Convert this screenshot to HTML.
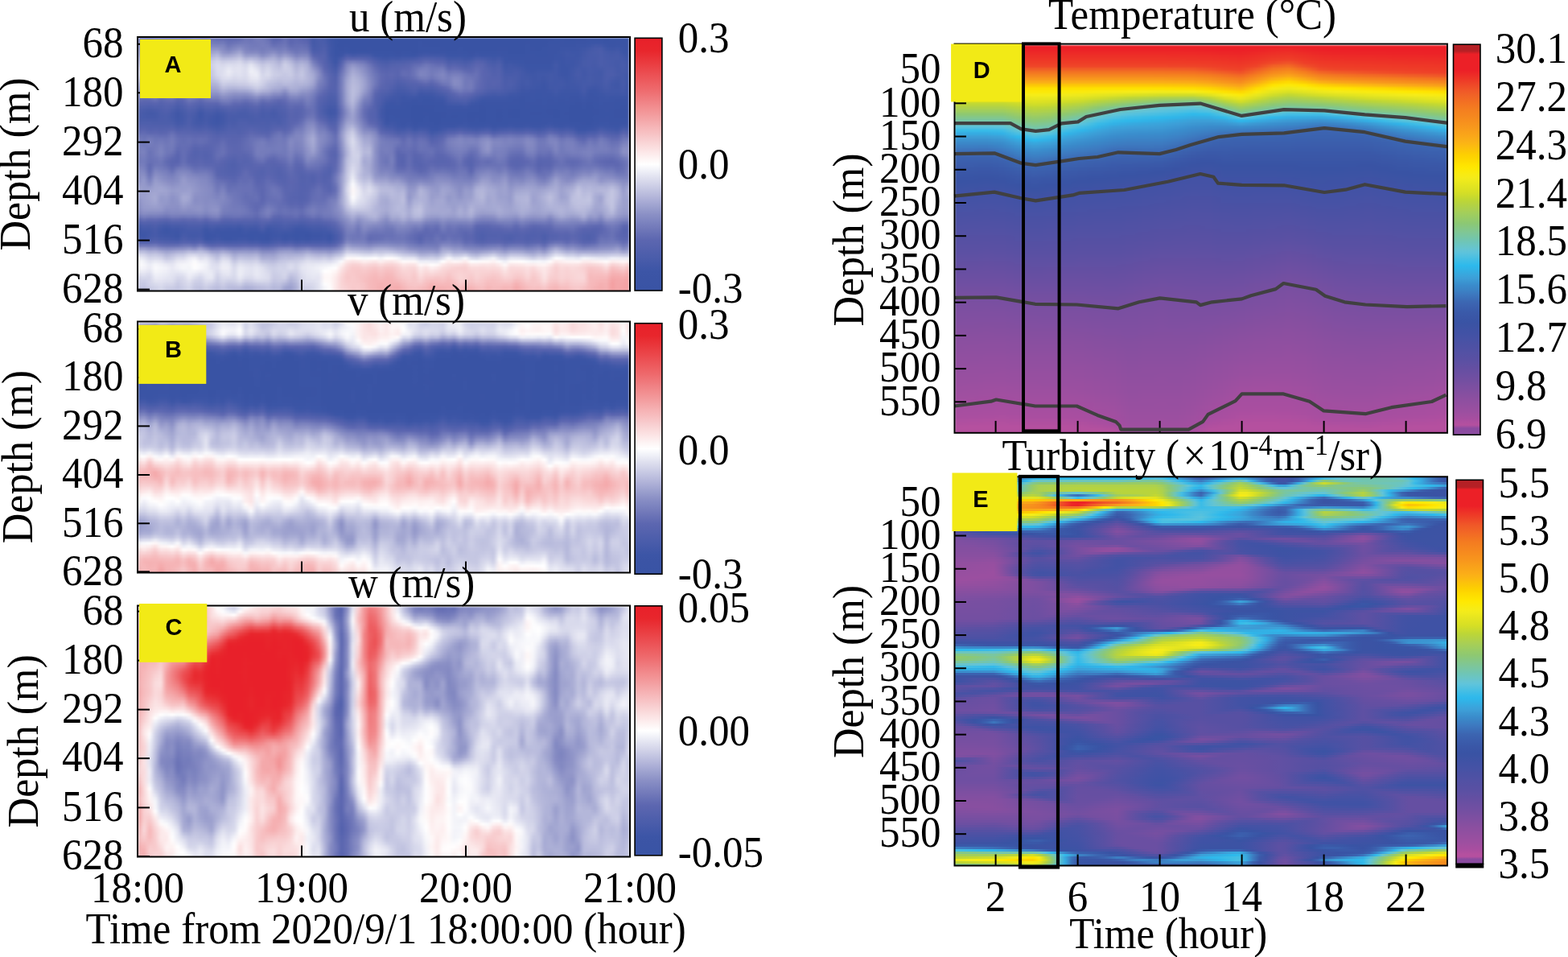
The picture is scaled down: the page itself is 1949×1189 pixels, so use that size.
<!DOCTYPE html>
<html><head><meta charset="utf-8"><title>Figure</title>
<style>
html,body{margin:0;padding:0;background:#fff}
body{width:1949px;height:1189px;position:relative;overflow:hidden}
.hm{position:absolute;overflow:hidden}
.hm i{display:block;width:100%}
</style></head><body>
<div class="hm" style="left:172px;top:47px;width:610px;height:313.5px"><div style="filter:blur(0.8px);"><i style="height:4px;background:linear-gradient(90deg,#6c75b7,#666fb4,#5f69b2,#656eb4,#666fb4,#636cb3,#626bb3,#636cb3,#5f68b1,#606ab2,#6b74b7,#646db4,#626bb3,#6c74b7,#676fb5,#666eb4,#616bb2,#626bb3,#656eb4,#6f77b8,#6c74b7,#757cbb,#737bbb,#6a72b6,#5a65af,#5c66b0,#6871b6,#5b65b0,#5e68b1,#5b65b0,#5663ae,#4459a8,#4b5dab,#485caa,#3e56a7,#3a54a5,#3953a4,#3953a4,#3953a4,#3953a4,#3953a4,#3953a4,#3953a4,#3953a4,#3953a4,#3953a4,#3953a4,#3953a4,#3953a4,#3953a4,#3953a4,#3953a4,#3953a4,#3953a4,#3953a4,#3953a4,#3953a4,#3953a4,#3953a4,#3953a4,#3953a4,#3953a4,#3953a4,#3953a4,#3953a4,#3953a4,#3953a4,#3953a4,#3953a4,#3953a4,#3953a4,#3953a4,#3953a4,#3a53a4,#3a54a5,#3a54a5,#3a53a4,#3953a4,#3a53a4,#3a53a4,#3b54a5,#3a54a5,#3a54a5,#3953a4,#3a54a5,#3a54a5,#3a54a5,#3953a4)"></i><i style="height:4px;background:linear-gradient(90deg,#7279ba,#6b74b7,#626cb3,#6a73b6,#676fb5,#626bb3,#6871b6,#656eb4,#616ab2,#646db3,#6b73b7,#6a73b6,#6770b5,#747cbb,#7078b9,#727aba,#666fb5,#6b73b7,#6f77b9,#737aba,#6f77b9,#737aba,#757cbb,#6f77b9,#5f69b1,#646db4,#6b73b7,#5c66b0,#616bb2,#5f69b2,#5b65b0,#4459a8,#4a5daa,#4a5dab,#3f57a7,#3a54a5,#3953a4,#3953a4,#3953a4,#3953a4,#3953a4,#3953a4,#3953a4,#3953a4,#3953a4,#3953a4,#3953a4,#3953a4,#3953a4,#3953a4,#3a54a5,#3953a4,#3953a4,#3953a4,#3953a4,#3953a4,#3953a4,#3953a4,#3953a4,#3953a4,#3953a4,#3953a4,#3953a4,#3953a4,#3953a4,#3953a4,#3953a4,#3953a4,#3953a4,#3a53a4,#3953a4,#3953a4,#3953a4,#3a54a5,#3a54a5,#3b54a5,#3a54a5,#3a54a5,#3b54a5,#3b54a5,#3b55a6,#3b55a6,#3b55a6,#3a54a5,#3a54a5,#3b54a5,#3a54a5,#3a54a5)"></i><i style="height:4px;background:linear-gradient(90deg,#777ebc,#7179ba,#6871b5,#7078b9,#6972b6,#646db4,#7078b9,#6a72b6,#656eb4,#6972b6,#6f77b9,#747bbb,#7279ba,#8086c1,#7e85c0,#7e85c0,#6e76b8,#777ebc,#7d84bf,#787fbd,#737bbb,#737aba,#767dbc,#747bbb,#6871b6,#6c74b7,#7078b9,#616bb2,#656eb4,#666fb5,#616bb2,#455aa9,#4a5daa,#4d5eab,#4157a7,#3a54a5,#3953a4,#3a53a4,#3953a4,#3953a4,#3953a4,#3953a4,#3953a4,#3953a4,#3953a4,#3953a4,#3953a4,#3953a4,#3953a4,#3953a4,#3a54a5,#3a53a4,#3953a4,#3953a4,#3953a4,#3953a4,#3953a4,#3953a4,#3953a4,#3953a4,#3953a4,#3953a4,#3953a4,#3953a4,#3953a4,#3953a4,#3953a4,#3953a4,#3953a4,#3a54a5,#3953a4,#3953a4,#3953a4,#3b54a5,#3b54a5,#3b54a5,#3b54a5,#3b54a5,#3c55a6,#3c55a6,#3e56a7,#4359a8,#4358a8,#3b55a6,#3b54a5,#3b55a6,#3b54a5,#3a54a5)"></i><i style="height:4px;background:linear-gradient(90deg,#7c82be,#767ebc,#7078b9,#747bbb,#6c74b7,#6972b6,#767dbc,#6f77b9,#6a72b6,#7077b9,#7a81be,#8187c1,#8389c2,#8f94c8,#9195c8,#858bc3,#7980bd,#8389c2,#8d92c7,#7d83bf,#777ebc,#787fbd,#757cbb,#7980bd,#777ebc,#727aba,#787fbd,#6b73b7,#6871b6,#6c74b7,#6770b5,#485baa,#4b5dab,#5060ac,#4158a8,#3a54a5,#3a53a4,#3a54a5,#3953a4,#3a53a4,#3953a4,#3a53a4,#3953a4,#3953a4,#3953a4,#3953a4,#3953a4,#3953a4,#3953a4,#3953a4,#3a54a5,#3a54a5,#3a54a5,#3a54a5,#3a53a4,#3953a4,#3953a4,#3a54a5,#3953a4,#3953a4,#3953a4,#3953a4,#3953a4,#3953a4,#3a53a4,#3a53a4,#3953a4,#3953a4,#3953a4,#3a54a5,#3a53a4,#3953a4,#3a54a5,#3b54a5,#3b54a5,#3c55a6,#3d55a6,#3c55a6,#3d55a6,#3f57a7,#4459a8,#485baa,#4a5caa,#4057a7,#3d56a6,#4057a7,#3b55a6,#3b54a5)"></i><i style="height:4px;background:linear-gradient(90deg,#8187c1,#7d84bf,#7b82be,#7b82be,#737aba,#737aba,#7e84c0,#777ebc,#7279ba,#787fbd,#888dc4,#9398ca,#989ccc,#9ea2cf,#a5a9d3,#9094c8,#888dc4,#9499ca,#a1a5d0,#868bc3,#8388c2,#848ac2,#7a80bd,#8288c1,#888dc4,#7c83bf,#858ac3,#7a80bd,#6f77b9,#757cbb,#7279ba,#4f5fac,#4f5fac,#5361ad,#4158a8,#3a54a5,#3b54a5,#3c55a6,#3a54a5,#3b54a5,#3b54a5,#3b54a5,#3a54a5,#3a54a5,#3a54a5,#3a54a5,#3a53a4,#3a54a5,#3a54a5,#3953a4,#3b54a5,#3b55a6,#3b54a5,#3b54a5,#3b54a5,#3a54a5,#3a54a5,#3b54a5,#3a54a5,#3a53a4,#3b54a5,#3a54a5,#3a54a5,#3a54a5,#3b54a5,#3a54a5,#3953a4,#3953a4,#3953a4,#3a54a5,#3a54a5,#3a54a5,#3a54a5,#3b54a5,#3b54a5,#3d56a6,#4057a7,#3e56a7,#3e56a7,#4258a8,#475ba9,#495caa,#4c5dab,#455aa9,#4359a8,#455aa9,#3c55a6,#3b55a6)"></i><i style="height:4px;background:linear-gradient(90deg,#8a8fc5,#878cc4,#898ec5,#888ec4,#7d83bf,#7e85c0,#878cc4,#8288c2,#7c82be,#8489c2,#9a9ecd,#a8abd4,#adb0d6,#adb0d7,#b8bbdc,#a0a4d0,#a0a4d0,#a9acd4,#b4b7da,#979bcb,#989dcc,#989dcc,#868cc3,#9196c9,#9da1cf,#8a8fc5,#999dcc,#8c91c6,#7c82bf,#8288c1,#7f86c0,#5964af,#5462ae,#5663ae,#4258a8,#3b54a5,#3d55a6,#4b5dab,#4459a9,#475baa,#475ba9,#455aa9,#3c55a6,#3b55a6,#3b54a5,#3b55a6,#3b54a5,#3c55a6,#3b55a6,#3b55a6,#4157a7,#4459a9,#4258a8,#4158a8,#4157a7,#3c55a6,#3b55a6,#3c55a6,#3b55a6,#3b54a5,#3e56a7,#3c55a6,#3c55a6,#3b55a6,#3c55a6,#3b54a5,#3a54a5,#3a54a5,#3a54a5,#3b54a5,#3b54a5,#3a54a5,#3a54a5,#3b54a5,#3b55a6,#3d55a6,#4057a7,#3f57a7,#3e56a7,#4459a8,#485baa,#485caa,#4b5dab,#475baa,#465aa9,#485baa,#4057a7,#3c55a6)"></i><i style="height:4px;background:linear-gradient(90deg,#979ccc,#9498ca,#9ba0ce,#a2a6d1,#898ec4,#8a8fc5,#9296c9,#8f94c8,#868bc3,#9296c9,#a9acd4,#b9bbdc,#bcbede,#bdc0df,#c8cae4,#b7badc,#b9bcdd,#bec0df,#c7c9e3,#b0b3d8,#b6b9db,#afb2d8,#9ea2cf,#a9acd4,#adb1d7,#9da1ce,#b0b3d8,#a3a7d1,#8e92c7,#969acb,#9094c8,#6770b5,#5a65af,#5663ae,#455aa9,#3b55a6,#485baa,#5b65b0,#5a65af,#5a65af,#5763af,#5261ad,#485baa,#4258a8,#4057a7,#4359a8,#4258a8,#455aa9,#465aa9,#485baa,#4e5eac,#5261ad,#5060ac,#4e5eac,#4d5eab,#4359a8,#4359a8,#4459a8,#4057a7,#4158a8,#4a5daa,#485baa,#4459a8,#4057a7,#4459a8,#3b55a6,#3b54a5,#3b54a5,#3b54a5,#3b54a5,#3b54a5,#3b54a5,#3b54a5,#3b54a5,#3c55a6,#3c55a6,#3f56a7,#3f56a7,#3f57a7,#455aa9,#485baa,#485baa,#4c5dab,#485baa,#475ba9,#475ba9,#4459a9,#3e56a7)"></i><i style="height:4px;background:linear-gradient(90deg,#a4a7d2,#a1a4d0,#adb0d6,#bcbfde,#979bcb,#989ccc,#9ca0ce,#9da1cf,#9195c8,#a0a4d0,#b6b8db,#c7c9e4,#c8cae4,#cacce5,#d5d6ea,#cbcde5,#cfd1e7,#d0d2e8,#d7d8eb,#c6c8e3,#d2d3e9,#c4c6e2,#b5b8db,#bec0df,#bbbddd,#adb0d6,#c4c6e2,#b6b9db,#a0a4d0,#a9acd5,#a0a4d0,#777ebc,#626bb3,#5763ae,#495caa,#3c55a6,#5261ad,#7279ba,#7980bd,#747bbb,#6d75b8,#5f69b1,#5361ad,#4b5dab,#485caa,#4d5eab,#4e5fac,#4f5fac,#5261ad,#5663ae,#5964af,#616bb2,#5c66b0,#5964af,#5864af,#4c5dab,#4e5fac,#4c5eab,#485baa,#4c5eab,#5562ae,#5361ad,#4b5dab,#465ba9,#4b5dab,#3d55a6,#3d56a6,#3c55a6,#3b55a6,#3b54a5,#3b54a5,#3b54a5,#3b54a5,#3b54a5,#4057a7,#3c55a6,#3e56a7,#3e56a7,#4157a7,#475ba9,#485baa,#475ba9,#4c5dab,#495caa,#475baa,#465aa9,#475baa,#4157a7)"></i><i style="height:4px;background:linear-gradient(90deg,#aeb2d7,#abafd6,#babddd,#cfd1e8,#a4a7d2,#a2a6d1,#a4a7d2,#a8abd4,#9a9fcd,#acafd6,#c0c3e0,#d2d3e9,#cecfe7,#ced0e7,#dadbed,#d7d8eb,#dddfef,#dbdced,#dfe0ef,#d4d6ea,#e5e6f2,#d4d5ea,#c4c6e2,#cdcfe6,#c3c5e2,#b8badc,#ced0e7,#c2c4e1,#acb0d6,#b6b9db,#abaed6,#848ac2,#6c74b7,#5964af,#4d5eab,#4157a7,#5a65b0,#8187c1,#9195c8,#878cc4,#7e84bf,#6d75b8,#5b66b0,#5261ad,#4f5fac,#5462ad,#5563ae,#5763ae,#5a65af,#626cb3,#666fb5,#7078b9,#6972b6,#646db4,#656eb4,#5462ae,#5864af,#5462ae,#4f5fac,#5462ae,#5c66b0,#5a65af,#505fac,#4b5dab,#5060ac,#3f57a7,#4258a8,#3f57a7,#3d56a6,#3b55a6,#3b55a6,#3b55a6,#3b55a6,#3b55a6,#4359a8,#3c55a6,#3d56a6,#3e56a7,#4258a8,#475ba9,#485baa,#465aa9,#4b5dab,#495caa,#485baa,#455aa9,#495caa,#4258a8)"></i><i style="height:4px;background:linear-gradient(90deg,#b9bbdc,#b4b7da,#c1c4e1,#d8d9ec,#b0b3d8,#a8abd4,#a9acd4,#afb2d8,#a3a7d2,#b5b7da,#cbcde5,#d9daec,#cdcfe7,#cbcde5,#dbdced,#dbddee,#e6e7f3,#dfe0ef,#e2e3f1,#d9dbed,#ecedf6,#e0e1f0,#cbcde5,#d4d6ea,#c8cae4,#c0c2e0,#cecfe7,#c8cae4,#b3b5d9,#bec0df,#b0b3d8,#9296c9,#797fbd,#5c66b0,#5060ac,#455aa9,#626bb3,#898ec4,#9ea2cf,#9398ca,#878cc4,#757cbb,#636cb3,#5764af,#5462ae,#5864af,#5864af,#5c66b0,#5e67b1,#6972b6,#737bbb,#787fbd,#6f77b9,#6f77b8,#727aba,#5d67b0,#626bb3,#5e68b1,#5763ae,#5965af,#616bb3,#5b66b0,#5462ad,#4f5fac,#5261ad,#4258a8,#4459a8,#4459a8,#4157a7,#3c55a6,#3c55a6,#3c55a6,#3c55a6,#3c55a6,#4258a8,#3c55a6,#3c55a6,#4057a7,#455aa9,#4459a9,#475baa,#455aa9,#475ba9,#4a5caa,#4a5caa,#455aa9,#485baa,#4258a8)"></i><i style="height:4px;background:linear-gradient(90deg,#c1c3e0,#bbbede,#c6c8e3,#dddeee,#babddd,#acb0d6,#adb0d6,#b4b7da,#aaadd5,#bcbede,#d3d5ea,#dddeee,#cbcde5,#c6c8e3,#d9daec,#dddeee,#ebecf5,#e0e1f0,#e2e3f1,#dbdced,#eff0f7,#e9eaf4,#d0d1e8,#d9dbed,#cbcde5,#c6c8e3,#cacce5,#cacce5,#b7badb,#c3c5e1,#b2b5d9,#9ea2cf,#8489c2,#626bb3,#5462ad,#4a5caa,#6972b6,#8e93c7,#a7aad3,#9ca0ce,#8d92c6,#7a81be,#6972b6,#5c66b0,#5964af,#5b66b0,#5964af,#636cb3,#616ab2,#6d75b8,#7d83bf,#7c82bf,#727aba,#767dbc,#7c83bf,#6a72b6,#6e76b8,#6c74b7,#616bb2,#5f68b1,#666fb4,#5b65b0,#5663ae,#5160ad,#5462ad,#455aa9,#455aa9,#485baa,#4359a8,#3e56a7,#3d55a6,#3f57a7,#3f57a7,#4057a7,#4258a8,#3c55a6,#3c55a6,#4158a8,#475ba9,#4258a8,#475ba9,#4459a9,#4359a8,#4b5dab,#4b5dab,#465aa9,#475ba9,#4258a8)"></i><i style="height:4px;background:linear-gradient(90deg,#c3c5e1,#bbbddd,#c5c7e2,#dbdced,#bcbfde,#aeb1d7,#afb2d8,#b4b7da,#adb0d7,#bec1df,#d5d6ea,#d9dbed,#c9cae4,#c5c7e2,#d6d8eb,#dedfef,#e8e8f3,#dcdeee,#e0e1f0,#dadbed,#ebebf5,#ecedf6,#d4d6ea,#dbdced,#cccee6,#c9cbe4,#c5c7e3,#cacce5,#bbbddd,#c5c7e3,#b3b6da,#a6a9d3,#898ec5,#6971b6,#5864af,#4e5fac,#7078b9,#9499ca,#aeb1d7,#a4a7d2,#9398ca,#7f85c0,#6d76b8,#606ab2,#5b66b0,#5e68b1,#5864af,#646db4,#626bb3,#6d75b8,#7e85c0,#7c83bf,#737aba,#7b81be,#8187c1,#737bbb,#7a80bd,#787fbd,#6d75b8,#6770b5,#6971b6,#5b65b0,#5864af,#5361ad,#5462ae,#485baa,#485baa,#4a5caa,#4459a9,#4158a7,#3f57a7,#4158a8,#4158a8,#4359a8,#4258a8,#3d55a6,#3c55a6,#4258a8,#485baa,#4258a8,#465aa9,#4459a8,#4359a8,#4c5dab,#4c5dab,#475ba9,#455aa9,#4057a7)"></i><i style="height:4px;background:linear-gradient(90deg,#bbbddd,#aeb1d7,#bec0df,#d2d4e9,#b2b5d9,#a8acd4,#adb0d6,#acafd6,#a9add5,#b7badb,#cbcde6,#d1d3e8,#c3c5e1,#c0c2e0,#cdcfe6,#dbdced,#dee0ef,#d7d8eb,#dbdced,#d7d9eb,#e6e6f2,#e8e9f4,#d6d7eb,#d3d5e9,#c8cae4,#c3c5e1,#c3c5e2,#c5c7e2,#babcdd,#c1c3e1,#b5b7da,#a7abd4,#868cc3,#6d75b8,#5965af,#5260ad,#747bbb,#9ca0ce,#b3b6d9,#aaaed5,#9a9ecd,#8389c2,#7078b9,#616ab2,#5b65b0,#5c66b0,#5663ae,#5c66b0,#5f69b1,#6770b5,#747cbb,#777ebc,#6d75b8,#777ebc,#7f85c0,#777ebc,#8389c2,#8086c0,#7178b9,#6e76b8,#6870b5,#5b66b0,#5763ae,#5562ae,#5562ae,#4a5caa,#4b5dab,#4a5daa,#4459a9,#4359a8,#4057a7,#4158a8,#4057a7,#4459a8,#4258a8,#4057a7,#3d56a6,#4158a8,#465aa9,#4359a8,#475ba9,#4459a8,#4459a8,#4c5dab,#485caa,#4459a8,#465aa9,#3f57a7)"></i><i style="height:4px;background:linear-gradient(90deg,#adb0d6,#9a9ecd,#b0b3d8,#c3c5e2,#a2a6d1,#9ca0ce,#a4a8d2,#9da1ce,#9fa3d0,#a9add5,#bcbede,#c4c6e2,#b8bbdc,#b7badb,#bfc2e0,#d4d5ea,#d2d4e9,#cfd1e8,#d3d4e9,#d2d3e9,#dddeee,#e0e1f0,#d3d4e9,#c7c9e4,#c0c3e0,#babddd,#bfc1df,#bdc0df,#b5b8db,#babcdd,#b2b5d9,#a5a8d2,#8086c0,#6e76b8,#5965af,#5361ad,#757dbc,#a1a5d1,#b6b9db,#afb2d7,#9ea2cf,#868cc3,#7179ba,#5f69b2,#5964af,#5864af,#5160ad,#5562ae,#5964af,#5c66b0,#646db4,#6b73b7,#606ab2,#6c74b7,#777ebc,#767dbc,#878cc4,#8389c2,#7179ba,#737aba,#666fb4,#5c66b0,#5663ae,#5763ae,#5663ae,#4b5dab,#4e5eab,#4a5caa,#4359a8,#455aa9,#4057a7,#4157a7,#3e56a6,#4359a8,#4158a8,#4258a8,#3e56a7,#4158a7,#4459a8,#445aa9,#465ba9,#4459a8,#4459a9,#4b5dab,#4459a9,#4158a7,#475ba9,#3d56a6)"></i><i style="height:4px;background:linear-gradient(90deg,#9da1cf,#888dc4,#a1a5d1,#b3b6da,#9296c9,#9094c8,#9a9ecd,#8d92c6,#9397c9,#9ca0ce,#acafd6,#b3b6d9,#abaed5,#adb0d6,#b2b5d9,#cacce5,#c5c7e3,#c5c7e2,#c8cae4,#c9cae4,#d2d3e9,#d7d9eb,#cdcfe7,#bdc0df,#b8bbdc,#b1b4d9,#b6b9db,#b6b8db,#b0b3d8,#b1b4d8,#abafd6,#9ea2cf,#7980bd,#6c74b7,#5964af,#5462ad,#767dbc,#a4a8d2,#b9bbdc,#b2b5d9,#a0a4d0,#888dc4,#7078b9,#5d67b0,#5763ae,#5562ae,#4d5eab,#4f5fac,#5462ad,#5562ae,#5763ae,#5c66b0,#5663ae,#5f68b1,#6c74b7,#7078b9,#858bc3,#8389c2,#7179ba,#757cbb,#646db4,#5c66b0,#5562ae,#5763ae,#5562ae,#4c5dab,#4e5fac,#495caa,#4258a8,#455aa9,#4057a7,#3f57a7,#3c55a6,#4258a8,#4158a8,#4359a8,#3f57a7,#4057a7,#4258a8,#455aa9,#455aa9,#4258a8,#4459a8,#495caa,#4158a8,#3f57a7,#475baa,#3c55a6)"></i><i style="height:4px;background:linear-gradient(90deg,#8f94c8,#8086c0,#9398ca,#a6a9d3,#868bc3,#888dc4,#9296c9,#8288c1,#878cc4,#9398ca,#9ea2cf,#9ea2cf,#9a9fcd,#a3a6d1,#a7aad3,#bdbfde,#b6b9db,#b5b8da,#b9bbdc,#b9bcdd,#c2c4e1,#cdcfe6,#c2c4e1,#b7badc,#aeb1d7,#a9add5,#a4a7d2,#afb2d7,#abafd6,#a5a9d3,#a0a4d0,#9297c9,#747bbb,#666fb5,#5763ae,#5562ae,#777ebc,#a5a8d2,#bbbddd,#b3b6d9,#9ea2cf,#868bc3,#6a72b6,#5a65af,#5663ae,#5160ad,#495caa,#4a5daa,#4f5fac,#5261ad,#4e5eab,#5160ad,#4e5fac,#5562ae,#5c66b0,#656eb4,#7a81be,#7e85c0,#7179ba,#747bbb,#626cb3,#5b65b0,#5462ad,#5462ad,#5361ad,#4c5dab,#4b5dab,#475ba9,#4157a7,#4258a8,#3f57a7,#3e56a7,#3c55a6,#4158a7,#4258a8,#4158a8,#3f56a7,#3f57a7,#4057a7,#465aa9,#4057a7,#3f56a7,#4258a8,#475ba9,#4258a8,#4057a7,#465aa9,#3c55a6)"></i><i style="height:4px;background:linear-gradient(90deg,#8389c2,#787fbd,#868bc3,#989ccc,#7b82be,#8187c1,#8a8fc5,#787fbd,#7d84bf,#8b90c5,#9095c8,#898ec4,#8a8fc5,#999dcc,#9a9ecd,#adb0d6,#a4a8d2,#a0a4d0,#a3a7d2,#a3a7d2,#abafd6,#bbbede,#b0b3d8,#abaed5,#9ea2cf,#9ca0ce,#8c91c6,#a3a7d1,#a2a6d1,#969bcb,#9397c9,#858ac3,#6c75b7,#5f69b1,#5462ae,#5462ae,#767dbc,#a4a8d2,#bcbfde,#b2b5d9,#999ecd,#8187c1,#616ab2,#5562ae,#5361ad,#4c5dab,#455aa9,#465aa9,#4a5caa,#4e5fac,#455aa9,#485baa,#475ba9,#4d5eab,#5361ad,#5964af,#6a72b6,#737bbb,#6b73b7,#6c74b7,#5b66b0,#5663ae,#4f5fac,#4d5eab,#4e5eac,#4a5caa,#475ba9,#4459a8,#3e56a6,#3e56a7,#3d55a6,#3c55a6,#3c55a6,#3e56a7,#4258a8,#3e56a7,#3d56a6,#3e56a6,#3e56a7,#455aa9,#3c55a6,#3c55a6,#4057a7,#4459a8,#4158a8,#4158a8,#4459a9,#3c55a6)"></i><i style="height:4px;background:linear-gradient(90deg,#7980bd,#7078b9,#7a81be,#888dc4,#7179ba,#7980bd,#8086c0,#6d75b8,#737bbb,#8288c1,#8389c2,#7980bd,#7e84bf,#8b90c6,#8a8fc5,#9a9fcd,#9397c9,#8c91c6,#8d92c7,#8b90c6,#9398ca,#a3a7d2,#969acb,#959acb,#888dc4,#878cc4,#7980bd,#9196c9,#9297c9,#868cc3,#878cc3,#7a81be,#646db4,#5964af,#5060ac,#5261ad,#747cbb,#a3a7d1,#bcbfde,#aeb1d7,#9095c8,#7b81be,#5a65af,#5060ac,#4d5eab,#475ba9,#4258a8,#4158a8,#4459a9,#485caa,#3e56a7,#4057a7,#4057a7,#465aa9,#4a5caa,#5261ad,#5a65af,#646db4,#6069b2,#5c66b0,#5361ad,#4e5eab,#485baa,#465aa9,#475ba9,#455aa9,#4057a7,#3f57a7,#3c55a6,#3c55a6,#3c55a6,#3b55a6,#3c55a6,#3c55a6,#3f57a7,#3c55a6,#3c55a6,#3c55a6,#3c55a6,#4258a8,#3b54a5,#3b55a6,#3d56a6,#4057a7,#4057a7,#3f57a7,#4158a8,#3c55a6)"></i><i style="height:4px;background:linear-gradient(90deg,#6d75b8,#676fb5,#6c74b7,#777ebc,#656eb4,#6d75b8,#7279ba,#5f69b2,#6770b5,#777ebd,#757cbb,#6c74b7,#737bbb,#7c83bf,#7b82be,#898ec4,#848ac2,#7c83bf,#7d84bf,#787fbd,#7f85c0,#898ec4,#7b82be,#7e84c0,#747bbb,#7178b9,#6c74b7,#7f85c0,#8086c0,#787fbd,#7f85c0,#737bbb,#5c66b0,#5462ae,#4d5eab,#4f5fac,#737bbb,#a2a6d1,#bbbede,#a6aad3,#848ac2,#757cbb,#5763ae,#4e5eac,#475baa,#4258a8,#4057a7,#3d55a6,#3f57a7,#3f57a7,#3c55a6,#3b55a6,#3c55a6,#4057a7,#4158a8,#4d5eab,#5361ad,#5764af,#5663ae,#5160ad,#495caa,#4258a8,#4057a7,#3f57a7,#4057a7,#3f57a7,#3c55a6,#3c55a6,#3b54a5,#3b55a6,#3c55a6,#3b55a6,#3c55a6,#3b55a6,#3c55a6,#3b55a6,#3c55a6,#3b54a5,#3b54a5,#3e56a7,#3b54a5,#3b54a5,#3c55a6,#3d56a6,#3c55a6,#3c55a6,#3c55a6,#3b54a5)"></i><i style="height:4px;background:linear-gradient(90deg,#626bb3,#5d67b0,#5d67b1,#666fb5,#5a65af,#616bb2,#636cb3,#5663ae,#5b65b0,#6c75b7,#666fb5,#5d67b0,#6871b5,#6c74b7,#6b74b7,#7980bd,#777ebd,#6d75b8,#6e76b8,#666fb5,#6e76b8,#757dbc,#656eb4,#6b74b7,#636cb3,#5d67b0,#626bb3,#7178b9,#7179ba,#6c74b7,#7980bd,#6e76b8,#5864af,#5160ac,#4a5daa,#4d5eab,#727aba,#a1a5d0,#b9bcdd,#9da1ce,#7980bd,#6f77b9,#5462ae,#4c5dab,#4258a8,#3f56a7,#3f57a7,#3c55a6,#3c55a6,#3b54a5,#3b55a6,#3a54a5,#3b54a5,#3c55a6,#3c55a6,#485baa,#4c5dab,#4e5fac,#4f5fac,#475ba9,#4158a8,#3b55a6,#3c55a6,#3c55a6,#3c55a6,#3c55a6,#3b55a6,#3b54a5,#3a54a5,#3b55a6,#3b55a6,#3b54a5,#3b55a6,#3b54a5,#3b55a6,#3b54a5,#3b55a6,#3b54a5,#3a54a5,#3c55a6,#3a54a5,#3b54a5,#3c55a6,#3c55a6,#3b55a6,#3b54a5,#3b54a5,#3b54a5)"></i><i style="height:4px;background:linear-gradient(90deg,#5964af,#5763ae,#5562ae,#5964af,#5462ae,#5964af,#5864af,#4f5fac,#5462ae,#616ab2,#5a65af,#5462ae,#5b66b0,#5c66b0,#5b65b0,#6871b5,#6972b6,#5f68b1,#5f69b1,#5964af,#5f69b1,#666fb4,#5864af,#5d66b0,#5864af,#5562ae,#5b65b0,#666fb5,#656eb4,#636cb3,#737bbb,#6a73b7,#5663ae,#4e5eac,#485baa,#4a5daa,#7078b9,#9ca0ce,#b4b7da,#9398ca,#7078b9,#6871b6,#5361ad,#4a5caa,#3d56a6,#3c55a6,#3e56a6,#3b54a5,#3b54a5,#3a54a5,#3b54a5,#3a54a5,#3a54a5,#3b54a5,#3b54a5,#4258a8,#4459a8,#455aa9,#485baa,#3e56a6,#3c55a6,#3a54a5,#3b54a5,#3b54a5,#3b54a5,#3b54a5,#3b54a5,#3b54a5,#3a54a5,#3b54a5,#3b54a5,#3b54a5,#3b55a6,#3b54a5,#3b54a5,#3a54a5,#3b54a5,#3a54a5,#3a53a4,#3b54a5,#3a53a4,#3a54a5,#3b55a6,#3b54a5,#3b54a5,#3a54a5,#3a54a5,#3a54a5)"></i><i style="height:4px;background:linear-gradient(90deg,#5361ad,#5060ac,#4e5eac,#5160ad,#5160ac,#5562ae,#5261ad,#495caa,#4f5fac,#5864af,#5462ad,#4c5dab,#5462ad,#5462ae,#5160ad,#5764af,#5a65af,#5763ae,#5562ae,#5261ad,#5763ae,#5a65af,#5160ad,#5562ae,#5060ac,#5160ad,#5663ae,#606ab2,#5c66b0,#5d67b1,#6c74b7,#6871b6,#5462ae,#4b5dab,#4459a8,#475ba9,#6b73b7,#9499ca,#adb0d7,#8c91c6,#6b73b7,#5f69b2,#5361ad,#465ba9,#3b55a6,#3b55a6,#3b55a6,#3b54a5,#3a54a5,#3953a4,#3953a4,#3a53a4,#3a53a4,#3a54a5,#3a54a5,#3c55a6,#3c55a6,#3c55a6,#3e56a7,#3b54a5,#3b54a5,#3a53a4,#3a54a5,#3a54a5,#3a54a5,#3b54a5,#3a54a5,#3a54a5,#3a54a5,#3b54a5,#3a54a5,#3a54a5,#3b54a5,#3a54a5,#3a54a5,#3a54a5,#3a54a5,#3953a4,#3953a4,#3a54a5,#3953a4,#3a54a5,#3b54a5,#3b54a5,#3b54a5,#3a54a5,#3a53a4,#3a54a5)"></i><i style="height:4px;background:linear-gradient(90deg,#4e5fac,#4a5caa,#475ba9,#4a5caa,#4e5eac,#5260ad,#4c5eab,#4459a9,#4a5daa,#5261ad,#4e5fac,#4459a8,#4c5eab,#4d5eab,#485baa,#4d5eab,#5261ad,#5160ac,#4e5fac,#4c5eab,#5160ad,#5462ad,#4c5dab,#4f5fac,#4a5caa,#4f5fac,#5261ad,#5c66b0,#5864af,#5a65af,#666fb4,#6870b5,#5462ad,#495caa,#4157a7,#4459a9,#666fb5,#8c91c6,#a6aad3,#868bc3,#676fb5,#5965af,#5462ad,#4459a8,#3b54a5,#3b54a5,#3b54a5,#3a54a5,#3a54a5,#3953a4,#3953a4,#3953a4,#3953a4,#3a54a5,#3a54a5,#3b54a5,#3b54a5,#3b54a5,#3b54a5,#3a54a5,#3a54a5,#3953a4,#3a54a5,#3a54a5,#3a53a4,#3a54a5,#3a53a4,#3953a4,#3a54a5,#3a54a5,#3a54a5,#3a54a5,#3a54a5,#3a53a4,#3953a4,#3a54a5,#3a54a5,#3953a4,#3953a4,#3953a4,#3953a4,#3a53a4,#3a54a5,#3b54a5,#3a54a5,#3a53a4,#3953a4,#3a53a4)"></i><i style="height:4px;background:linear-gradient(90deg,#4c5dab,#475ba9,#4459a8,#455aa9,#4c5eab,#4f5fac,#485baa,#4057a7,#475ba9,#4e5fac,#4a5caa,#3e56a7,#475baa,#475ba9,#4158a8,#455aa9,#4c5dab,#4c5eab,#495caa,#495caa,#4d5eab,#505fac,#495caa,#4b5dab,#465aa9,#4d5eab,#505fac,#5a65af,#5663ae,#5a65af,#656eb4,#6a72b6,#5562ae,#4a5daa,#4057a7,#4459a8,#656eb4,#898ec5,#a1a5d1,#8389c2,#656eb4,#5663ae,#5462ae,#4359a8,#3a54a5,#3b54a5,#3b54a5,#3a54a5,#3a54a5,#3953a4,#3953a4,#3a53a4,#3953a4,#3953a4,#3a53a4,#3b54a5,#3a54a5,#3a54a5,#3a54a5,#3953a4,#3953a4,#3953a4,#3a54a5,#3a54a5,#3953a4,#3a54a5,#3953a4,#3953a4,#3a54a5,#3a54a5,#3a53a4,#3a53a4,#3a54a5,#3a53a4,#3953a4,#3a54a5,#3a53a4,#3953a4,#3953a4,#3953a4,#3953a4,#3a53a4,#3a54a5,#3a54a5,#3a54a5,#3a53a4,#3953a4,#3a53a4)"></i><i style="height:4px;background:linear-gradient(90deg,#4b5dab,#475baa,#465aa9,#465aa9,#4b5dab,#4c5eab,#475baa,#4057a7,#455aa9,#4d5eab,#475ba9,#3e56a7,#465aa9,#4358a8,#3e56a7,#4258a8,#4a5caa,#495caa,#495caa,#495caa,#4a5daa,#4d5eab,#495caa,#4a5daa,#485baa,#4b5dab,#505fac,#5964af,#5763ae,#5b66b0,#6b73b7,#6e76b8,#5864af,#5060ac,#455aa9,#485caa,#6971b6,#8d92c7,#9ea2cf,#8489c2,#6770b5,#5763ae,#5462ae,#4459a9,#3b54a5,#3b55a6,#3b54a5,#3a54a5,#3a54a5,#3953a4,#3953a4,#3a54a5,#3953a4,#3953a4,#3a53a4,#3a54a5,#3a53a4,#3a54a5,#3a54a5,#3953a4,#3a53a4,#3953a4,#3a54a5,#3a54a5,#3953a4,#3a54a5,#3a53a4,#3953a4,#3a54a5,#3a54a5,#3a54a5,#3a54a5,#3a54a5,#3a54a5,#3953a4,#3a54a5,#3a54a5,#3953a4,#3953a4,#3953a4,#3953a4,#3a54a5,#3a54a5,#3b54a5,#3a54a5,#3a53a4,#3953a4,#3a54a5)"></i><i style="height:4px;background:linear-gradient(90deg,#4c5eab,#4a5daa,#4a5caa,#495caa,#4c5dab,#4c5eab,#495caa,#4158a8,#455aa9,#4e5fac,#455aa9,#4057a7,#465aa9,#4158a8,#3e56a7,#4258a8,#4a5caa,#485caa,#4c5eab,#4c5dab,#4a5daa,#4c5dab,#4b5dab,#4b5dab,#4b5dab,#4b5dab,#5160ad,#5965af,#5964af,#616bb2,#757cbb,#777ebc,#6069b2,#5763ae,#4b5dab,#4e5eac,#6f77b9,#9599ca,#9fa3cf,#878cc4,#6d75b8,#5964af,#5663ae,#475ba9,#3b54a5,#3c55a6,#3b55a6,#3b54a5,#3b54a5,#3953a4,#3953a4,#3a54a5,#3953a4,#3953a4,#3a54a5,#3a54a5,#3a54a5,#3a54a5,#3b54a5,#3a53a4,#3a54a5,#3953a4,#3a54a5,#3a54a5,#3a53a4,#3a54a5,#3a54a5,#3a54a5,#3a54a5,#3a54a5,#3a54a5,#3a54a5,#3b54a5,#3b54a5,#3a54a5,#3a54a5,#3a54a5,#3953a4,#3953a4,#3953a4,#3953a4,#3a54a5,#3b54a5,#3b54a5,#3a54a5,#3a54a5,#3a54a5,#3b54a5)"></i><i style="height:4px;background:linear-gradient(90deg,#4f5fac,#4e5fac,#4e5fac,#4d5eab,#4d5eab,#4d5eab,#4c5eab,#4459a9,#475baa,#4f5fac,#455aa9,#4359a8,#485baa,#4158a8,#3f57a7,#4359a8,#4b5dab,#4a5caa,#4f5fac,#4f5fac,#4c5eab,#4d5eab,#4e5eab,#4c5eab,#4f5fac,#4c5eab,#5261ad,#5a65af,#5d67b1,#6871b6,#7e85c0,#8187c1,#6a72b6,#6069b2,#5160ad,#5361ad,#777ebc,#9ea2cf,#a4a8d2,#8d92c6,#747bbb,#5f68b1,#5964af,#4b5dab,#3c55a6,#4057a7,#3c55a6,#3b54a5,#3c55a6,#3a53a4,#3a54a5,#3b54a5,#3a54a5,#3953a4,#3b54a5,#3b54a5,#3b54a5,#3b54a5,#3c55a6,#3a54a5,#3a54a5,#3a54a5,#3b54a5,#3a54a5,#3a54a5,#3a54a5,#3b54a5,#3b54a5,#3b54a5,#3b54a5,#3b54a5,#3b54a5,#3b54a5,#3c55a6,#3b54a5,#3b54a5,#3b54a5,#3a54a5,#3a54a5,#3a53a4,#3953a4,#3b54a5,#3b55a6,#3c55a6,#3b54a5,#3b54a5,#3b54a5,#3c55a6)"></i><i style="height:4px;background:linear-gradient(90deg,#5361ad,#5361ad,#5160ad,#5160ad,#5160ac,#5160ad,#5261ad,#4a5caa,#4d5eab,#5160ac,#4a5caa,#485baa,#4c5dab,#465aa9,#4359a8,#475ba9,#4e5fac,#4d5eab,#5060ac,#5160ad,#5160ad,#5060ac,#4f5fac,#4e5fac,#5361ad,#5361ad,#5462ae,#5c66b0,#6770b5,#7077b9,#858bc3,#8a8fc5,#7279ba,#6b73b7,#5864af,#5663ae,#7f85c0,#a7abd4,#b2b5d9,#959acb,#7b81be,#6c74b7,#626bb3,#4f5fac,#4359a8,#4459a9,#3e56a7,#3c55a6,#3f57a7,#3b54a5,#3c55a6,#3c55a6,#3b54a5,#3a54a5,#3c55a6,#3c55a6,#3c55a6,#4057a7,#3f57a7,#3c55a6,#3c55a6,#3c55a6,#3e56a7,#3b54a5,#3c55a6,#3c55a6,#3e56a7,#3c55a6,#3c55a6,#3e56a7,#3c55a6,#3c55a6,#3e56a6,#4258a8,#3d56a6,#3c55a6,#3e56a7,#3c55a6,#3b54a5,#3a54a5,#3a54a5,#3c55a6,#3f57a7,#3d56a6,#3c55a6,#3b55a6,#4057a7,#3f57a7)"></i><i style="height:4px;background:linear-gradient(90deg,#5864af,#5a65af,#5562ae,#5763ae,#5562ae,#5663ae,#5a65af,#5160ad,#5462ad,#5562ae,#5060ac,#4f5fac,#5261ad,#4d5eab,#485caa,#4c5dab,#5160ad,#5160ac,#5160ad,#5462ad,#5763af,#5462ae,#5261ad,#5160ad,#5864af,#5c66b0,#5864af,#616ab2,#727aba,#777ebc,#8b90c5,#9397c9,#787fbd,#747cbb,#616ab2,#5964af,#878dc4,#b0b3d8,#c1c3e0,#9fa3d0,#8389c2,#7c83bf,#7179ba,#5663ae,#4d5eab,#4c5dab,#4459a8,#4459a9,#495caa,#3f57a7,#455aa9,#4459a8,#3c55a6,#3c55a6,#4258a8,#485baa,#485baa,#4d5eab,#495caa,#465ba9,#4459a8,#475baa,#4b5dab,#4158a8,#465aa9,#485baa,#4a5daa,#475ba9,#475baa,#4b5dab,#475baa,#4459a8,#485baa,#4f5fac,#4a5caa,#455aa9,#495caa,#455aa9,#3c55a6,#3c55a6,#3e56a7,#4157a7,#495caa,#445aa9,#4258a8,#3f57a7,#4c5eab,#485baa)"></i><i style="height:4px;background:linear-gradient(90deg,#5f69b2,#626bb3,#5b66b0,#5e67b1,#5a65af,#5c66b0,#666fb5,#5a65af,#5b65b0,#5a65af,#5864af,#5763ae,#5964af,#5462ad,#4f5fac,#5261ad,#5462ae,#5462ae,#5361ad,#5763ae,#5d67b0,#5965af,#5763ae,#5663ae,#616bb2,#6a73b6,#5f69b1,#6a72b6,#7c82bf,#7d84bf,#9095c8,#9b9fce,#7f85c0,#7d84bf,#6c75b8,#5e68b1,#9095c8,#babcdd,#cdcfe6,#a9acd4,#8e93c7,#8d92c6,#8086c0,#5f69b2,#5864af,#5562ae,#4d5eab,#4e5fac,#5462ad,#4c5eab,#5261ad,#4e5eac,#4158a8,#465ba9,#4c5eab,#5562ae,#5663ae,#5e67b1,#5763af,#5663ae,#5261ad,#5864af,#5a65b0,#4f5fac,#5562ae,#5764af,#5965af,#5663ae,#5663ae,#5a65af,#5663ae,#5060ac,#5462ae,#5f69b1,#5864af,#5160ad,#5663ae,#5261ad,#455aa9,#455aa9,#4b5dab,#4b5dab,#5562ae,#4f5fac,#4c5dab,#495caa,#5964af,#5261ad)"></i><i style="height:4px;background:linear-gradient(90deg,#6b74b7,#6871b5,#6972b6,#666fb5,#646db4,#646db4,#6f77b9,#626bb3,#606ab2,#616bb2,#5e67b1,#5f68b1,#5f69b1,#5964af,#5562ae,#5864af,#5763af,#5763ae,#5763ae,#5b66b0,#646db3,#626bb3,#616bb2,#5c66b0,#6a73b6,#7179ba,#6871b6,#767ebc,#8086c0,#8288c1,#979bcb,#a3a7d2,#868bc3,#8187c1,#727aba,#646db4,#9397c9,#bfc1e0,#d4d6ea,#b3b6da,#9b9fcd,#9a9ecd,#898ec4,#6d75b8,#656eb4,#616ab2,#5a65af,#5764af,#5f69b1,#5663ae,#5c66b0,#5864af,#4b5dab,#5060ac,#5763ae,#656eb4,#6971b6,#747bbb,#6c74b7,#6b73b7,#646eb4,#7078b9,#757cbb,#626bb3,#6a73b6,#6b73b7,#6e76b8,#6972b6,#6a72b6,#7179ba,#6b73b7,#5d67b1,#616bb3,#737bbb,#6c74b7,#5d67b0,#656eb4,#606ab2,#5361ad,#5160ac,#5864af,#5763ae,#646db4,#5b65b0,#5663ae,#5562ae,#666fb4,#6069b2)"></i><i style="height:4px;background:linear-gradient(90deg,#747cbb,#6b74b7,#757cbb,#6c75b7,#6e76b8,#6b73b7,#747bbb,#666fb5,#636cb3,#666fb5,#626bb3,#656eb4,#636cb3,#5b66b0,#5964af,#5e68b1,#5a65af,#5964af,#5a65af,#606ab2,#6871b6,#6c74b7,#6f77b9,#666fb5,#6f77b9,#747bbb,#6f77b9,#8187c1,#8086c0,#8489c2,#9a9ecd,#a8abd4,#898ec5,#8187c1,#737bbb,#666fb5,#9095c8,#c1c3e0,#dadbed,#bdbfdf,#a4a8d2,#a2a5d1,#8e93c7,#767dbc,#6f77b9,#6d75b8,#6971b6,#5f68b1,#6a73b6,#5e68b1,#676fb5,#616bb2,#5361ad,#5864af,#5f69b1,#747bbb,#7980bd,#8187c1,#7a81be,#7c82be,#777ebc,#8389c2,#888ec4,#7980bd,#7c83bf,#7980bd,#7c82bf,#777ebc,#787fbd,#8187c1,#7c83bf,#6d75b8,#6e76b8,#7d84bf,#7b81be,#6c74b7,#737bbb,#7078b9,#6069b2,#5a65b0,#6971b6,#636cb3,#727aba,#6972b6,#5f69b1,#5f69b2,#7078b9,#7179ba)"></i><i style="height:4px;background:linear-gradient(90deg,#7980bd,#6d76b8,#7980bd,#6f77b9,#747bbb,#6e76b8,#757cbb,#6770b5,#636db3,#6770b5,#616ab2,#656eb4,#616bb2,#5c66b0,#5c66b0,#646db4,#5b65b0,#5a65af,#5c66b0,#636cb3,#6972b6,#727aba,#767ebc,#6d75b8,#7178b9,#747cbb,#7279ba,#858bc3,#7d83bf,#8288c1,#999dcc,#a7abd4,#898ec5,#7e84bf,#7178b9,#656eb4,#8c91c6,#bfc1df,#dbdded,#c3c5e1,#aaadd5,#a7aad3,#8f93c7,#7980bd,#747cbb,#737aba,#6f77b9,#636cb3,#6d75b8,#626cb3,#6b73b7,#6870b5,#5964af,#5c66b0,#646db4,#787fbd,#7e84bf,#8389c2,#7d84bf,#7e85c0,#7c82bf,#898ec5,#9196c9,#8288c1,#8288c1,#7d83bf,#7d84bf,#7980bd,#7a80be,#868bc3,#8288c1,#7179ba,#727aba,#7e84c0,#8187c1,#727aba,#7980bd,#787fbd,#6b74b7,#646db4,#737bbb,#6c74b7,#787fbd,#7179ba,#6770b5,#6a72b6,#787fbd,#7d84bf)"></i><i style="height:4px;background:linear-gradient(90deg,#7a81be,#737bbb,#747bbb,#7279ba,#7980bd,#7078b9,#747cbb,#646db4,#656eb4,#646db4,#5b66b0,#5f69b2,#5c66b0,#5b66b0,#5f69b1,#6770b5,#5d67b0,#5b66b0,#5d67b0,#636cb3,#6971b6,#757cbb,#777ebc,#7179ba,#727aba,#767dbc,#737aba,#8489c2,#7b81be,#8086c0,#959acb,#a4a8d2,#888dc4,#787fbd,#6a72b6,#606ab2,#898ec4,#babddd,#d8daec,#c6c8e3,#afb2d8,#aeb1d7,#8e93c7,#787fbd,#767dbc,#747cbb,#6972b6,#646db4,#6b73b7,#636cb3,#6b74b7,#6972b6,#6069b2,#5f69b1,#666fb4,#767dbc,#7c82be,#8086c1,#7b82be,#777ebc,#787fbd,#898ec5,#9398ca,#8086c0,#8086c1,#7c83bf,#7980bd,#757cbb,#757cbb,#8489c2,#8288c1,#7179ba,#7279ba,#787fbd,#8187c1,#737bbb,#7980bd,#7a80be,#7179ba,#6e76b8,#787fbd,#727aba,#7980bd,#757cbb,#6d75b8,#7078b9,#8288c1,#848ac2)"></i><i style="height:4px;background:linear-gradient(90deg,#7a81be,#787fbd,#6e76b8,#737aba,#7c83bf,#7078b9,#727aba,#606ab2,#656eb4,#616ab2,#5763ae,#5a65af,#5964af,#5a65b0,#626bb3,#6971b6,#5f68b1,#5c66b0,#5d67b0,#626cb3,#676fb5,#767dbc,#767dbc,#747cbb,#737bbb,#767dbc,#727aba,#8187c1,#787fbd,#7d83bf,#9195c8,#a0a4d0,#858bc3,#7179ba,#626cb3,#5c66b0,#858bc3,#b5b8da,#d5d6ea,#c9cbe5,#b4b6da,#b4b7da,#8d92c6,#777ebc,#777ebc,#757cbb,#626bb3,#646db4,#6770b5,#616ab2,#6a73b6,#6971b6,#6770b5,#606ab2,#656eb4,#727aba,#787fbd,#7c83bf,#787fbd,#6e76b8,#7279ba,#878cc4,#9397c9,#7c83bf,#7c83bf,#7980bd,#727aba,#6f77b9,#6f77b9,#8086c0,#7f86c0,#6f77b9,#7077b9,#7179ba,#8086c0,#727aba,#787fbd,#7a80be,#757cbb,#767dbc,#7b81be,#767dbc,#787fbd,#777ebc,#7178b9,#757cbb,#8a8fc5,#898ec4)"></i><i style="height:4px;background:linear-gradient(90deg,#7980bd,#7b82be,#6972b6,#737aba,#7d84bf,#7078b9,#6e76b8,#5c66b0,#666fb5,#5d67b1,#5462ae,#5764af,#5663ae,#5965af,#646db4,#6972b6,#5f68b1,#5c66b0,#5c66b0,#5f69b1,#646db3,#767dbc,#757cbb,#747bbb,#7078b9,#737bbb,#7179ba,#7e84bf,#737aba,#797fbd,#8d92c7,#9a9ecd,#8288c1,#6d75b8,#5d67b0,#5964af,#8187c1,#b1b4d9,#d2d3e9,#cdcfe6,#b5b8db,#b7badb,#8c91c6,#757cbb,#767dbc,#757cbb,#5c66b0,#616ab2,#646db4,#5d67b0,#656eb4,#666fb5,#6972b6,#5e68b1,#626bb3,#6c74b7,#737bbb,#787fbd,#7279ba,#656eb4,#6c74b7,#8288c2,#8c91c6,#787fbd,#7a80be,#777ebc,#6b74b7,#6871b6,#6871b6,#7a81be,#7b82be,#6b73b7,#6c74b7,#6971b6,#7b82be,#7179ba,#747cbb,#787fbd,#767dbc,#7a81be,#7c83bf,#767dbc,#747cbb,#747bbb,#7078b9,#757cbb,#8b90c6,#8a8fc5)"></i><i style="height:4px;background:linear-gradient(90deg,#767dbc,#797fbd,#6a72b6,#7179ba,#7a81be,#6d75b8,#666fb4,#5964af,#666fb5,#5b65b0,#5462ad,#5864af,#5462ae,#5864af,#666fb4,#666fb5,#5c66b0,#5965af,#5b66b0,#5a65af,#606ab2,#737bbb,#757cbb,#6d75b8,#6770b5,#6e76b8,#7077b9,#7c82bf,#6b74b7,#727aba,#8b90c6,#8f94c8,#7d84bf,#6d76b8,#5c66b0,#5764af,#7d84bf,#b2b5d9,#d1d2e8,#d0d2e8,#b1b4d9,#b2b5d9,#8d92c7,#747bbb,#7279ba,#777ebc,#5a65af,#5a65af,#646db4,#5a65af,#5d67b0,#646db4,#656eb4,#5b66b0,#5c66b0,#646db4,#6e76b8,#757cbb,#6871b6,#5e68b1,#6871b6,#7980bd,#7d84bf,#747bbb,#7980bd,#747bbb,#656eb4,#616bb2,#626bb3,#7179ba,#747bbb,#636db3,#666fb5,#626bb3,#737aba,#7178b9,#6e76b8,#7279ba,#7279ba,#777ebc,#7b82be,#6f77b9,#6b74b7,#6a73b7,#6972b6,#6f77b9,#8187c1,#868bc3)"></i><i style="height:4px;background:linear-gradient(90deg,#747bbb,#757dbc,#6871b6,#6d75b8,#747bbb,#666fb5,#5e68b1,#5864af,#666fb5,#5a65af,#5663ae,#5965af,#5563ae,#5864af,#636cb3,#5e68b1,#5864af,#5562ae,#5a65af,#5764af,#5c66b0,#6b73b7,#6f77b9,#636cb3,#5e68b1,#676fb5,#6a72b6,#777ebc,#656eb4,#6b73b7,#858bc3,#8288c1,#777ebc,#6d75b8,#5d67b1,#5a65af,#8086c1,#b8bbdc,#cfd1e8,#ced0e7,#aaadd5,#adb0d7,#8c91c6,#747bbb,#6e76b8,#7980bd,#5a65b0,#5864af,#656eb4,#5864af,#5a65af,#616bb2,#6069b2,#5a65af,#5a65af,#5d67b1,#666fb5,#7078b9,#6069b2,#5965af,#646db4,#6f77b9,#6d75b8,#6d75b8,#757cbb,#6f77b9,#5f69b1,#5c66b0,#5d67b1,#666fb5,#6b74b7,#5c66b0,#5d67b1,#5d67b0,#6972b6,#6e76b8,#666fb5,#6770b5,#6971b6,#7077b9,#747cbb,#6871b6,#646db4,#626bb3,#616ab2,#6770b5,#737bbb,#7b82be)"></i><i style="height:4px;background:linear-gradient(90deg,#737bbb,#747bbb,#666fb4,#6b73b7,#6f77b9,#616bb2,#5a65af,#5964af,#6770b5,#5b65b0,#5964af,#5c66b0,#5864af,#5864af,#5e68b1,#5964af,#5462ae,#5261ad,#5864af,#5663ae,#5965af,#636cb3,#6770b5,#5b65b0,#5964af,#5f68b1,#646db4,#7179ba,#5f69b2,#646db4,#7d84bf,#777ebc,#7078b9,#6a72b6,#5c66b0,#5c66b0,#8389c2,#bcbfde,#d0d2e8,#cccee6,#a5a9d3,#a9add5,#8b90c6,#747bbb,#6c75b7,#7980bd,#5b65b0,#5763ae,#656eb4,#5763ae,#5864af,#5e68b1,#5c66b0,#5965af,#5965af,#5b65b0,#606ab2,#6c74b7,#5b66b0,#5763ae,#616ab2,#6870b5,#636cb3,#6972b6,#7078b9,#6b74b7,#5b66b0,#5965af,#5b65b0,#5f68b1,#656eb4,#5864af,#5965af,#5a65af,#636cb3,#6b73b7,#616bb2,#5f69b2,#626bb3,#6a72b6,#6f77b8,#656eb4,#6069b2,#5d67b0,#5c66b0,#6069b2,#6971b6,#737bbb)"></i><i style="height:4px;background:linear-gradient(90deg,#787fbd,#767dbc,#616ab2,#6e76b8,#6e76b8,#646db4,#5b65b0,#6069b2,#6c74b7,#626cb3,#5b66b0,#5f69b1,#5b66b0,#5b66b0,#5a65af,#5763ae,#5261ad,#5060ac,#5663ae,#5864af,#5864af,#5c66b0,#5c66b0,#5965af,#5763ae,#5964af,#5e68b1,#6a73b6,#5b66b0,#5d67b0,#737aba,#6f77b9,#6a73b7,#626cb3,#5864af,#5e68b1,#858bc3,#bec0df,#d5d6ea,#cbcce5,#a8acd4,#a7aad3,#8b90c6,#767dbc,#7178b9,#777ebc,#5c66b0,#5964af,#656eb4,#5864af,#5763ae,#5c66b0,#5f69b1,#5b66b0,#5c66b0,#5c66b0,#5f69b1,#6972b6,#5d67b1,#5663ae,#636cb3,#6971b6,#6871b5,#6a72b6,#6b74b7,#6c74b7,#5c66b0,#5965af,#5b66b0,#616bb2,#626cb3,#5763ae,#5a65af,#5a65af,#666fb4,#6972b6,#656eb4,#606ab2,#646db4,#6a73b7,#6d75b8,#6a72b6,#646db4,#6069b2,#6069b2,#5e68b1,#666fb4,#737aba)"></i><i style="height:4px;background:linear-gradient(90deg,#7f85c0,#7a81be,#606ab2,#767ebc,#737bbb,#6c74b7,#5f69b1,#6f77b8,#757cbb,#6e76b8,#636cb3,#666fb5,#646eb4,#616bb2,#5864af,#5663ae,#5261ad,#5160ad,#5663ae,#5b66b0,#5964af,#5964af,#5763ae,#5964af,#5663ae,#5562ae,#5b66b0,#656eb4,#5a65af,#5964af,#6871b6,#6770b5,#646eb4,#5b66b0,#5462ae,#606ab2,#888dc4,#c0c2e0,#dadbed,#cacce5,#adb0d6,#a6aad3,#8d91c6,#7980bd,#777ebc,#777ebc,#606ab2,#5f68b1,#6870b5,#5c66b0,#5964af,#5d67b0,#666fb4,#626bb3,#636db3,#616bb2,#626bb3,#6b73b7,#656eb4,#5864af,#6b73b7,#7078b9,#737aba,#7078b9,#6d75b8,#737aba,#636cb3,#5d67b1,#616bb2,#6a73b7,#666fb5,#5a65af,#5f69b1,#5e68b1,#6e76b8,#6d76b8,#6e76b8,#676fb5,#6b74b7,#7179ba,#7179ba,#757cbb,#6e76b8,#6871b6,#6972b6,#626bb3,#6870b5,#767dbc)"></i><i style="height:4px;background:linear-gradient(90deg,#858bc3,#8187c1,#636cb3,#8187c1,#7b82be,#767dbc,#6971b6,#7c83bf,#8086c0,#7b82be,#6e76b8,#6f77b9,#6f77b9,#6971b6,#5864af,#5663ae,#5361ad,#5361ad,#5764af,#616ab2,#5a65af,#5763ae,#5462ae,#5965af,#5663ae,#5361ad,#5965af,#616bb2,#5964af,#5663ae,#5e68b1,#5e68b1,#5f68b1,#5764af,#5261ad,#646db4,#8b90c6,#c2c4e1,#dfe0ef,#c8cae4,#b0b3d8,#a8acd4,#8f94c7,#7e84c0,#7f85c0,#7a81be,#6972b6,#6971b6,#6c74b7,#646db4,#5d67b0,#616bb2,#6d75b8,#6c74b7,#6d76b8,#6a73b6,#6770b5,#6f77b8,#6d75b8,#5c66b0,#747bbb,#7a81be,#7f85c0,#7980bd,#737aba,#7c83bf,#6c75b8,#6770b5,#6a73b6,#757cbb,#6e76b8,#6069b2,#666fb5,#6770b5,#7a81be,#767dbc,#787fbd,#6f77b9,#767dbc,#7c82be,#7a81be,#8288c1,#7a81be,#747bbb,#747cbb,#6971b6,#6c74b7,#7a81be)"></i><i style="height:4px;background:linear-gradient(90deg,#878cc3,#898ec4,#6a72b6,#898ec5,#848ac2,#7c82bf,#747cbb,#8389c2,#8a8fc5,#8489c2,#7b82be,#7980bd,#7980bd,#7077b9,#5a65af,#5764af,#5562ae,#5462ae,#5b65b0,#636cb3,#5c66b0,#5663ae,#5562ae,#5a65b0,#5763ae,#5361ad,#5763ae,#5f69b1,#5965af,#5462ad,#5864af,#5663ae,#5b65b0,#5462ae,#5462ad,#6d75b8,#9498ca,#c5c7e3,#e5e6f2,#c5c7e3,#b0b3d8,#afb2d8,#9196c9,#868cc3,#888dc4,#7f86c0,#777fbd,#747bbb,#7178b9,#6c74b7,#6770b5,#6871b6,#737bbb,#7980bd,#797fbd,#757cbb,#6e76b8,#747bbb,#7178b9,#666fb4,#7b82be,#858bc3,#888dc4,#8187c1,#7d84bf,#868cc3,#747bbb,#7078b9,#7279ba,#7c82bf,#7980bd,#6972b6,#6971b6,#7179ba,#868bc3,#8086c0,#7d83bf,#767dbc,#8086c0,#888dc4,#868bc3,#8f94c8,#848ac2,#7f85c0,#7e84c0,#737bbb,#727aba,#7b81be)"></i><i style="height:4px;background:linear-gradient(90deg,#878cc4,#9095c8,#7179ba,#9297c9,#8a8fc5,#8288c1,#7d83bf,#868cc3,#9398ca,#8a8fc5,#868bc3,#8187c1,#7f85c0,#747cbb,#606ab2,#5c66b0,#5965af,#5764af,#5f69b2,#636cb3,#616ab2,#5763ae,#5763af,#5e67b1,#5964af,#5462ae,#5663ae,#5d67b1,#5a65af,#5361ad,#5663ae,#5361ad,#5a65af,#5462ad,#5763ae,#7179ba,#989ccc,#c7c8e3,#ebecf5,#c8c9e4,#b5b8da,#b8bbdc,#999dcc,#9297c9,#9398ca,#888dc4,#878cc3,#7f85c0,#757cbb,#747bbb,#737aba,#7279ba,#7980bd,#8389c2,#8288c1,#7f85c0,#767ebc,#7980bd,#757dbc,#7179b9,#8187c1,#9095c8,#9095c8,#868bc3,#868cc3,#9095c8,#7b82be,#7b82be,#7980bd,#8389c2,#8489c2,#747bbb,#7077b9,#7d84bf,#9398ca,#888dc4,#8187c1,#8086c1,#8d92c7,#969bcb,#9499ca,#999ecd,#898ec5,#8a8fc5,#898ec5,#8086c1,#7b82be,#7f85c0)"></i><i style="height:4px;background:linear-gradient(90deg,#898ec5,#959acb,#7b81be,#989dcc,#9095c8,#888dc4,#8489c2,#888ec4,#989ccc,#8f94c7,#8c91c6,#858bc3,#8389c2,#787fbd,#6871b6,#656eb4,#6069b2,#5b66b0,#646db4,#636cb3,#666fb4,#5964af,#5a65b0,#626cb3,#5d67b0,#5864af,#5763ae,#5d66b0,#5a65af,#5462ad,#5663ae,#5361ad,#5b65b0,#5562ae,#5964af,#7179ba,#989dcc,#c9cbe4,#f3f4f9,#d0d2e8,#bdc0df,#c4c6e2,#a6a9d3,#a0a3d0,#a0a4d0,#9599ca,#979bcb,#8b90c6,#7c82be,#7d83bf,#8187c1,#7e84bf,#8086c0,#8a8fc5,#8a8fc5,#888dc4,#8086c1,#7f85c0,#7c83bf,#7c82bf,#8a8fc5,#9b9fcd,#989ccc,#8b90c6,#8d92c7,#979bcc,#8287c1,#858bc3,#8288c1,#8c91c6,#8d92c6,#7f85c0,#7a81be,#898fc5,#9fa3cf,#9094c8,#878cc3,#8d91c6,#9ea2cf,#a3a7d1,#a2a6d1,#a1a4d0,#9094c8,#969bcb,#999dcc,#8f94c8,#858bc3,#888dc4)"></i><i style="height:4px;background:linear-gradient(90deg,#9397c9,#969acb,#868cc3,#9ca0ce,#989dcc,#9195c8,#8a8fc5,#8f94c8,#989ccc,#9498ca,#8f94c8,#888dc4,#858bc3,#7d83bf,#6c74b7,#6f77b9,#636db3,#616bb2,#6770b5,#666fb5,#6871b6,#5c66b0,#5c66b0,#656eb4,#646db4,#5c66b0,#5864af,#5c66b0,#5964af,#5462ae,#5663ae,#5763ae,#5f68b1,#5864af,#5864af,#6c74b7,#999dcc,#cfd1e7,#fcfcfe,#dcddee,#c7c9e4,#d0d2e8,#b7b9db,#acafd6,#acafd6,#a5a8d2,#a2a6d1,#9b9fce,#858bc3,#868cc3,#9498ca,#8c91c6,#898ec5,#8f94c8,#9599ca,#9296c9,#888dc4,#8389c2,#868cc3,#858bc3,#999dcc,#a5a8d2,#9fa3cf,#969acb,#9498ca,#9ca0ce,#888ec4,#8f94c8,#8e93c7,#969bcb,#959acb,#8a8fc5,#888dc4,#969bcb,#a4a8d2,#969acb,#9498ca,#9b9fcd,#adb1d7,#abaed6,#acafd6,#a9acd4,#a0a4d0,#a4a8d2,#aaadd5,#9fa3cf,#8d92c6,#979bcb)"></i><i style="height:4px;background:linear-gradient(90deg,#9ca1ce,#969bcb,#9398ca,#9ea2cf,#9fa3d0,#999ecd,#9296c9,#959acb,#979ccc,#989dcc,#9296c9,#8b90c5,#878cc4,#8187c1,#6f77b9,#787fbd,#666fb5,#6770b5,#6972b6,#6971b6,#6972b6,#5f69b1,#5d67b0,#666fb5,#6b73b7,#646db3,#5a65af,#5c66b0,#5964af,#5562ae,#5663ae,#5b66b0,#646db4,#5b65b0,#5764af,#6770b5,#999dcd,#d4d6ea,#fefafb,#e7e7f3,#d0d1e8,#dadbed,#c6c8e3,#b6b9db,#b5b8db,#b2b5d9,#aaaed5,#a9acd4,#8e93c7,#9094c8,#a7aad3,#9ca0ce,#9397c9,#9297c9,#9da1cf,#999ecd,#8f94c8,#868cc3,#9195c8,#8e93c7,#a7abd4,#aeb1d7,#a5a9d2,#9fa3d0,#989dcc,#9fa3cf,#8f94c8,#999dcc,#9b9fcd,#9fa3d0,#9da1ce,#969bcb,#989ccc,#a2a6d1,#a9acd4,#9b9fcd,#a0a4d0,#a7aad3,#bbbede,#b1b4d9,#b3b6da,#afb2d8,#afb2d7,#afb2d8,#b9bcdd,#acafd6,#9398ca,#a4a8d2)"></i><i style="height:4px;background:linear-gradient(90deg,#a2a5d1,#979ccc,#9da1cf,#a0a4d0,#a1a5d1,#9ea2cf,#959acb,#999dcc,#999dcd,#9ca0ce,#9297c9,#8c91c6,#888dc4,#8389c2,#737aba,#7e84c0,#6a72b6,#6b74b7,#6a72b6,#6971b6,#6972b6,#626bb3,#5c66b0,#666fb5,#6e76b8,#6971b6,#5b66b0,#5b66b0,#5864af,#5562ae,#5763ae,#606ab2,#6770b5,#5e68b1,#5964af,#666fb5,#9a9ecd,#d6d8eb,#fef8f8,#ededf6,#d5d6ea,#dedfef,#cdcee6,#b9bbdc,#b8badc,#b9bbdc,#afb2d8,#b2b5d9,#9398ca,#979bcc,#b2b5d9,#a6aad3,#989ccc,#9499ca,#a1a5d1,#9ca0ce,#9499ca,#888dc4,#979ccc,#959acb,#b0b3d8,#b3b6da,#a8abd4,#a5a9d2,#9b9fcd,#9fa3d0,#9498ca,#a1a5d0,#a4a8d2,#a7aad3,#a0a4d0,#9fa3cf,#a4a8d2,#acafd6,#acafd6,#9da1ce,#a7aad3,#b0b3d8,#c3c5e2,#b5b8db,#b8bbdc,#b1b4d8,#b4b6da,#b7b9db,#c3c5e1,#b4b7da,#979bcc,#abaed5)"></i><i style="height:4px;background:linear-gradient(90deg,#9da1cf,#9a9ecd,#a0a4d0,#a4a7d2,#9ca0ce,#9ca0ce,#9296c9,#969bcb,#a0a4d0,#9fa3d0,#8f93c7,#8b90c6,#878dc4,#8489c2,#7980bd,#8288c1,#7179ba,#6e76b8,#6b73b7,#666fb5,#6871b5,#656eb4,#5c66b0,#666fb4,#6c75b8,#6b73b7,#5d67b0,#5965af,#5764af,#5562ae,#5864af,#626cb3,#6770b5,#616ab2,#616ab2,#6c74b7,#9ca0ce,#d2d4e9,#fefafa,#ecedf6,#d9daec,#d9daec,#cacce5,#b4b7da,#b3b6d9,#b9bcdd,#b3b6da,#b8badc,#9397c9,#9ea2cf,#b3b6d9,#aaadd5,#999dcc,#999dcc,#a2a6d1,#999dcc,#979bcb,#8b90c6,#999dcc,#989dcc,#b0b3d8,#b5b8da,#a6aad3,#a6aad3,#9b9fce,#9ea2cf,#969acb,#a8acd4,#abafd6,#adb1d7,#9fa3d0,#a3a6d1,#abafd6,#b6b9db,#aeb1d7,#9da1cf,#a5a9d3,#b7badc,#c5c6e2,#b9bcdd,#bec0df,#adb0d7,#aaadd5,#b9bcdd,#c5c7e2,#b5b8db,#9b9fcd,#a7abd4)"></i><i style="height:4px;background:linear-gradient(90deg,#979ccc,#9b9fce,#a0a4d0,#a6aad3,#959acb,#989dcc,#8d92c7,#9398ca,#a6a9d3,#a1a5d1,#8b90c5,#8a8fc5,#878cc3,#848ac2,#7e84c0,#848ac2,#777ebc,#6f77b9,#6b74b7,#646db4,#666fb4,#6770b5,#5c66b0,#656eb4,#6a72b6,#6b73b7,#5e68b1,#5864af,#5763ae,#5462ae,#5964af,#646db4,#676fb5,#636cb3,#6b73b7,#727aba,#9ea2cf,#ced0e7,#fffefe,#e9eaf4,#dadbed,#d2d3e9,#c5c7e2,#aeb1d7,#abafd6,#b7b9db,#b4b7da,#bbbddd,#9196c9,#a3a7d2,#b1b4d8,#abafd6,#999dcc,#9da1ce,#a2a5d1,#9499ca,#989dcc,#8e93c7,#999ecd,#9b9fcd,#afb2d8,#b5b8da,#a3a7d2,#a7aad3,#9ba0ce,#9ca0ce,#969bcb,#adb1d7,#b0b3d8,#b3b5d9,#9da1cf,#a5a8d2,#b0b3d8,#bdbfde,#afb2d7,#9da1cf,#a3a7d2,#bcbede,#c3c5e1,#bcbfde,#c1c3e1,#a8acd4,#9fa3d0,#bbbddd,#c5c7e2,#b4b6da,#9ca0ce,#a2a6d1)"></i><i style="height:4px;background:linear-gradient(90deg,#9094c8,#9a9ecd,#9ea2cf,#a6a9d3,#9398ca,#959acb,#8b90c6,#9095c8,#a5a9d3,#9ea2cf,#888dc4,#8a8fc5,#868cc3,#878dc4,#8389c2,#8288c1,#7a81be,#7178b9,#6d75b8,#666fb4,#646db4,#666fb5,#5d66b0,#666fb5,#666fb5,#6870b5,#5e67b1,#5864af,#5864af,#5562ae,#5a65af,#666fb4,#666fb5,#666fb5,#747bbb,#7b81be,#a1a5d0,#cbcde5,#f7f8fb,#e2e3f1,#d9dbec,#cccee6,#c0c2e0,#abaed5,#a6aad3,#b3b6d9,#b4b7da,#bdbfde,#969acb,#abafd6,#b1b4d9,#abaed6,#9ca0ce,#a3a6d1,#a4a8d2,#959acb,#9b9fce,#969bcb,#9ca0ce,#a1a4d0,#acafd6,#b1b4d8,#a1a5d0,#a7aad3,#9fa3cf,#9ea2cf,#979bcc,#adb0d6,#b1b4d9,#b4b7da,#9ca0ce,#a3a7d2,#aeb1d7,#bbbddd,#aeb1d7,#a3a7d1,#a6aad3,#bdc0df,#c0c2e0,#c0c3e0,#c2c5e1,#a8acd4,#9fa2cf,#bcbede,#c4c6e2,#b0b3d8,#9b9fce,#9da1cf)"></i><i style="height:4px;background:linear-gradient(90deg,#8c91c6,#989ccc,#9ca0ce,#a1a5d1,#969acb,#9297c9,#8c91c6,#8e93c7,#9ea2cf,#979ccc,#8a8fc5,#8c91c6,#878cc4,#8a8fc5,#878dc4,#7f85c0,#7980bd,#7279ba,#6f77b9,#6971b6,#636cb3,#616ab2,#5f69b2,#6b74b7,#6871b6,#656eb4,#606ab2,#5a65af,#5b65b0,#5864af,#606ab2,#6b74b7,#6972b6,#6b73b7,#767dbc,#8086c0,#9fa3cf,#c8c9e4,#eaebf5,#dbddee,#d4d5ea,#c9cae4,#bbbddd,#aaadd5,#a6a9d3,#b0b3d8,#b5b8da,#babcdd,#9ca0ce,#b1b4d9,#b7badb,#abaed5,#9fa3d0,#a4a7d2,#a4a7d2,#9a9fcd,#9a9fcd,#9da1cf,#9da1cf,#a7abd4,#aaadd5,#acafd6,#a2a6d1,#a6aad3,#a3a6d1,#9fa3d0,#9a9ecd,#aaadd5,#b0b3d8,#b1b4d8,#9fa2cf,#a2a6d1,#abafd6,#b6b9db,#afb2d8,#a9acd5,#a9acd4,#babddd,#c0c2e0,#bfc1df,#bdc0df,#a7aad3,#a2a6d1,#b9bbdc,#c4c6e2,#acafd6,#9b9fcd,#9da1ce)"></i><i style="height:4px;background:linear-gradient(90deg,#898fc5,#969acb,#989ccc,#9b9fcd,#969acb,#8d92c7,#8c90c6,#8b90c6,#979bcb,#9195c8,#8d92c6,#8f94c7,#878dc4,#8c91c6,#8c91c6,#7c82bf,#777ebc,#737aba,#727aba,#6d75b8,#646db4,#5f68b1,#666fb4,#737bbb,#6d75b8,#656eb4,#656eb4,#5f69b1,#606ab2,#5c66b0,#6972b6,#727aba,#6d75b8,#6f77b9,#777ebc,#8288c2,#999dcd,#c0c2e0,#d8daec,#d1d3e9,#cdcee6,#c4c6e2,#b6b8db,#abaed6,#a7abd4,#b0b3d8,#b7badc,#b7badc,#a3a6d1,#b7badb,#bdbfde,#aaaed5,#a3a6d1,#a4a8d2,#a3a7d2,#9fa3d0,#9a9ecd,#a4a8d2,#9ea2cf,#aeb1d7,#a7aad3,#a7aad3,#a3a7d2,#a6aad3,#a7aad3,#a0a4d0,#9da1ce,#a7abd4,#aeb2d7,#aeb1d7,#a1a5d0,#a1a5d1,#a9add5,#b1b4d9,#b0b3d8,#afb2d7,#abaed5,#b6b9db,#bdbfde,#bbbddd,#b6b9db,#a3a7d1,#a3a7d2,#b3b6da,#c3c5e1,#a7abd4,#9a9ecd,#9ca0ce)"></i><i style="height:4px;background:linear-gradient(90deg,#868bc3,#9296c9,#9297c9,#9397c9,#9196c9,#878cc4,#898ec5,#888dc4,#8f93c7,#8a8fc5,#8c91c6,#8f94c7,#868cc3,#8d92c7,#8f94c7,#7980bd,#767dbc,#747bbb,#747bbb,#7078b9,#6770b5,#6069b2,#6d75b8,#7a81be,#7078b9,#666fb5,#6972b6,#656eb4,#6770b5,#626cb3,#7078b9,#777ebc,#6f77b9,#737aba,#777ebc,#8389c2,#9398ca,#b6b9db,#c7c9e4,#c4c6e2,#c3c5e1,#bfc1df,#b3b6da,#acafd6,#a7aad3,#b0b3d8,#b7badc,#b6b9db,#a8abd4,#bbbede,#c0c2e0,#aaadd5,#a5a8d2,#a5a8d2,#a4a7d2,#a3a7d2,#9b9fcd,#aaadd5,#a0a4d0,#b3b6d9,#a4a7d2,#a1a5d0,#a2a6d1,#a4a8d2,#a9add5,#a2a5d1,#9fa3cf,#a4a8d2,#adb0d6,#aaadd5,#a1a5d1,#a0a4d0,#a7abd4,#aaaed5,#afb2d8,#b2b5d9,#abaed6,#b0b3d8,#b8badc,#b7badb,#adb1d7,#a0a3d0,#a1a5d0,#aeb1d7,#bec1df,#a3a6d1,#999dcc,#9a9ecd)"></i><i style="height:4px;background:linear-gradient(90deg,#7e84bf,#898ec5,#868cc3,#878cc3,#858ac3,#7e84bf,#8389c2,#8288c1,#8489c2,#8389c2,#8389c2,#878dc4,#7f86c0,#888dc4,#8a8fc5,#757cbb,#727aba,#727aba,#737aba,#6f77b9,#6a72b6,#636cb3,#7078b9,#7b81be,#6c74b7,#646eb4,#6972b6,#6770b5,#6a72b6,#636cb3,#6f77b9,#767dbc,#6e76b8,#747bbb,#767dbc,#8086c0,#8e92c7,#a9acd4,#babcdd,#b1b4d8,#b5b8db,#b9bbdc,#b5b7da,#a9acd4,#a0a4d0,#afb2d7,#b2b5d9,#b7badc,#a8acd4,#bbbede,#bec0df,#a7abd4,#a2a6d1,#a2a6d1,#a4a8d2,#a2a5d1,#9da1ce,#a9add5,#a3a6d1,#b1b4d8,#9ea2cf,#999dcc,#9a9ecd,#9ca0ce,#a7aad3,#a0a4d0,#9da1ce,#9da1cf,#a9add5,#a3a7d2,#9ca0ce,#9da1ce,#a2a6d1,#9da1cf,#a9add5,#b0b3d8,#a8acd4,#a7abd4,#aeb1d7,#b4b7da,#a3a7d2,#9ea2cf,#979bcc,#abaed5,#b5b8db,#9fa3cf,#969acb,#969acb)"></i><i style="height:4px;background:linear-gradient(90deg,#6d76b8,#7a81be,#757cbb,#767dbc,#747bbb,#6e76b8,#767dbc,#757cbb,#727aba,#747cbb,#737bbb,#7980bd,#7078b9,#7b81be,#7f85c0,#6972b6,#6871b6,#6b73b7,#6b73b7,#666fb5,#656eb4,#5f69b1,#6b73b7,#737aba,#5f69b1,#5b66b0,#616ab2,#616ab2,#656eb4,#5c66b0,#656eb4,#6d75b8,#656eb4,#6f77b9,#7078b9,#7980bd,#868cc3,#9b9fcd,#acafd6,#9da1ce,#a6a9d3,#b0b3d8,#b2b5d9,#a2a5d1,#9499ca,#a8acd4,#a8acd4,#b4b6da,#a4a7d2,#b5b8db,#b5b8db,#9ea2cf,#989ccc,#979ccc,#9da1cf,#999dcc,#979ccc,#a1a5d1,#9da1cf,#a7abd4,#9196c9,#898ec5,#8a8fc5,#8d91c6,#9ca0ce,#979bcc,#9398ca,#8f94c7,#9fa2cf,#959acb,#9094c8,#9297c9,#969acb,#898ec4,#9ca0ce,#a7abd4,#9fa3cf,#999dcc,#9fa3cf,#acafd6,#9499ca,#989ccc,#898ec4,#a3a6d1,#a6a9d3,#9599ca,#8c91c6,#8b90c5)"></i><i style="height:4px;background:linear-gradient(90deg,#5a65af,#666fb4,#5f69b2,#626bb3,#5d67b1,#5a65af,#616bb2,#616ab2,#5d67b0,#616ab2,#5f68b1,#656eb4,#5c66b0,#666fb5,#6a72b6,#5a65af,#5965af,#5c66b0,#5b66b0,#5a65af,#5a65af,#5763ae,#5e68b1,#616ab2,#5562ae,#5462ae,#5864af,#5864af,#5964af,#5462ae,#5864af,#5e67b1,#5965af,#626cb3,#646db4,#6d75b8,#7d84bf,#8e93c7,#9fa3d0,#8b90c5,#989ccc,#a1a5d1,#a6a9d3,#9599ca,#878cc4,#9ca0ce,#9b9fcd,#a8abd4,#989ccc,#a4a7d2,#a2a6d1,#8d92c6,#878dc4,#858bc3,#8f94c8,#888ec4,#8a8fc5,#8e93c7,#8d92c7,#9398ca,#7f85c0,#7a80be,#7a81be,#7c83bf,#898ec4,#868cc3,#858ac3,#7e84c0,#8b90c6,#8389c2,#7f85c0,#8187c1,#8489c2,#777ebd,#8a8fc5,#9499ca,#8d92c7,#888dc4,#8b90c5,#979ccc,#8288c1,#888dc4,#7980bd,#9296c9,#9196c9,#868bc3,#7e84c0,#7c82bf)"></i><i style="height:4px;background:linear-gradient(90deg,#4e5eac,#5562ae,#5261ad,#5562ae,#5060ac,#4d5eab,#5261ad,#5261ad,#5160ad,#5462ae,#5462ad,#5663ae,#4f5fac,#5562ae,#5562ae,#505fac,#4e5fac,#5060ac,#4f5fac,#5160ad,#5060ac,#4e5fac,#5663ae,#5261ad,#4d5eab,#4e5eac,#5261ad,#5060ac,#4f5fac,#4b5dab,#505fac,#5361ad,#5160ad,#5562ae,#5964af,#606ab2,#737aba,#868bc3,#9196c9,#7f86c0,#8f94c8,#9196c9,#9195c8,#888dc4,#7d84bf,#888dc4,#8e93c7,#969acb,#898ec5,#8b90c6,#8b90c6,#7a80bd,#787fbd,#747cbb,#8288c1,#7980bd,#7c83bf,#7b82be,#7c82be,#8086c0,#6d75b8,#6972b6,#6a72b6,#6d75b8,#757cbb,#777ebc,#767ebc,#6d75b8,#7a81be,#737aba,#6c75b7,#6f77b9,#7179ba,#6b73b7,#7b82be,#8086c1,#7d84bf,#7b82be,#7980bd,#7d83bf,#7078b9,#7279ba,#6a73b7,#7d83bf,#8086c1,#787fbd,#6b74b7,#6a73b6)"></i><i style="height:4px;background:linear-gradient(90deg,#4359a8,#4b5dab,#495caa,#4e5eab,#465ba9,#4258a8,#485baa,#475ba9,#495caa,#4c5dab,#4c5dab,#4c5eab,#455aa9,#4b5dab,#475ba9,#465ba9,#455aa9,#465aa9,#4359a8,#495caa,#475ba9,#465aa9,#505fac,#465aa9,#465ba9,#485baa,#4c5eab,#495caa,#455aa9,#4359a8,#485baa,#4a5daa,#495caa,#4c5dab,#5160ad,#5864af,#6972b6,#7f85c0,#868bc3,#757cbc,#898ec4,#848ac2,#8086c0,#7e84c0,#747cbb,#7980bd,#8389c2,#868cc3,#7f85c0,#7980bd,#7b82be,#6972b6,#6c74b7,#666fb5,#7980bd,#6d75b8,#7279ba,#6b74b7,#6d75b8,#7178b9,#5c66b0,#5b66b0,#5c66b0,#606ab2,#636cb3,#6971b6,#6a72b6,#5e68b1,#6b73b7,#646db4,#5c66b0,#5e68b1,#616bb2,#616ab2,#6e76b8,#7178b9,#7078b9,#7078b9,#6a72b6,#676fb5,#616bb2,#5e68b1,#5e68b1,#6d75b8,#747bbb,#6d75b8,#5c66b0,#5c66b0)"></i><i style="height:4px;background:linear-gradient(90deg,#3e56a7,#4459a9,#4459a8,#4a5caa,#4158a8,#3c55a6,#4158a8,#4157a7,#4459a9,#475ba9,#475ba9,#475ba9,#3d56a6,#4359a8,#3f56a7,#4057a7,#3e56a7,#3f57a7,#3c55a6,#4359a8,#4057a7,#4057a7,#495caa,#3d56a6,#4258a8,#4459a9,#475ba9,#4459a8,#3e56a7,#3e56a7,#4158a8,#4459a8,#4459a8,#455aa9,#4a5daa,#5261ad,#616ab2,#7a80bd,#7d84bf,#6e76b8,#8389c2,#7a80bd,#737bbb,#757cbc,#6e76b8,#6e76b8,#7b82be,#7c82be,#767dbc,#6c74b7,#6e76b8,#5f69b2,#656eb4,#6069b2,#727aba,#676fb5,#6b73b7,#626cb3,#636db3,#666fb5,#5663ae,#5562ae,#5663ae,#5964af,#5964af,#5d67b0,#5f68b1,#5864af,#5f68b1,#5a65af,#5562ae,#5763ae,#5864af,#5a65af,#646db4,#656eb4,#656eb4,#6871b6,#5f68b1,#5964af,#5964af,#5663ae,#5b65b0,#646db4,#6d75b8,#666fb5,#5763ae,#5864af)"></i><i style="height:4px;background:linear-gradient(90deg,#3d56a6,#4057a7,#4258a8,#485baa,#4057a7,#3d56a6,#3f57a7,#3e56a7,#455aa9,#4459a9,#4459a9,#455aa9,#3c55a6,#3e56a7,#3d56a6,#3c55a6,#3c55a6,#3c55a6,#3c55a6,#3f57a7,#3c55a6,#3c55a6,#4057a7,#3b55a6,#3f56a7,#4158a7,#3f57a7,#3f57a7,#3c55a6,#3c55a6,#3c55a6,#3f57a7,#3f57a7,#4158a8,#4258a8,#4c5eab,#5a65af,#757dbc,#767dbc,#6d75b8,#7a81be,#6e76b8,#6b73b7,#6d75b8,#6a73b6,#6a73b6,#747bbb,#747cbb,#6e76b8,#656eb4,#616ab2,#5e68b1,#616ab2,#626bb3,#6871b6,#656eb4,#666fb4,#606ab2,#5c66b0,#606ab2,#5361ad,#5160ad,#5462ad,#5562ae,#5562ae,#5663ae,#5663ae,#5462ae,#5864af,#5562ae,#5261ad,#5462ad,#5261ad,#5763ae,#5b65b0,#5d67b1,#5c66b0,#616bb2,#5a65af,#5562ae,#5462ad,#5562ae,#5d67b0,#636cb3,#6a73b6,#616ab2,#5763ae,#5864af)"></i><i style="height:4px;background:linear-gradient(90deg,#3f57a7,#3e56a7,#4359a8,#485baa,#4258a8,#4057a7,#4057a7,#3d56a6,#485baa,#4459a8,#4359a8,#465aa9,#3b55a6,#3c55a6,#3e56a7,#3c55a6,#3c55a6,#3c55a6,#3c55a6,#3d55a6,#3b55a6,#3c55a6,#3b55a6,#3b54a5,#3e56a7,#3f57a7,#3c55a6,#3d56a6,#3b55a6,#3c55a6,#3b54a5,#3d55a6,#3d55a6,#4057a7,#3c55a6,#485baa,#5663ae,#737bbb,#7078b9,#6d75b8,#747bbb,#646db4,#656eb4,#666fb5,#6971b6,#6871b6,#6e76b8,#6f77b9,#6770b5,#6069b2,#5964af,#5f69b2,#5f69b2,#6770b5,#616bb2,#676fb5,#636cb3,#616bb2,#5965af,#5d67b0,#5261ad,#4e5fac,#5361ad,#5361ad,#5462ad,#5160ad,#5060ac,#5361ad,#5562ae,#5160ad,#5160ad,#5361ad,#4d5eab,#5562ae,#5663ae,#5a65af,#5764af,#5d67b0,#5864af,#5261ad,#5060ac,#5562ae,#636cb3,#646db4,#6a73b6,#5f68b1,#5864af,#5a65af)"></i><i style="height:4px;background:linear-gradient(90deg,#465aa9,#4359a8,#485baa,#4d5eab,#475ba9,#465aa9,#4459a9,#4158a8,#4d5eab,#485baa,#475ba9,#4b5dab,#3c55a6,#3e56a6,#4258a8,#3d56a6,#3c55a6,#3d56a6,#3f57a7,#4057a7,#3c55a6,#3d56a6,#3b55a6,#3b54a5,#4157a7,#4258a8,#3c55a6,#4057a7,#3c55a6,#3e56a6,#3c55a6,#3f56a7,#3f56a7,#4258a8,#3c55a6,#485baa,#5763ae,#767ebc,#7078b9,#7078b9,#737aba,#626bb3,#656eb4,#6770b5,#6c75b7,#6b73b7,#6d75b8,#6e76b8,#666fb5,#5f69b1,#5763ae,#636cb3,#616bb2,#6c74b7,#636cb3,#6b74b7,#656eb4,#666fb4,#5a65af,#5d67b1,#5361ad,#4f5fac,#5562ae,#5562ae,#5562ae,#5160ac,#4f5fac,#5462ae,#5562ae,#5160ad,#5361ad,#5562ae,#4d5eab,#5763ae,#5864af,#5b66b0,#5763af,#5f68b1,#5965af,#5261ad,#5060ac,#5763ae,#6a73b6,#6871b6,#6d75b8,#626cb3,#5b66b0,#5f68b1)"></i><i style="height:4px;background:linear-gradient(90deg,#5462ad,#5261ad,#5462ad,#5864af,#5261ad,#5060ac,#4f5fac,#4e5fac,#5663ae,#5462ae,#5160ad,#5864af,#4a5daa,#475baa,#4c5dab,#495caa,#475ba9,#485baa,#495caa,#4a5caa,#465aa9,#485baa,#4258a8,#4258a8,#495caa,#4d5eab,#485baa,#4c5eab,#465aa9,#485caa,#475ba9,#495caa,#495caa,#4b5dab,#465aa9,#5060ac,#6069b2,#8288c2,#7b82be,#7b81be,#7a81be,#6e76b8,#737aba,#757dbc,#787fbd,#757dbc,#757cbb,#767dbc,#6d75b8,#666fb5,#5d67b1,#6971b6,#6770b5,#6d75b8,#7279ba,#767dbc,#6f77b9,#7077b9,#616ab2,#646db4,#5a65af,#5663ae,#5b65b0,#5b66b0,#5d67b0,#5763ae,#5764af,#5b65b0,#5b65b0,#5663ae,#5965af,#5c66b0,#5462ad,#626cb3,#6972b6,#6971b6,#5f69b2,#6971b6,#616ab2,#5864af,#5964af,#5e68b1,#7078b9,#7078b9,#747bbb,#7078b9,#636cb3,#6b73b7)"></i><i style="height:4px;background:linear-gradient(90deg,#6f77b9,#7078b9,#6d75b8,#7179ba,#676fb5,#636db3,#636db3,#646eb4,#6c74b7,#6e76b8,#656eb4,#767dbc,#626bb3,#5864af,#5c66b0,#5c66b0,#5864af,#5864af,#5964af,#5b65b0,#5864af,#5964af,#5361ad,#5361ad,#5864af,#5e68b1,#5c66b0,#6069b2,#5763ae,#5a65af,#5b66b0,#5964af,#5864af,#5965af,#5763ae,#5f68b1,#757cbb,#999dcc,#8e93c7,#8c91c6,#898ec5,#8287c1,#898ec4,#8c91c6,#8c91c6,#878dc4,#848ac2,#858ac3,#7a81be,#747cbb,#6e76b8,#747bbb,#727aba,#737aba,#868bc3,#858ac3,#7e84bf,#7f85c0,#7078b9,#7179ba,#6b74b7,#6770b5,#6d75b8,#6f77b9,#7279ba,#656eb4,#6b74b7,#6e76b8,#6d75b8,#646eb4,#6b73b7,#7179ba,#626bb3,#7a80be,#868bc3,#7f85c0,#747bbb,#7b81be,#727aba,#6971b6,#6c74b7,#7078b9,#7c82bf,#7d83bf,#7f86c0,#8389c2,#7078b9,#7c83bf)"></i><i style="height:4px;background:linear-gradient(90deg,#969bcb,#999dcc,#8e93c7,#9296c9,#868cc3,#8187c1,#8389c2,#878dc4,#8a8fc5,#9297c9,#888dc4,#9ca0ce,#898ec5,#787fbd,#7c82bf,#8086c1,#787fbd,#757dbc,#767dbc,#7980bd,#767dbc,#787fbd,#6d75b8,#6c75b7,#7179ba,#7d83bf,#7f85c0,#8086c0,#747cbb,#7980bd,#8086c0,#777ebc,#757cbb,#757dbc,#737bbb,#7b82be,#8d92c7,#b3b6d9,#a9acd4,#a6a9d3,#a0a4d0,#9ca0ce,#a6aad3,#a9add5,#a8abd4,#a2a6d1,#9a9ecd,#999dcc,#8c90c6,#868bc3,#8187c1,#8288c1,#8187c1,#7e84bf,#9da1ce,#9b9fcd,#9095c8,#9196c9,#858ac3,#8288c1,#8086c0,#7f85c0,#8389c2,#888dc4,#898ec4,#7c82bf,#858bc3,#858bc3,#848ac2,#7b82be,#8086c1,#888dc4,#7a80be,#9499ca,#a9acd4,#9b9fcd,#8b90c6,#9296c9,#878cc4,#8087c1,#848ac2,#858ac3,#8b90c6,#8d92c7,#9095c8,#9a9ecd,#8288c1,#9195c8)"></i><i style="height:4px;background:linear-gradient(90deg,#bec0df,#bbbede,#aeb1d7,#b3b5d9,#a9acd4,#9ea2cf,#a4a8d2,#acafd6,#aeb1d7,#babcdd,#b5b8db,#bbbede,#b2b5d9,#9fa2cf,#9b9fce,#a7aad3,#9da1ce,#9095c8,#969acb,#969bcb,#9398ca,#979bcb,#868cc3,#878cc4,#898ec5,#979bcb,#9a9fcd,#9a9fcd,#9398ca,#989ccc,#a2a6d1,#989ccc,#9498ca,#969acb,#8f94c8,#9b9fce,#aaaed5,#cdcee6,#c6c8e3,#c3c5e1,#bdbfde,#babddd,#c3c5e1,#c1c3e0,#c4c6e2,#c0c3e0,#b7b9db,#afb2d8,#a6a9d3,#a1a5d0,#9499ca,#969acb,#999dcc,#9397c9,#afb2d7,#b7badb,#a7abd4,#a9acd5,#a6aad3,#9b9fcd,#969acb,#9da1ce,#a3a7d1,#abaed6,#a3a6d1,#979bcb,#a4a8d2,#a4a7d2,#a2a6d1,#979ccc,#969bcb,#a2a6d1,#9599ca,#aeb2d7,#c4c6e2,#b9bcdd,#aaaed5,#afb2d7,#a4a7d2,#a2a6d1,#a3a7d1,#a2a5d1,#a6a9d3,#a7abd4,#abaed6,#b0b3d8,#9fa3cf,#a9add5)"></i><i style="height:4px;background:linear-gradient(90deg,#dbdced,#d4d5ea,#c4c6e2,#c9cbe4,#c2c4e1,#b3b6d9,#bcbede,#c7c9e4,#c8cae4,#d7d8eb,#d8d9ec,#cfd0e7,#d0d1e8,#bdbfde,#b1b4d9,#c4c6e2,#bbbddd,#a5a9d3,#b0b3d8,#adb1d7,#acafd6,#b0b3d8,#9b9fcd,#9da1cf,#9ca0ce,#aaadd5,#aeb1d7,#adb0d6,#adb1d7,#b0b3d8,#bcbfde,#b5b7da,#afb2d8,#b4b7da,#acafd6,#babddd,#c5c7e3,#e7e8f3,#e7e7f3,#e2e3f1,#dbdced,#dadbed,#e1e2f0,#d9daec,#e2e3f1,#e1e2f0,#d6d8eb,#cacce5,#c5c7e3,#c1c4e1,#aeb1d7,#afb2d8,#b5b8db,#aeb2d7,#c4c6e2,#d8d9ec,#c3c5e2,#c6c8e3,#ced0e7,#b9bcdd,#b2b5d9,#c0c2e0,#c6c8e3,#d0d2e8,#bec0df,#b5b8db,#c4c6e2,#c4c6e2,#c1c3e1,#b8bbdc,#afb2d7,#bdbfde,#b4b7da,#c9cbe4,#e0e1f0,#d9daec,#cacce5,#cdcfe7,#c3c5e2,#cacce5,#c7c9e3,#c4c6e2,#c5c7e2,#c6c8e3,#cbcde6,#cdcee6,#c4c6e2,#c7c9e3)"></i><i style="height:4px;background:linear-gradient(90deg,#f0f0f7,#e4e5f2,#d4d5ea,#d9daec,#d4d5ea,#c3c5e1,#cbcde6,#dbdced,#dbdced,#eaeaf5,#f0f0f8,#dddeee,#e2e3f1,#d0d2e8,#bfc1e0,#d8d9ec,#d1d2e8,#b4b7da,#c3c5e2,#bec1df,#bdbfde,#c2c4e1,#aaaed5,#acafd6,#a9acd4,#b5b8db,#bbbede,#bbbddd,#bfc1df,#c3c5e1,#cfd1e8,#cacce5,#c6c7e3,#cccee6,#c4c6e2,#d5d6ea,#e0e1f0,#fffcfc,#fef8f8,#fffcfc,#f8f9fc,#fbfbfd,#fffefe,#f4f4f9,#fffefe,#fffcfc,#f7f7fb,#e6e7f3,#e7e8f3,#e6e6f3,#cccee6,#cccee6,#d1d3e8,#cbcde6,#dfe0ef,#f9f9fc,#e4e5f2,#e8e9f4,#f7f7fb,#dadced,#d3d5e9,#e3e4f1,#e9eaf4,#f4f4f9,#dbdced,#d2d4e9,#e5e6f2,#e4e5f2,#e1e2f0,#d9daec,#cccee6,#d9daec,#d5d6ea,#e5e6f2,#fdfdfe,#f8f8fc,#ecedf6,#edeef6,#e6e7f3,#f3f4f9,#efeff7,#eaebf5,#e7e8f3,#e6e7f3,#f0f0f8,#eeeef6,#eaeaf4,#ecedf6)"></i><i style="height:4px;background:linear-gradient(90deg,#fafbfd,#f0f1f8,#e1e2f0,#e9eaf4,#e5e5f2,#d8d9ec,#dadbed,#eaeaf4,#ebebf5,#f3f3f9,#fcfcfd,#eeeef7,#edeef6,#dbdced,#ced0e7,#e5e6f2,#e0e1f0,#c4c6e2,#d5d7ea,#cfd1e8,#cdcfe6,#d2d3e9,#bfc1df,#bbbede,#b8badc,#c3c5e2,#c7c9e4,#cdcfe6,#cccde6,#d4d6ea,#dfe0ef,#dbdced,#dbdced,#dfe0ef,#dcddee,#e8e8f4,#fafafd,#fce8e9,#fbe0e2,#fbe4e5,#fdeeee,#fce9ea,#fbe4e5,#fdeff0,#fbe6e7,#fbe4e5,#fceded,#fefbfb,#fef7f8,#fef8f8,#ecedf6,#eeeff7,#ebebf5,#eaebf5,#fff,#fdeeef,#fef7f8,#fdf3f4,#fceaeb,#fefefe,#fbfbfd,#fefafa,#fef9f9,#fdf2f3,#fbfbfd,#eeeef6,#fefbfb,#fffcfc,#fffefe,#f9f9fc,#f3f4f9,#f7f7fb,#f3f3f9,#fffcfc,#fce9ea,#fdeff0,#fdf4f5,#fef5f6,#fef7f8,#fceced,#fceced,#fdf1f1,#fef5f6,#fffcfc,#fceced,#fdf0f1,#fef5f6,#fceced)"></i><i style="height:4px;background:linear-gradient(90deg,#fdfdfe,#f6f6fa,#eaebf5,#f6f6fa,#f1f1f8,#e9eaf4,#e5e5f2,#f2f2f8,#f6f6fa,#f5f6fa,#fffdfd,#f8f9fc,#f1f2f8,#e0e1f0,#dbdced,#ededf6,#e9eaf4,#d1d3e8,#e3e4f1,#dddeee,#dadbed,#dfe0ef,#d2d4e9,#c9cbe4,#c5c7e3,#ced0e7,#cfd1e7,#dadbed,#d3d5e9,#e0e1f0,#e8e8f3,#e7e8f3,#eaebf5,#edeef6,#f0f0f7,#f6f7fb,#fdf1f2,#fadadb,#f8d0d2,#f9d2d4,#fadadc,#f9d5d7,#f9d1d3,#fadbdc,#f9d3d4,#f9d2d4,#fad9db,#fce7e8,#fbe2e3,#fbe2e3,#fef9fa,#fdf3f4,#fffdfd,#fef8f9,#fce8e9,#fadfe0,#fadedf,#fadbdd,#f9d7d8,#fce7e8,#fce7e8,#fbe4e5,#fbe5e6,#fbe2e3,#fcebec,#fefafa,#fbe5e6,#fce7e8,#fce9e9,#fdeeef,#fcebec,#fdf2f2,#fef5f5,#fce9ea,#f9d7d9,#fbe0e1,#fbe0e1,#fbe3e4,#fbe1e2,#fad9db,#f9d4d6,#f9d8d9,#fadcde,#fce8e9,#f9d1d3,#f9d8d9,#fbdfe0,#f8cfd1)"></i><i style="height:4px;background:linear-gradient(90deg,#f8f8fc,#f3f3f9,#eaeaf4,#f9f9fc,#f4f5fa,#f1f1f8,#e8e8f4,#f1f1f8,#f6f7fb,#f3f4f9,#fefefe,#f8f8fc,#f0f0f7,#e2e3f1,#dedfef,#eeeef6,#ececf5,#d8d9ec,#ebecf5,#e4e5f2,#e0e1f0,#e6e7f3,#dedfef,#d1d3e9,#cccee6,#d2d4e9,#d1d3e9,#dcddee,#d3d5e9,#e3e4f1,#e9eaf4,#ebecf5,#f1f1f8,#f7f7fb,#fcfcfe,#fffdfe,#fbe6e7,#f9d2d4,#f8c9cb,#f8c9cb,#f8cfd1,#f8cacc,#f7c5c7,#f8ced0,#f7c6c8,#f7c7c9,#f8cfd1,#fadcdd,#f9d7d9,#f9d6d7,#fceced,#fbe2e4,#fdeff0,#fce8e9,#fadbdc,#f9d6d8,#f9d1d3,#f8d0d2,#f8ced0,#fadadb,#fad9db,#fad8da,#fadbdc,#fad9da,#faddde,#fceded,#fad8da,#fadadc,#fadbdc,#fbe1e2,#fad8da,#fbe5e6,#fce9ea,#fadddf,#f8ced0,#fad9da,#f9d5d7,#fadadc,#f9d7d8,#f9d1d3,#f7c6c8,#f8c9cb,#f8cdcf,#fadadb,#f7bfc1,#f7c7c9,#f8cfd1,#f6bcbe)"></i><i style="height:4px;background:linear-gradient(90deg,#edeef6,#ebebf5,#e3e4f1,#f6f6fa,#f2f2f8,#eeeef7,#e6e7f3,#e8e9f4,#edeef6,#f2f3f9,#f4f4fa,#ededf6,#edeef6,#e7e8f3,#dadbed,#e9eaf4,#e9e9f4,#d9dbec,#edeef6,#e4e5f2,#e1e2f0,#e8e9f4,#e1e2f0,#d7d8eb,#cccee6,#d1d3e9,#d4d5ea,#d0d2e8,#cfd0e7,#e0e1f0,#e8e8f4,#eaebf5,#edeef6,#fff,#fffcfc,#fef5f5,#fadee0,#f8cdcf,#f8c8ca,#f7c6c8,#f8c8ca,#f7c3c5,#f7bfc1,#f7c6c8,#f7bfc1,#f7c0c2,#f8cacc,#f9d5d6,#f9d3d5,#f8cfd1,#fbe5e6,#fadadb,#fbe2e3,#fadbdd,#f9d4d6,#f8cdcf,#f8ced0,#f9d1d3,#f8ced0,#f9d2d4,#f9d6d7,#f9d3d5,#f9d3d5,#f9d1d3,#f9d5d7,#fbe3e4,#f9d5d6,#f9d3d5,#f9d4d6,#fadcde,#f9d1d3,#fadcde,#fce7e8,#fad8da,#f8cdcf,#f9d6d8,#f9d2d4,#f9d7d8,#f9d6d8,#f9d2d4,#f7c0c2,#f7c3c5,#f7c5c7,#f8cdcf,#f6b6b8,#f6bbbd,#f7c1c3,#f5b2b4)"></i><i style="height:4px;background:linear-gradient(90deg,#e0e1f0,#e1e2f0,#dadbed,#f0f1f8,#edeef6,#e9eaf4,#e3e4f1,#dedfef,#e2e3f1,#f0f0f8,#e8e9f4,#dfe0ef,#e9eaf4,#eaebf5,#d3d5e9,#e3e4f1,#e4e5f2,#d8daec,#edeef6,#e2e3f1,#dfe0ef,#e8e9f4,#e2e3f1,#dbdced,#cacce5,#ced0e7,#d5d6ea,#c3c5e2,#c9cae4,#dcddee,#e5e6f2,#e8e9f4,#e8e9f4,#fef9fa,#fef9f9,#fdeeee,#fad9da,#f8c9cb,#f8c9cb,#f7c5c7,#f7c4c6,#f7bfc1,#f6babc,#f7c1c3,#f6babc,#f6bbbd,#f7c7c9,#f8cfd1,#f9d1d3,#f8cacc,#fbdfe0,#f9d3d4,#f9d6d8,#f8d1d2,#f8d0d1,#f7c7c9,#f8ced0,#f9d4d5,#f8d0d2,#f8cdcf,#f9d5d6,#f8d0d1,#f8ced0,#f8cacc,#f8cfd1,#fadbdc,#f9d3d5,#f8cdcf,#f8cfd0,#fad9db,#f8ccce,#f9d5d7,#fbe5e6,#f9d4d6,#f8cdcf,#f9d5d7,#f9d1d3,#f9d5d6,#f9d7d9,#f9d5d7,#f6bcbe,#f7bfc1,#f7bec0,#f7c2c4,#f5afb1,#f5b1b3,#f6b5b7,#f5abad)"></i><i style="height:4px;background:linear-gradient(90deg,#d5d6ea,#d6d8eb,#d4d5ea,#eaebf5,#e9e9f4,#e4e5f2,#e0e1f0,#d5d6ea,#d9daec,#ebebf5,#dcdeee,#d3d5ea,#e4e5f2,#e8e9f4,#cdcfe6,#dcddee,#dbdced,#d5d7ea,#e8e9f4,#dadced,#d9daec,#e4e4f2,#e0e1f0,#dbdced,#c8c9e4,#cbcde5,#d1d2e8,#b7badb,#c2c4e1,#d9daec,#e2e3f1,#e5e6f2,#e5e5f2,#fef7f7,#fef7f7,#fce9ea,#f9d5d7,#f7c7c9,#f8cacc,#f7c5c7,#f7c1c3,#f6bcbe,#f6b7b9,#f6bcbe,#f6b6b8,#f6b7b9,#f7c2c4,#f8cacc,#f8ced0,#f7c7c9,#fad8da,#f8cbcd,#f8cacc,#f7c6c8,#f8c9cb,#f7c0c2,#f8cbcd,#f9d5d6,#f8d0d2,#f8c8ca,#f9d2d4,#f8ccce,#f7c7c9,#f7c4c6,#f8c9cb,#f9d2d4,#f8cfd1,#f7c6c8,#f8c8ca,#f9d5d6,#f7c7c9,#f8d0d2,#fbe3e4,#f8cfd1,#f8cbcd,#f9d3d5,#f8cfd1,#f9d3d5,#f9d7d9,#f9d6d8,#f6babc,#f6bbbd,#f6b9bb,#f6b9bb,#f4a9ab,#f5aaac,#f5acae,#f4a5a7)"></i><i style="height:4px;background:linear-gradient(90deg,#ced0e7,#cccee6,#d3d4e9,#e3e4f1,#e3e3f1,#dedfef,#dddeee,#cdcfe6,#d5d6ea,#e1e2f0,#d1d2e8,#cccee6,#dddeee,#dcddee,#c8cae4,#d4d6ea,#ced0e7,#cfd1e7,#dddeee,#cdcee6,#cecfe7,#d7d9ec,#d7d9eb,#d5d6ea,#c3c5e2,#c7c9e3,#c3c5e2,#adb0d6,#babddd,#d8d9ec,#dedfef,#dfe0ef,#e4e5f2,#fefafa,#fef8f8,#fce8e9,#f9d4d6,#f8c9cb,#f8cacc,#f7c7c9,#f7c0c2,#f6babc,#f6b6b8,#f6b7b9,#f6b4b6,#f6b4b6,#f6bbbd,#f7c3c5,#f8cacc,#f7c7c9,#f8d0d2,#f7c4c6,#f7bec0,#f7bec0,#f7c1c3,#f6bbbd,#f7c3c5,#f9d2d4,#f8ccce,#f7c4c6,#f8cdcf,#f8c8ca,#f7c1c3,#f7c0c2,#f7c4c6,#f8c8ca,#f7c7c9,#f6babc,#f7c1c3,#f8ccce,#f7c5c7,#f8ccce,#faddde,#f8c9cb,#f7c5c7,#f8d0d1,#f8cacc,#f9d1d3,#f9d4d5,#f9d3d5,#f6bbbd,#f6b8ba,#f6b5b7,#f6b5b7,#f4a2a4,#f4a8aa,#f4a8aa,#f4a1a3)"></i><i style="height:4px;background:linear-gradient(90deg,#cbcde5,#c6c8e3,#d1d3e9,#d9dbec,#dcddee,#d5d6ea,#d5d6ea,#c7c9e3,#d1d2e8,#dbdced,#c9cbe4,#c7c9e4,#d5d6ea,#ced0e7,#c2c4e1,#cdcee6,#c2c4e1,#c4c6e2,#cdcfe6,#bcbfde,#bfc1df,#c6c8e3,#c8cae4,#c9cbe5,#bbbede,#c0c2e0,#b2b5d9,#a3a7d2,#b2b5d9,#d6d7eb,#d7d8eb,#d9daec,#e3e4f1,#fdfdfe,#fefafa,#fce7e8,#f9d5d6,#f8ccce,#f8cacc,#f8c9cb,#f7c3c5,#f6babc,#f6b6b8,#f5b2b4,#f6b4b6,#f5b2b4,#f5b2b4,#f6bdbf,#f7c5c7,#f7c6c8,#f7c7c9,#f7bec0,#f6b4b6,#f6b8ba,#f6b9bb,#f6b7b9,#f6bcbe,#f8ccce,#f7c1c3,#f6bec0,#f7c6c8,#f7c4c6,#f6bcbe,#f7bec0,#f7c0c2,#f7bfc1,#f7bfc1,#f5b0b2,#f6babc,#f7c4c6,#f7c5c7,#f7c7c9,#f9d3d5,#f7c2c4,#f6bdbf,#f7c8ca,#f7c4c6,#f8cdcf,#f8ced0,#f8ccce,#f6babc,#f6b6b8,#f5b0b2,#f5b3b5,#f49fa1,#f4a8aa,#f4a5a7,#f4a0a2)"></i><i style="height:4px;background:linear-gradient(90deg,#c7c9e4,#c1c3e1,#cccee6,#d1d3e9,#d7d9ec,#cdcfe6,#cccee6,#c4c6e2,#cdcfe7,#d5d7eb,#c4c6e2,#c2c4e1,#cdcfe6,#c3c5e2,#bcbede,#c5c7e3,#babddd,#babcdd,#bdbfde,#afb2d8,#b1b4d9,#b9bbdc,#bcbede,#c0c2e0,#b6b9db,#b9bcdd,#a2a6d1,#9ca0ce,#aeb1d7,#d2d4e9,#d0d1e8,#d5d7ea,#e2e3f1,#f7f7fb,#fffcfd,#fce7e8,#f9d6d8,#f8cfd1,#f8cacc,#f8cbcd,#f7c4c6,#f6bbbd,#f6b6b8,#f5b0b2,#f6b4b6,#f5b0b2,#f5acae,#f6b8ba,#f7c0c2,#f7c3c5,#f7bfc1,#f6b9bb,#f5adaf,#f5b1b3,#f5b2b4,#f6b4b6,#f6b6b8,#f7c4c6,#f6b6b8,#f6b6b8,#f7bec0,#f7c1c3,#f6b7b9,#f6bcbe,#f6bcbe,#f6b7b9,#f6b9bb,#f5aaac,#f6b5b7,#f7bec0,#f7c3c5,#f7c1c3,#f8c9cb,#f6bcbe,#f6b7b9,#f7c0c2,#f7bfc1,#f8c8ca,#f8cacc,#f7c4c6,#f6b9bb,#f5b3b5,#f5aeb0,#f5b2b4,#f4a0a2,#f4a8aa,#f4a4a6,#f4a0a2)"></i><i style="height:4px;background:linear-gradient(90deg,#c4c6e2,#c0c2e0,#c4c6e2,#ced0e7,#d7d9eb,#c9cbe5,#c6c8e3,#c5c7e3,#cccee6,#d5d6ea,#c6c8e3,#bdc0df,#c9cae4,#c1c3e0,#b7badc,#c0c3e0,#bbbede,#b5b7da,#b3b6d9,#abaed6,#abaed5,#b6b9db,#b8badc,#bdbfdf,#b6b9db,#b5b8da,#9a9ecd,#9b9fcd,#b1b4d8,#cdcfe6,#cacce5,#d5d7ea,#e1e2f0,#f5f6fa,#fff,#fbe6e7,#fad9db,#f9d2d4,#f8cacc,#f8cbcd,#f7c3c5,#f6bcbe,#f6b7b9,#f5b2b4,#f6b4b6,#f5b0b2,#f5adaf,#f6b6b8,#f7bec0,#f7c0c2,#f6bcbe,#f6b6b8,#f5acae,#f5acae,#f5afb1,#f6b4b6,#f6b4b6,#f7c0c2,#f5afb1,#f5afb1,#f6babc,#f7bfc1,#f6b5b7,#f6bcbe,#f6b9bb,#f6b4b6,#f6b9bb,#f5aaac,#f5b3b5,#f6bdbf,#f6bdbf,#f6bcbe,#f7c3c5,#f6b9bb,#f6b4b6,#f6bcbe,#f6bbbd,#f7c3c5,#f8c9cb,#f7bfc1,#f6b9bb,#f5b2b4,#f5b0b2,#f5b2b4,#f4a3a5,#f4a7a9,#f4a5a7,#f4a4a6)"></i></div></div>
<div class="hm" style="left:172px;top:400.5px;width:610px;height:310px"><div style="filter:blur(0.8px);"><i style="height:4px;background:linear-gradient(90deg,#acafd6,#a7aad3,#a3a6d1,#999dcc,#b0b3d8,#aaaed5,#9ea2cf,#a7abd4,#a4a7d2,#a4a8d2,#aeb1d7,#babcdd,#c2c4e1,#cacbe5,#dedfef,#ebecf5,#e5e6f2,#e5e5f2,#f1f1f8,#d1d3e9,#e1e2f0,#ced0e7,#c1c3e0,#c1c3e0,#cacce5,#d4d5ea,#d3d4e9,#cccee6,#cecfe7,#d9daec,#dedfef,#dfe0ef,#e5e6f2,#dcddee,#dfe1ef,#cfd1e7,#e0e1f0,#f7f7fb,#fbfbfd,#fdf1f2,#fbe4e5,#fadcde,#fce9ea,#fdf1f2,#fce8e9,#fef6f6,#fef9f9,#fbfbfd,#e1e2f0,#e2e3f1,#d1d3e8,#cbcde6,#d5d7ea,#d4d6ea,#d0d1e8,#e6e7f3,#ebebf5,#edeef6,#d4d5ea,#cfd1e8,#d1d3e8,#d2d4e9,#d3d4e9,#d2d3e9,#e1e2f0,#dcddee,#dedfef,#eff0f7,#fef7f7,#fefeff,#fdf4f5,#fdf4f4,#fef6f6,#fef5f6,#fbe3e4,#fdedee,#fce8e9,#fadadb,#fbe2e3,#fbe2e3,#fceaeb,#fdefef,#fbe1e2,#fdf0f1,#fbe2e3,#fce8e9,#fef6f6,#fbe1e3)"></i><i style="height:4px;background:linear-gradient(90deg,#b0b3d8,#a8abd4,#a1a5d1,#999dcd,#a7aad3,#abaed5,#a0a4d0,#a9acd4,#a3a7d1,#a3a6d1,#a8abd4,#c2c4e1,#c5c7e3,#cdcee6,#e1e2f0,#f2f2f8,#efeff7,#ededf6,#fafafc,#d1d3e8,#e3e4f1,#d4d6ea,#c1c3e1,#c6c8e3,#d2d4e9,#d4d5ea,#d4d6ea,#d7d9eb,#d3d4e9,#dbdded,#dedfef,#e0e1f0,#e5e6f2,#e0e1f0,#e3e4f1,#d8d9ec,#e9eaf4,#f3f3f9,#f8f8fb,#fdf1f2,#fbe3e5,#faddde,#fbe6e7,#fdf2f3,#fce9ea,#fef8f8,#fdf2f3,#fefeff,#e7e8f3,#e1e2f0,#d4d5ea,#d6d8eb,#d7d9ec,#d6d7eb,#d1d3e9,#e6e7f3,#e7e8f3,#eff0f7,#d9daec,#d0d2e8,#d3d4e9,#dadced,#d4d5ea,#d3d5ea,#e8e9f4,#e3e4f1,#e8e9f4,#f9f9fc,#fdf3f4,#fefbfb,#fdf2f3,#fdf0f0,#fef8f8,#fef5f5,#fbdfe0,#fcebec,#fce6e7,#fad9db,#fbe1e2,#fbe4e5,#fce8e9,#fdeeef,#fbe4e5,#fdf0f1,#fadedf,#fbe4e5,#fefafa,#fbdfe0)"></i><i style="height:4px;background:linear-gradient(90deg,#b1b4d8,#a7aad3,#a3a6d1,#999dcc,#a2a6d1,#a6aad3,#9ba0ce,#a4a8d2,#9fa3cf,#9ea2cf,#a3a7d2,#c4c6e2,#cacce5,#d4d6ea,#e7e8f3,#fafafd,#f3f3f9,#f1f1f8,#fff,#d6d8eb,#e7e8f3,#d7d8eb,#c9cbe4,#c8cae4,#dadbed,#d4d6ea,#d7d8eb,#e3e4f1,#dbdced,#dddeee,#dbdced,#dfe0ef,#e6e7f3,#e8e9f4,#eff0f7,#e2e3f1,#f1f2f8,#f7f8fb,#f7f7fb,#fdf0f1,#fbe4e5,#fadfe0,#fbe2e3,#fdf0f1,#fce9ea,#fef5f5,#fcecec,#fefefe,#f0f0f7,#e1e2f0,#d7d8eb,#dedfef,#d9daec,#d8daec,#cfd0e7,#e2e3f1,#dfe0ef,#eeeff7,#dbdced,#d5d7ea,#d2d4e9,#dedfef,#d6d7eb,#d6d8eb,#ebecf5,#ebebf5,#f4f5fa,#fffefe,#fdeff0,#fef6f7,#fdf2f3,#fdf1f1,#fef6f6,#fef8f8,#fadee0,#fcebec,#fce8e9,#fadddf,#fbe3e4,#fbe5e6,#fceaea,#fcebec,#fce7e8,#fdf0f1,#fadbdd,#fbe2e3,#fffefe,#fbe2e3)"></i><i style="height:4px;background:linear-gradient(90deg,#a9add5,#9fa3d0,#9fa3cf,#9297c9,#9a9ecd,#9b9fcd,#8f94c8,#999dcc,#9498ca,#9296c9,#9a9ecd,#bcbfde,#c8cae4,#d4d6ea,#e5e6f2,#fafafc,#eaebf5,#e9eaf4,#fafafd,#d4d6ea,#e2e3f1,#cfd0e7,#cbcde5,#c1c3e0,#d8daec,#cdcfe6,#d2d4e9,#e5e6f2,#dbdced,#d7d8eb,#cfd0e7,#d8d9ec,#e1e2f0,#e9eaf4,#f7f7fb,#e3e4f1,#f2f2f9,#fbfbfd,#f3f4f9,#fdf1f1,#fbe5e6,#fbe2e3,#fbe0e1,#fdedee,#fceaea,#fdf3f3,#fcebec,#f5f5fa,#f1f1f8,#d8d9ec,#d2d3e9,#dcddee,#d1d2e8,#d3d5e9,#c2c4e1,#d4d6ea,#cdcee6,#e4e5f2,#d4d5ea,#d3d4e9,#c8cae4,#d7d8eb,#d0d1e8,#d1d2e8,#e2e3f1,#e8e9f4,#f6f6fb,#fdfdfe,#fef4f5,#fefbfb,#fefafa,#fefbfb,#fefafa,#fcfcfd,#fbe5e6,#fdf2f3,#fdf0f1,#fce8e9,#fceaeb,#fceced,#fdeff0,#fcebec,#fcedee,#fdf2f3,#fadcdd,#fbe2e3,#fbfbfd,#fce8e9)"></i><i style="height:4px;background:linear-gradient(90deg,#9397c9,#8a8fc5,#8c91c6,#8187c1,#898ec5,#878cc4,#7d83bf,#858bc3,#8187c1,#7c83bf,#898ec5,#a6aad3,#b2b5d9,#bec0df,#cfd1e8,#e2e3f1,#ced0e7,#cccde6,#dedfef,#bec0df,#cacce5,#b7badc,#bdc0df,#adb1d7,#c5c7e2,#b9bcdc,#bfc1e0,#cecfe7,#c7c9e3,#c2c4e1,#b7badc,#c1c3e1,#cdcfe7,#d8daec,#ecedf6,#d7d8eb,#e6e7f3,#f9f9fc,#edeef6,#fdf4f4,#fbe5e6,#fce7e8,#fbe5e6,#fdeff0,#fdefef,#fef6f6,#fefafa,#dcddee,#dee0ef,#c0c3e0,#bcbfde,#c8cae4,#b9bcdd,#bdbfde,#a6a9d3,#b5b8da,#aaaed5,#c3c5e1,#b8bbdc,#b9bcdd,#afb2d7,#bec0df,#babcdd,#babddd,#c7c9e4,#cecfe7,#dcdeee,#dedfef,#f1f1f8,#edeef6,#eeeff7,#e8e9f4,#eeeff7,#e4e5f2,#fffcfc,#f5f5fa,#fbfbfd,#fffefe,#fff,#fffdfd,#fffdfd,#fef5f5,#fef7f7,#fefafa,#fbe5e6,#fce7e8,#f5f6fa,#fdf1f2)"></i><i style="height:4px;background:linear-gradient(90deg,#787fbd,#6e76b8,#7078b9,#6a72b6,#727aba,#7279ba,#656eb4,#6a72b6,#6b73b7,#6069b2,#727aba,#858bc3,#8d92c7,#999dcc,#a7abd4,#b7badc,#a5a8d2,#a1a5d0,#b0b3d8,#9297c9,#a1a5d1,#9398ca,#9ca0ce,#8c91c6,#a4a8d2,#9b9fcd,#9b9fcd,#a7abd4,#a2a6d1,#9fa3cf,#959acb,#9b9fcd,#aaadd5,#b8bbdc,#cacce5,#bec0df,#d0d2e8,#ebecf5,#e8e9f4,#fffcfc,#fceaeb,#fcebec,#fceded,#fef7f8,#fef7f7,#f8f8fc,#e7e8f3,#bcbfde,#babddd,#9a9ecd,#9499ca,#a5a8d2,#9297c9,#9196c9,#8187c1,#8b90c5,#7e84bf,#969bcb,#8b90c5,#9095c8,#868cc3,#999dcc,#9398ca,#969acb,#9ea2cf,#a0a4d0,#aeb1d7,#aeb1d7,#c2c5e1,#c2c5e1,#c3c5e1,#bec0df,#c6c8e3,#bec0df,#d6d8eb,#cfd0e7,#dddeee,#dcddee,#dbddee,#e1e2f0,#e7e7f3,#f3f3f9,#f9f9fc,#f9f9fc,#fdf1f1,#fdf2f3,#f0f0f8,#fefbfb)"></i><i style="height:4px;background:linear-gradient(90deg,#5c66b0,#5562ae,#5562ae,#5663ae,#5a65af,#5b66b0,#5361ad,#5261ad,#5763ae,#4c5eab,#5a65af,#676fb5,#6b73b7,#747cbb,#7c83bf,#888dc4,#7b81be,#777ebc,#8086c0,#6871b6,#787fbd,#7279ba,#7980bd,#6d75b8,#8187c1,#7c83bf,#757dbc,#7f85c0,#7c83bf,#7b82be,#757dbc,#747cbb,#8389c2,#9397c9,#a0a4d0,#9fa3d0,#b6b9db,#d7d8eb,#e1e2f0,#f3f4f9,#fdf3f3,#fdf0f0,#fef6f7,#fafafc,#fcfcfe,#e0e1f0,#c4c6e2,#9b9fcd,#9095c8,#747bbb,#6d75b8,#7f85c0,#6e76b8,#6871b6,#5e68b1,#6770b5,#5864af,#6e76b8,#626cb3,#6a73b7,#616ab2,#757cbb,#6e76b8,#727aba,#757cbb,#737aba,#7c82bf,#7d83bf,#8e93c7,#9196c9,#9094c8,#9095c8,#989ccc,#9397c9,#a5a9d3,#a5a8d2,#bbbede,#b4b7da,#b4b7da,#bcbede,#c6c8e3,#d4d5ea,#e7e8f3,#e9eaf4,#fefeff,#fdfefe,#e9e9f4,#f6f6fb)"></i><i style="height:4px;background:linear-gradient(90deg,#4f5fac,#4459a9,#455aa9,#495caa,#4c5eab,#5060ac,#465aa9,#4359a8,#4a5dab,#3c55a6,#4d5eab,#5261ad,#5361ad,#5864af,#5b65b0,#646eb4,#5b65b0,#5864af,#5c66b0,#4e5fac,#5964af,#5864af,#5c66b0,#5663ae,#656eb4,#626bb3,#5764af,#5e67b1,#5c66b0,#5e67b1,#5b65b0,#5763af,#646db4,#747bbb,#7a80be,#8187c1,#999dcc,#bec1df,#d4d5ea,#dedfef,#fcfcfe,#fefbfb,#f6f7fb,#e4e5f2,#e9eaf4,#c3c6e2,#a0a4d0,#7c83bf,#6f77b9,#5763ae,#5361ad,#636cb3,#5562ae,#4f5fac,#4d5eab,#5160ad,#4459a8,#5462ad,#4b5dab,#5160ad,#4b5dab,#5964af,#5462ad,#5864af,#5763ae,#5462ad,#5864af,#5964af,#666fb5,#6b73b7,#6871b6,#6c75b8,#7179ba,#7077b9,#7980bd,#7e84bf,#999dcc,#8b90c5,#8c90c6,#9498ca,#a2a6d1,#b1b4d8,#cfd1e7,#d3d4e9,#e6e7f3,#e6e7f3,#dadbed,#e1e2f0)"></i><i style="height:4px;background:linear-gradient(90deg,#4359a8,#3b55a6,#3c55a6,#3f57a7,#4158a8,#465aa9,#3e56a7,#3c55a6,#4057a7,#3a54a5,#4358a8,#475ba9,#455aa9,#4a5caa,#4d5eab,#5261ad,#4c5dab,#475ba9,#4d5eab,#4057a7,#4a5dab,#4a5caa,#4e5eac,#495caa,#5462ad,#5160ad,#475baa,#4a5dab,#4e5eac,#5060ac,#4c5eab,#495caa,#5160ac,#5a65af,#5c66b0,#646db4,#787fbd,#a1a5d0,#b8badc,#c3c5e1,#e2e3f1,#e4e5f2,#d5d6ea,#c5c7e2,#cbcde5,#a3a7d2,#7e84c0,#5e68b1,#5763ae,#495caa,#4459a9,#5462ad,#4b5dab,#4158a8,#4057a7,#4359a8,#3b54a5,#4459a8,#3d56a6,#4258a8,#3d56a6,#4b5dab,#485baa,#4a5caa,#4a5caa,#4459a9,#475ba9,#485baa,#5160ad,#5562ae,#5361ad,#5763ae,#5562ae,#5663ae,#5965af,#5d67b0,#777ebc,#6c74b7,#6971b6,#7179ba,#8086c0,#898ec5,#afb2d8,#b1b4d8,#c4c6e2,#c4c6e2,#bec1df,#c0c3e0)"></i><i style="height:4px;background:linear-gradient(90deg,#3c55a6,#3a54a5,#3a54a5,#3b55a6,#3c55a6,#3f57a7,#3b55a6,#3b54a5,#3c55a6,#3953a4,#3c55a6,#3f57a7,#3c55a6,#3d56a6,#4359a8,#475ba9,#4057a7,#3b55a6,#4258a8,#3b54a5,#4057a7,#3e56a7,#4358a8,#3e56a7,#485baa,#455aa9,#3b55a6,#3c55a6,#4258a8,#475ba9,#3f57a7,#3e56a7,#4258a8,#4b5dab,#4c5dab,#505fac,#5864af,#8187c1,#9297c9,#a1a4d0,#c0c2e0,#b8badc,#a8abd4,#9da1cf,#a5a8d2,#8187c1,#606ab2,#4c5dab,#4a5caa,#3e56a7,#3c55a6,#4b5dab,#455aa9,#3b55a6,#3b54a5,#3c55a6,#3a53a4,#3b54a5,#3b54a5,#3b54a5,#3b54a5,#3f56a7,#4057a7,#4057a7,#4158a8,#3b55a6,#3c55a6,#3c55a6,#445aa9,#495caa,#475ba9,#4c5dab,#4359a8,#485baa,#485baa,#4a5daa,#5964af,#5462ad,#4f5fac,#5562ae,#6069b2,#666fb4,#888ec4,#868cc3,#999dcd,#9a9ecd,#999dcc,#969acb)"></i><i style="height:4px;background:linear-gradient(90deg,#3b54a5,#3953a4,#3953a4,#3a54a5,#3a54a5,#3b55a6,#3b54a5,#3a54a5,#3b54a5,#3953a4,#3b54a5,#3b55a6,#3a54a5,#3b54a5,#3c55a6,#3d56a6,#3b54a5,#3953a4,#3b55a6,#3a54a5,#3b55a6,#3b54a5,#3b55a6,#3b54a5,#3d56a6,#3c55a6,#3a53a4,#3953a4,#3b54a5,#3e56a7,#3b54a5,#3b54a5,#3b54a5,#3e56a7,#3e56a7,#4057a7,#465aa9,#636cb3,#6e76b8,#8086c0,#979bcc,#898ec5,#7e84c0,#7980bd,#7e84bf,#616bb2,#4f5fac,#3c55a6,#3d56a6,#3b54a5,#3a54a5,#4258a8,#3f57a7,#3a54a5,#3a54a5,#3a54a5,#3953a4,#3a53a4,#3a54a5,#3953a4,#3953a4,#3b54a5,#3c55a6,#3b54a5,#3c55a6,#3a54a5,#3a54a5,#3a54a5,#3c55a6,#3e56a7,#3c55a6,#4158a8,#3a54a5,#3c55a6,#3c55a6,#3c55a6,#475baa,#4459a8,#3e56a7,#4359a8,#4c5eab,#4f5fac,#6971b6,#636db3,#757cbb,#767dbc,#767dbc,#7179ba)"></i><i style="height:4px;background:linear-gradient(90deg,#3a53a4,#3953a4,#3953a4,#3a54a5,#3a54a5,#3a54a5,#3a53a4,#3a53a4,#3a54a5,#3953a4,#3a53a4,#3b54a5,#3953a4,#3953a4,#3a54a5,#3b54a5,#3a53a4,#3953a4,#3a54a5,#3953a4,#3a54a5,#3a54a5,#3a54a5,#3a54a5,#3b54a5,#3a54a5,#3953a4,#3953a4,#3a54a5,#3b54a5,#3a54a5,#3a53a4,#3a54a5,#3a54a5,#3b54a5,#3b54a5,#3b55a6,#4f5fac,#5663ae,#626cb3,#737bbb,#6a72b6,#5e68b1,#5d67b0,#5d67b1,#4f5fac,#4158a8,#3a54a5,#3b54a5,#3a54a5,#3953a4,#3c55a6,#3b55a6,#3953a4,#3953a4,#3953a4,#3953a4,#3953a4,#3953a4,#3953a4,#3953a4,#3953a4,#3a54a5,#3a54a5,#3a54a5,#3953a4,#3953a4,#3953a4,#3a54a5,#3b54a5,#3b54a5,#3b54a5,#3953a4,#3a53a4,#3a54a5,#3a54a5,#3c55a6,#3b54a5,#3b54a5,#3b54a5,#3d56a6,#4158a8,#5361ad,#5060ac,#5965af,#5a65b0,#5b65b0,#5764af)"></i><i style="height:4px;background:linear-gradient(90deg,#3953a4,#3953a4,#3953a4,#3a54a5,#3953a4,#3a54a5,#3953a4,#3953a4,#3a53a4,#3953a4,#3953a4,#3a54a5,#3953a4,#3953a4,#3a54a5,#3953a4,#3953a4,#3953a4,#3a53a4,#3953a4,#3a54a5,#3a54a5,#3a54a5,#3953a4,#3a54a5,#3953a4,#3953a4,#3953a4,#3953a4,#3b54a5,#3a54a5,#3953a4,#3a53a4,#3953a4,#3a54a5,#3a54a5,#3a54a5,#4258a8,#4a5dab,#5060ac,#5964af,#5562ae,#4d5eab,#4e5fac,#4d5eab,#4359a8,#3b54a5,#3953a4,#3a54a5,#3a53a4,#3953a4,#3b54a5,#3a54a5,#3953a4,#3953a4,#3953a4,#3953a4,#3953a4,#3953a4,#3953a4,#3953a4,#3953a4,#3953a4,#3953a4,#3a53a4,#3953a4,#3953a4,#3953a4,#3a53a4,#3a54a5,#3a54a5,#3953a4,#3953a4,#3953a4,#3a53a4,#3953a4,#3b54a5,#3a54a5,#3a54a5,#3a54a5,#3b54a5,#3b55a6,#465aa9,#4359a8,#4b5dab,#4d5eab,#4e5eab,#495caa)"></i><i style="height:4px;background:linear-gradient(90deg,#3953a4,#3953a4,#3953a4,#3a54a5,#3953a4,#3a53a4,#3953a4,#3953a4,#3a53a4,#3953a4,#3953a4,#3a54a5,#3953a4,#3953a4,#3953a4,#3953a4,#3953a4,#3953a4,#3a53a4,#3953a4,#3a54a5,#3a54a5,#3a53a4,#3953a4,#3a54a5,#3953a4,#3953a4,#3953a4,#3953a4,#3b54a5,#3a54a5,#3953a4,#3a53a4,#3953a4,#3a54a5,#3a53a4,#3953a4,#3b55a6,#4158a8,#4359a8,#4b5dab,#495caa,#3f57a7,#4258a8,#4057a7,#3b55a6,#3a54a5,#3953a4,#3a53a4,#3a54a5,#3953a4,#3b54a5,#3a54a5,#3953a4,#3953a4,#3953a4,#3953a4,#3953a4,#3953a4,#3953a4,#3953a4,#3953a4,#3953a4,#3953a4,#3953a4,#3953a4,#3953a4,#3953a4,#3953a4,#3a54a5,#3a54a5,#3953a4,#3953a4,#3953a4,#3a54a5,#3953a4,#3a54a5,#3a54a5,#3a54a5,#3a53a4,#3a53a4,#3b54a5,#3c55a6,#3c55a6,#4057a7,#4258a8,#4258a8,#3d56a6)"></i><i style="height:4px;background:linear-gradient(90deg,#3953a4,#3953a4,#3953a4,#3a54a5,#3a53a4,#3953a4,#3953a4,#3953a4,#3a54a5,#3953a4,#3953a4,#3a54a5,#3953a4,#3953a4,#3953a4,#3953a4,#3953a4,#3953a4,#3953a4,#3953a4,#3a54a5,#3b54a5,#3a53a4,#3953a4,#3953a4,#3953a4,#3953a4,#3953a4,#3953a4,#3a54a5,#3a54a5,#3953a4,#3a54a5,#3953a4,#3a54a5,#3a53a4,#3953a4,#3a54a5,#3b54a5,#3b55a6,#3d55a6,#3c55a6,#3b54a5,#3b54a5,#3b54a5,#3a54a5,#3953a4,#3953a4,#3953a4,#3a54a5,#3953a4,#3a54a5,#3a53a4,#3953a4,#3953a4,#3953a4,#3953a4,#3953a4,#3953a4,#3953a4,#3953a4,#3953a4,#3953a4,#3953a4,#3953a4,#3953a4,#3953a4,#3953a4,#3953a4,#3a54a5,#3a54a5,#3953a4,#3953a4,#3953a4,#3a54a5,#3953a4,#3a54a5,#3a54a5,#3b54a5,#3a53a4,#3953a4,#3a54a5,#3b54a5,#3a54a5,#3b55a6,#3b55a6,#3b55a6,#3b54a5)"></i><i style="height:4px;background:linear-gradient(90deg,#3953a4,#3953a4,#3953a4,#3a54a5,#3a53a4,#3953a4,#3953a4,#3953a4,#3a54a5,#3953a4,#3953a4,#3a54a5,#3953a4,#3953a4,#3953a4,#3953a4,#3953a4,#3953a4,#3953a4,#3953a4,#3a53a4,#3b55a6,#3953a4,#3a53a4,#3953a4,#3953a4,#3953a4,#3953a4,#3953a4,#3a54a5,#3a54a5,#3a53a4,#3a53a4,#3953a4,#3a54a5,#3a53a4,#3953a4,#3953a4,#3953a4,#3a54a5,#3a54a5,#3a54a5,#3a54a5,#3a53a4,#3953a4,#3953a4,#3953a4,#3953a4,#3953a4,#3a54a5,#3953a4,#3a54a5,#3953a4,#3953a4,#3953a4,#3953a4,#3953a4,#3953a4,#3953a4,#3953a4,#3953a4,#3953a4,#3953a4,#3a53a4,#3953a4,#3953a4,#3953a4,#3953a4,#3a53a4,#3a54a5,#3a54a5,#3953a4,#3953a4,#3953a4,#3a53a4,#3953a4,#3a54a5,#3a54a5,#3b54a5,#3a54a5,#3953a4,#3a54a5,#3a54a5,#3953a4,#3b54a5,#3a54a5,#3a54a5,#3953a4)"></i><i style="height:4px;background:linear-gradient(90deg,#3953a4,#3953a4,#3953a4,#3a54a5,#3a54a5,#3953a4,#3953a4,#3953a4,#3a54a5,#3953a4,#3953a4,#3a53a4,#3a53a4,#3953a4,#3953a4,#3953a4,#3953a4,#3953a4,#3953a4,#3953a4,#3a53a4,#3c55a6,#3953a4,#3a54a5,#3953a4,#3953a4,#3953a4,#3953a4,#3953a4,#3a54a5,#3a54a5,#3a53a4,#3a53a4,#3953a4,#3a53a4,#3a53a4,#3953a4,#3953a4,#3953a4,#3a54a5,#3953a4,#3953a4,#3a54a5,#3953a4,#3953a4,#3953a4,#3953a4,#3953a4,#3953a4,#3a54a5,#3953a4,#3a53a4,#3953a4,#3953a4,#3953a4,#3953a4,#3a54a5,#3953a4,#3953a4,#3953a4,#3953a4,#3953a4,#3953a4,#3a54a5,#3953a4,#3953a4,#3953a4,#3953a4,#3a53a4,#3a54a5,#3a54a5,#3953a4,#3953a4,#3953a4,#3953a4,#3953a4,#3a54a5,#3a54a5,#3b54a5,#3a54a5,#3953a4,#3a54a5,#3a53a4,#3953a4,#3b54a5,#3a54a5,#3a53a4,#3953a4)"></i><i style="height:4px;background:linear-gradient(90deg,#3953a4,#3953a4,#3953a4,#3a54a5,#3a53a4,#3953a4,#3a53a4,#3953a4,#3a54a5,#3953a4,#3953a4,#3a53a4,#3953a4,#3953a4,#3953a4,#3953a4,#3953a4,#3953a4,#3953a4,#3953a4,#3953a4,#3b54a5,#3953a4,#3a53a4,#3953a4,#3953a4,#3953a4,#3953a4,#3953a4,#3a54a5,#3a54a5,#3a54a5,#3a54a5,#3953a4,#3a53a4,#3a53a4,#3953a4,#3953a4,#3953a4,#3a53a4,#3953a4,#3953a4,#3a54a5,#3953a4,#3953a4,#3953a4,#3953a4,#3953a4,#3953a4,#3a54a5,#3953a4,#3a53a4,#3953a4,#3953a4,#3953a4,#3953a4,#3a53a4,#3953a4,#3a53a4,#3953a4,#3953a4,#3953a4,#3953a4,#3a54a5,#3953a4,#3953a4,#3953a4,#3953a4,#3a53a4,#3b54a5,#3a54a5,#3953a4,#3953a4,#3953a4,#3a53a4,#3953a4,#3a54a5,#3a54a5,#3b54a5,#3a54a5,#3953a4,#3a54a5,#3953a4,#3953a4,#3a54a5,#3a53a4,#3953a4,#3953a4)"></i><i style="height:4px;background:linear-gradient(90deg,#3953a4,#3953a4,#3a53a4,#3a53a4,#3a53a4,#3a53a4,#3a53a4,#3953a4,#3953a4,#3953a4,#3953a4,#3953a4,#3953a4,#3953a4,#3953a4,#3953a4,#3953a4,#3953a4,#3953a4,#3953a4,#3953a4,#3a54a5,#3953a4,#3953a4,#3953a4,#3953a4,#3953a4,#3953a4,#3953a4,#3a54a5,#3a54a5,#3a54a5,#3a54a5,#3953a4,#3a53a4,#3953a4,#3953a4,#3953a4,#3953a4,#3953a4,#3953a4,#3953a4,#3a54a5,#3953a4,#3953a4,#3953a4,#3953a4,#3953a4,#3953a4,#3a54a5,#3953a4,#3a53a4,#3a53a4,#3953a4,#3953a4,#3953a4,#3953a4,#3953a4,#3a54a5,#3953a4,#3953a4,#3953a4,#3953a4,#3a53a4,#3953a4,#3953a4,#3953a4,#3953a4,#3953a4,#3b54a5,#3a53a4,#3953a4,#3953a4,#3953a4,#3a53a4,#3953a4,#3a54a5,#3a54a5,#3a54a5,#3a53a4,#3953a4,#3a54a5,#3953a4,#3953a4,#3953a4,#3953a4,#3953a4,#3953a4)"></i><i style="height:4px;background:linear-gradient(90deg,#3953a4,#3953a4,#3a54a5,#3a53a4,#3a53a4,#3a54a5,#3a53a4,#3953a4,#3953a4,#3953a4,#3953a4,#3a53a4,#3953a4,#3953a4,#3953a4,#3953a4,#3953a4,#3953a4,#3953a4,#3953a4,#3953a4,#3a54a5,#3953a4,#3953a4,#3953a4,#3a53a4,#3953a4,#3953a4,#3953a4,#3a54a5,#3a54a5,#3a54a5,#3a54a5,#3953a4,#3a53a4,#3953a4,#3953a4,#3953a4,#3953a4,#3953a4,#3953a4,#3a54a5,#3a53a4,#3953a4,#3953a4,#3953a4,#3953a4,#3953a4,#3953a4,#3a53a4,#3953a4,#3a54a5,#3a53a4,#3953a4,#3953a4,#3953a4,#3953a4,#3953a4,#3a54a5,#3953a4,#3953a4,#3953a4,#3953a4,#3953a4,#3953a4,#3953a4,#3953a4,#3953a4,#3953a4,#3b54a5,#3953a4,#3953a4,#3953a4,#3953a4,#3a54a5,#3953a4,#3a54a5,#3a53a4,#3953a4,#3a53a4,#3953a4,#3a54a5,#3953a4,#3953a4,#3953a4,#3953a4,#3953a4,#3953a4)"></i><i style="height:4px;background:linear-gradient(90deg,#3a53a4,#3953a4,#3a54a5,#3a54a5,#3a54a5,#3b54a5,#3a53a4,#3a54a5,#3953a4,#3953a4,#3953a4,#3a54a5,#3953a4,#3953a4,#3953a4,#3a53a4,#3953a4,#3953a4,#3a54a5,#3953a4,#3953a4,#3953a4,#3953a4,#3953a4,#3953a4,#3a54a5,#3953a4,#3953a4,#3953a4,#3a53a4,#3a53a4,#3a53a4,#3a54a5,#3953a4,#3953a4,#3953a4,#3953a4,#3953a4,#3a53a4,#3953a4,#3953a4,#3a54a5,#3953a4,#3953a4,#3953a4,#3953a4,#3953a4,#3953a4,#3953a4,#3953a4,#3953a4,#3a54a5,#3953a4,#3953a4,#3953a4,#3953a4,#3953a4,#3953a4,#3a54a5,#3953a4,#3953a4,#3953a4,#3953a4,#3953a4,#3953a4,#3953a4,#3953a4,#3a53a4,#3953a4,#3b54a5,#3953a4,#3953a4,#3953a4,#3953a4,#3a54a5,#3953a4,#3a54a5,#3a53a4,#3953a4,#3a53a4,#3953a4,#3a54a5,#3953a4,#3953a4,#3953a4,#3953a4,#3953a4,#3953a4)"></i><i style="height:4px;background:linear-gradient(90deg,#3a54a5,#3a54a5,#3a54a5,#3a54a5,#3b54a5,#3b54a5,#3a54a5,#3a54a5,#3953a4,#3953a4,#3953a4,#3a54a5,#3a54a5,#3953a4,#3a54a5,#3a54a5,#3a54a5,#3a53a4,#3b54a5,#3953a4,#3953a4,#3953a4,#3953a4,#3953a4,#3953a4,#3a54a5,#3953a4,#3953a4,#3953a4,#3953a4,#3953a4,#3a53a4,#3a54a5,#3953a4,#3953a4,#3953a4,#3953a4,#3953a4,#3a54a5,#3953a4,#3953a4,#3a54a5,#3953a4,#3953a4,#3953a4,#3953a4,#3953a4,#3953a4,#3953a4,#3953a4,#3953a4,#3a53a4,#3953a4,#3953a4,#3953a4,#3953a4,#3953a4,#3953a4,#3953a4,#3953a4,#3953a4,#3953a4,#3953a4,#3953a4,#3953a4,#3953a4,#3953a4,#3a54a5,#3953a4,#3b54a5,#3953a4,#3953a4,#3953a4,#3953a4,#3a54a5,#3953a4,#3a54a5,#3953a4,#3953a4,#3a53a4,#3953a4,#3b54a5,#3953a4,#3953a4,#3953a4,#3953a4,#3953a4,#3953a4)"></i><i style="height:4px;background:linear-gradient(90deg,#3b54a5,#3b54a5,#3a54a5,#3b54a5,#3b55a6,#3b55a6,#3a54a5,#3b54a5,#3953a4,#3a54a5,#3a54a5,#3b54a5,#3b54a5,#3953a4,#3b54a5,#3a54a5,#3b54a5,#3a54a5,#3c55a6,#3953a4,#3a54a5,#3953a4,#3a54a5,#3953a4,#3953a4,#3b54a5,#3953a4,#3a53a4,#3953a4,#3953a4,#3953a4,#3a53a4,#3a54a5,#3953a4,#3953a4,#3953a4,#3953a4,#3953a4,#3b54a5,#3953a4,#3953a4,#3a54a5,#3953a4,#3953a4,#3953a4,#3953a4,#3953a4,#3953a4,#3953a4,#3953a4,#3953a4,#3a53a4,#3953a4,#3953a4,#3953a4,#3953a4,#3953a4,#3953a4,#3953a4,#3953a4,#3953a4,#3a53a4,#3953a4,#3953a4,#3953a4,#3953a4,#3953a4,#3a54a5,#3953a4,#3b54a5,#3953a4,#3953a4,#3953a4,#3953a4,#3a54a5,#3953a4,#3a54a5,#3953a4,#3953a4,#3a54a5,#3953a4,#3b54a5,#3953a4,#3953a4,#3953a4,#3953a4,#3953a4,#3953a4)"></i><i style="height:4px;background:linear-gradient(90deg,#3c55a6,#3c55a6,#3b54a5,#3b55a6,#3e56a6,#3e56a6,#3b54a5,#3c55a6,#3a54a5,#3b54a5,#3c55a6,#3c55a6,#3c55a6,#3a54a5,#3c55a6,#3b54a5,#3e56a6,#3b55a6,#3c55a6,#3a53a4,#3a54a5,#3a53a4,#3b54a5,#3953a4,#3953a4,#3b54a5,#3a54a5,#3a54a5,#3a53a4,#3953a4,#3a54a5,#3a54a5,#3a54a5,#3953a4,#3953a4,#3953a4,#3953a4,#3953a4,#3b54a5,#3953a4,#3953a4,#3a54a5,#3953a4,#3953a4,#3953a4,#3953a4,#3953a4,#3953a4,#3953a4,#3953a4,#3953a4,#3953a4,#3953a4,#3953a4,#3953a4,#3953a4,#3953a4,#3953a4,#3953a4,#3953a4,#3953a4,#3a53a4,#3953a4,#3953a4,#3953a4,#3953a4,#3953a4,#3a54a5,#3953a4,#3b54a5,#3953a4,#3953a4,#3953a4,#3953a4,#3a54a5,#3953a4,#3a54a5,#3953a4,#3953a4,#3a54a5,#3953a4,#3b54a5,#3953a4,#3953a4,#3953a4,#3953a4,#3953a4,#3953a4)"></i><i style="height:4px;background:linear-gradient(90deg,#4258a8,#455aa9,#3e56a7,#4057a7,#455aa9,#4459a9,#3c55a6,#4258a8,#3c55a6,#3e56a6,#4258a8,#4158a8,#3f57a7,#3b55a6,#3f57a7,#3c55a6,#4459a9,#3f57a7,#3e56a7,#3b54a5,#3b55a6,#3b54a5,#3c55a6,#3a53a4,#3a54a5,#3b55a6,#3b54a5,#3b54a5,#3a54a5,#3a54a5,#3b54a5,#3a54a5,#3b54a5,#3953a4,#3953a4,#3953a4,#3953a4,#3953a4,#3a54a5,#3953a4,#3953a4,#3a54a5,#3953a4,#3953a4,#3953a4,#3953a4,#3953a4,#3953a4,#3953a4,#3953a4,#3953a4,#3953a4,#3953a4,#3953a4,#3953a4,#3953a4,#3953a4,#3953a4,#3953a4,#3953a4,#3953a4,#3953a4,#3953a4,#3953a4,#3953a4,#3953a4,#3953a4,#3a54a5,#3953a4,#3a54a5,#3953a4,#3953a4,#3953a4,#3953a4,#3a53a4,#3953a4,#3a54a5,#3953a4,#3953a4,#3a54a5,#3a54a5,#3b54a5,#3953a4,#3a54a5,#3953a4,#3a54a5,#3a54a5,#3953a4)"></i><i style="height:4px;background:linear-gradient(90deg,#4c5dab,#4e5fac,#475ba9,#485baa,#4d5eab,#4c5dab,#4459a8,#4c5dab,#4a5caa,#485caa,#4c5dab,#495caa,#455aa9,#4158a8,#465aa9,#4258a8,#4c5dab,#475ba9,#4158a8,#3c55a6,#3e56a7,#3c55a6,#4359a8,#3b54a5,#3b55a6,#3c55a6,#3c55a6,#3c55a6,#3b54a5,#3b54a5,#3b55a6,#3b54a5,#3b54a5,#3a53a4,#3953a4,#3953a4,#3953a4,#3953a4,#3953a4,#3a53a4,#3953a4,#3a53a4,#3953a4,#3953a4,#3953a4,#3953a4,#3953a4,#3953a4,#3953a4,#3953a4,#3953a4,#3953a4,#3953a4,#3953a4,#3953a4,#3953a4,#3953a4,#3a53a4,#3a53a4,#3953a4,#3953a4,#3953a4,#3953a4,#3953a4,#3953a4,#3953a4,#3953a4,#3a53a4,#3953a4,#3a54a5,#3953a4,#3953a4,#3953a4,#3953a4,#3953a4,#3a53a4,#3a54a5,#3a53a4,#3953a4,#3b54a5,#3b54a5,#3b55a6,#3b54a5,#3b55a6,#3a54a5,#3c55a6,#3c55a6,#3a54a5)"></i><i style="height:4px;background:linear-gradient(90deg,#5663ae,#5964af,#5160ac,#5361ad,#5663ae,#5361ad,#4e5eac,#5562ae,#5562ae,#5361ad,#5562ae,#5261ad,#4d5eab,#4a5daa,#4d5eab,#495caa,#5261ad,#4e5fac,#475ba9,#4157a7,#485baa,#4359a8,#4b5dab,#3e56a7,#4057a7,#4258a8,#4359a8,#4258a8,#3c55a6,#3b55a6,#3d55a6,#3b55a6,#3b55a6,#3a54a5,#3953a4,#3953a4,#3953a4,#3953a4,#3953a4,#3a53a4,#3953a4,#3953a4,#3953a4,#3953a4,#3953a4,#3953a4,#3953a4,#3953a4,#3953a4,#3953a4,#3953a4,#3953a4,#3953a4,#3953a4,#3a54a5,#3953a4,#3953a4,#3a54a5,#3953a4,#3953a4,#3953a4,#3953a4,#3953a4,#3953a4,#3953a4,#3953a4,#3953a4,#3a54a5,#3a53a4,#3a54a5,#3953a4,#3953a4,#3953a4,#3953a4,#3953a4,#3a54a5,#3b54a5,#3a54a5,#3a54a5,#3c55a6,#3c55a6,#3c55a6,#3c55a6,#4359a8,#3c55a6,#4258a8,#4359a8,#3c55a6)"></i><i style="height:4px;background:linear-gradient(90deg,#646db3,#6972b6,#5b65b0,#616bb2,#5f69b2,#5b66b0,#5864af,#606ab2,#626bb3,#5e68b1,#5f69b1,#5e68b1,#5864af,#5562ae,#5663ae,#5160ad,#5a65af,#5864af,#5060ac,#495caa,#5361ad,#4f5fac,#5663ae,#465ba9,#4a5daa,#4b5dab,#4b5dab,#4a5caa,#4158a8,#4057a7,#4358a8,#3f56a7,#3e56a7,#3c55a6,#3b54a5,#3a54a5,#3a54a5,#3953a4,#3953a4,#3a54a5,#3a54a5,#3953a4,#3953a4,#3953a4,#3953a4,#3953a4,#3953a4,#3953a4,#3953a4,#3953a4,#3953a4,#3953a4,#3953a4,#3953a4,#3b54a5,#3a54a5,#3a54a5,#3a54a5,#3953a4,#3a53a4,#3953a4,#3953a4,#3953a4,#3a54a5,#3953a4,#3953a4,#3953a4,#3b54a5,#3a54a5,#3a54a5,#3953a4,#3953a4,#3a54a5,#3a54a5,#3a53a4,#3b54a5,#3c55a6,#3b54a5,#3b55a6,#4057a7,#4459a9,#4459a9,#4258a8,#4f5fac,#495caa,#4d5eab,#4e5fac,#475ba9)"></i><i style="height:4px;background:linear-gradient(90deg,#767dbc,#7c83bf,#6b74b7,#767ebc,#6f76b8,#6871b6,#6770b5,#7179ba,#747cbb,#7179b9,#7078b9,#747bbb,#6c74b7,#6870b5,#656eb4,#5c66b0,#6b73b7,#6972b6,#5b65b0,#5462ae,#656eb4,#5d67b1,#666fb5,#5160ad,#5763ae,#5763ae,#5663ae,#5462ad,#4b5dab,#4b5dab,#4c5dab,#495caa,#475ba9,#455aa9,#4157a7,#3c55a6,#3b55a6,#3a54a5,#3a54a5,#3b55a6,#3b54a5,#3a54a5,#3a54a5,#3a54a5,#3a54a5,#3a54a5,#3b54a5,#3a54a5,#3953a4,#3953a4,#3a54a5,#3a54a5,#3a54a5,#3a54a5,#3c55a6,#3b54a5,#3b54a5,#3b54a5,#3a54a5,#3b54a5,#3a53a4,#3a54a5,#3953a4,#3b54a5,#3a54a5,#3a54a5,#3a54a5,#3c55a6,#3c55a6,#3b54a5,#3a54a5,#3a54a5,#3c55a6,#3b55a6,#3b54a5,#4258a8,#4459a9,#4158a8,#4359a8,#4a5caa,#5160ad,#4e5fac,#4c5eab,#5f69b1,#5964af,#5a65af,#5d67b0,#5562ae)"></i><i style="height:4px;background:linear-gradient(90deg,#888dc4,#9296c9,#7c82bf,#8a8fc5,#7b82be,#777ebc,#767dbc,#8288c2,#8b90c6,#848ac2,#848ac2,#898ec5,#8086c0,#7f85c0,#7a81be,#737bbb,#8086c0,#8187c1,#7179ba,#656eb4,#7d84bf,#737bbb,#7e84bf,#5f69b2,#6d75b8,#666fb5,#6770b5,#646db4,#5663ae,#5763ae,#5763ae,#5562ae,#5361ad,#5361ad,#4f5fac,#485baa,#4459a8,#3d55a6,#3c55a6,#4158a8,#4158a8,#3b54a5,#3b54a5,#3c55a6,#3b54a5,#3b54a5,#3c55a6,#3b55a6,#3a53a4,#3b54a5,#3b54a5,#3b54a5,#3b55a6,#3c55a6,#4258a8,#3c55a6,#3e56a7,#3c55a6,#3b54a5,#3c55a6,#3b54a5,#3a54a5,#3a54a5,#3e56a7,#3b54a5,#3b54a5,#3b55a6,#4359a8,#4258a8,#3c55a6,#3c55a6,#3c55a6,#465aa9,#455aa9,#3f57a7,#4f5fac,#5060ac,#4c5eab,#5060ac,#5562ae,#5d67b0,#5965af,#5964af,#777ebc,#7078b9,#737bbb,#747cbb,#6770b5)"></i><i style="height:4px;background:linear-gradient(90deg,#9ca0ce,#a5a9d3,#8e93c7,#a1a5d0,#878cc4,#888dc4,#8187c1,#979bcc,#a2a5d1,#979bcc,#9b9fce,#a0a4d0,#9599ca,#9499ca,#8d92c7,#8c91c6,#9498ca,#9a9ecd,#888dc4,#7b81be,#8f94c8,#8288c1,#8c91c6,#737bbb,#858bc3,#7980bd,#7c82be,#7980bd,#676fb5,#6a73b7,#6a72b6,#656eb4,#616bb2,#636db3,#5c66b0,#5562ae,#505fac,#485caa,#465aa9,#4b5dab,#4c5dab,#4057a7,#3e56a7,#4158a8,#3c55a6,#3d55a6,#4057a7,#3e56a7,#3b54a5,#3c55a6,#3c55a6,#3f57a7,#3d56a6,#4158a8,#495caa,#4158a8,#4359a8,#4158a8,#3f57a7,#4157a7,#3d56a6,#3b55a6,#3b55a6,#455aa9,#4057a7,#3c55a6,#3e56a7,#4a5caa,#495caa,#455aa9,#495caa,#475ba9,#5160ad,#5060ac,#4c5eab,#5b66b0,#5c66b0,#5864af,#5d67b1,#666fb5,#6d75b8,#6b74b7,#7078b9,#888dc4,#858bc3,#8d92c7,#858ac3,#7980bd)"></i><i style="height:4px;background:linear-gradient(90deg,#acafd6,#b3b6da,#a0a4d0,#b3b6d9,#9296c9,#999dcc,#898ec5,#a9acd4,#b2b5d9,#a6a9d3,#aeb1d7,#b0b3d8,#a6aad3,#a5a9d3,#9ca0ce,#a3a7d2,#a4a7d2,#aeb1d7,#9da1ce,#8b8fc5,#9da1cf,#8b90c5,#9599ca,#8187c1,#9a9ecd,#888dc4,#8b90c5,#888ec4,#777ebc,#7d83bf,#7d83bf,#777ebc,#747bbb,#797fbd,#7179ba,#656eb4,#5b65b0,#5361ad,#5160ac,#5663ae,#5663ae,#4b5dab,#495caa,#4a5dab,#455aa9,#475ba9,#475baa,#465aa9,#4057a7,#465aa9,#4359a8,#495caa,#4459a8,#4a5caa,#5160ac,#4a5caa,#495caa,#485baa,#4b5dab,#475ba9,#485baa,#4057a7,#4158a8,#4d5eab,#4b5dab,#4158a7,#465aa9,#5160ad,#5060ac,#4e5fac,#5663ae,#5462ad,#5b66b0,#5b66b0,#5964af,#6e76b8,#6d75b8,#6770b5,#7179ba,#787fbd,#7980bd,#7b82be,#858bc3,#9498ca,#979ccc,#a5a9d2,#9095c8,#858bc3)"></i><i style="height:4px;background:linear-gradient(90deg,#b8badc,#bbbddd,#aaadd5,#bbbddd,#9fa2cf,#a2a6d1,#9297c9,#b1b4d8,#b8badc,#adb0d6,#b5b7da,#bcbede,#b7badb,#b2b5d9,#a6aad3,#b1b4d8,#b0b3d8,#babddd,#a8abd4,#979ccc,#a5a9d3,#9397c9,#9a9ecd,#8e92c7,#a5a8d2,#9599ca,#969acb,#9297c9,#878cc3,#8b90c5,#8d92c6,#858bc3,#848ac2,#8d92c7,#858ac3,#787fbd,#6c75b7,#606ab2,#5c66b0,#606ab2,#616ab2,#5763af,#5563ae,#5763af,#5261ad,#5261ad,#5060ac,#505fac,#4c5eab,#5160ac,#4c5eab,#5160ad,#4c5dab,#5160ad,#5864af,#5462ad,#5160ad,#5260ad,#5562ae,#4f5fac,#5160ad,#4b5dab,#4c5dab,#5663ae,#5764af,#4a5caa,#5060ac,#5964af,#5964af,#5864af,#666fb4,#616ab2,#6972b6,#7077b9,#6d76b8,#7e84c0,#7c83bf,#7980bd,#8288c1,#878dc4,#868cc3,#858ac3,#9499ca,#9fa3d0,#a5a9d3,#b4b7da,#9a9fcd,#8e93c7)"></i><i style="height:4px;background:linear-gradient(90deg,#c1c3e0,#bfc1e0,#b0b3d8,#bdc0df,#abafd6,#a8abd4,#9a9ecd,#b4b7da,#b9bbdc,#b1b4d8,#b5b8db,#c5c7e3,#c7c9e4,#bdc0df,#aeb1d7,#babcdd,#bbbddd,#c3c5e2,#afb2d7,#a1a5d0,#abaed5,#9a9ecd,#9da1cf,#9a9fcd,#abafd6,#a0a4d0,#9da1ce,#999dcd,#989ccc,#999dcd,#9ea2cf,#9397c9,#969acb,#a6a9d3,#9b9fce,#8a8fc5,#7d84bf,#727aba,#6f77b9,#6e76b8,#6f77b9,#6b73b7,#6870b5,#6c75b7,#666fb5,#5f68b1,#5965af,#5b65b0,#5a65af,#5a65b0,#5763ae,#5a65af,#5361ad,#5763af,#636cb3,#606ab2,#5a65af,#5e68b1,#626bb3,#5763ae,#5a65af,#5663ae,#5663ae,#636cb3,#6a73b6,#5462ae,#5c66b0,#666fb5,#6770b5,#6871b5,#7980bd,#737aba,#757cbc,#848ac2,#848ac2,#8d92c7,#8a8fc5,#8b90c5,#9398ca,#989ccc,#969acb,#8c91c6,#a0a4d0,#aaadd5,#b1b4d9,#bfc1e0,#a3a7d1,#969acb)"></i><i style="height:4px;background:linear-gradient(90deg,#c9cae4,#c2c4e1,#b5b7da,#bfc1df,#b6b9db,#acafd6,#a1a5d0,#b5b8db,#b8bbdc,#b3b6d9,#b5b8da,#cdcee6,#d5d7eb,#c6c8e3,#b4b6da,#c1c3e0,#c3c5e2,#cacce5,#b4b7da,#a9acd5,#afb2d7,#a0a3d0,#a0a4d0,#a6aad3,#b1b4d9,#abaed5,#a4a7d2,#9fa3cf,#a9acd4,#a6aad3,#aeb1d7,#a0a4d0,#a7aad3,#bbbede,#b0b3d8,#9ea2cf,#8d92c7,#8389c2,#8187c1,#7a81be,#7c82be,#8086c0,#7d83bf,#8388c2,#7f85c0,#7279ba,#666fb5,#6c74b7,#7078b9,#6b73b7,#656eb4,#666fb5,#5b65b0,#5e68b1,#7078b9,#737bbb,#6972b6,#737aba,#757cbb,#606ab2,#6871b6,#6770b5,#666fb4,#757dbc,#8187c1,#616ab2,#7179ba,#757cbb,#777ebc,#7a81be,#8c91c6,#8489c2,#8086c0,#999ecd,#9da1cf,#9da1cf,#989ccc,#9fa3cf,#a5a8d2,#a8abd4,#a5a8d2,#9499ca,#abaed5,#b3b6d9,#bcbede,#cacbe5,#abaed5,#9da1ce)"></i><i style="height:4px;background:linear-gradient(90deg,#ced0e7,#c2c4e1,#b8bbdc,#c2c4e1,#bbbddd,#b3b6d9,#a5a9d3,#babddd,#b8badc,#b6b8db,#babcdd,#cfd1e8,#dedfef,#c5c7e3,#b5b8db,#c4c6e2,#c4c6e2,#cdcee6,#b7b9db,#b1b4d9,#b0b3d8,#a5a9d3,#9fa3cf,#acafd6,#b4b7da,#b8bbdc,#abaed5,#a5a9d3,#b3b6da,#b1b4d8,#bec1df,#afb3d8,#b1b4d8,#c7c9e3,#bfc1df,#a8acd4,#9da1ce,#8e93c7,#8e93c7,#858bc3,#858bc3,#8e92c7,#898ec5,#9195c8,#9297c9,#8187c1,#757cbc,#7a81be,#878cc3,#7e84c0,#757cbb,#757dbc,#676fb5,#6b74b7,#7c83bf,#868cc3,#767ebc,#8288c1,#888dc4,#6b73b7,#7c82be,#7c83bf,#797fbd,#868cc3,#999dcd,#757cbb,#8288c1,#8389c2,#8489c2,#888ec4,#a3a7d2,#959acb,#888dc4,#a6aad3,#b1b4d8,#aaadd5,#9fa3d0,#adb0d6,#b3b6d9,#b3b6d9,#aeb1d7,#9da1cf,#b9bbdc,#b6b9db,#c7c9e4,#d1d3e9,#afb2d8,#a4a7d2)"></i><i style="height:4px;background:linear-gradient(90deg,#d0d1e8,#c0c2e0,#bcbede,#c4c6e2,#babddd,#b9bcdd,#a8acd4,#bfc1e0,#b8badc,#b8badc,#bfc1e0,#ced0e7,#e2e3f1,#c1c3e0,#b6b9db,#c3c5e1,#c3c5e1,#cccee6,#b9bbdc,#babddd,#b2b5d9,#aeb1d7,#a3a7d1,#afb2d7,#b6b9db,#c4c6e2,#b2b5d9,#adb0d6,#babcdd,#b8badc,#cacce5,#bec0df,#b9bbdc,#cbcde6,#c5c7e2,#adb0d6,#abaed5,#999dcc,#9a9ecd,#9095c8,#8c91c6,#979bcc,#9095c8,#969bcb,#9ea2cf,#8f94c7,#848ac2,#868cc3,#9b9fce,#9297c9,#8389c2,#8288c1,#747bbb,#7a81be,#8a8fc5,#9b9fce,#858ac3,#9498ca,#9da1ce,#777ebd,#9195c8,#9297c9,#8b90c5,#9a9ecd,#afb2d7,#898ec4,#9498ca,#959acb,#9196c8,#999dcd,#b5b8db,#a7aad3,#9498ca,#acafd6,#bdbfde,#b3b6da,#a2a5d1,#b6b9db,#bcbede,#babcdd,#b3b6da,#a9add5,#c4c6e2,#b7badc,#d0d1e8,#d4d6ea,#b5b7da,#acafd6)"></i><i style="height:4px;background:linear-gradient(90deg,#d0d1e8,#c0c2e0,#c0c2e0,#c6c8e3,#b9bcdd,#bfc2e0,#adb0d7,#c4c6e2,#babddd,#b9bcdd,#c5c7e2,#cccee6,#e3e4f1,#bec0df,#b9bcdc,#c1c3e0,#c3c5e1,#cccee6,#bcbede,#c3c6e2,#b7b9db,#babddd,#aeb1d7,#b3b5d9,#b8badc,#ced0e7,#bbbddd,#b5b8db,#bec1df,#bdbfde,#d2d3e9,#cacce5,#c1c3e1,#cdcfe6,#c7c9e3,#b1b4d8,#b9bbdc,#a6a9d3,#a4a8d2,#9da1ce,#9296c9,#9fa3d0,#969acb,#999dcc,#a6aad3,#9da1cf,#979ccc,#9599ca,#abafd6,#a6aad3,#9296c9,#8e92c7,#8389c2,#8b90c6,#9da1ce,#aeb1d7,#989dcc,#abaed5,#b0b3d8,#878cc4,#a8acd4,#aaadd5,#a1a5d1,#aeb1d7,#bfc1df,#a1a5d1,#a7aad3,#abaed5,#a2a5d1,#abaed5,#c2c4e1,#b7badc,#a3a7d2,#afb2d8,#c5c7e3,#bbbede,#a4a8d2,#bec1df,#c3c5e1,#bec1df,#b9bbdc,#b8bbdc,#cccee6,#babddd,#d5d6ea,#d4d6ea,#bcbfde,#b6b9db)"></i><i style="height:4px;background:linear-gradient(90deg,#d4d6ea,#c6c8e3,#c9cbe4,#c9cbe4,#bdbfde,#c7c9e4,#b2b5d9,#cccee6,#c1c3e1,#c0c2e0,#cdcfe6,#cfd0e7,#e4e5f2,#c6c8e3,#c0c2e0,#c5c7e2,#cacbe5,#d0d2e8,#c2c4e1,#c9cae4,#bfc1df,#c3c5e2,#bbbddd,#bbbddd,#bfc1e0,#d5d7ea,#c4c6e2,#c0c3e0,#c7c9e4,#c7c9e3,#d9daec,#d2d4e9,#cccee6,#d3d5ea,#cbcde6,#bcbfde,#c6c8e3,#b4b7da,#b1b4d9,#adb0d6,#9da1ce,#a9acd4,#a3a7d1,#a0a4d0,#b0b3d8,#afb2d8,#aaadd5,#a4a8d2,#b9bcdd,#b7badc,#a0a4d0,#9da1ce,#999dcc,#9fa3cf,#b2b5d9,#bdc0df,#afb2d7,#c3c5e1,#bfc2e0,#a2a6d1,#c0c2e0,#bfc1df,#b9bcdc,#c3c5e2,#cdcee6,#b4b7da,#b7badc,#bcbede,#b4b7da,#babddd,#d0d2e8,#c8cae4,#b3b6da,#b9bcdd,#cccde6,#c3c5e1,#adb0d6,#c7c9e4,#c9cbe4,#c3c5e2,#c1c3e0,#c5c7e3,#d4d5ea,#c5c7e3,#dbdced,#d8d9ec,#c5c7e2,#bdc0df)"></i><i style="height:4px;background:linear-gradient(90deg,#e1e2f0,#d4d5ea,#dadced,#d3d5ea,#c9cbe4,#d7d8eb,#bdbfde,#dcddee,#d1d2e8,#cfd1e7,#dddeee,#dadbed,#ebecf5,#d9daec,#cfd1e7,#d0d1e8,#d8d9ec,#dadbed,#cecfe7,#cfd1e8,#cccde6,#cdcfe7,#cacce5,#c7c9e3,#cbcde5,#dddeee,#d0d1e8,#ced0e7,#d4d5ea,#d5d7eb,#e2e3f1,#dbdced,#dadbed,#dedfef,#d3d4e9,#cdcfe6,#d5d7eb,#c5c7e2,#c3c5e1,#c1c3e1,#aeb1d7,#b6b9db,#b7badb,#adb1d7,#bec1df,#c6c8e3,#bfc1df,#b7badb,#c8cae4,#cacce5,#afb2d8,#afb2d8,#b4b7da,#b4b7da,#c9cbe4,#cbcde5,#c5c7e2,#dadbed,#cccee6,#c0c2e0,#d6d8eb,#d0d1e8,#cfd1e8,#d7d8eb,#d8d9ec,#c3c5e2,#c5c7e3,#cacce5,#c7c9e3,#c8cae4,#dfe0ef,#d9daec,#c6c7e3,#c7c9e3,#d3d4e9,#cccde6,#babddd,#d3d4e9,#d1d3e8,#cacce5,#cccee6,#d3d5ea,#dedfef,#d7d8eb,#e3e4f1,#e0e1f0,#d0d1e8,#c6c8e3)"></i><i style="height:4px;background:linear-gradient(90deg,#f3f4f9,#e8e9f4,#f3f3f9,#e4e5f2,#dcddee,#ecedf6,#cfd0e7,#f3f3f9,#e7e8f3,#e4e5f2,#f3f3f9,#ececf5,#f9fafc,#f2f2f9,#e4e4f2,#e0e1f0,#ebebf5,#e8e9f4,#dddeee,#dadbed,#dcddee,#dadbed,#dcddee,#d6d7eb,#d9daec,#e6e7f3,#dddfef,#dfe0ef,#e3e4f1,#e6e7f3,#edeef6,#e6e7f3,#eaeaf4,#eaebf5,#dddeee,#e0e1f0,#e8e9f4,#dadbed,#d8daec,#dbdced,#c3c5e2,#c8cae4,#cfd1e8,#bfc1df,#d1d3e8,#e1e2f0,#d7d9ec,#cccee6,#dadbed,#dee0ef,#c1c3e1,#c3c5e2,#d2d3e9,#cacce5,#e0e1f0,#d9daec,#d9daec,#eeeff7,#d7d8eb,#dcddee,#eaebf5,#dfe0ef,#e4e5f2,#e8e9f4,#e0e1f0,#d1d2e8,#d2d4e9,#d7d8eb,#d9daec,#d6d8eb,#eeeff7,#eaebf5,#d9daec,#d6d8eb,#dcddee,#d7d8eb,#c9cbe5,#e1e2f0,#dbdded,#d3d5ea,#dadbed,#e4e5f2,#eaebf5,#eaeaf4,#eeeef7,#eaeaf5,#dddeee,#d1d3e8)"></i><i style="height:4px;background:linear-gradient(90deg,#fef8f9,#fdfdfe,#fdf0f0,#f9f9fc,#f1f1f8,#fff,#eaeaf5,#fef5f6,#fcfcfd,#f7f8fb,#fef5f6,#fffefe,#fdf3f3,#fef4f5,#f8f8fb,#f4f4f9,#fefeff,#fbfbfd,#eeeef6,#eaebf5,#edeef6,#ecedf6,#efeff7,#e7e8f3,#e9eaf4,#f2f2f8,#edeef6,#eeeff7,#f3f3f9,#f3f3f9,#f2f3f9,#eff0f7,#fefeff,#f8f8fc,#e6e7f3,#eeeff7,#fdfdfe,#f3f3f9,#ebecf5,#f2f3f9,#d7d8eb,#e0e1f0,#e9eaf4,#d2d4e9,#e3e4f1,#f9f9fc,#f4f4f9,#e2e3f1,#efeff7,#f4f5fa,#d7d9eb,#d7d9eb,#e9e9f4,#e1e2f0,#f5f5fa,#eaeaf4,#ededf6,#fffcfc,#e4e5f2,#f1f2f8,#f9f9fc,#eff0f7,#f5f5fa,#f7f7fb,#eaebf5,#e1e2f0,#e1e2f0,#e6e6f2,#ededf6,#e8e9f4,#fafafc,#fcfcfd,#ededf6,#dfe0ef,#e8e8f4,#e3e4f1,#d8d9ec,#f1f1f8,#eaebf5,#e3e4f1,#eaebf5,#f5f5fa,#fbfbfd,#f7f7fb,#fbfbfd,#f1f2f8,#ebecf5,#e0e1f0)"></i><i style="height:4px;background:linear-gradient(90deg,#fce9ea,#fdf0f1,#f9d6d8,#fdf3f3,#fef9fa,#fdf1f2,#fef9f9,#fbe3e4,#fdf2f3,#fef7f8,#fbe2e3,#fcedee,#fbe1e2,#fbe1e2,#fef6f6,#fef8f8,#fdeff0,#fdf1f1,#fff,#fefeff,#fffefe,#fffefe,#fffcfc,#fbfbfd,#fcfcfd,#fff,#fff,#fff,#fefbfb,#fefeff,#f6f6fb,#f9f9fc,#fdeeee,#fef9f9,#eff0f7,#fafafc,#fdf0f0,#fef5f5,#fbfcfd,#fef8f8,#e9eaf4,#f9f9fc,#fffdfd,#e6e7f3,#f2f2f9,#fdf2f3,#fdf1f2,#f6f6fa,#fefbfb,#fef7f7,#eeeff7,#eaebf5,#fafbfd,#f6f6fb,#fef8f8,#fcfcfd,#fff,#fcebec,#f4f4f9,#fefbfb,#fef9f9,#fffefe,#fefafa,#fefafa,#f4f5fa,#f3f4f9,#f2f2f8,#f5f5fa,#fffefe,#fbfbfd,#fefafa,#fdf4f4,#fff,#e4e5f2,#f4f4fa,#eff0f7,#e6e7f3,#fffdfd,#fafafd,#f6f6fb,#fafafd,#fefafa,#fdf4f4,#fffdfd,#fef6f7,#f8f8fc,#f9f9fc,#f1f1f8)"></i><i style="height:4px;background:linear-gradient(90deg,#fad9da,#fbe0e1,#f7c3c5,#fbe0e1,#fbe5e6,#fce8e9,#fbe3e5,#f9d4d6,#fbe5e6,#fcecec,#f9d2d4,#faddde,#f9d3d5,#f9d2d4,#fce9ea,#fce9ea,#fadedf,#fbe0e1,#fdf0f1,#fdeeee,#fdeeef,#fdefef,#fcebec,#fdf0f1,#fdefef,#fdefef,#fceaeb,#fdefef,#fceced,#fef4f5,#fff,#fef9f9,#fadddf,#fceced,#fefefe,#fef8f8,#fbe5e6,#fce7e8,#fef7f8,#fcebec,#fdfdfe,#fdf1f1,#fceaeb,#fcfcfe,#fdfdfe,#fce7e8,#fbe0e1,#fef8f8,#fce8e9,#fceaeb,#fefbfb,#fffefe,#fef6f7,#fef8f9,#fceded,#fdf4f4,#fdf1f2,#fbdfe0,#fefbfb,#fceded,#fdeeef,#fdeff0,#fceced,#fdeeef,#fffefe,#fef9fa,#fffdfd,#fef9fa,#fdeff0,#fef5f5,#fdefef,#fce8e9,#fef5f6,#eeeff7,#fffdfd,#fdfdfe,#f9f9fc,#fdf1f1,#fef6f6,#fef6f6,#fef6f6,#fdf1f2,#fbe5e6,#fdf2f2,#fce9ea,#fefbfc,#fef9f9,#fffcfc)"></i><i style="height:4px;background:linear-gradient(90deg,#f8cdcf,#f8cfd1,#f6b9bb,#f8ccce,#f9d4d5,#fadcdd,#f9d5d6,#f8c9cb,#fad9da,#faddde,#f8c8ca,#f8d0d2,#f7c7c9,#f7c8ca,#fadcdd,#faddde,#f8ced0,#f8d0d2,#fbe0e1,#fadbdc,#fadedf,#fbe0e1,#f9d7d9,#fbe0e1,#fadcdd,#fadddf,#f9d6d7,#fadbdd,#fadbdd,#fce9ea,#fdeff0,#fce8e9,#f9d1d3,#fbdfe0,#fdf3f4,#fce8e9,#fadbdd,#fadee0,#fceaea,#fbdfe0,#fdf1f1,#fbe3e4,#fadedf,#fdf0f1,#fef5f6,#fbe0e1,#f9d6d8,#fce7e8,#fad8da,#fadedf,#fcebec,#fdeeef,#fce6e7,#fceced,#fadee0,#fceaeb,#fbe3e5,#f9d3d4,#fdeeef,#fbe0e1,#fbe2e4,#fbe1e3,#fadedf,#fbe4e5,#fdf4f4,#fcedee,#fdeeef,#fcebec,#fbe5e6,#fceaeb,#fbe3e5,#faddde,#fceced,#fff,#fceded,#fef8f8,#fef5f5,#fbe5e6,#fceced,#fceaea,#fce9ea,#fbe5e6,#fadadb,#fbe2e4,#fadfe0,#fdeff0,#fce9ea,#fdf0f0)"></i><i style="height:4px;background:linear-gradient(90deg,#f7c3c5,#f7c0c2,#f6b4b6,#f6b8ba,#f7c4c6,#f8d0d1,#f8cacc,#f7c0c2,#f8cdcf,#f8ced0,#f7c1c3,#f7c5c7,#f6bdbf,#f7bfc1,#f8cfd1,#f9d3d5,#f7bfc1,#f7c2c4,#f9d1d3,#f8c9cb,#f8ced0,#f9d3d4,#f7c3c5,#f9d1d3,#f8cbcd,#f8cdcf,#f7c4c6,#f7c8ca,#f8cbcd,#fadee0,#faddde,#f9d5d7,#f7c6c8,#f9d3d5,#fce6e7,#f9d6d8,#f9d2d4,#f9d7d9,#fadadc,#f9d4d6,#fbe1e2,#f9d8d9,#f9d5d6,#fbe1e2,#fceaeb,#fad9db,#f8cfd1,#f9d7d8,#f8c9cb,#f9d2d4,#fadddf,#fbdfe1,#f9d5d7,#fbe1e2,#f8d0d1,#fbe2e3,#f9d6d8,#f7c6c8,#fbe1e3,#f9d3d5,#f9d7d9,#f9d5d6,#f8cfd1,#fadbdc,#fce9ea,#fbe2e4,#fbe0e1,#fadedf,#fadedf,#fbe0e1,#fad9da,#f9d1d3,#fbe2e3,#fdeff0,#fadcdd,#fdeff0,#fce6e7,#fadbdc,#fbe4e5,#fbdfe0,#fadddf,#f9d7d9,#f8d0d2,#f9d2d4,#f9d6d8,#fbe2e4,#fad8d9,#fbe5e6)"></i><i style="height:4px;background:linear-gradient(90deg,#f7bec0,#f6b6b8,#f6b4b6,#f5a9ab,#f6b9bb,#f8c8ca,#f7c3c5,#f6bcbe,#f7c6c8,#f7c4c6,#f7bfc1,#f7c0c2,#f6b8ba,#f6bbbd,#f7c7c9,#f8cfd1,#f6b6b8,#f6babc,#f7c8ca,#f6bdbf,#f7c5c7,#f8ccce,#f6b4b6,#f8c8ca,#f7c0c2,#f7c3c5,#f6b7b9,#f6babc,#f7bfc1,#f9d7d8,#f8ccce,#f7c4c6,#f6bdbf,#f7c8ca,#fadbdd,#f7c6c8,#f8cacc,#f9d1d3,#f8cdcf,#f8cacc,#f9d3d5,#f8ced0,#f8cdcf,#f9d3d5,#fbe0e1,#f9d5d6,#f8cacc,#f7c8ca,#f6bcbe,#f8c9cb,#f9d1d3,#f9d2d4,#f7c5c7,#fad8d9,#f7c2c4,#fadbdd,#f8cbcd,#f6bcbe,#f9d7d8,#f7c8ca,#f8cdcf,#f8c9cb,#f7c3c5,#f9d3d4,#fbe0e1,#fadadb,#f9d3d5,#f9d2d4,#f9d7d9,#fad8d9,#f8d0d2,#f7c7c9,#fadadc,#fbe1e2,#f8cdcf,#fce9e9,#fad9db,#f9d1d3,#fadedf,#f9d6d8,#f9d3d5,#f8cbcd,#f7c8ca,#f7c3c5,#f8d0d1,#f9d7d9,#f8c8ca,#fadbdc)"></i><i style="height:4px;background:linear-gradient(90deg,#f6bdbf,#f6b6b8,#f6b7b9,#f5aaac,#f6b4b6,#f8cbcd,#f7bec0,#f7bfc1,#f7c4c6,#f7c6c8,#f7bec0,#f7c0c2,#f6bcbe,#f6bbbd,#f7c7c9,#f8cfd1,#f5b2b4,#f6babc,#f8c8ca,#f6bcbe,#f7c6c8,#f8cfd1,#f6b4b6,#f8cbcd,#f7bec0,#f7bfc1,#f5b2b4,#f6b6b8,#f6bbbd,#f9d1d3,#f7c3c5,#f6b8ba,#f6b4b6,#f7c0c2,#f8d0d2,#f6bdbf,#f7c6c8,#f8cacc,#f7c4c6,#f7c4c6,#f7c6c8,#f7c2c4,#f7c2c4,#f8c8ca,#fadbdd,#f9d2d4,#f7c3c5,#f7bfc1,#f5b2b4,#f7c2c4,#f8cacc,#f7c5c7,#f6bcbe,#f8cdcf,#f7bec0,#f9d5d6,#f7c5c7,#f5b3b5,#f8cfd1,#f7c0c2,#f7c4c6,#f7c0c2,#f6b8ba,#f8c8ca,#fadbdc,#f9d3d5,#f8cbcd,#f7c5c7,#f8d0d2,#f9d2d4,#f8cacc,#f6bdbf,#f9d6d8,#f9d6d8,#f7c3c5,#fbe1e2,#f8cbcd,#f8ccce,#fad9da,#f8cdcf,#f8cbcd,#f7c2c4,#f7c0c2,#f6b7b9,#f7c7c9,#f8ced0,#f7c3c5,#f8cfd1)"></i><i style="height:4px;background:linear-gradient(90deg,#f7bec0,#f6bcbe,#f6bdbf,#f5b3b5,#f5b3b5,#f9d3d5,#f6bbbd,#f7c6c8,#f7c7c9,#f8ced0,#f7bec0,#f7c5c7,#f7c4c6,#f7c0c2,#f8ccce,#f9d2d4,#f5b3b5,#f7bfc1,#f8cfd1,#f7c1c3,#f8ccce,#fad9da,#f6bbbd,#f9d5d6,#f7c3c5,#f7c0c2,#f5b3b5,#f6b9bb,#f6bdbf,#f8ced0,#f7c0c2,#f5b0b2,#f5aeb0,#f6b9bb,#f7c7c9,#f6b8ba,#f7c4c6,#f7c4c6,#f7bec0,#f7c0c2,#f6babc,#f6b7b9,#f6b6b8,#f7bfc1,#fad9db,#f8d0d2,#f6bec0,#f6babc,#f5aaac,#f6bdbf,#f7c6c8,#f6b8ba,#f6b5b7,#f7c4c6,#f7bec0,#f8ced0,#f7c3c5,#f5adaf,#f8cacc,#f6bbbd,#f6bbbd,#f6b9bb,#f5b0b2,#f6bdbf,#fad8d9,#f8ced0,#f7c4c6,#f6b9bb,#f8cacc,#f8cdcf,#f7c5c7,#f6b5b7,#f9d4d6,#f8ced0,#f6bcbe,#fad9db,#f6bdbf,#f7c8ca,#f9d4d6,#f7c5c7,#f7c3c5,#f6bcbe,#f6b9bb,#f5afb1,#f6bec0,#f7c6c8,#f7c2c4,#f7c4c6)"></i><i style="height:4px;background:linear-gradient(90deg,#f7c3c5,#f7c6c8,#f7c4c6,#f7c1c3,#f6b8ba,#fadadc,#f6bbbd,#f8cdcf,#f8ccce,#f9d7d9,#f7c0c2,#f8cbcd,#f8cdcf,#f7c5c7,#f9d3d5,#f9d5d7,#f6b9bb,#f7c5c7,#f9d6d8,#f7c7c9,#f9d1d3,#fbe2e3,#f7c4c6,#fadee0,#f8ccce,#f7c5c7,#f6b8ba,#f7bec0,#f7c1c3,#f8ced0,#f7bfc1,#f5adaf,#f5aaac,#f6b5b7,#f7bfc1,#f6b5b7,#f7c2c4,#f6bdbf,#f6bbbd,#f7bfc1,#f5b2b4,#f5afb1,#f5aeb0,#f6bbbd,#f9d6d8,#f8cdcf,#f6b9bb,#f6b8ba,#f4a7a9,#f6babc,#f7c6c8,#f5b0b2,#f5b2b4,#f6bbbd,#f7bfc1,#f8c8ca,#f7c3c5,#f4a8aa,#f7c5c7,#f6b9bb,#f6b6b8,#f6b4b6,#f5aaac,#f6b4b6,#f9d4d6,#f8cacc,#f7bec0,#f5aeb0,#f7c4c6,#f7c7c9,#f7c1c3,#f5afb1,#f8d0d2,#f7c6c8,#f6b7b9,#f9d2d4,#f5b2b4,#f7c5c7,#f9d1d3,#f7bec0,#f6bdbf,#f6b5b7,#f5b3b5,#f5aaac,#f6b6b8,#f7c0c2,#f7c3c5,#f6babc)"></i><i style="height:4px;background:linear-gradient(90deg,#f8cbcd,#f8d0d2,#f8cfd1,#f8cacc,#f7c3c5,#fbe0e1,#f7c6c8,#f9d4d6,#f9d5d7,#fadfe0,#f8c9cb,#f9d3d5,#f9d4d5,#f8ced0,#faddde,#faddde,#f7c7c9,#f8cfd1,#fadcdd,#f8ced0,#f9d3d5,#fce8e9,#f8ccce,#fbe4e5,#f9d4d6,#f8ced0,#f7c0c2,#f7c4c6,#f7c7c9,#f9d5d7,#f7c2c4,#f5b2b4,#f5aaac,#f6b4b6,#f7bec0,#f6b6b8,#f7c1c3,#f7bfc1,#f6bdbf,#f7c1c3,#f5b3b5,#f5afb1,#f5b2b4,#f7bfc1,#f9d4d6,#f7c7c9,#f6b8ba,#f6b8ba,#f5aeb0,#f6bcbe,#f7c3c5,#f5b1b3,#f6b6b8,#f6bbbd,#f6bdbf,#f7c5c7,#f7c6c8,#f5abad,#f7c2c4,#f6b9bb,#f6b8ba,#f6b4b6,#f5acae,#f5b2b4,#f9d2d4,#f7c6c8,#f6bbbd,#f4a8aa,#f7c2c4,#f6bcbe,#f6bbbd,#f5adaf,#f7c8ca,#f7c3c5,#f6b4b6,#f8cdcf,#f5b3b5,#f7c3c5,#f8cdcf,#f6bcbe,#f6bdbf,#f5b3b5,#f5afb1,#f5aaac,#f6b4b6,#f7bec0,#f7c4c6,#f6b6b8)"></i><i style="height:4px;background:linear-gradient(90deg,#f9d5d6,#fadbdd,#fadddf,#f9d1d3,#f8d0d1,#fce8e9,#f9d5d7,#faddde,#fbe2e3,#fce7e8,#f9d6d7,#faddde,#faddde,#fadbdd,#fce9ea,#fce8e9,#fad9da,#fadddf,#fbe2e3,#f9d7d9,#f9d8d9,#fdeff0,#f9d6d7,#fcebec,#fadedf,#fad8da,#f8cbcd,#f8cdcf,#f9d2d4,#fbe5e6,#f8cbcd,#f7c0c2,#f5b1b3,#f6babc,#f7c5c7,#f6bcbe,#f7c7c9,#f8c8ca,#f7c7c9,#f8c8ca,#f6bbbd,#f6b6b8,#f7bec0,#f8cacc,#fad8da,#f7c8ca,#f6bec0,#f7bfc1,#f6bdbf,#f7c5c7,#f7c5c7,#f6b8ba,#f7bfc1,#f7c3c5,#f7c0c2,#f8cacc,#f8ced0,#f6b6b8,#f7c6c8,#f6bdbf,#f7bfc1,#f6babc,#f6b4b6,#f6b7b9,#f9d4d6,#f7c6c8,#f6bec0,#f4a8aa,#f7c6c8,#f6b5b7,#f6b8ba,#f5b1b3,#f7c3c5,#f7c4c6,#f6b6b8,#f8ccce,#f6babc,#f7c5c7,#f8cbcd,#f7c0c2,#f7c2c4,#f6b7b9,#f5b1b3,#f5b0b2,#f6b8ba,#f7c1c3,#f8c8ca,#f6b6b8)"></i><i style="height:4px;background:linear-gradient(90deg,#fbe0e1,#fce8e9,#fceded,#fadadc,#fadddf,#fdf1f1,#fce6e7,#fce7e8,#fdf0f1,#fdf1f2,#fbe3e5,#fce9e9,#fce7e8,#fceaeb,#fef7f7,#fdf4f5,#fcebec,#fceced,#fceaeb,#fbe1e3,#fadddf,#fef8f8,#fbe1e2,#fdf3f3,#fce9ea,#fbe4e5,#f9d7d9,#f9d7d9,#fbe0e2,#fef9f9,#fadadb,#f9d3d5,#f7bec0,#f7c5c7,#f8d0d2,#f7c7c9,#f9d1d3,#f9d6d8,#f9d5d7,#f9d4d6,#f7c8ca,#f7c2c4,#f8ced0,#fad9db,#fbe0e1,#f8ccce,#f7c7c9,#f8c9cb,#f8cfd1,#f9d3d5,#f8cacc,#f7c4c6,#f8cdcf,#f8cfd1,#f7c7c9,#f9d3d4,#fadadb,#f7c5c7,#f8cdcf,#f7c5c7,#f8cacc,#f7c3c5,#f7bec0,#f7bec0,#fadadb,#f8c8ca,#f7c3c5,#f5abad,#f8ccce,#f5b0b2,#f6b8ba,#f6b8ba,#f7c2c4,#f7c8ca,#f6babc,#f8ced0,#f7c4c6,#f8c9cb,#f8cdcf,#f7c7c9,#f8cbcd,#f6bdbf,#f6b5b7,#f6b8ba,#f7bec0,#f7c7c9,#f8cfd1,#f6b9bb)"></i><i style="height:4px;background:linear-gradient(90deg,#fceced,#fef6f6,#fef7f7,#fce7e8,#fce9ea,#fef9f9,#fdf4f4,#fdf1f1,#fffcfc,#fefbfb,#fdf0f1,#fdf2f2,#fdf4f4,#fef7f8,#fbfbfd,#fefefe,#fefbfc,#fef8f8,#fef6f6,#fce8e9,#fbe1e3,#fefeff,#fceaea,#fefafa,#fef6f6,#fdf3f3,#fbe5e6,#fbe4e5,#fdeff0,#f4f4f9,#fdeeee,#fce6e7,#f9d1d2,#f9d5d7,#fadcdd,#f9d1d3,#fadee0,#fbe4e5,#fbe3e5,#fbe5e6,#f9d6d8,#f9d1d3,#fadadb,#fbe6e7,#fceaeb,#f9d6d8,#f9d2d4,#f9d6d8,#fadddf,#fbe0e1,#f9d6d8,#f9d3d5,#fadbdd,#fad9da,#f8d0d2,#fadedf,#fce8e9,#f8cfd1,#f9d1d3,#f9d3d4,#f9d3d5,#f8ccce,#f7c6c8,#f7c7c9,#fbdfe0,#f8cacc,#f8c9cb,#f5b3b5,#f9d2d3,#f5b1b3,#f6bcbe,#f7c1c3,#f7c2c4,#f8ccce,#f7c0c2,#f9d2d4,#f8cbcd,#f8d0d2,#f9d2d4,#f8ced0,#f8d0d1,#f7c5c7,#f6babc,#f7c2c4,#f7c4c6,#f8cdcf,#f9d7d8,#f7c1c3)"></i><i style="height:4px;background:linear-gradient(90deg,#fef7f7,#fafafd,#fffefe,#fdf4f4,#fdf2f3,#fffefe,#fff,#fef9f9,#f7f8fb,#fbfbfd,#fefbfb,#fef8f9,#fefefe,#fbfbfd,#f0f0f8,#f2f3f9,#f3f3f9,#fdfdfe,#fcfcfe,#fceced,#fbe3e5,#f8f8fc,#fdf0f1,#fefeff,#fcfcfd,#fcfcfe,#fdf2f2,#fdeff0,#fefbfb,#e6e7f3,#fdfdfe,#fef6f7,#fbe3e4,#fbe5e6,#fce6e7,#fadadb,#fcedee,#fdf2f3,#fdf1f2,#fef7f7,#fbe5e6,#fbe0e1,#fbe3e4,#fdf0f1,#fdf2f3,#fbe1e2,#fadbdc,#fbe2e3,#fce8e8,#fceaeb,#fbe3e4,#fbe3e4,#fce8e9,#fbe0e1,#fad9db,#fce9ea,#fef5f5,#f9d6d7,#f9d4d5,#fbe2e3,#fadcde,#f9d6d8,#f8ced0,#f8d0d2,#fbe4e5,#f8cbcd,#f8d0d2,#f6bdbf,#f9d7d9,#f6b4b6,#f7c3c5,#f8cbcd,#f7c4c6,#f8cfd1,#f7c5c7,#f9d7d8,#f8cfd1,#f9d8d9,#fadadb,#f9d5d6,#f9d4d5,#f8ced0,#f7c2c4,#f8ced0,#f8ccce,#f9d4d6,#fbe0e1,#f8ccce)"></i><i style="height:4px;background:linear-gradient(90deg,#fdfefe,#eeeef7,#fbfbfd,#fffefe,#fef9f9,#fbfcfd,#f6f6fb,#fff,#eff0f7,#f5f5fa,#fafbfd,#fffdfd,#f2f3f9,#f1f1f8,#e8e8f4,#e9eaf4,#e6e7f3,#f5f5fa,#f1f1f8,#fdefef,#fbe4e5,#f4f4f9,#fef5f5,#fafafc,#f0f1f8,#eeeff7,#fffcfc,#fef9f9,#f9f9fc,#dddfee,#ebecf5,#fbfbfd,#fdf3f4,#fdf3f4,#fdf0f1,#fbe3e4,#fffcfc,#fefeff,#fff,#f4f5fa,#fdf3f4,#fdeeef,#fceaeb,#fef8f8,#fef9f9,#fce9ea,#fbe1e3,#fceced,#fdeff0,#fdf2f2,#fdeeee,#fdeff0,#fdf3f3,#fbe6e7,#fbe0e1,#fdf1f2,#fff,#fadadc,#f9d5d7,#fdeff0,#fbe4e5,#fbdfe0,#f9d5d7,#fad8da,#fce9ea,#f8cdcf,#f9d8d9,#f8c8ca,#fadedf,#f6bbbd,#f8cdcf,#f9d7d9,#f7c7c9,#f9d4d6,#f8cbcd,#fadbdc,#f9d4d6,#fadfe0,#fbe1e2,#fadcdd,#fad9da,#fad8da,#f8ccce,#fadbdd,#f9d6d8,#fadedf,#fcebeb,#fad9db)"></i><i style="height:4px;background:linear-gradient(90deg,#f1f2f8,#e5e6f2,#f3f4f9,#f6f6fb,#fff,#f7f7fb,#f0f1f8,#f4f5fa,#ececf6,#ebecf5,#f3f4f9,#fafafd,#edeef6,#ececf5,#dedfef,#e6e7f3,#dfe0ef,#ecedf6,#e8e9f4,#fefafa,#fceced,#ecedf6,#fff,#f1f1f8,#e8e9f4,#e5e6f2,#f9f9fc,#fbfbfd,#eeeff7,#d9daec,#dedfef,#ecedf6,#fefefe,#fff,#fef9f9,#fdf1f2,#f0f1f8,#f1f2f8,#f3f3f9,#e8e9f4,#fffefe,#fefbfb,#fef7f7,#fffdfd,#fffefe,#fdf1f2,#fce8e9,#fef5f5,#fef5f5,#fefafa,#fdf3f4,#fef6f6,#fef5f6,#fdf1f1,#fcecec,#fef7f7,#f8f8fc,#fbe3e4,#fadee0,#fef5f5,#fce7e8,#fbe4e5,#fadedf,#fbe1e2,#fceaeb,#f9d7d8,#fadddf,#f9d6d7,#fceaeb,#f8cbcd,#fadbdc,#fbe2e3,#f9d1d3,#fadddf,#f9d3d5,#fadedf,#fad9db,#fbe4e5,#fce7e8,#fbe3e4,#fbe1e2,#fbe1e3,#fadcdd,#fcecec,#fbe6e7,#fcebec,#fef5f5,#fbe5e6)"></i><i style="height:4px;background:linear-gradient(90deg,#e5e5f2,#dcddee,#e9eaf4,#ececf5,#f6f6fb,#f2f2f9,#eaebf5,#e7e7f3,#e9eaf4,#dfe0ef,#ecedf6,#f1f2f8,#e9e9f4,#e8e8f4,#d2d3e9,#e5e6f2,#d9daec,#e3e4f1,#dfe0ef,#f3f4f9,#fef6f7,#e2e3f1,#f0f1f8,#e5e6f2,#e0e1f0,#dddeee,#f0f0f8,#eeeef7,#e3e4f1,#d4d5ea,#d0d1e8,#dcdeee,#f0f1f8,#f3f3f9,#fcfdfe,#fcfcfd,#dedfef,#e6e7f3,#e8e9f4,#dddeee,#f3f4f9,#f5f6fa,#f6f7fb,#f9f9fc,#f8f9fc,#fef9fa,#fdf0f0,#fffefe,#fffdfd,#fafafc,#fef9f9,#fffcfd,#fef8f8,#fff,#fef9f9,#fffcfc,#f1f2f8,#fdeeef,#fcebec,#fef9fa,#fce9ea,#fce9e9,#fce8e9,#fcebec,#fcedee,#fbe4e5,#fbe4e5,#fbe4e5,#fef8f8,#fadedf,#fcebeb,#fcedee,#fadddf,#fce9ea,#fadddf,#fbe3e4,#fbe1e2,#fcebec,#fdeff0,#fceced,#fceced,#fceaeb,#fdeeee,#fffdfd,#fef7f8,#fefbfb,#fff,#fdeff0)"></i><i style="height:4px;background:linear-gradient(90deg,#d5d7ea,#d1d3e8,#dddfee,#dfe0ef,#ebecf5,#eaebf5,#e2e3f1,#d7d8eb,#e3e4f1,#d1d3e9,#e3e4f1,#e6e7f3,#e2e3f1,#e1e2f0,#c4c6e2,#e1e2f0,#d0d2e8,#d7d9ec,#d4d6ea,#e0e1f0,#fbfbfd,#d6d7eb,#dfe0ef,#d7d9eb,#d6d8eb,#d2d4e9,#e4e5f2,#dfe0ef,#d6d7eb,#cdcfe6,#c0c2e0,#cbcde5,#e1e2f0,#e5e6f2,#f2f2f9,#e8e9f4,#cccee6,#dbdced,#dddeee,#d2d4e9,#e6e6f3,#e5e6f2,#e1e2f0,#ecedf6,#ecedf6,#f7f8fb,#fffcfc,#f1f1f8,#f4f4fa,#eaebf5,#fafbfd,#f6f6fa,#fffefe,#eaeaf5,#f2f3f9,#f9f9fc,#e8e9f4,#fffcfc,#fefafa,#fdfdfe,#fdeff0,#fdf1f2,#fef6f6,#fef9f9,#fdf4f4,#fef5f5,#fcedee,#fef5f5,#f5f6fa,#fdf0f1,#fefbfb,#fef9f9,#fcebec,#fef8f9,#fcebec,#fcebec,#fceced,#fef6f6,#fefbfb,#fef8f8,#fefafa,#fef5f5,#fefefe,#ededf6,#f3f3f9,#f2f3f9,#f3f3f9,#fefafa)"></i><i style="height:4px;background:linear-gradient(90deg,#c4c6e2,#c3c5e1,#cfd1e7,#d1d3e8,#dddeee,#dddeee,#d7d8eb,#c8cae4,#d8d9ec,#c4c6e2,#d4d5ea,#dadbed,#dcddee,#d2d4e9,#b7badc,#d6d7eb,#c2c4e1,#cccde6,#c7c9e3,#cbcde5,#e8e9f4,#cbcde6,#cfd0e7,#c8c9e4,#cbcde5,#c9cbe5,#d3d4e9,#cbcde5,#c7c9e4,#c3c5e2,#b6b9db,#bdc0df,#d0d1e8,#d6d7eb,#e6e7f3,#d4d5ea,#b9bbdc,#cdcee6,#cfd0e7,#c9cbe5,#d7d8eb,#d5d6ea,#c9cbe5,#dbdced,#dcddee,#e4e5f2,#eff0f7,#d9daec,#e1e2f0,#d4d6ea,#e6e7f3,#e6e6f3,#f3f3f9,#d5d6ea,#dddeee,#e8e9f4,#dedfef,#f6f7fb,#eeeef6,#ebecf5,#fefbfb,#fefefe,#fbfbfd,#f2f3f9,#fdfdfe,#f7f7fb,#fffcfc,#f3f4f9,#e2e3f1,#fafafc,#f2f2f9,#f9f9fc,#fffdfd,#f7f7fb,#fffcfc,#fdf4f5,#fff,#fbfbfd,#f4f4f9,#f7f8fb,#f3f4f9,#f9f9fc,#eaebf5,#dcddee,#e2e3f1,#e1e2f0,#e9e9f4,#f5f5fa)"></i><i style="height:4px;background:linear-gradient(90deg,#b2b5d9,#b3b6d9,#c0c2e0,#c3c5e1,#ced0e7,#cecfe7,#cacce5,#bbbddd,#c9cbe5,#b8bbdc,#c3c5e2,#cdcfe6,#d7d8eb,#c0c2e0,#abaed6,#c9cbe4,#b1b4d8,#c0c2e0,#b9bcdc,#b6b9db,#d4d5ea,#c1c3e1,#bfc1df,#b8badc,#bfc2e0,#c1c3e1,#bfc1e0,#b6b8db,#b9bcdd,#b9bcdd,#afb2d8,#b2b5d9,#bfc1df,#c6c7e3,#dbdced,#c0c2e0,#a5a8d2,#bec1df,#bfc1df,#c2c4e1,#c8cae4,#c5c7e3,#b0b3d8,#c7c9e4,#c9cbe5,#d0d1e8,#d9daec,#bec1df,#cccee6,#bdbfde,#ced0e7,#d4d6ea,#e3e4f1,#c0c2e0,#c8cae4,#d4d5ea,#d5d6ea,#ebecf5,#d5d6ea,#d7d8eb,#f4f4f9,#eaeaf4,#edeef6,#dddeee,#ebecf5,#e2e3f1,#eff0f7,#dbdced,#cfd1e7,#e3e4f1,#e0e1f0,#ecedf6,#ebecf5,#e9e9f4,#eff0f7,#fffdfd,#e5e6f2,#ecedf6,#e3e4f1,#e7e7f3,#e1e2f0,#e5e6f2,#d7d9eb,#cdcfe6,#d2d4e9,#d0d2e8,#dfe0ef,#e3e4f1)"></i><i style="height:4px;background:linear-gradient(90deg,#a2a5d1,#a5a9d3,#b3b6da,#b7b9db,#c2c4e1,#c1c3e0,#c0c2e0,#afb2d7,#bec0df,#aeb1d7,#b5b7da,#c2c4e1,#d2d4e9,#b0b3d8,#a1a5d1,#bec0df,#a2a6d1,#b6b9db,#adb0d7,#a3a7d1,#c2c4e1,#b9bcdd,#b1b4d8,#aaaed5,#b6b9db,#bbbede,#aeb1d7,#a3a6d1,#adb0d7,#b1b4d8,#aaaed5,#a8abd4,#b0b3d8,#b8badc,#d1d3e8,#aeb1d7,#9397c9,#b2b5d9,#b2b5d9,#bcbede,#bcbfde,#b8bbdc,#9a9ecd,#b7b9db,#babcdd,#bec0df,#c5c7e3,#a7abd4,#babddd,#a8abd4,#babcdd,#c5c7e3,#d6d8eb,#aeb1d7,#b5b8db,#c2c5e1,#cdcfe6,#e2e3f1,#bec1df,#c5c7e3,#e6e7f3,#d8d9ec,#e2e3f1,#cbcde6,#dcddee,#d1d2e8,#dedfef,#c5c7e2,#bec1df,#cfd0e7,#d1d2e8,#e2e3f1,#d8d9ec,#dddeee,#dee0ef,#f9f9fc,#ced0e7,#e0e1f0,#d4d6ea,#d8daec,#d1d3e8,#d4d6ea,#c7c9e3,#c0c2e0,#c5c7e3,#c2c4e1,#d8daec,#d4d6ea)"></i><i style="height:4px;background:linear-gradient(90deg,#999dcc,#9ea2cf,#aaadd5,#b0b3d8,#bcbede,#b9bbdc,#b9bcdc,#adb1d7,#b6b9db,#a8acd4,#abafd6,#b7badc,#cacbe5,#a5a9d3,#9da1cf,#b6b8db,#9fa3d0,#b2b5d9,#a9add5,#9a9ecd,#b9bcdd,#b2b5d9,#a9acd4,#a6aad3,#adb0d6,#b2b5d9,#a3a7d2,#9a9ecd,#a4a8d2,#a9acd4,#a6a9d3,#a0a4d0,#aaadd5,#b1b4d9,#c9cae4,#a6aad3,#8a8fc5,#a9add5,#a9acd4,#b6b9db,#b7badc,#b1b4d8,#9095c8,#aeb1d7,#b1b4d8,#b5b8db,#b8bbdc,#9ea1cf,#afb2d8,#9a9fcd,#acafd6,#b9bcdd,#c9cbe4,#a4a8d2,#adb0d7,#bcbfde,#c6c8e3,#d6d8eb,#b6b9db,#c0c3e0,#dbdced,#ced0e7,#d4d5ea,#c2c4e1,#d5d6ea,#c5c7e2,#d5d7ea,#b5b8db,#b6b8db,#c2c4e1,#c6c8e3,#dadbed,#ced0e7,#cfd1e7,#d4d6ea,#edeef6,#c2c4e1,#d8d9ec,#c9cae4,#cecfe7,#c8cae4,#cacce5,#bdbfde,#b7badc,#bcbfde,#bcbede,#d2d3e9,#cdcfe6)"></i><i style="height:4px;background:linear-gradient(90deg,#989ccc,#9fa3cf,#a5a8d2,#b0b3d8,#b9bcdd,#b3b6da,#b4b7da,#b3b6d9,#b1b4d8,#a8abd4,#a6a9d3,#adb0d6,#bec1df,#a1a5d1,#9fa3cf,#b0b3d8,#a4a8d2,#b3b6d9,#adb0d7,#999dcd,#b7badc,#aeb2d7,#a8abd4,#aaadd5,#a7aad3,#a9add5,#9ea2cf,#9a9ecd,#9fa3d0,#a3a7d1,#a4a7d2,#9da1ce,#abafd6,#afb3d8,#c1c3e1,#a5a9d3,#8b90c6,#a4a8d2,#a3a7d2,#b2b5d9,#b7badc,#afb2d8,#9296c9,#adb0d7,#afb2d7,#b4b6da,#b0b3d8,#9ea2cf,#abaed5,#9599cb,#a6aad3,#b1b4d9,#bec0df,#a3a7d2,#afb2d8,#bec0df,#c1c3e1,#cccee6,#b8bbdc,#c5c7e3,#d3d5e9,#cbcde6,#c9cbe5,#c1c3e0,#d4d5ea,#bfc2e0,#d3d4e9,#afb2d7,#b4b7da,#bcbfde,#c1c3e0,#d5d7ea,#cccee6,#c3c5e2,#d0d1e8,#e1e2f0,#bec0df,#d5d6ea,#c2c4e1,#c8cae4,#c6c8e3,#c6c8e3,#bcbede,#b4b6da,#b9bcdd,#bec0df,#cdcee6,#cccde6)"></i><i style="height:4px;background:linear-gradient(90deg,#9a9ecd,#a2a6d1,#a3a7d2,#b2b5d9,#babcdd,#b1b4d8,#b2b5d9,#bbbede,#afb2d7,#aaadd5,#a3a7d2,#a5a9d3,#b6b9db,#a0a4d0,#a3a7d2,#acb0d6,#acafd6,#b6b9db,#b4b7da,#9b9fce,#b8badc,#adb1d7,#aaadd5,#b0b3d8,#a3a7d2,#a4a7d2,#9da1ce,#9ca0ce,#9da1cf,#a0a3d0,#a4a8d2,#9ca0ce,#afb2d7,#b0b3d8,#bcbede,#a7abd4,#8e93c7,#a1a5d1,#a0a4d0,#b1b4d8,#b9bcdd,#b0b3d8,#969bcb,#b0b3d8,#b1b4d8,#b5b8db,#acafd6,#a2a6d1,#aaadd5,#9398ca,#a4a7d2,#aeb1d7,#b7b9db,#a6a9d3,#b4b7da,#c2c4e1,#bfc2e0,#c4c6e2,#bdbfde,#cccee6,#ced0e7,#cccde6,#c2c4e1,#c3c5e1,#d6d8eb,#bec0df,#d4d5ea,#abafd6,#b5b8da,#b9bcdd,#bec0df,#d3d4e9,#cccee6,#bbbddd,#ced0e7,#d8d9ec,#bdbfde,#d4d6ea,#bec0df,#c5c7e3,#c6c8e3,#c5c7e2,#bec0df,#b2b5d9,#b8bbdc,#c2c4e1,#cacbe5,#cccee6)"></i><i style="height:4px;background:linear-gradient(90deg,#a3a6d1,#acafd6,#abafd6,#bbbede,#bcbfde,#b4b7da,#b4b7da,#c1c3e1,#afb2d8,#b0b3d8,#a5a9d3,#a2a5d1,#b5b8db,#a6aad3,#a8abd4,#adb0d7,#b1b4d9,#b7badc,#babddd,#a0a4d0,#b6b9db,#b2b5d9,#b0b3d8,#b4b7da,#a6aad3,#a6aad3,#9da1cf,#a0a4d0,#a1a4d0,#9da1cf,#a7abd4,#a1a5d1,#b2b5d9,#acb0d6,#b8bbdc,#aeb1d7,#9398ca,#9ca0ce,#9b9fcd,#b2b5d9,#b9bbdc,#b3b6d9,#989dcc,#b3b6d9,#b3b6da,#b6b9db,#a8abd4,#a2a6d1,#abaed6,#969acb,#a8abd4,#adb1d7,#b4b7da,#adb0d7,#b6b9db,#c5c7e3,#bfc1df,#c4c6e2,#bec1df,#ced0e7,#cacce5,#c9cae4,#c0c3e0,#c6c8e3,#d8d9ec,#c2c4e1,#cfd1e8,#acafd6,#b3b6d9,#b8bbdc,#c1c3e0,#cfd0e7,#c8cae4,#b8bbdc,#cacce5,#d0d2e8,#bbbede,#d0d2e8,#bec0df,#c6c8e3,#cacce5,#c6c8e3,#c3c5e2,#b2b5d9,#bdc0df,#c5c7e3,#c8cae4,#cccee6)"></i><i style="height:4px;background:linear-gradient(90deg,#b6b9db,#bfc1df,#c0c2e0,#ced0e7,#c8cae4,#c1c3e1,#bfc1df,#cdcfe7,#b7badc,#bec0df,#aeb1d7,#a5a8d2,#bbbede,#b4b7da,#b0b3d8,#b4b7da,#b9bcdd,#bbbede,#c5c7e2,#a9add5,#b7badc,#bcbede,#bcbfde,#bbbede,#b0b3d8,#b0b3d8,#a3a6d1,#a8acd4,#a9add5,#9ea2cf,#adb0d7,#aaaed5,#b6b9db,#a9add5,#b7badb,#b7badc,#9b9fcd,#969bcb,#969acb,#b5b8db,#b9bcdd,#b7badc,#9b9fce,#b8bbdc,#b8bbdc,#b9bbdc,#a5a8d2,#a2a6d1,#afb2d8,#9b9fce,#b1b4d8,#b1b4d8,#b5b8db,#b8bbdc,#b8bbdc,#c8cae4,#bfc1e0,#c6c8e3,#bfc1df,#cdcee6,#c6c8e3,#c4c6e2,#c1c3e0,#c9cbe4,#dadbed,#c9cbe4,#c9cbe5,#afb2d7,#b0b3d8,#b8bbdc,#c5c7e3,#cacce5,#c2c4e1,#b8bbdc,#c5c7e3,#c9cbe4,#b9bcdd,#cacce5,#bec1df,#c7c9e4,#cfd1e8,#c9cbe5,#cbcde5,#b3b6d9,#c4c6e2,#c9cbe5,#c6c8e3,#cbcce5)"></i><i style="height:4px;background:linear-gradient(90deg,#d3d4e9,#dcddee,#dddeee,#ebecf5,#dddeee,#d7d9ec,#d1d3e9,#e1e2f0,#c7c8e3,#d2d4e9,#bec0df,#adb1d7,#c7c9e3,#c7c9e3,#bdc0df,#bfc1df,#c6c8e3,#c4c6e2,#d4d6ea,#b7badc,#bdbfdf,#cacce5,#cdcfe6,#c7c9e4,#bec0df,#bec0df,#adb0d6,#b4b7da,#b6b8db,#a2a6d1,#b6b9db,#b6b9db,#bdbfde,#a9acd4,#b8bbdc,#c3c5e1,#a5a9d3,#9499ca,#9499ca,#bbbede,#bcbede,#bec0df,#a1a5d0,#c0c3e0,#bfc2e0,#bdbfdf,#a5a8d2,#a4a8d2,#b6b8db,#a3a7d2,#bbbede,#b6b9db,#b9bcdd,#c5c7e2,#bbbede,#cccee6,#c0c2e0,#c8c9e4,#bfc1e0,#cccde6,#c3c5e1,#bfc2e0,#c1c3e0,#cccde6,#dbdded,#d0d1e8,#c3c5e2,#b1b4d9,#acb0d6,#b8bbdc,#c9cbe5,#c6c8e3,#bcbfde,#b8bbdc,#c0c2e0,#c1c3e1,#b7badc,#c4c6e2,#bfc1e0,#c9cbe4,#d4d6ea,#cccde6,#d2d4e9,#b4b6da,#cbcde6,#cdcfe7,#c5c7e2,#c9cbe5)"></i><i style="height:4px;background:linear-gradient(90deg,#f3f3f9,#f8f8fc,#fbfbfd,#fef5f5,#f3f4f9,#eff0f7,#e7e8f3,#f9f9fc,#d7d8eb,#e5e6f2,#d0d2e8,#babcdd,#d4d6ea,#dbdced,#cfd0e7,#cccee6,#d7d8eb,#d5d6ea,#e5e6f2,#c3c5e2,#c8cae4,#d6d7eb,#d9daec,#d5d7eb,#cbcde6,#cacbe5,#b8bbdc,#c2c4e1,#bec0df,#adb0d7,#c1c3e0,#c2c4e1,#c6c8e3,#b0b3d8,#bec0df,#cccee6,#b4b7da,#9a9ecd,#9ca0ce,#c3c5e2,#c4c6e2,#c4c6e2,#abaed5,#cacce5,#c7c9e3,#bfc2e0,#abafd6,#a8acd4,#bcbfde,#adb0d6,#c4c6e2,#bfc1df,#c0c2e0,#d1d2e8,#bec0df,#ced0e7,#c5c7e3,#c3c5e2,#c0c2e0,#cdcfe6,#c3c5e1,#bfc1df,#c1c3e0,#cccee6,#dedfef,#ced0e7,#c2c4e1,#b4b7da,#b0b3d8,#b5b8db,#c8cae4,#c2c4e1,#babcdd,#b7badc,#bcbede,#bcbfde,#b5b8db,#c3c5e2,#c2c4e1,#c8cae4,#d6d7eb,#cacce5,#d6d7eb,#b5b8db,#cecfe7,#cfd0e7,#c4c6e2,#c6c8e3)"></i><i style="height:4px;background:linear-gradient(90deg,#fdf1f1,#fdf2f3,#fcedee,#fadfe0,#fef5f5,#fef6f6,#fffefe,#fdf1f2,#ecedf6,#f7f7fb,#e9eaf4,#cfd1e7,#e8e9f4,#f0f0f7,#e4e5f2,#e0e1f0,#e7e8f3,#e5e6f2,#f0f1f8,#cfd1e8,#dbddee,#e3e4f1,#e3e4f1,#e5e6f2,#d9daec,#d7d8eb,#c9cae4,#d2d3e9,#c9cbe4,#c1c3e1,#d2d3e9,#d0d1e8,#d1d2e8,#c2c4e1,#cbcce5,#d4d5ea,#c0c2e0,#a9add5,#aeb1d7,#cacce5,#cfd1e8,#cbcde5,#b3b6da,#d1d3e8,#cbcde6,#c1c3e0,#b5b8db,#b0b3d8,#c1c4e1,#b8bbdc,#c9cbe4,#c6c8e3,#c9cbe4,#d4d6ea,#bdbfde,#cbcde5,#cacce5,#bfc1df,#c0c2e0,#cbcde6,#c4c6e2,#c0c2e0,#c2c4e1,#c8cae4,#e1e2f0,#cccde6,#c8cae4,#bbbede,#b9bcdc,#b8bbdc,#c6c8e3,#c4c6e2,#bfc1df,#bbbede,#bcbede,#bec0df,#b4b7da,#c5c7e2,#c6c7e3,#c6c8e3,#d3d5ea,#c8c9e4,#d4d5ea,#b5b7da,#cbcde6,#cccee6,#c7c9e3,#c3c5e1)"></i><i style="height:4px;background:linear-gradient(90deg,#faddde,#fbe5e6,#fadcdd,#f8ced0,#fbe4e6,#fbe2e3,#fcecec,#fbe0e1,#fffcfc,#fef5f6,#fef9fa,#e9e9f4,#fffefe,#fef6f7,#fefefe,#fafafd,#fbfbfd,#f7f8fb,#fdfdfe,#dfe0ef,#f2f3f9,#f3f4f9,#f0f1f8,#f8f8fb,#e9eaf4,#e7e8f3,#dcdeee,#e4e5f2,#dadbed,#dcddee,#eaebf5,#e5e6f2,#e3e4f1,#dbdced,#dedfef,#e0e1f0,#cfd1e7,#bdc0df,#c4c6e2,#d3d5e9,#dddeee,#d4d5ea,#bcbede,#d7d9eb,#cfd1e8,#c2c4e1,#bec0df,#b5b8db,#c4c6e2,#c1c3e1,#cacce5,#cacce5,#cfd0e7,#d4d6ea,#babcdd,#c6c8e3,#cdcfe6,#bbbddd,#c0c2e0,#c9cae4,#c5c7e2,#c2c4e1,#c5c7e2,#c4c6e2,#e6e6f3,#cbcde6,#d3d4e9,#c6c8e3,#c5c7e2,#bfc1df,#c7c9e3,#cacbe5,#c8c9e4,#c3c5e1,#bec1df,#c2c4e1,#b4b7da,#c7c9e3,#c9cbe5,#c4c6e2,#d1d3e8,#c6c7e3,#d1d2e8,#b4b7da,#c8cae4,#c9cbe5,#cacce5,#c0c2e0)"></i><i style="height:4px;background:linear-gradient(90deg,#f9d1d3,#f9d5d7,#f8ced0,#f7c3c5,#f9d4d6,#f9d3d5,#fadadc,#f8d0d2,#fce8e9,#fbdfe1,#fbe3e5,#fffdfd,#fce7e8,#faddde,#fce9e9,#fcebeb,#fdf0f1,#fdf4f5,#fdf2f2,#f6f7fb,#fdf3f4,#fef5f6,#fef9f9,#fdf3f3,#fffdfd,#f9f9fc,#f6f7fb,#fafafd,#f3f4f9,#fbfbfd,#fef9f9,#fffdfd,#f9f9fc,#f3f3f9,#f6f6fa,#f3f3f9,#dddeee,#d2d4e9,#dadbed,#dedfef,#eaebf5,#dedfef,#c3c5e1,#dddeee,#d3d5ea,#c7c9e4,#c0c2e0,#babcdd,#c3c5e1,#c5c7e2,#cacce5,#c9cbe5,#cdcee6,#ced0e7,#bcbfde,#c2c4e1,#cccee6,#bdc0df,#c1c3e0,#c6c8e3,#c4c6e2,#c5c7e3,#c9cbe4,#c4c6e2,#edeef6,#d1d3e8,#dcddee,#d2d3e9,#cdcfe6,#c9cbe5,#cecfe7,#d1d3e8,#d4d6ea,#c7c8e3,#c4c6e2,#c7c9e3,#b5b8db,#c6c8e3,#c9cbe5,#c3c5e2,#cecfe7,#c1c3e0,#cdcfe7,#b3b6da,#c4c6e2,#c6c8e3,#cacce5,#c2c4e1)"></i><i style="height:4px;background:linear-gradient(90deg,#f8c9cb,#f7c4c6,#f7c1c3,#f6bbbd,#f7c5c7,#f7c6c8,#f8cacc,#f7c0c2,#f9d5d6,#f8c8ca,#f8cfd1,#fceaeb,#f9d1d3,#f7c2c4,#f9d2d4,#f9d2d4,#fadee0,#fbe3e4,#fbe2e3,#fdf0f1,#fadcdd,#fbe0e1,#fbe4e6,#fbe0e2,#fce7e8,#fef5f5,#fdeff0,#fdf0f1,#fdf1f2,#fce9e9,#fbe1e2,#fbe5e6,#fdf0f1,#fef6f6,#fdf2f3,#fef8f9,#e9eaf4,#e7e8f3,#efeff7,#e9eaf4,#f7f7fb,#e9eaf4,#c9cbe5,#e2e3f1,#d8d9ec,#cfd1e7,#c0c2e0,#bdc0df,#c1c3e1,#c7c9e3,#c9cbe5,#c7c9e4,#c8c9e4,#c6c8e3,#c1c3e0,#bec0df,#c9cbe5,#c3c5e1,#c3c5e2,#c5c7e2,#c4c6e2,#cacce5,#cecfe7,#c6c8e3,#f6f6fb,#dadbed,#e4e5f2,#dfe0ef,#d4d6ea,#d6d7eb,#d8d9ec,#dadbed,#e2e3f1,#c9cae4,#cbcde6,#cccee6,#b6b9db,#c3c5e2,#c8cae4,#c4c6e2,#cacce5,#bbbede,#cacce5,#b3b6da,#c1c3e0,#c3c5e2,#cacce5,#c6c8e3)"></i><i style="height:4px;background:linear-gradient(90deg,#f7c3c5,#f6b7b9,#f6b7b9,#f6b6b8,#f6b9bb,#f6bcbe,#f6bdbf,#f6b5b7,#f7c5c7,#f6b5b7,#f7c0c2,#fadcdd,#f7c0c2,#f5aeb0,#f7bfc1,#f6bdbf,#f8d0d2,#f9d4d6,#f9d5d7,#fadcde,#f7c7c9,#f8cdcf,#f9d3d4,#f9d1d3,#f9d3d5,#fce8e9,#fadadc,#fbe1e2,#fadddf,#f9d2d4,#f8cdcf,#f8d0d2,#fbe0e1,#fbe6e7,#fbe0e2,#fceaeb,#f3f3f9,#fafafd,#fffdfd,#f3f3f9,#fffcfd,#f3f4f9,#cfd1e7,#e7e8f3,#dcddee,#d7d9ec,#c1c3e1,#c3c5e1,#c1c3e0,#cacce5,#cacce5,#c7c9e3,#c4c6e2,#bfc1e0,#c7c9e4,#bbbddd,#c8cae4,#cacce5,#c7c9e3,#c5c7e2,#c5c7e2,#d0d1e8,#d4d6ea,#c9cbe4,#fffefe,#e4e5f2,#eff0f7,#edeef6,#dddfee,#e4e5f2,#e3e4f1,#e4e4f2,#f1f1f8,#cbcde6,#d3d4e9,#d2d4e9,#b8bbdc,#c2c4e1,#c8cae4,#c6c8e3,#c9cbe4,#b8bbdc,#c9cbe4,#b5b8db,#bfc1df,#c2c4e1,#cccde6,#cccee6)"></i><i style="height:4px;background:linear-gradient(90deg,#f7bec0,#f6b4b6,#f5b2b4,#f5b3b5,#f5b0b2,#f6b5b7,#f6b6b8,#f5b3b5,#f7bfc1,#f5afb1,#f5b3b5,#f9d1d3,#f6b7b9,#f4a8aa,#f5b2b4,#f5b0b2,#f7c6c8,#f8cdcf,#f8d0d2,#f9d2d4,#f6b9bb,#f7c0c2,#f7c7c9,#f7c5c7,#f8cacc,#fadcde,#f8cdcf,#fadadb,#f8d0d2,#f7c3c5,#f6bdbf,#f7c1c3,#f9d6d8,#f9d6d8,#f9d4d6,#fbe0e2,#f9fafc,#fef6f7,#fdeeef,#fcfcfe,#fef5f6,#fbfbfd,#d5d6ea,#e9eaf4,#e3e4f1,#dddeee,#c7c9e4,#cccee6,#c5c7e2,#d2d4e9,#d1d2e8,#cacce5,#cacbe5,#bec0df,#cacbe5,#babcdd,#cacce5,#d1d3e9,#cccee6,#c8cae4,#c6c8e3,#d4d6ea,#dedfef,#d0d2e8,#fef7f8,#f1f1f8,#fff,#fefeff,#ececf6,#f4f4f9,#f2f3f9,#f0f1f8,#fafafd,#d4d5ea,#dbdced,#d7d9eb,#c3c5e1,#c8cae4,#cacbe5,#cdcfe7,#cbcde5,#bec0df,#cdcfe6,#b7badc,#c0c2e0,#c2c4e1,#d0d2e8,#d3d5ea)"></i><i style="height:4px;background:linear-gradient(90deg,#f6babc,#f6b7b9,#f5b2b4,#f6b4b6,#f5aaac,#f5b3b5,#f6b4b6,#f6b6b8,#f7c1c3,#f5b1b3,#f5aeb0,#f8cbcd,#f6b6b8,#f5adaf,#f5abad,#f5acae,#f7c0c2,#f8c9cb,#f8ced0,#f8ccce,#f5b2b4,#f6b7b9,#f7bfc1,#f6bdbf,#f7c7c9,#f9d1d3,#f7c4c6,#f9d6d7,#f7c8ca,#f6bbbd,#f5b3b5,#f6b7b9,#f9d2d3,#f8cbcd,#f8ccce,#fad9db,#fffcfc,#fceded,#fbe4e5,#fef8f8,#fdeeef,#fffefe,#dedfef,#ededf6,#ebecf5,#e2e3f1,#d1d3e8,#d5d7ea,#cdcfe6,#dadced,#dcddee,#d0d1e8,#d3d4e9,#c2c4e1,#cdcfe6,#bfc1df,#ced0e7,#d9daec,#d1d2e8,#cecfe7,#cacce5,#d9daec,#eaebf5,#dcddee,#fdf3f3,#fefefe,#fef4f5,#fdf3f3,#fcfcfe,#fffcfd,#fffdfd,#fefeff,#fff,#dedfef,#e4e5f2,#dddeee,#d2d3e9,#d2d4e9,#cccee6,#d7d8eb,#d0d1e8,#c9cae4,#d5d6ea,#bdc0df,#c6c8e3,#c3c5e2,#d5d6ea,#dbdced)"></i><i style="height:4px;background:linear-gradient(90deg,#f6b7b9,#f6babc,#f6b4b6,#f6b6b8,#f4a5a7,#f5b2b4,#f6b5b7,#f6bcbe,#f7c8ca,#f6b7b9,#f5aeb0,#f7c6c8,#f6b9bb,#f6b6b8,#f4a9ab,#f5adaf,#f6bbbd,#f7c3c5,#f8cbcd,#f7c7c9,#f5b1b3,#f5b3b5,#f6b9bb,#f6b7b9,#f7c6c8,#f7c5c7,#f7bec0,#f9d1d3,#f7c1c3,#f6babc,#f5b0b2,#f5b0b2,#f8cfd1,#f7c4c6,#f7c6c8,#f9d4d5,#fdf1f1,#fbe5e6,#fadedf,#fcecec,#fce7e8,#fefafa,#ebecf5,#f2f2f9,#f3f3f9,#e8e9f4,#dbdced,#dbdced,#d5d7ea,#dfe0ef,#e7e8f3,#d5d6ea,#dcddee,#c8cae4,#d2d4e9,#c8c9e4,#d2d3e9,#dfe0ef,#d5d6ea,#d5d6ea,#d1d2e8,#dddeee,#f5f5fa,#e9eaf4,#fdf1f1,#fef8f8,#fdf1f1,#fcebec,#fef6f6,#fef4f5,#fdf2f3,#fef5f6,#fffdfd,#e5e6f2,#ecedf6,#e3e3f1,#dfe0ef,#dcddee,#cecfe7,#dfe0ef,#d5d6ea,#d3d5e9,#dbdced,#c7c9e3,#cfd0e7,#c4c6e2,#d7d8eb,#e1e2f0)"></i><i style="height:4px;background:linear-gradient(90deg,#f6b6b8,#f6bbbd,#f6b5b7,#f6b8ba,#f4a3a5,#f5b0b2,#f6b5b7,#f6bcbe,#f8c9cb,#f6babc,#f5afb1,#f7c4c6,#f6bcbe,#f6b8ba,#f5aaac,#f5adaf,#f6b8ba,#f7c1c3,#f8c9cb,#f7c4c6,#f6b4b6,#f5b2b4,#f6b6b8,#f6b6b8,#f7c5c7,#f7bfc1,#f6bcbe,#f8cbcd,#f6bcbe,#f6bcbe,#f5b0b2,#f5b0b2,#f8cfd1,#f7c1c3,#f7c3c5,#f9d2d4,#fceaeb,#fbe1e2,#fadcdd,#fce7e8,#fbe4e6,#fef8f8,#f3f3f9,#f6f6fb,#f5f5fa,#ececf6,#dedfef,#dee0ef,#d8daec,#e2e3f1,#eaeaf4,#d5d7eb,#dddeee,#cbcde6,#d6d7eb,#cfd0e7,#d3d5ea,#e4e4f1,#d6d7eb,#d7d8eb,#d5d7eb,#dedfef,#f6f6fb,#eff0f7,#fdf0f0,#fdf3f4,#fdf1f2,#fceaea,#fdf1f1,#fdeff0,#fdf2f3,#fdf1f1,#fefbfb,#e9eaf4,#f0f1f8,#e6e6f2,#e1e2f0,#dedfef,#d1d2e8,#dee0ef,#d8d9ec,#d7d8eb,#dcddee,#cccee6,#d5d7eb,#c5c7e3,#d8daec,#e4e4f1)"></i></div></div>
<div class="hm" style="left:172px;top:753.5px;width:610px;height:310px"><div style="filter:blur(0.8px);"><i style="height:4px;background:linear-gradient(90deg,#f8d0d2,#f8cdcf,#f8cbcd,#f9d2d4,#f9d6d8,#f8ced0,#f7c8ca,#f8c9cb,#f6babc,#f6bec0,#f7c6c8,#f8c9cb,#f7c7c9,#fbe0e1,#fffdfd,#f6f6fa,#dbdced,#d1d2e8,#ededf6,#fef6f6,#fce9ea,#fadedf,#f9d7d9,#f9d8d9,#f9d3d4,#f8ced0,#fad9da,#fbdfe0,#fbe4e5,#fef6f6,#f3f4f9,#f4f4f9,#d8d9ec,#c8c9e4,#9599ca,#6770b5,#5864af,#898ec5,#e2e3f1,#f8d0d2,#f3999b,#f0797c,#f18385,#f39b9d,#f7bec0,#fbe6e7,#ebebf5,#bec1df,#9a9ecd,#7a81be,#727aba,#787fbd,#737aba,#656eb4,#636cb3,#6972b6,#656eb4,#7e84bf,#8389c2,#8187c1,#868bc3,#8c91c6,#8f94c8,#9095c8,#979ccc,#a8abd4,#c2c4e1,#babddd,#c4c6e2,#e7e7f3,#dcddee,#d1d3e8,#b0b3d8,#9ca1ce,#8f94c7,#9a9ecd,#b6b8db,#cacce5,#c6c8e3,#dadbed,#bec1df,#a6a9d3,#8b90c5,#9196c9,#9da1cf,#afb2d8,#c4c6e2,#e4e5f2)"></i><i style="height:4px;background:linear-gradient(90deg,#f8cbcd,#f7c6c8,#f7c3c5,#f8ced0,#f9d5d6,#f8c9cb,#f7c0c2,#f7c2c4,#f6b6b8,#f6bdbf,#f7c2c4,#f8ccce,#f7c6c8,#fbdfe1,#fef6f7,#fdfdfe,#eeeff7,#e5e6f2,#fefbfc,#fce6e7,#fadedf,#fadadb,#f9d2d4,#f9d1d3,#f7c5c7,#f7c7c9,#f8cfd1,#f9d5d6,#fadedf,#fdf4f4,#f8f8fb,#f2f2f8,#dadbed,#cacbe5,#999dcc,#6770b5,#5a65af,#9094c8,#e9eaf4,#f8cacc,#f3989a,#ef7376,#f07c7f,#f3989a,#f7bec0,#fbe5e6,#f1f2f8,#c6c8e3,#a5a9d2,#8388c2,#8086c0,#8187c1,#7c83bf,#6c74b7,#6a72b6,#6d75b8,#6f77b9,#858ac3,#898ec4,#858ac3,#9095c8,#959acb,#9297c9,#969acb,#9fa3cf,#aeb1d7,#c3c5e1,#c1c3e0,#c7c9e4,#eeeff7,#e4e5f2,#d5d6ea,#b8bbdc,#a7aad3,#9fa3d0,#a4a8d2,#c0c2e0,#cfd0e7,#cbcde6,#dddeee,#c4c6e2,#b0b3d8,#9498ca,#9ea2cf,#a6aad3,#b2b5d9,#ced0e7,#e6e7f3)"></i><i style="height:4px;background:linear-gradient(90deg,#f7c3c5,#f7bec0,#f6babc,#f7c8ca,#f9d1d3,#f7c3c5,#f6b6b8,#f6b9bb,#f5b1b3,#f6babc,#f6bcbe,#f8ced0,#f7c5c7,#fadedf,#fceced,#fef6f7,#fef6f7,#fffdfd,#fbe1e2,#f9d1d3,#f8cdcf,#f9d1d3,#f7c7c9,#f7c5c7,#f5b1b3,#f6babc,#f7bfc1,#f7c5c7,#f9d4d5,#fdeeef,#fffefe,#f3f4f9,#dfe0ef,#ced0e7,#9ea2cf,#6871b5,#5d67b0,#969acb,#f0f1f8,#f7c4c6,#f39799,#ee6c6f,#ef7578,#f29496,#f6bdbf,#fbe2e3,#fbfbfd,#d2d4e9,#b7b9db,#9196c9,#9599ca,#8f94c8,#8a8fc5,#767dbc,#747bbb,#737bbb,#7a81be,#8f93c7,#9297c9,#8b90c6,#9fa3cf,#a1a5d0,#979ccc,#9da1cf,#a9acd4,#b6b9db,#c5c7e3,#c9cbe5,#cdcfe7,#f8f8fc,#efeff7,#dcddee,#c5c7e3,#b6b8db,#b5b8db,#b3b6d9,#cdcfe6,#d5d6ea,#d0d2e8,#e1e2f0,#cbcde6,#bcbede,#a0a4d0,#afb2d8,#b2b5d9,#b6b9db,#d9daec,#e8e8f4)"></i><i style="height:4px;background:linear-gradient(90deg,#f6bdbf,#f6b9bb,#f5b3b5,#f7c2c4,#f8ced0,#f7bec0,#f5b0b2,#f5b1b3,#f5afb1,#f6babc,#f6babc,#f8cdcf,#f7c3c5,#fad9da,#fbe0e1,#fce8e9,#fbe0e1,#fbe1e2,#f7c7c9,#f6b8ba,#f6b6b8,#f7c2c4,#f6b7b9,#f5b3b5,#f39b9d,#f4a9ab,#f4a9ab,#f5aeb0,#f7c5c7,#fbe0e1,#fdf1f1,#fefeff,#eeeff7,#dcdeee,#a7abd4,#6e76b8,#606ab2,#9b9fcd,#f6f6fa,#f7c0c2,#f39698,#ee676a,#ef6f72,#f29092,#f6b9bb,#fadedf,#fefafa,#e3e4f1,#cbcde6,#a7aad3,#acb0d6,#a8acd4,#9ea2cf,#8489c2,#7f85c0,#7d84bf,#878cc4,#999dcd,#989ccc,#989ccc,#a9acd5,#acb0d6,#9fa3d0,#a5a9d2,#b1b4d8,#bdc0df,#c8cae4,#d1d2e8,#d6d7eb,#fffdfd,#f7f7fb,#e5e6f2,#d5d7ea,#c8cae4,#cbcde5,#bfc1df,#d6d7eb,#d9daec,#d5d6ea,#e2e3f1,#d1d3e8,#c6c8e3,#aaadd5,#bec0df,#bbbddd,#bdbfde,#dee0ef,#e6e7f3)"></i><i style="height:4px;background:linear-gradient(90deg,#f6bbbd,#f6b8ba,#f5b0b2,#f7c0c2,#f8cdcf,#f7bfc1,#f5b1b3,#f5acae,#f5b0b2,#f6bcbe,#f6bbbd,#f8cacc,#f7c2c4,#f8d0d2,#f9d2d4,#f9d7d9,#f8c8ca,#f7c2c4,#f5adaf,#f39b9d,#f39698,#f4a7a9,#f39ea0,#f39799,#f07f81,#f29194,#f18a8d,#f28e90,#f5adaf,#f7c3c5,#f9d7d9,#fceaeb,#fef5f6,#f4f5fa,#b5b7da,#7a81be,#626cb3,#9da1ce,#f8f8fb,#f7c1c3,#f39799,#ee6366,#ee696c,#f28c8e,#f5b2b4,#f9d7d8,#fdeeef,#f9f9fc,#e5e6f2,#c2c4e1,#c5c7e3,#c9cbe5,#b5b8db,#9a9ecd,#9094c8,#8c91c6,#989dcc,#a3a7d2,#9ca0ce,#abaed5,#b1b4d8,#b9bbdc,#abaed5,#adb0d7,#b6b9db,#c3c5e2,#cccde6,#d7d8eb,#e0e1f0,#fef6f7,#fcfcfd,#edeef6,#e4e5f2,#dadbed,#dbdced,#c7c9e3,#d8daec,#d9daec,#d7d9ec,#dfe0ef,#d4d5ea,#cccde6,#b0b3d8,#c8cae4,#bfc2e0,#c5c7e2,#dee0ef,#e1e2f0)"></i><i style="height:4px;background:linear-gradient(90deg,#f6b8ba,#f6b9bb,#f5b3b5,#f7bfc1,#f8cacc,#f7c4c6,#f6b7b9,#f5adaf,#f5b0b2,#f7bec0,#f6bdbf,#f7c8ca,#f7c5c7,#f8c9cb,#f7c5c7,#f7c5c7,#f5afb1,#f4a0a2,#f29395,#f07e80,#ef7275,#f18184,#f07d7f,#ef7679,#ed5e61,#ef6f72,#ee6569,#ee6b6e,#f1898b,#f39a9c,#f5b3b5,#f8cbcd,#f9d7d9,#fdf3f4,#c5c7e3,#8489c2,#636cb3,#999dcc,#f3f4f9,#f7c8ca,#f3989a,#ed5f62,#ee6367,#f18789,#f5adaf,#f8cdcf,#fadddf,#fdf0f1,#fef9f9,#e6e7f3,#dfe0ef,#e8e9f4,#d0d2e8,#b7badc,#a7abd4,#a6aad3,#acafd6,#abafd6,#a0a4d0,#bcbfde,#b9bbdc,#c7c9e4,#bdbfde,#b6b9db,#b9bcdd,#cbcde5,#d5d7eb,#dedfef,#e8e9f4,#fdf2f3,#fdfdfe,#f8f8fb,#eeeff7,#e5e6f2,#e2e3f1,#d0d2e8,#d9daec,#d9daec,#d9daec,#dcddee,#d3d4e9,#cccee6,#b4b7da,#cfd1e7,#c2c4e1,#cdcfe7,#dcdeee,#dfe0ef)"></i><i style="height:4px;background:linear-gradient(90deg,#f5b3b5,#f6b9bb,#f6b7b9,#f7c3c5,#f8cbcd,#f7c8ca,#f6bbbd,#f5afb1,#f5aeb0,#f7bec0,#f6bdbf,#f7c6c8,#f7c7c9,#f7c3c5,#f6bbbd,#f5b0b2,#f39597,#f18284,#ef7477,#ed5f62,#ec5155,#ed5b5e,#ed585c,#ec5558,#ea4044,#ec4f53,#eb4649,#eb4c4f,#ee6366,#ef7376,#f28f91,#f5abad,#f6bcbe,#fbe2e3,#d6d7eb,#8b90c5,#626cb3,#9499ca,#eeeef6,#f8ced0,#f29496,#ed5d60,#ed5e61,#f08083,#f5abad,#f7c3c5,#f8ced0,#fadbdd,#faddde,#fef5f6,#fbfbfd,#fefafa,#ebebf5,#d4d6ea,#bec1df,#bcbede,#bcbede,#b6b9db,#aaadd5,#c9cbe4,#c2c4e1,#d3d5e9,#cdcfe6,#c4c6e2,#c1c3e1,#d4d6ea,#e1e2f0,#e3e4f1,#edeef6,#fdf4f4,#fdfdfe,#fefefe,#f4f4f9,#e9eaf4,#e5e6f2,#d7d8eb,#d8d9ec,#dbdced,#dcddee,#dddeee,#d2d3e9,#cbcde6,#babcdd,#d5d6ea,#c7c9e3,#d3d4e9,#dcdeee,#dedfef)"></i><i style="height:4px;background:linear-gradient(90deg,#f5adaf,#f6b8ba,#f6bbbd,#f8c9cb,#f8ccce,#f8c9cb,#f6babc,#f5b2b4,#f5a9ab,#f6bcbe,#f6b9bb,#f7c1c3,#f7c6c8,#f6bbbd,#f5b0b2,#f3989a,#f07b7e,#ee696c,#ec575a,#eb4649,#e9363a,#ea3c40,#ea393e,#ea393e,#e8282e,#e9353a,#e92d32,#e93438,#eb4448,#ec5659,#ef7173,#f29092,#f4a5a7,#f9d7d9,#e5e6f2,#9094c8,#5f69b2,#8f94c8,#e7e8f3,#f9d4d6,#f28e90,#ed5d61,#ed595d,#f0797b,#f5abad,#f6bcbe,#f7c4c6,#f8cbcd,#f7c7c9,#fadcdd,#fdeff0,#fce8e9,#fefefe,#eaeaf4,#cfd1e7,#c7c9e4,#c4c6e2,#bfc1df,#b3b6da,#cdcee6,#c9cbe5,#d9daec,#d7d9ec,#d2d4e9,#cbcde5,#dedfef,#ecedf6,#e8e9f4,#efeff7,#fef9fa,#fbfcfd,#fff,#f3f4f9,#e5e6f2,#e3e4f1,#d8daec,#d5d7ea,#dddeee,#e2e3f1,#e2e3f1,#d0d2e8,#c9cbe5,#c0c2e0,#d9daec,#cdcee6,#d5d6ea,#dedfef,#dee0ef)"></i><i style="height:4px;background:linear-gradient(90deg,#f4a7a9,#f6b6b8,#f6bdbf,#f8ccce,#f8ccce,#f8c9cb,#f6b7b9,#f6b4b6,#f4a5a7,#f6b9bb,#f5b1b3,#f6b7b9,#f6bdbf,#f5abad,#f4a0a2,#f07f82,#ee6366,#ec5659,#ea3f43,#e93237,#e8252c,#e8262c,#e8262c,#e8292e,#e8232b,#e8272d,#e8242b,#e8262c,#e92d33,#ea4145,#ed5a5d,#f0797b,#f29294,#f8cdcf,#f3f3f9,#9498ca,#5c66b0,#8a8fc5,#e1e2f0,#fadadc,#f1888a,#ed6063,#ec575a,#ef7476,#f5aeb0,#f6b8ba,#f7c0c2,#f7c3c5,#f6bbbd,#f8cdcf,#fce7e8,#fbe2e3,#fefbfb,#f2f2f9,#d4d5ea,#c7c9e4,#c1c3e0,#bdbfdf,#b3b6da,#c7c9e4,#c8c9e4,#d7d8eb,#dbdced,#dbddee,#d1d2e8,#e4e5f2,#f5f5fa,#ebebf5,#eff0f7,#fff,#f9f9fc,#fdfdfe,#edeef6,#d8daec,#d7d8eb,#d2d3e9,#cdcfe6,#dddeee,#e7e7f3,#e7e8f3,#cecfe7,#c6c8e3,#c4c6e2,#dbdced,#d0d2e8,#d6d7eb,#e0e1f0,#dfe0ef)"></i><i style="height:4px;background:linear-gradient(90deg,#f4a3a5,#f6b4b6,#f7bfc1,#f8cdcf,#f8c9cb,#f8cbcd,#f6b7b9,#f6b6b8,#f4a2a4,#f5b3b5,#f4a6a8,#f4a8aa,#f5aaac,#f39698,#f18a8c,#ee6669,#eb4a4d,#ea4145,#e92e33,#e8252c,#e8222b,#e8232b,#e8232b,#e8252c,#e8222b,#e8252c,#e8232b,#e8242b,#e8242b,#e93035,#eb494d,#ee6467,#f18284,#f7c2c4,#fdfdfe,#999ecd,#5b66b0,#878cc4,#dfe0ef,#fadee0,#f18789,#ed6064,#ec5558,#ef7174,#f5b2b4,#f6b7b9,#f7bec0,#f7bfc1,#f6b6b8,#f8c8ca,#fce8e9,#fce8e9,#fffefe,#ededf6,#ced0e7,#c0c3e0,#b6b9db,#b1b4d8,#abaed5,#bdbfde,#c0c2e0,#d5d7eb,#dbdced,#dadbed,#d3d5e9,#e3e4f1,#fafafc,#eeeef7,#f1f2f8,#fbfbfd,#f8f8fc,#f9fafc,#e3e4f1,#c8cae4,#c4c6e2,#c6c8e3,#c2c4e1,#dadbed,#e7e7f3,#e6e7f3,#cccee6,#c4c6e2,#c6c8e3,#dbdced,#d4d5ea,#d8daec,#e1e2f0,#e0e2f0)"></i><i style="height:4px;background:linear-gradient(90deg,#f4a3a5,#f5b2b4,#f7c1c3,#f8cbcd,#f7c4c6,#f8ced0,#f6b9bb,#f6b8ba,#f4a2a4,#f5adaf,#f3999b,#f3989a,#f29395,#f08083,#ef7073,#ec5256,#e92f35,#e82b31,#e8242b,#e8222b,#e8212a,#e8212a,#e8212a,#e8252c,#e8212a,#e8232b,#e8232b,#e8222b,#e8212a,#e8242b,#ea3a3e,#ec5256,#ef7477,#f6b4b6,#fefbfb,#a0a4d0,#5b66b0,#8489c2,#e0e1f0,#fbe0e1,#f18a8c,#ed5e62,#ec5255,#ef7174,#f6b7b9,#f6b8ba,#f6babc,#f6bdbf,#f5b3b5,#f7c6c8,#fceced,#fef5f5,#fafafc,#e1e2f0,#c5c7e3,#b9bbdc,#abaed6,#a0a3d0,#a0a4d0,#b2b5d9,#b8badc,#d8daec,#dadbed,#d1d3e9,#d4d6ea,#dedfef,#fcfcfd,#f2f2f8,#f4f5fa,#f9fafc,#f9f9fc,#f5f6fa,#d7d8eb,#b8bbdc,#b0b3d8,#babddd,#b7badc,#d5d6ea,#e2e3f1,#e0e1f0,#cccee6,#c5c7e2,#c8cae4,#dbdced,#d7d8eb,#dddeee,#e4e5f2,#e3e4f1)"></i><i style="height:4px;background:linear-gradient(90deg,#f4a7a9,#f5b2b4,#f7c0c2,#f8cacc,#f7c3c5,#f9d1d3,#f6b8ba,#f6b9bb,#f4a4a6,#f4a7a9,#f28c8f,#f18b8d,#f07b7e,#ee6a6c,#ed595d,#ea4044,#e8232b,#e8232b,#e8222b,#e8212a,#e8202a,#e8202a,#e8202a,#e8242b,#e8202a,#e8222b,#e8232b,#e8222b,#e8202a,#e8212a,#e92f34,#eb4549,#ee696c,#f4a7a9,#fef8f8,#a5a9d2,#5b66b0,#8389c2,#e5e6f2,#fadbdc,#f18a8c,#ed5c5f,#ec5255,#ef7477,#f6b9bb,#f6b8ba,#f6b8ba,#f6babc,#f5b3b5,#f7c8ca,#fdeff0,#fefeff,#f2f2f8,#d3d5e9,#bdbfdf,#afb2d8,#a0a4d0,#9498ca,#9da1ce,#adb0d6,#b2b5d9,#dadbed,#d7d9eb,#c9cbe5,#d9daec,#d8daec,#f5f5fa,#f2f2f8,#f7f7fb,#f9f9fc,#fafafc,#ecedf6,#ced0e7,#acafd6,#a1a4d0,#b1b4d8,#b1b4d8,#cecfe7,#dcddee,#dbdced,#cfd0e7,#cacce5,#cccee6,#dddfef,#dadbed,#dddeee,#e5e6f2,#e5e6f2)"></i><i style="height:4px;background:linear-gradient(90deg,#f4a8aa,#f5b2b4,#f6bcbe,#f7c7c9,#f7c3c5,#f8d0d2,#f6b6b8,#f6b7b9,#f4a7a9,#f4a1a3,#f18386,#f07d80,#ee686b,#ec5559,#eb474b,#e93338,#e8202a,#e8212a,#e8202a,#e8202a,#e8202a,#e8202a,#e8202a,#e8232b,#e8202a,#e8212a,#e8232b,#e8222b,#e8202a,#e8202a,#e8272d,#ea3e42,#ed6063,#f39d9f,#fef5f6,#a4a8d2,#5c66b0,#858ac3,#e8e8f3,#f9d5d7,#f1898c,#ed5b5e,#ec5559,#f07a7d,#f6b8ba,#f6bbbd,#f6b8ba,#f6bbbd,#f6b7b9,#f8ccce,#fdf0f0,#f6f6fa,#e8e9f4,#c9cbe5,#b6b8db,#a6aad3,#9a9fcd,#9195c8,#9fa3d0,#adb0d6,#b2b5d9,#d8d9ec,#d5d6ea,#c9cae4,#dadbed,#d4d6ea,#ecedf6,#f3f3f9,#f6f6fa,#fcfcfd,#f9f9fc,#e5e6f2,#cbcde6,#a5a9d3,#979ccc,#aaadd5,#aeb1d7,#c9cae4,#d6d8eb,#d7d9eb,#d1d2e8,#cdcfe6,#d0d2e8,#e2e3f1,#dedfef,#dddeee,#e5e6f2,#e6e7f3)"></i><i style="height:4px;background:linear-gradient(90deg,#f4a5a7,#f5b1b3,#f6b9bb,#f7c3c5,#f7c4c6,#f8cacc,#f6b5b7,#f6b5b7,#f4a9ab,#f39a9c,#f07c7f,#ef7073,#ed5a5e,#eb4346,#ea393d,#e8292f,#e8202a,#e8202a,#e8202a,#e8202a,#e8202a,#e8202a,#e8202a,#e8212a,#e8202a,#e8222b,#e8222b,#e8222b,#e8202a,#e8202a,#e8252c,#ea3a3e,#ec565a,#f39799,#fdf3f4,#9fa3d0,#5c66b0,#868bc3,#e6e7f3,#f9d3d4,#f1898b,#ed5a5d,#ed5a5d,#f18184,#f6b7b9,#f7c2c4,#f6bbbd,#f7c1c3,#f7c0c2,#f9d2d4,#fdf0f1,#efeff7,#dddeee,#c3c5e2,#afb2d8,#a0a4d0,#9a9ecd,#9397c9,#a3a6d1,#afb2d8,#b5b8db,#d3d5e9,#d3d5ea,#cdcfe7,#d5d7ea,#d1d2e8,#e7e8f3,#f6f6fb,#f3f3f9,#fffcfc,#f8f8fb,#e2e3f1,#cdcee6,#a3a7d1,#9297c9,#a6a9d3,#aeb1d7,#c7c9e3,#d3d5ea,#d4d5ea,#d2d3e9,#cccee6,#d4d5ea,#e7e8f3,#e3e4f1,#dcdeee,#e4e4f1,#e7e8f3)"></i><i style="height:4px;background:linear-gradient(90deg,#f4a1a3,#f5b1b3,#f6b5b7,#f7bfc1,#f7c5c7,#f7c4c6,#f5b3b5,#f5b1b3,#f4a9ab,#f29295,#ef7578,#ee6366,#ec4e52,#e93136,#e92c31,#e8252c,#e8202a,#e8202a,#e8202a,#e8212a,#e8202a,#e8202a,#e8212a,#e8202a,#e8202a,#e8232b,#e8222b,#e8232b,#e8202a,#e8202a,#e8242b,#ea383d,#ec5054,#f29496,#fdf3f4,#999dcc,#5d66b0,#878cc4,#e5e6f2,#f8d0d2,#f1888b,#ed595d,#ed5f62,#f1898b,#f6b7b9,#f8cacc,#f7bfc1,#f8c9cb,#f8cbcd,#fadbdc,#fdf2f3,#e7e8f3,#d1d2e8,#bdbfdf,#a9acd4,#9a9ecd,#9b9fcd,#969bcb,#a7abd4,#b3b5d9,#babcdd,#cfd1e7,#d2d4e9,#d3d4e9,#d1d3e8,#cdcfe7,#e1e2f0,#f9f9fc,#f0f0f7,#fef7f7,#f7f7fb,#dfe1ef,#cfd1e7,#a2a6d1,#8f94c7,#a3a7d2,#aeb1d7,#c5c7e3,#d0d2e8,#d0d2e8,#d2d4e9,#cbcde6,#d8d9ec,#ecedf6,#e7e8f3,#dddeee,#e2e3f1,#e7e8f3)"></i><i style="height:4px;background:linear-gradient(90deg,#f4a3a5,#f5b1b3,#f6b4b6,#f6bcbe,#f7c7c9,#f7bfc1,#f5adaf,#f5aaac,#f4a4a6,#f1888a,#ee6a6d,#ed5a5e,#eb4347,#e8252c,#e8252c,#e8222b,#e8202a,#e8202a,#e8202a,#e8212a,#e8202a,#e8202a,#e8202a,#e8202a,#e8202a,#e8222b,#e8212a,#e8232b,#e8212a,#e8202a,#e8242b,#ea3d41,#ec5155,#f39799,#fef7f8,#959acb,#5d67b1,#878cc3,#e6e7f3,#f8ccce,#f18a8c,#ed5c5f,#ee6568,#f29093,#f6bbbd,#f9d1d3,#f8c8ca,#f9d5d6,#fadadb,#fce9ea,#fffdfd,#dadbed,#c1c3e1,#b1b4d9,#a1a4d0,#9499ca,#9a9fcd,#969bcb,#acafd6,#b6b8db,#babcdd,#cbcce5,#d1d3e9,#d3d4e9,#d4d5ea,#cccde6,#d9daec,#f7f7fb,#efeff7,#fef6f6,#f6f6fa,#dcddee,#cecfe7,#a2a6d1,#8c91c6,#a4a8d2,#adb0d6,#c0c2e0,#cbcce5,#d0d1e8,#d0d2e8,#cbcde6,#dddeee,#f0f1f8,#ebecf5,#dcddee,#e2e3f1,#e7e7f3)"></i><i style="height:4px;background:linear-gradient(90deg,#f5abad,#f5b1b3,#f6b6b8,#f6bbbd,#f8c8ca,#f6babc,#f4a3a5,#f39ea0,#f3989a,#f0787a,#ed5b5f,#ec5356,#ea393d,#e8212a,#e8242b,#e8202a,#e8202a,#e8202a,#e8202a,#e8222b,#e8202a,#e8202a,#e8202a,#e8202a,#e8202a,#e8212a,#e8202a,#e8242b,#e8232b,#e8202a,#e8262c,#eb484c,#ed5d60,#f4a3a5,#fcfcfd,#9297c9,#5e68b1,#858bc3,#eaeaf5,#f7c6c8,#f28d8f,#ed6164,#ee6d70,#f3989a,#f7c4c6,#f9d7d9,#fad8da,#fce7e8,#fdefef,#fefeff,#e8e9f4,#c7c9e4,#aeb1d7,#a0a4d0,#969bcb,#8f94c7,#999dcc,#9398c9,#b0b3d8,#b8badc,#b6b9db,#c6c8e3,#d0d2e8,#cfd1e7,#dcddee,#cccde6,#ced0e7,#f0f1f8,#efeff7,#fef9f9,#f5f5fa,#d7d8eb,#c9cbe5,#a2a6d1,#8b90c5,#a7abd4,#a9add5,#b8bbdc,#c4c6e2,#d2d3e9,#cccde6,#cccee6,#e2e3f1,#f3f3f9,#eeeff7,#d9dbed,#e2e3f1,#e5e5f2)"></i><i style="height:4px;background:linear-gradient(90deg,#f5b2b4,#f5b1b3,#f6b8ba,#f6bbbd,#f8c9cb,#f5b3b5,#f39799,#f28e90,#f1878a,#ee6467,#eb4b4f,#eb4b4f,#e93136,#e8202a,#e8242b,#e8202a,#e8202a,#e8202a,#e8202a,#e8232b,#e8212a,#e8202a,#e8202a,#e8202a,#e8202a,#e8202a,#e8202a,#e8242b,#e8252c,#e8222b,#e92e33,#ec5659,#ef6e71,#f6b5b7,#ebecf5,#8d92c6,#5e68b1,#848ac2,#ecedf6,#f7c2c4,#f29194,#ee676a,#ef7578,#f49fa1,#f8cdcf,#fadfe0,#fcebec,#fffdfd,#f4f4fa,#dedfef,#cbcce5,#b1b4d9,#999ecd,#8e93c7,#8c91c6,#898ec5,#979bcc,#9094c8,#b2b5d9,#b9bbdc,#b3b6da,#c1c4e1,#cfd0e7,#cbcde5,#e3e4f1,#cccee6,#c7c9e3,#eaebf5,#eff0f7,#fffcfc,#f4f5fa,#d3d4e9,#c4c6e2,#a3a6d1,#898ec5,#abaed5,#a6aad3,#b2b5d9,#bfc2e0,#d4d5ea,#c7c9e4,#cbcde6,#e4e5f2,#f2f3f9,#eff0f7,#d7d8eb,#e1e2f0,#e3e3f1)"></i><i style="height:4px;background:linear-gradient(90deg,#f5b3b5,#f5b2b4,#f6bcbe,#f7c1c3,#f8cdcf,#f5acae,#f28e91,#f07f82,#ef7275,#ec5357,#ea3d41,#ea4145,#e8282e,#e8202a,#e8232b,#e8202a,#e8202a,#e8202a,#e8202a,#e8222b,#e8202a,#e8202a,#e8202a,#e8202a,#e8202a,#e8202a,#e8202a,#e8242b,#e8282e,#e8232b,#e93439,#ed6164,#f18184,#f8c8ca,#dcddee,#878cc4,#5d67b0,#878cc4,#eaebf5,#f7c6c8,#f3999b,#ee686b,#f0777a,#f4a6a8,#f9d4d6,#fce7e8,#fefafb,#e8e9f4,#d6d8eb,#c0c2e0,#b0b3d8,#9ea2cf,#8d92c7,#888dc4,#888dc4,#868cc3,#9599ca,#9196c9,#afb2d7,#b4b7da,#b4b7da,#bfc1e0,#cdcfe7,#c8cae4,#e4e5f2,#d2d4e9,#cbcde6,#e8e9f4,#f0f0f7,#fff,#f1f2f8,#cfd1e7,#c1c3e0,#a2a6d1,#888dc4,#a9add5,#a5a9d3,#aeb1d7,#bec1df,#d0d1e8,#c5c7e3,#cccee6,#e0e1f0,#f0f0f8,#edeef6,#d8daec,#e0e1f0,#e2e3f1)"></i><i style="height:4px;background:linear-gradient(90deg,#f5b0b2,#f6b5b7,#f7bfc1,#f7c7c9,#f9d2d4,#f4a5a7,#f1878a,#ef7375,#ed5f62,#eb484c,#e93236,#e9363a,#e8252c,#e8202a,#e8222b,#e8202a,#e8202a,#e8202a,#e8202a,#e8232b,#e8202a,#e8202a,#e8202a,#e8202a,#e8202a,#e8202a,#e8202a,#e8252c,#e82a30,#e8252c,#ea393e,#ee696c,#f29294,#f9d7d9,#cfd0e7,#8187c1,#5b66b0,#8d92c7,#e4e5f2,#f8ccce,#f4a0a2,#ee676a,#f0787a,#f5adaf,#f9d7d8,#fdeeef,#f9f9fc,#d5d7eb,#c0c2e0,#a9add5,#9da1ce,#9195c8,#888dc4,#898ec5,#888dc4,#8489c2,#9397c9,#969acb,#abaed6,#aeb1d7,#b7b9db,#bcbede,#cbcde5,#c6c8e3,#dedfef,#d9dbed,#d0d2e8,#e4e5f2,#edeef6,#fafafc,#eaebf5,#c6c8e3,#c0c2e0,#9fa3d0,#868cc3,#a6aad3,#a7abd4,#acafd6,#c0c2e0,#c8cae4,#c5c7e2,#cfd1e8,#d9daec,#eeeff7,#e7e8f3,#d9daec,#dddeee,#e0e1f0)"></i><i style="height:4px;background:linear-gradient(90deg,#f5adaf,#f6b8ba,#f7c1c3,#f8cdcf,#f9d7d9,#f4a0a2,#f18386,#ee6b6e,#ec5357,#eb4246,#e82b30,#e92e33,#e8232b,#e8202a,#e8222b,#e8202a,#e8202a,#e8202a,#e8212a,#e8232b,#e8202a,#e8202a,#e8202a,#e8202a,#e8202a,#e8202a,#e8202a,#e8262c,#e92d32,#e8272d,#ea3e42,#ef7073,#f39c9e,#fbe0e1,#c6c8e3,#7d83bf,#5a65af,#9498ca,#dddeee,#f9d3d5,#f4a8aa,#ee6467,#ef7679,#f5b3b5,#fad9db,#fdf3f4,#f3f4f9,#cccee6,#b6b9db,#9fa3cf,#9499ca,#8b90c6,#888dc4,#8f94c8,#8a8fc5,#8389c2,#9196c9,#9b9fce,#a7abd4,#a7abd4,#b8badc,#b6b8db,#c6c8e3,#c0c3e0,#d6d7eb,#dedfef,#d2d3e9,#dddeee,#e6e7f3,#eff0f7,#dedfef,#babddd,#bcbfde,#9ba0ce,#858ac3,#a3a7d2,#a9add5,#aaadd5,#c1c3e0,#bfc2e0,#c4c6e2,#d1d3e8,#d0d1e8,#eaeaf5,#dfe0ef,#d6d8eb,#d8d9ec,#dbdced)"></i><i style="height:4px;background:linear-gradient(90deg,#f5adaf,#f6b9bb,#f7c3c5,#f9d2d4,#fadbdc,#f39d9f,#f18285,#ee696c,#ec4e52,#ea3e42,#e8292e,#e92c31,#e8232b,#e8202a,#e8212a,#e8202a,#e8202a,#e8202a,#e8202a,#e8232b,#e8202a,#e8202a,#e8202a,#e8202a,#e8202a,#e8202a,#e8202a,#e8262c,#e93035,#e92c32,#eb4246,#ef7476,#f4a3a5,#fbe4e5,#c1c3e1,#7a81be,#5a65af,#9196c9,#d6d8eb,#faddde,#f5adaf,#ed6265,#ef7578,#f6b7b9,#fadddf,#fef7f8,#eeeff7,#cccee6,#b3b6d9,#a0a4d0,#979ccc,#898ec5,#8b90c5,#9296c9,#8f94c8,#8388c2,#8f94c8,#9ca0ce,#a2a6d1,#a3a6d1,#b7b9db,#b0b3d8,#bec1df,#babcdd,#cfd0e7,#dddeee,#d0d2e8,#d4d6ea,#dbdced,#e5e6f2,#d0d1e8,#afb2d7,#b5b7da,#979ccc,#848ac2,#a1a5d1,#a8acd4,#a9acd4,#c1c3e0,#b9bcdd,#c4c6e2,#cccee6,#c6c8e3,#dfe0ef,#d5d6ea,#d0d1e8,#cfd1e7,#d5d7eb)"></i><i style="height:4px;background:linear-gradient(90deg,#f5aeb0,#f6babc,#f7c5c7,#f9d7d8,#faddde,#f39d9f,#f18486,#ee6d6f,#ec4f53,#ea3a3e,#e82b30,#e92d32,#e8232b,#e8202a,#e8202a,#e8202a,#e8202a,#e8202a,#e8202a,#e8222b,#e8202a,#e8202a,#e8202a,#e8202a,#e8202a,#e8202a,#e8202a,#e8252c,#e93337,#e93136,#eb474b,#ef7679,#f4a7a9,#fce7e8,#bfc1df,#787fbd,#5b65b0,#898ec4,#d1d3e8,#fce7e8,#f5adaf,#ed6265,#ef7577,#f6b9bb,#fbe3e4,#fefbfb,#e9e9f4,#d2d3e9,#b1b4d8,#a7aad3,#a1a5d1,#878dc4,#8f94c7,#9094c8,#979bcb,#8288c1,#8c91c6,#999dcd,#9ca0ce,#a1a5d1,#b6b8db,#aeb1d7,#b7b9db,#b4b7da,#cbcde6,#d8daec,#cfd0e7,#ced0e7,#cfd1e8,#dfe0ef,#c3c6e2,#a7abd4,#abaed6,#9499ca,#858ac3,#a0a4d0,#a5a9d2,#a9add5,#c0c2e0,#b6b8db,#c6c8e3,#c4c6e2,#bdbfde,#d1d3e9,#cccde6,#c7c9e4,#c6c8e3,#d2d3e9)"></i><i style="height:4px;background:linear-gradient(90deg,#f5b0b2,#f6bbbd,#f7c7c9,#fadbdc,#fbe0e1,#f39ea0,#f1888b,#ef7578,#ec565a,#ea3c40,#e93136,#e93237,#e8252c,#e8202a,#e8202a,#e8212a,#e8202a,#e8202a,#e8202a,#e8222b,#e8212a,#e8202a,#e8202a,#e8202a,#e8202a,#e8202a,#e8202a,#e8242b,#e9353a,#e9353a,#eb4c50,#f0797c,#f5acae,#fceaeb,#bcbfde,#767dbc,#5c66b0,#8288c1,#cdcfe7,#fdeff0,#f5adaf,#ed6164,#ef7477,#f6babc,#fce7e8,#fffefe,#e4e5f2,#d8d9ec,#afb2d8,#aeb1d7,#abaed6,#868bc3,#9397c9,#8d92c7,#9ea2cf,#8187c1,#898ec5,#979bcb,#989ccc,#a2a6d1,#b8bbdc,#b0b3d8,#b3b6da,#b3b6da,#cccee6,#d8d9ec,#d2d4e9,#cecfe7,#cbcde5,#e0e1f0,#bfc1e0,#a6a9d3,#a5a9d3,#9398c9,#858bc3,#9fa3cf,#a2a5d1,#aaadd5,#bec1df,#b3b5d9,#c9cbe5,#bec0df,#b8bbdc,#c8cae4,#c6c8e3,#c3c5e1,#c1c4e1,#d2d4e9)"></i><i style="height:4px;background:linear-gradient(90deg,#f5afb1,#f6bcbe,#f7c7c9,#fadbdd,#fadedf,#f4a0a2,#f28f91,#f07f81,#ed6265,#eb4448,#ea3c40,#ea393d,#e8252c,#e8202a,#e8202a,#e8212a,#e8202a,#e8202a,#e8202a,#e8212a,#e8212a,#e8202a,#e8202a,#e8202a,#e8202a,#e8202a,#e8202a,#e8252c,#ea393d,#ea393e,#ec5155,#f08083,#f6b6b8,#fdf0f1,#b9bcdd,#757cbb,#5c66b0,#8086c0,#cdcee6,#fdeff0,#f5abad,#ed5f63,#ef7174,#f6b9bb,#fce8e9,#fdfdfe,#e3e4f1,#d6d7eb,#afb2d7,#afb2d7,#b0b3d8,#888dc4,#9499ca,#8f93c7,#9fa3d0,#8288c1,#878cc3,#969bcb,#999dcc,#a4a8d2,#babddd,#b6b9db,#b6b9db,#b8bbdc,#d1d2e8,#dadced,#d7d8eb,#d4d6ea,#d0d1e8,#e6e7f3,#c7c9e3,#afb3d8,#a8abd4,#9498ca,#868bc3,#9fa3d0,#a2a6d1,#aaadd5,#bec1df,#b3b6d9,#cdcee6,#bec0df,#bdbfdf,#cacce5,#cbcde5,#c4c6e2,#c6c8e3,#d7d9eb)"></i><i style="height:4px;background:linear-gradient(90deg,#f5acae,#f6bcbe,#f7c6c8,#fadadb,#fad9da,#f4a4a6,#f39799,#f1888b,#ef6f72,#ec4f52,#eb474b,#ea4044,#e8262c,#e8232b,#e8222b,#e8212a,#e8202a,#e8202a,#e8202a,#e8212a,#e8222b,#e8202a,#e8202a,#e8202a,#e8202a,#e8202a,#e8212a,#e8252c,#ea3c40,#ea3e42,#ec5659,#f18b8d,#f7c3c5,#fefafa,#b6b8db,#757cbb,#5b65b0,#8288c2,#ced0e7,#fceaea,#f4a9ab,#ed5e61,#ee6d70,#f6b6b8,#fce7e8,#f9f9fc,#e5e5f2,#ced0e7,#b0b3d8,#abafd6,#b0b3d8,#8f94c7,#9499ca,#9498ca,#9da1ce,#8389c2,#848ac2,#989ccc,#9da1cf,#a6a9d3,#bbbede,#bfc1df,#bcbede,#c1c3e1,#d8d9ec,#dee0ef,#dcddee,#dfe0ef,#dadced,#ecedf6,#d5d7eb,#c0c2e0,#b0b3d8,#959acb,#858ac3,#a1a4d0,#a6aad3,#a8acd4,#bfc1df,#b5b8db,#cfd0e7,#c1c3e0,#c8cae4,#d4d6ea,#d6d8eb,#c9cae4,#d0d1e8,#dedfef)"></i><i style="height:4px;background:linear-gradient(90deg,#f5a9ab,#f6bcbe,#f7c6c8,#fad9db,#f9d5d7,#f4a9ab,#f4a0a2,#f29395,#f07f82,#ed5a5e,#ec5457,#eb484c,#e8292f,#e8252c,#e8252c,#e8212a,#e8202a,#e8202a,#e8202a,#e8202a,#e8232b,#e8202a,#e8202a,#e8212a,#e8212a,#e8202a,#e8232b,#e8262c,#ea4145,#eb4448,#ed5b5f,#f39799,#f9d2d4,#f8f9fc,#b1b4d9,#747cbb,#5a65af,#858ac3,#d0d1e8,#fbe4e5,#f4a7a9,#ed5c60,#ee696c,#f5b3b5,#fbe6e7,#f5f5fa,#e7e7f3,#c6c8e3,#b2b5d9,#a8abd4,#b0b3d8,#979bcb,#9599ca,#999ecd,#9a9ecd,#848ac2,#8187c1,#9a9ecd,#a1a5d1,#a7abd4,#bcbfde,#c7c9e4,#c1c3e1,#cacce5,#dfe0ef,#e2e3f1,#e0e1f0,#e9eaf4,#e5e5f2,#f2f2f8,#e3e4f1,#d0d2e8,#b8badc,#979bcb,#848ac2,#a2a6d1,#aaadd5,#a7abd4,#bfc2e0,#b7badc,#d1d2e8,#c3c5e2,#d2d4e9,#dedfef,#e1e2f0,#cdcee6,#d9dbec,#e5e6f2)"></i><i style="height:4px;background:linear-gradient(90deg,#f5aaac,#f6bdbf,#f8c8ca,#fadadc,#f9d5d6,#f5b0b2,#f4a9ab,#f39ea0,#f29193,#ee696c,#ed6164,#ec5054,#e93035,#e92c31,#e8282e,#e8232b,#e8202a,#e8202a,#e8202a,#e8202a,#e8242b,#e8202a,#e8202a,#e8222b,#e8212a,#e8202a,#e8242b,#e8272d,#eb4448,#eb4a4e,#ee6366,#f4a4a6,#fbe2e3,#eaebf5,#acafd6,#7179ba,#5864af,#868bc3,#d0d2e8,#fadee0,#f4a5a7,#ed5d61,#ee686b,#f5b3b5,#fce7e8,#f5f6fa,#e8e8f3,#c0c2e0,#b1b4d9,#a7abd4,#b0b3d8,#9a9ecd,#9599ca,#989ccc,#9a9ecd,#868cc3,#8187c1,#989ccc,#a2a6d1,#aaaed5,#bcbede,#cccde6,#c9cbe5,#d1d2e8,#dedfef,#e4e5f2,#e6e7f3,#ecedf6,#ebebf5,#f4f5fa,#eeeef6,#dadbed,#bdbfde,#999dcc,#858ac3,#a5a8d2,#aaaed5,#aaadd5,#c3c5e1,#babcdd,#cdcfe6,#c8cae4,#d8d9ec,#e5e5f2,#e5e6f2,#d3d5e9,#e2e3f1,#e9eaf4)"></i><i style="height:4px;background:linear-gradient(90deg,#f5adaf,#f7bfc1,#f8cdcf,#fadddf,#f9d7d9,#f6babc,#f5b1b3,#f5aaac,#f4a4a6,#f07c7e,#ef7073,#ed585b,#ea3b3f,#e93438,#e92f35,#e8252c,#e8202a,#e8202a,#e8202a,#e8212a,#e8252c,#e8212a,#e8202a,#e8232b,#e8202a,#e8202a,#e8242b,#e8282e,#eb484b,#ec5255,#ef6d70,#f6b4b6,#fdf4f5,#d9daec,#a6a9d3,#6c74b7,#5462ae,#858ac3,#cfd1e8,#fad9db,#f4a3a5,#ed6164,#ee696c,#f6b4b6,#fcebec,#fafafd,#e8e9f4,#bcbfde,#afb2d8,#aaadd5,#b1b4d8,#989dcc,#959acb,#9094c8,#9da1ce,#898ec5,#8288c2,#9397c9,#9fa3d0,#aeb1d7,#babddd,#cccee6,#d3d4e9,#d5d6ea,#d7d9ec,#e4e5f2,#ecedf6,#e9eaf4,#ededf6,#f3f3f9,#f3f3f9,#dddeee,#bec1df,#9b9fce,#868cc3,#a8acd4,#a7abd4,#b0b3d8,#c8cae4,#bdbfdf,#c4c6e2,#cfd1e8,#d8d9ec,#e7e8f3,#e2e3f1,#dcddee,#eaebf5,#eaeaf5)"></i><i style="height:4px;background:linear-gradient(90deg,#f5b0b2,#f7c1c3,#f9d2d4,#fbe2e3,#fadbdd,#f7c4c6,#f6b9bb,#f6b7b9,#f6b8ba,#f28f91,#f08083,#ed6063,#eb474b,#ea3c40,#ea383c,#e8292f,#e8212a,#e8202a,#e8202a,#e8212a,#e8262c,#e8212a,#e8202a,#e8242b,#e8202a,#e8212a,#e8242b,#e82a30,#eb4c4f,#ed5a5e,#f0797c,#f7c6c8,#f5f5fa,#c7c9e3,#9fa2cf,#666fb5,#5160ad,#848ac2,#ced0e7,#f9d4d6,#f4a1a3,#ee6468,#ee6b6e,#f6b6b8,#fdf0f0,#fff,#e8e9f4,#b9bbdc,#aeb1d7,#adb0d6,#b2b5d9,#989ccc,#969acb,#898ec4,#a0a3d0,#8d92c7,#848ac2,#8e92c7,#9ca0ce,#b1b4d9,#b8badc,#cbcde6,#dbdced,#d7d9eb,#cfd1e7,#e3e4f1,#f1f1f8,#e4e5f2,#ececf6,#efeff7,#f6f6fa,#dee0ef,#bec1df,#9da1cf,#888dc4,#acb0d6,#a5a8d2,#b7b9db,#cecfe7,#c0c2e0,#babcdd,#d5d6ea,#d7d9eb,#e9eaf4,#dedfef,#e2e3f1,#f1f1f8,#e9eaf4)"></i><i style="height:4px;background:linear-gradient(90deg,#f5b2b4,#f7c2c4,#f9d7d8,#fbe4e5,#fbe0e1,#f9d1d3,#f7c4c6,#f7c5c7,#f8c9cb,#f4a3a5,#f29193,#ee6c6f,#ec5659,#eb484c,#ea4145,#e93035,#e8212a,#e8202a,#e8202a,#e8212a,#e8262c,#e8212a,#e8202a,#e8242b,#e8202a,#e8212a,#e8252c,#e92e33,#ec5356,#ee6467,#f18689,#f9d5d7,#e0e1f0,#b6b9db,#9599ca,#606ab2,#5160ac,#8389c2,#d0d1e8,#f9d5d7,#f4a3a5,#ee6a6d,#ef7073,#f6b7b9,#fdf1f2,#fffefe,#e8e9f4,#b9bcdd,#afb2d8,#adb1d7,#b5b7da,#9b9fce,#9a9ecd,#8a8fc5,#a1a5d0,#9297c9,#868cc3,#8c91c6,#9b9fce,#b0b3d8,#b7badc,#cbcde5,#e2e3f1,#dadbed,#cccee6,#dfe0ef,#eeeff7,#e1e2f0,#e9eaf4,#ecedf6,#f5f5fa,#dedfef,#bcbfde,#9da1ce,#8c90c6,#adb0d6,#a6aad3,#b9bbdc,#cccee6,#c1c3e0,#bbbede,#d7d8eb,#d5d7ea,#e9e9f4,#d8d9ec,#e6e7f3,#f2f2f9,#e8e9f4)"></i><i style="height:4px;background:linear-gradient(90deg,#f5b2b4,#f7c3c5,#fadadb,#fce7e8,#fce7e8,#fbe1e2,#f9d5d7,#fad8da,#fadadb,#f6bcbe,#f4a4a6,#f18184,#ee6b6e,#ec575b,#eb4c4f,#e9363a,#e8222b,#e8202a,#e8202a,#e8212a,#e8242b,#e8222b,#e8222b,#e8242b,#e8212a,#e8222b,#e92c31,#e93439,#ed5d61,#ef7275,#f29395,#fadedf,#d7d8eb,#aaaed5,#8c91c6,#5d67b0,#5361ad,#848ac2,#d3d4e9,#fadedf,#f5aaac,#ef7174,#f0787b,#f6b7b9,#fdf4f4,#fafafd,#e9e9f4,#c1c3e0,#b8bbdc,#afb3d8,#bcbede,#a4a8d2,#a6aad3,#989ccc,#a1a5d1,#979bcb,#8a8fc5,#8f94c8,#9ea2cf,#aeb1d7,#babcdd,#cccee6,#e4e5f2,#dddeee,#cfd0e7,#d9dbec,#e4e5f2,#e0e1f0,#e4e5f2,#ebebf5,#eeeef6,#d7d9eb,#b7badc,#9da1ce,#9296c9,#a7abd4,#abaed6,#b7b9db,#c2c4e1,#bec0df,#c5c7e3,#d3d5e9,#cdcfe6,#e5e6f2,#d1d3e8,#e4e5f2,#e8e9f4,#e5e6f2)"></i><i style="height:4px;background:linear-gradient(90deg,#f5b3b5,#f7c5c7,#fadee0,#fcebec,#fdf1f2,#fdf3f3,#fce9ea,#fdeeef,#fceced,#f9d7d9,#f6b9bb,#f39a9c,#f1888a,#ee6a6d,#ed595c,#ea3f42,#e8242b,#e8202a,#e8212a,#e8202a,#e8222b,#e8222b,#e8242b,#e8252c,#e8242b,#e8232b,#e93539,#ea3b40,#ee696c,#f08183,#f4a0a2,#fbe4e5,#d4d6ea,#a5a9d2,#878cc4,#5c66b0,#5663ae,#868bc3,#d6d8eb,#fce7e8,#f5b0b2,#f0777a,#f07f82,#f6b8ba,#fef7f8,#f3f3f9,#eaebf5,#cccde6,#c5c7e3,#b7b9db,#c9cae4,#b3b6da,#babcdd,#acb0d6,#a7aad3,#9ea2cf,#9095c8,#9297c9,#a1a5d1,#acafd6,#bec1df,#d0d2e8,#e8e8f4,#dfe0ef,#d0d2e8,#d2d4e9,#d7d8eb,#dbdced,#dcddee,#e5e6f2,#e2e3f1,#cdcfe6,#b0b3d8,#9ca0ce,#989ccc,#a1a5d0,#afb2d8,#b3b6da,#b6b9db,#b9bcdd,#cecfe7,#cdcee6,#c2c4e1,#e0e1f0,#c8cae4,#dfe0ef,#dbdced,#e0e1f0)"></i><i style="height:4px;background:linear-gradient(90deg,#f6b4b6,#f8c9cb,#fbe2e3,#fdf3f4,#fffefe,#f9f9fc,#fffefe,#f7f8fb,#fcfcfd,#fdf3f3,#f9d4d5,#f6b6b8,#f4a4a6,#f07f82,#ee676a,#eb4a4e,#e8262c,#e8202a,#e8232b,#e8202a,#e8212a,#e8232b,#e8252c,#e8282e,#e8252c,#e8242b,#ea3b3f,#eb4448,#ef7476,#f28e90,#f5aaac,#fce7e8,#d5d6ea,#a7abd4,#868cc3,#5c66b0,#5864af,#8a8fc5,#d7d8eb,#fcedee,#f6b5b7,#f07b7d,#f18386,#f6babc,#fffdfe,#ebecf5,#ebecf5,#d4d6ea,#d1d2e8,#c4c6e2,#d6d8eb,#c8c9e4,#cfd1e7,#c1c3e0,#b0b3d8,#a6a9d3,#959acb,#9397c9,#a6a9d3,#b0b3d8,#c1c3e1,#d3d4e9,#e7e8f3,#dfe0ef,#cfd1e7,#cecfe7,#cfd0e7,#d3d5ea,#d0d2e8,#d9dbed,#d7d8eb,#c0c2e0,#aaadd5,#9ca0ce,#9a9ecd,#9da1ce,#b1b4d8,#aeb1d7,#adb0d6,#b5b8da,#cbcde6,#c6c8e3,#b8bbdc,#d6d8eb,#c2c4e1,#d9dbec,#d1d3e9,#d9daec)"></i><i style="height:4px;background:linear-gradient(90deg,#f6b6b8,#f8ced0,#fbe5e6,#fffefe,#eff0f7,#e6e7f3,#e6e7f3,#dbdced,#e2e3f1,#f0f0f8,#fdefef,#f9d3d5,#f7bec0,#f29294,#ef7578,#ed585b,#e93035,#e8232b,#e8242b,#e8202a,#e8212a,#e8242b,#e82a2f,#e92f34,#e8262c,#e8252c,#ea3e42,#ec4d51,#f07c7f,#f3999b,#f5b3b5,#fce8e9,#d7d9ec,#aeb1d7,#888dc4,#5f69b1,#5a65af,#9297c9,#d4d6ea,#fdf0f1,#f6b7b9,#f07b7e,#f18587,#f6bcbe,#f9f9fc,#e4e5f2,#ebecf5,#d9daec,#d7d9ec,#d2d4e9,#e1e2f0,#dddeee,#e2e3f1,#d2d4e9,#babddd,#acb0d6,#989dcc,#9095c8,#aaadd5,#b7b9db,#c1c4e1,#d3d5e9,#e1e2f0,#dddeee,#cdcee6,#cdcfe6,#cccee6,#cbcde6,#c6c8e3,#cdcfe7,#cfd0e7,#b4b7da,#a6aad3,#9ea2cf,#999dcd,#9b9fcd,#b1b4d8,#aaadd5,#a6aad3,#b2b5d9,#c2c4e1,#c1c3e1,#b1b4d9,#cccee6,#c1c3e0,#d5d6ea,#cccee6,#d1d3e9)"></i><i style="height:4px;background:linear-gradient(90deg,#f6b8ba,#f9d2d4,#fce8e9,#f3f4f9,#dfe0ef,#d5d6ea,#cfd1e7,#c3c5e1,#cccee6,#d7d9ec,#f8f8fb,#fcebec,#f9d3d5,#f4a1a3,#f18284,#ee6568,#ea3a3e,#e92c32,#e8272d,#e8212a,#e8212a,#e8252c,#e93136,#ea383c,#e8292f,#e82b31,#eb4347,#ec575b,#f18487,#f4a3a5,#f6b9bb,#fce8e9,#dadced,#b5b8da,#898ec5,#626bb3,#5b65b0,#9a9ecd,#d2d3e9,#fdf3f4,#f6b9bb,#f07c7f,#f18588,#f6bcbe,#f4f4f9,#dedfef,#ebebf5,#dbdced,#d9dbed,#dbdced,#e6e7f3,#ededf6,#f0f1f8,#dfe0ef,#c2c4e1,#b1b4d8,#9b9fcd,#8d92c7,#aeb1d7,#bcbfde,#c0c2e0,#d1d3e9,#dadced,#dadbed,#cbcde6,#ced0e7,#cdcee6,#c7c9e3,#bfc1e0,#c6c8e3,#cbcde6,#abaed6,#a5a9d3,#a0a4d0,#999dcc,#9a9ecd,#b2b5d9,#a7abd4,#a2a6d1,#b2b5d9,#bcbede,#bfc1df,#adb0d7,#c4c6e2,#c2c4e1,#d2d4e9,#c9cbe4,#cccee6)"></i><i style="height:4px;background:linear-gradient(90deg,#f6babc,#fadadb,#fcebec,#e8e9f4,#d1d2e8,#c4c6e2,#bbbddd,#b1b4d9,#bdbfde,#c6c8e3,#e4e5f2,#fffdfd,#fbe5e6,#f5b0b2,#f28e90,#ef7275,#eb4649,#ea3c40,#e93136,#e8222b,#e8222b,#e82a30,#ea3e42,#ea4044,#e92d33,#e9353a,#ec4d51,#ed6165,#f28d8f,#f5acae,#f7c0c2,#fce9ea,#dedfef,#b4b7da,#898ec5,#646db4,#5b66b0,#9fa3d0,#d1d3e8,#fef6f7,#f6bbbd,#f07e81,#f18688,#f6bcbe,#f1f2f8,#d7d9ec,#eaebf5,#dddeee,#dddeee,#e1e2f0,#e9eaf4,#f4f5fa,#f9fafc,#eaebf5,#c5c7e2,#b4b7da,#a0a3d0,#8c91c6,#b1b4d8,#bfc1e0,#bfc1df,#d1d3e9,#d5d6ea,#d8d9ec,#cccee6,#cecfe7,#cccde6,#c6c8e3,#bbbddd,#c4c6e2,#c9cbe4,#a5a8d2,#a4a7d2,#a5a8d2,#9a9ecd,#969bcb,#b4b7da,#a9add5,#a0a4d0,#b2b5d9,#babcdd,#bcbfde,#a8acd4,#c0c2e0,#c6c8e3,#cfd0e7,#c5c7e3,#cacce5)"></i><i style="height:4px;background:linear-gradient(90deg,#f6bcbe,#fbe0e2,#fdf1f1,#dedfef,#c4c6e2,#b3b6d9,#acafd6,#a4a8d2,#aeb2d7,#b9bcdd,#d6d8eb,#f2f2f9,#fdf4f4,#f7c1c3,#f39c9e,#f08082,#ec5356,#eb474a,#ea3a3e,#e8282e,#e8252c,#e93439,#eb494d,#eb4649,#e93438,#eb4246,#ed5b5e,#ee6b6e,#f39698,#f5b3b5,#f8c9cb,#fdefef,#dedfef,#abafd6,#878cc4,#656eb4,#5b65b0,#9da1cf,#d0d2e8,#fef4f5,#f6b9bb,#f08083,#f18689,#f6bdbf,#f5f6fa,#d7d8eb,#ececf5,#e1e2f0,#e3e4f1,#e6e7f3,#efeff7,#f6f6fa,#fff,#f1f1f8,#c8cae4,#b8badc,#a7aad3,#8d92c6,#aeb1d7,#bfc1e0,#c2c4e1,#d7d8eb,#d5d6ea,#d4d6ea,#d1d2e8,#cacce5,#c7c9e3,#c7c9e3,#b7b9db,#c5c7e2,#c4c6e2,#a2a6d1,#a1a5d0,#a5a9d3,#9a9ecd,#9095c8,#b3b6d9,#abafd6,#9ea2cf,#aeb1d7,#babddd,#b9bbdc,#a6aad3,#bcbfde,#cbcde5,#c7c9e4,#c0c3e0,#cbcde5)"></i><i style="height:4px;background:linear-gradient(90deg,#f7bec0,#fbe5e6,#fef7f7,#d5d7ea,#babcdd,#a3a7d2,#a1a5d0,#9a9ecd,#a1a5d1,#afb2d8,#cacce5,#e2e3f1,#fcfcfe,#f9d3d5,#f5acae,#f28e90,#ed6063,#ec4f53,#eb4448,#ea3b3f,#e92f34,#ea4044,#ec5558,#eb4c50,#ea3d41,#ec5256,#ee696c,#f0777a,#f39ea0,#f6babc,#f9d3d4,#fef7f7,#dbdced,#a2a6d1,#848ac2,#666fb5,#5a65af,#989ccc,#cecfe7,#fdf1f2,#f6b7b9,#f18285,#f1888a,#f7bfc1,#fcfcfe,#dbdced,#eff0f7,#e7e7f3,#eaeaf5,#edeef6,#f6f6fb,#f5f6fa,#fffdfd,#f4f5fa,#cbcce5,#bcbfde,#aeb1d7,#8c91c6,#a9acd4,#bfc1df,#c6c8e3,#dee0ef,#d7d8eb,#d0d2e8,#d6d8eb,#c7c8e3,#c2c4e1,#c8cae4,#b2b5d9,#c5c7e3,#bfc1df,#a2a6d1,#9fa3cf,#a4a8d2,#989ccc,#8a8fc5,#afb2d7,#abaed5,#9ca0ce,#a9add5,#babddd,#b6b9db,#a7aad3,#b8bbdc,#d1d2e8,#c0c2e0,#bcbfde,#cccee6)"></i><i style="height:4px;background:linear-gradient(90deg,#f7bfc1,#fbe5e6,#fffcfd,#cfd1e8,#b2b5d9,#989ccc,#989ccc,#8f94c8,#979bcb,#a3a7d1,#bdbfdf,#d3d4e9,#eaebf5,#fbe3e4,#f6bcbe,#f39d9f,#ef7174,#ed5a5e,#ec5255,#ec4e51,#ea4044,#ec4f52,#ed6064,#ed5a5e,#ec5054,#ee6366,#f07a7c,#f18688,#f4a6a8,#f7c1c3,#fadbdc,#fffefe,#d6d7eb,#9ea2cf,#8187c1,#666fb5,#5b65b0,#959acb,#cacce5,#fdf1f2,#f6b9bb,#f18587,#f28b8e,#f7c2c4,#fffefe,#e3e4f1,#f4f4f9,#ecedf6,#eeeff7,#f3f4f9,#fdfdfe,#f7f7fb,#fffdfd,#f2f3f9,#cccee6,#bfc1df,#afb2d8,#8e92c7,#a4a8d2,#bdbfde,#cbcce5,#e2e3f1,#dadbed,#ced0e7,#d6d7eb,#c6c8e3,#c2c4e1,#c9cae4,#aeb1d7,#c5c7e3,#bdbfde,#a5a9d3,#a2a6d1,#a3a7d2,#9397c9,#898ec4,#aaaed5,#a8acd4,#999dcc,#a5a9d3,#b9bcdd,#b5b8db,#a9add5,#b9bbdc,#d0d2e8,#bcbede,#babcdd,#ced0e7)"></i><i style="height:4px;background:linear-gradient(90deg,#f7bfc1,#fbe0e2,#fbfbfd,#cccee6,#acb0d6,#8f94c8,#9196c9,#868bc3,#8d92c7,#9599ca,#b0b3d8,#c4c6e2,#d7d9ec,#fdf2f2,#f8cbcd,#f5aeb0,#f18487,#ee676a,#ee6366,#ed5f62,#ec5357,#ed5f62,#ee6d70,#ef7073,#ee6c6f,#ef7578,#f18a8c,#f39699,#f5adaf,#f7c7c9,#fbe2e4,#f9f9fc,#ced0e7,#a0a4d0,#7f85c0,#666fb4,#5d67b1,#9499ca,#c7c9e3,#fef4f5,#f6bdbf,#f1888a,#f29193,#f7c5c7,#fffcfc,#eeeff7,#f9f9fc,#f2f3f9,#f1f1f8,#f9fafc,#fefbfc,#fbfbfd,#fdfdfe,#ebecf5,#cccde6,#bfc2e0,#acafd6,#9095c8,#a0a4d0,#babcdd,#cfd0e7,#e3e4f1,#dfe0ef,#cfd1e7,#cfd1e7,#c8cae4,#c5c7e3,#c8cae4,#a9acd4,#c5c7e2,#bdbfdf,#acafd6,#aaaed5,#a3a7d2,#8c91c6,#8b90c5,#a5a9d3,#a4a7d2,#959acb,#a2a5d1,#b8bbdc,#b7badb,#acb0d6,#bcbede,#cbcde5,#bbbddd,#b8bbdc,#d0d1e8)"></i><i style="height:4px;background:linear-gradient(90deg,#f7bfc1,#fadcdd,#f4f5fa,#cacce5,#a8acd4,#898ec4,#8b90c6,#7f85c0,#878cc3,#888dc4,#a3a7d2,#b5b7da,#c4c6e2,#fdfdfe,#fadbdc,#f7c1c3,#f3999b,#ef777a,#ef7779,#ef7476,#ee686b,#ef7174,#f07b7e,#f1888a,#f18b8d,#f1878a,#f3999b,#f4a7a9,#f5b3b5,#f8ccce,#fceaeb,#f1f1f8,#c6c8e3,#a1a5d1,#7d84bf,#656eb4,#616ab2,#9498ca,#c3c5e2,#fef8f8,#f7c2c4,#f28c8e,#f39799,#f8c9cb,#fefafa,#fafafd,#fff,#f9f9fc,#f3f4f9,#fff,#fef6f6,#fefefe,#f8f8fc,#e4e5f2,#cbcce5,#c0c2e0,#a9acd4,#9397c9,#9ba0ce,#b6b9db,#d3d4e9,#e4e5f2,#e4e4f2,#d0d1e8,#c9cbe4,#cacce5,#c9cbe5,#c8cae4,#a4a7d2,#c4c6e2,#bdc0df,#b2b5d9,#b3b5d9,#a3a6d1,#868bc3,#8d92c6,#a0a4d0,#9fa3d0,#9297c9,#9ea2cf,#b7b9db,#b8bbdc,#b0b3d8,#c0c2e0,#c6c8e3,#babcdd,#b7badc,#d2d3e9)"></i><i style="height:4px;background:linear-gradient(90deg,#f7c0c2,#f9d7d9,#f0f0f7,#c8cae4,#a2a6d1,#858ac3,#898ec5,#7980bd,#8288c1,#8187c1,#999dcc,#a4a7d2,#b2b5d9,#e9eaf4,#fceced,#f9d2d4,#f5aeb0,#f28b8d,#f28c8f,#f28c8e,#f08082,#f18486,#f28b8e,#f3989a,#f4a1a3,#f3999b,#f4a3a5,#f5b2b4,#f6bbbd,#f9d3d5,#fdf3f4,#e8e9f4,#c3c5e2,#a0a4d0,#7b82be,#666fb5,#626bb3,#9196c9,#bec0df,#fefbfb,#f7c8ca,#f29496,#f39d9f,#f8cdcf,#fef9f9,#fff,#fefbfb,#fdfdfe,#f7f8fb,#fef9fa,#fdeff0,#fff,#f8f9fc,#dedfef,#cbcde6,#bfc2e0,#a8acd4,#9397c9,#969bcb,#b6b9db,#d7d8eb,#e6e7f3,#e6e7f3,#cdcfe7,#cbcde6,#cbcde6,#c8cae4,#c7c9e4,#a5a9d2,#c0c3e0,#bdbfde,#b7badb,#b5b7da,#a1a5d1,#8288c2,#8b90c5,#999ecd,#9b9fce,#9196c9,#9b9fce,#b5b8db,#bbbddd,#b6b9db,#c0c2e0,#c5c7e2,#b7badc,#b5b8db,#d5d6ea)"></i><i style="height:4px;background:linear-gradient(90deg,#f7c2c4,#f9d4d6,#eeeef6,#c5c7e2,#9a9ecd,#8489c2,#8a8fc5,#777ebc,#7e85c0,#7e85c0,#9195c8,#9398ca,#a1a5d1,#d2d4e9,#fefefe,#fbe5e6,#f7c5c7,#f4a7a9,#f4a5a7,#f4a6a8,#f3989a,#f29396,#f39a9c,#f39d9f,#f5abad,#f4a4a6,#f4a5a7,#f6b7b9,#f7c4c6,#fadadc,#fffefe,#dedfef,#c5c7e3,#9ea2cf,#7a81be,#6972b6,#616ab2,#8d92c7,#b8bbdc,#fffefe,#f8ced0,#f39fa1,#f4a2a4,#f9d2d4,#fefbfb,#fcfcfd,#fef9fa,#fdfefe,#fbfbfd,#fef6f6,#fceaeb,#fff,#fefefe,#dcddee,#cecfe7,#bec0df,#aaaed5,#9196c8,#9297c9,#b9bcdd,#dadced,#e7e8f3,#e4e5f2,#c9cbe5,#d5d6ea,#cacce5,#c3c5e2,#c5c7e3,#adb0d6,#bbbede,#bbbede,#b9bcdd,#b0b3d8,#9fa3cf,#8288c1,#868bc3,#9296c9,#989ccc,#9398ca,#9a9ecd,#b4b6da,#bcbfde,#bfc1e0,#bfc1df,#c6c8e3,#b4b7da,#b4b7da,#d9daec)"></i><i style="height:4px;background:linear-gradient(90deg,#f7c4c6,#f9d4d5,#ecedf6,#c1c3e0,#9499ca,#848ac2,#8a8fc5,#747cbb,#7b82be,#7c83bf,#898ec4,#878cc4,#9599ca,#bcbfde,#e4e5f2,#fefbfb,#fbe1e2,#f8cacc,#f7c0c2,#f6bdbf,#f5acae,#f4a1a3,#f4a5a7,#f39fa1,#f5adaf,#f4a5a7,#f4a3a5,#f6babc,#f8cfd1,#fbe2e4,#f4f5fa,#d9daec,#c9cbe5,#a1a5d0,#7d83bf,#6c74b7,#5e68b1,#8a8fc5,#b5b8db,#fbfbfd,#f9d6d8,#f5abad,#f4a4a6,#f9d6d8,#fbfbfd,#f4f4fa,#fffcfd,#f8f8fc,#fcfcfe,#fef7f8,#fceaeb,#fffdfd,#fef9fa,#dcddee,#d0d2e8,#babddd,#aaadd5,#9095c8,#9499ca,#bec0df,#dbddee,#e3e4f1,#dee0ef,#c9cbe5,#dedfef,#c7c9e4,#bfc2e0,#c2c5e1,#b7badc,#b8bbdc,#bbbddd,#b9bcdd,#aaadd5,#9da1ce,#848ac2,#8086c0,#8a8fc5,#9498ca,#979ccc,#9fa3cf,#b3b6da,#bdbfde,#c5c7e2,#c3c5e1,#c5c7e2,#b7badb,#b8badc,#dadbed)"></i><i style="height:4px;background:linear-gradient(90deg,#f7c5c7,#f9d7d8,#eaeaf4,#bec0df,#8e93c7,#848ac2,#888dc4,#7279ba,#7980bd,#7a80be,#8489c2,#8288c1,#8d92c7,#a9add5,#c9cbe5,#e5e6f2,#fefefe,#fcebec,#fadcdd,#f9d3d4,#f7bec0,#f5aeb0,#f5acae,#f4a1a3,#f5acae,#f4a0a2,#f4a2a4,#f6bbbd,#fad8da,#fceaeb,#ecedf6,#d4d5ea,#cbcde5,#a4a7d2,#8288c2,#6e76b8,#5d67b0,#878dc4,#b6b8db,#f8f8fc,#fadbdd,#f5b3b5,#f4a9ab,#fad9da,#f7f7fb,#f1f2f8,#fdfdfe,#f4f5fa,#f9f9fc,#fffcfc,#fceced,#fefbfb,#fef9f9,#dfe0ef,#d2d3e9,#babddd,#a6aad3,#9296c9,#9a9ecd,#c1c3e0,#dbdced,#e0e2f0,#dadbed,#c9cbe4,#e1e2f0,#c6c8e3,#bec0df,#c2c4e1,#bfc2e0,#babcdd,#bdbfdf,#b8badc,#a7aad3,#9b9fcd,#848ac2,#7d84bf,#888dc4,#9196c9,#9b9fce,#a5a8d2,#b6b9db,#bcbede,#c5c7e3,#c5c7e2,#c3c5e2,#b8badc,#bec0df,#d7d8eb)"></i><i style="height:4px;background:linear-gradient(90deg,#f7c6c8,#fadcde,#e7e7f3,#bcbede,#898ec5,#8288c1,#8389c2,#6f77b8,#777ebc,#777ebc,#8086c0,#8187c1,#8b90c6,#9ca0ce,#b3b5d9,#c8cae4,#dadbed,#f7f7fb,#fdf3f3,#fbe4e5,#f8cdcf,#f6babc,#f5adaf,#f4a5a7,#f4a7a9,#f3999b,#f4a3a5,#f6bcbe,#fadfe0,#fdf1f2,#e9e9f4,#d0d1e8,#cacce5,#a6aad3,#898ec5,#6f77b9,#5d67b1,#858bc3,#b8bbdc,#f8f8fb,#fadee0,#f6b7b9,#f5b0b2,#fadbdc,#f6f6fa,#f2f3f9,#f6f6fb,#f0f0f8,#eff0f7,#fbfbfd,#fdf0f0,#fef9f9,#fffcfc,#e6e7f3,#d6d7eb,#c1c3e1,#a4a7d2,#9a9ecd,#a7aad3,#c4c6e2,#dbdced,#dfe0ef,#d8d9ec,#c9cbe4,#e1e2f0,#c7c9e4,#bec1df,#c4c6e2,#c6c8e3,#bfc1df,#c2c4e1,#b6b9db,#a8acd4,#9a9fcd,#8489c2,#7e84bf,#888dc4,#9095c8,#9fa3cf,#abaed5,#bcbfde,#bbbddd,#c2c4e1,#c5c7e3,#c2c4e1,#b7badc,#c6c8e3,#d0d1e8)"></i><i style="height:4px;background:linear-gradient(90deg,#f7c6c8,#fbe2e3,#e3e4f1,#babddd,#858ac3,#8086c0,#7f85c0,#6c74b7,#757dbc,#747cbb,#7e85c0,#8389c2,#8e92c7,#9499ca,#a3a7d2,#b4b7da,#c0c2e0,#e2e3f1,#fbfbfd,#fdeff0,#f9d6d8,#f7c0c2,#f5abad,#f4a7a9,#f4a3a5,#f29496,#f4a6a8,#f7bec0,#fbe5e6,#fef6f7,#e7e8f3,#cdcfe6,#cacce5,#a9add5,#9296c9,#7078b9,#5e68b1,#8389c2,#bbbddd,#f7f7fb,#fbe1e2,#f6babc,#f6b8ba,#fadee0,#f2f3f9,#f0f0f8,#ebecf5,#e7e8f3,#e1e2f0,#eeeff7,#fef5f6,#fef8f8,#fffefe,#f1f1f8,#dfe0ef,#cfd1e8,#abaed5,#acafd6,#bbbddd,#cdcfe6,#dddeee,#dddeee,#d6d7eb,#cacce5,#e4e4f2,#cbcde6,#c2c4e1,#c8cae4,#cdcfe6,#c4c6e2,#c6c8e3,#b5b8da,#abafd6,#9ca0ce,#858ac3,#8086c0,#898ec5,#9094c8,#a2a6d1,#b1b4d9,#c2c4e1,#babcdd,#bec0df,#c6c8e3,#c1c3e1,#b7badb,#ced0e7,#c8cae4)"></i><i style="height:4px;background:linear-gradient(90deg,#f8cacc,#fbe3e4,#e4e5f2,#b7badc,#868bc3,#7f85c0,#7e85c0,#6a72b6,#747bbb,#757cbb,#7d83bf,#858ac3,#9095c8,#9196c9,#9b9fcd,#a8abd4,#b0b3d8,#d3d5ea,#efeff7,#fdf4f5,#fadadb,#f7c1c3,#f4a9ab,#f4a8aa,#f4a4a6,#f29294,#f4a9ab,#f7bfc1,#fce8e9,#fefafa,#e7e8f3,#ced0e7,#cbcde6,#abaed5,#979bcb,#7179ba,#5f69b1,#8187c1,#bbbddd,#f7f8fb,#fbe5e6,#f7bec0,#f6bdbf,#fbe4e5,#e9eaf4,#e8e9f4,#dfe0ef,#dbdced,#d0d2e8,#e0e1f0,#fefeff,#fef6f7,#fefafa,#fafafd,#ececf6,#e3e4f1,#bec0df,#c3c5e2,#d1d3e9,#dadbed,#e2e3f1,#dbdced,#d2d4e9,#d0d1e8,#e6e7f3,#d0d1e8,#c7c9e3,#cacce5,#d2d4e9,#c8cae4,#c7c8e3,#b4b7da,#afb2d7,#a0a4d0,#888dc4,#8288c1,#8b90c5,#9095c8,#a4a7d2,#b4b7da,#c4c6e2,#b9bcdd,#bdbfde,#cbcde6,#bfc2e0,#bbbddd,#d3d5ea,#c5c7e2)"></i><i style="height:4px;background:linear-gradient(90deg,#f8d0d1,#fbe0e2,#e7e8f3,#b5b7da,#8c91c6,#7f85c0,#8187c1,#6a72b6,#737aba,#777ebc,#7b81be,#858ac3,#9196c9,#8f94c8,#969acb,#a0a4d0,#a6aad3,#c8cae4,#e4e4f2,#fef7f7,#fadadc,#f7bfc1,#f4a8aa,#f4a8aa,#f4a7a9,#f29396,#f5abad,#f7c1c3,#fceaeb,#fffcfc,#e8e9f4,#d1d3e8,#cecfe7,#abaed6,#999dcc,#727aba,#616bb2,#8086c0,#b9bcdd,#f8f8fc,#fce9ea,#f7c2c4,#f7c0c2,#fceaeb,#dcddee,#dedfef,#d4d6ea,#cecfe7,#c2c4e1,#d2d4e9,#efeff7,#fef6f6,#fdf3f3,#fffefe,#f9f9fc,#f6f7fb,#d7d8eb,#dadbed,#e5e6f2,#e7e8f3,#e9e9f4,#d8daec,#cccee6,#d8d9ec,#e8e9f4,#d3d5ea,#cccee6,#cacce5,#d5d6ea,#cccee6,#c3c5e1,#b4b7da,#b2b5d9,#a4a8d2,#8d92c7,#8288c1,#8c91c6,#9196c8,#a2a6d1,#b5b7da,#c2c4e1,#b9bcdd,#bec0df,#d4d6ea,#bdbfde,#c2c4e1,#d6d7eb,#c5c7e2)"></i><i style="height:4px;background:linear-gradient(90deg,#f9d3d4,#fadddf,#ecedf6,#b4b7da,#959acb,#8187c1,#858bc3,#6b73b7,#747cbb,#7b82be,#7a81be,#858ac3,#9095c8,#9196c8,#969acb,#9b9fcd,#a1a5d1,#c0c2e0,#d9daec,#fefafa,#fadcde,#f6bdbf,#f4a9ab,#f4a7a9,#f5aaac,#f39a9c,#f5afb1,#f7c3c5,#fcebeb,#fffdfd,#ebecf5,#d4d5ea,#cfd1e8,#aaadd5,#979bcc,#737bbb,#646db4,#8086c1,#b7badc,#fbfbfd,#fce9ea,#f7c3c5,#f7c4c6,#fdf1f2,#d4d5ea,#d6d8eb,#cecfe7,#c6c8e3,#babcdd,#cccee6,#e3e4f1,#fef8f8,#fdeeee,#fef8f9,#fefafb,#fefafa,#ebecf5,#e9e9f4,#f1f2f8,#eff0f7,#edeef6,#d8d9ec,#cacbe5,#dddeee,#e7e8f3,#d9daec,#cfd1e8,#c9cbe4,#d4d5ea,#cecfe7,#c0c2e0,#b3b6da,#b3b6da,#a9add5,#9398ca,#858ac3,#8f94c7,#9498ca,#a2a6d1,#b0b3d8,#bdbfde,#bbbddd,#c0c3e0,#dadbed,#bcbfde,#c7c9e3,#d6d7eb,#c6c8e3)"></i><i style="height:4px;background:linear-gradient(90deg,#f8d0d2,#fadcde,#eeeef7,#b6b9db,#9ea2cf,#858bc3,#888dc4,#6f77b9,#767dbc,#7f86c0,#7b82be,#868bc3,#8f94c7,#9498ca,#999dcc,#979ccc,#a0a4d0,#bcbede,#d4d5ea,#fffefe,#fadedf,#f6bcbe,#f5acae,#f5aaac,#f5acae,#f4a2a4,#f6b7b9,#f7c8ca,#fceced,#fffdfd,#eeeef7,#d6d8eb,#cdcfe7,#a9add5,#969acb,#767ebc,#636cb3,#8187c1,#b9bbdc,#fcfcfe,#fceaeb,#f7c3c5,#f8cacc,#fef5f5,#cfd1e7,#d3d5ea,#c9cae4,#c3c5e2,#babddd,#cacce5,#dedfef,#fefbfb,#fceced,#fdf4f4,#fdf4f4,#fef6f6,#f2f2f9,#f1f1f8,#f7f8fb,#f4f4f9,#eff0f7,#d9daec,#cacce5,#dfe0ef,#e8e9f4,#dbdded,#d1d3e9,#cbcde6,#d1d2e8,#cfd1e7,#bfc1df,#b2b5d9,#b4b7da,#afb2d8,#999dcd,#8a8fc5,#9195c8,#9498ca,#a4a7d2,#acafd6,#b8badc,#bcbede,#c5c7e2,#d9daec,#bcbfde,#cbcde6,#d4d5ea,#c7c9e4)"></i><i style="height:4px;background:linear-gradient(90deg,#f8c9cb,#fadddf,#ededf6,#babcdd,#a4a8d2,#8a8fc5,#8a8fc5,#767dbc,#747cbb,#8288c2,#7d83bf,#878dc4,#8e93c7,#969bcb,#9ca0ce,#9599ca,#9fa3d0,#babddd,#d3d5e9,#fdfdfe,#fadfe0,#f7bec0,#f5b0b2,#f5b2b4,#f5adaf,#f4a9ab,#f7c1c3,#f8d0d2,#fdf0f0,#fffdfd,#efeff7,#d9daec,#c8cae4,#abaed5,#969acb,#7b81be,#5f68b1,#8187c1,#bdbfde,#fcfcfd,#fcebec,#f7c5c7,#f9d1d3,#fef5f6,#cccde6,#d4d5ea,#c4c6e2,#c4c6e2,#c0c2e0,#c8cae4,#dbdced,#fffcfc,#fceced,#fdeff0,#fdf0f1,#fef8f8,#f0f0f8,#f6f6fb,#fbfbfd,#f6f6fb,#eeeff7,#dadced,#cdcee6,#dfe0ef,#ededf6,#dadbed,#d3d4e9,#d1d3e8,#cfd0e7,#d1d3e9,#c0c3e0,#b3b6d9,#b3b6da,#b6b8db,#9ea2cf,#8f94c8,#9195c8,#9195c8,#a7aad3,#aaadd5,#b3b6da,#bdbfde,#cacce5,#d4d5ea,#bcbede,#d0d2e8,#d1d3e8,#c9cbe4)"></i><i style="height:4px;background:linear-gradient(90deg,#f7c2c4,#fadedf,#ececf5,#bec0df,#abafd6,#9195c8,#8c91c6,#7d83bf,#747bbb,#868bc3,#7f85c0,#898ec5,#8e92c7,#999dcc,#9fa3d0,#9398ca,#9fa3d0,#b9bcdc,#d3d4e9,#fafafd,#fbe0e1,#f7c1c3,#f6b4b6,#f6b9bb,#f5adaf,#f5afb1,#f8cacc,#f9d8d9,#fdf3f4,#fffcfd,#eff0f7,#dbdced,#c3c5e2,#acafd6,#969acb,#7f85c0,#5b65b0,#8187c1,#c0c2e0,#fbfbfd,#fdeeee,#f7c7c9,#fad8da,#fef6f6,#c9cae4,#d5d6ea,#bfc2e0,#c4c6e2,#c6c8e3,#c7c9e4,#d9daec,#fffdfd,#fcedee,#fcecec,#fdedee,#fefbfb,#ecedf6,#f9fafc,#fdfdfe,#f8f8fc,#ededf6,#dcddee,#cfd0e7,#dfe0ef,#f1f2f8,#d9daec,#d4d5ea,#d7d8eb,#cccee6,#d3d5ea,#c2c4e1,#b3b6da,#b3b6d9,#bcbede,#a3a6d1,#9499ca,#9095c8,#8d92c7,#aaadd5,#a8acd4,#afb2d8,#bec0df,#cfd1e8,#cfd0e7,#bcbede,#d5d7ea,#cfd0e7,#cacce5)"></i><i style="height:4px;background:linear-gradient(90deg,#f6bcbe,#fadddf,#eff0f7,#c3c5e1,#b1b4d8,#979bcb,#9094c8,#8187c1,#777ebc,#8a8fc5,#8288c1,#8e93c7,#9095c8,#9da1ce,#a1a4d0,#9196c9,#a1a5d0,#b7badc,#d1d3e9,#f7f7fb,#fbe4e5,#f7c5c7,#f6bcbe,#f6bcbe,#f5adaf,#f6b6b8,#f8d0d2,#fadbdd,#fef6f6,#fffdfd,#f1f2f8,#dcddee,#c2c4e1,#afb2d7,#969acb,#8187c1,#5964af,#8086c0,#bfc2e0,#f8f8fb,#fdf0f0,#f8c9cb,#faddde,#fefbfb,#c7c9e4,#d2d4e9,#bdbfde,#c3c5e2,#c7c9e4,#cacce5,#dadbed,#fffefe,#fdefef,#fce9ea,#fcebec,#fffdfd,#e9eaf4,#f9f9fc,#fdfdfe,#f9f9fc,#ecedf6,#dbdced,#cfd1e7,#e0e1f0,#f1f1f8,#d9daec,#d3d5e9,#d9daec,#cccee6,#d3d4e9,#c1c3e1,#b3b6da,#b1b4d9,#bcbede,#a6aad3,#999dcd,#9094c8,#8e93c7,#adb0d6,#a6a9d3,#abafd6,#bec0df,#ced0e7,#cacce5,#bcbfde,#d5d6ea,#cfd1e7,#cccee6)"></i><i style="height:4px;background:linear-gradient(90deg,#f6b6b8,#fadbdd,#f7f8fb,#c8cae4,#b6b8db,#9ca0ce,#9499ca,#8288c2,#7c83bf,#9195c8,#878dc4,#959acb,#959acb,#a2a6d1,#a0a4d0,#8f94c8,#a3a7d1,#b5b8db,#cfd1e8,#f2f3f9,#fcebec,#f8cdcf,#f7c7c9,#f6bbbd,#f5adaf,#f6bec0,#f9d1d3,#fadbdd,#fef6f7,#fffefe,#f4f4fa,#dbdced,#c4c6e2,#b2b5d9,#9599ca,#7f85c0,#5864af,#7d84bf,#babddd,#f3f3f9,#fdf3f3,#f8ccce,#fadfe0,#f9fafc,#c7c9e4,#cdcfe7,#bbbdde,#c0c2e0,#c4c6e2,#d1d3e8,#dedfef,#fefefe,#fdf2f2,#fce8e9,#fce9ea,#fffefe,#e7e8f3,#f6f6fb,#fcfcfd,#fafafc,#ececf6,#d9dbed,#cecfe7,#e1e2f0,#edeef6,#dbdced,#d1d3e9,#d9daec,#cfd0e7,#d0d1e8,#bec0df,#b3b6da,#afb2d8,#b7b9db,#a9acd4,#9ea2cf,#8e93c7,#9397c9,#b0b3d8,#a2a6d1,#a7abd4,#bcbfde,#c8cae4,#c6c8e3,#bdc0df,#d0d2e8,#d2d3e9,#cfd0e7)"></i><i style="height:4px;background:linear-gradient(90deg,#f5b0b2,#fad9da,#fffefe,#ced0e7,#babcdd,#a1a5d1,#999ecd,#858bc3,#8388c2,#979bcc,#8d92c7,#9ba0ce,#9a9ecd,#a7aad3,#9fa3d0,#8e93c7,#a5a9d3,#b4b6da,#cecfe7,#eeeff7,#fdf2f2,#f9d5d6,#f9d3d5,#f6babc,#f5acae,#f7c3c5,#f8d0d2,#fadadb,#fef6f6,#fff,#f6f6fb,#dadbed,#c6c8e3,#b5b8db,#9398ca,#7d84bf,#5663ae,#7a81be,#b4b7da,#ecedf6,#fef7f7,#f8cfd1,#fbe1e2,#eff0f7,#c7c9e4,#c9cbe4,#bbbddd,#bec0df,#c0c3e0,#d7d8eb,#e2e3f1,#fdfdfe,#fdf4f4,#fce8e9,#fce7e8,#fffefe,#e5e6f2,#f4f4f9,#fafafc,#fafafc,#ebecf5,#d8d9ec,#cdcfe7,#e3e4f1,#eaeaf5,#dcddee,#d0d2e8,#dadbed,#d1d3e9,#cdcee6,#bbbede,#b4b7da,#aeb1d7,#b1b4d8,#abaed5,#a2a6d1,#8d92c7,#979ccc,#b3b6da,#a0a4d0,#a5a8d2,#bbbddd,#c2c4e1,#c2c4e1,#bec0df,#cbcde5,#d3d5ea,#d1d2e8)"></i><i style="height:4px;background:linear-gradient(90deg,#f5afb1,#f9d7d9,#fef9f9,#d8daec,#bec0df,#a8abd4,#a1a5d0,#8c91c6,#878cc4,#9b9fcd,#9297c9,#9ca0ce,#9da1ce,#a5a9d3,#9ca0ce,#8f94c7,#aaaed5,#b6b9db,#cfd0e7,#ecedf6,#fdf2f2,#fadadb,#fadadc,#f7c0c2,#f5b3b5,#f7bec0,#f8ccce,#fad9db,#fef6f6,#fffefe,#f7f7fb,#d9daec,#c8cae4,#b6b8db,#9397c9,#797fbd,#5763ae,#787fbd,#acafd6,#e7e8f3,#fef9fa,#f9d4d5,#fbe3e5,#ededf6,#cbcde5,#c8cae4,#bdc0df,#c1c3e1,#bec0df,#d8daec,#e6e6f3,#fefeff,#fef4f5,#fce7e8,#fce8e9,#fff,#e7e8f3,#f5f5fa,#f9fafc,#f8f8fc,#ececf5,#dbdced,#d5d6ea,#e5e6f2,#e8e8f4,#dbdced,#d3d5e9,#dbdced,#d1d3e9,#ced0e7,#bcbede,#b6b9db,#afb2d8,#adb1d7,#abaed5,#a4a8d2,#9095c8,#9a9ecd,#b4b6da,#a2a6d1,#a4a8d2,#b8badc,#c0c2e0,#c6c8e3,#c0c2e0,#cacce5,#d1d2e8,#ced0e7)"></i><i style="height:4px;background:linear-gradient(90deg,#f5b3b5,#f9d7d9,#fef6f7,#e4e5f2,#c3c5e1,#afb2d7,#a9acd4,#969bcb,#8c90c6,#a0a4d0,#989ccc,#9da1cf,#a1a5d0,#a4a8d2,#9ca0ce,#8f94c8,#b2b5d9,#bcbede,#d0d2e8,#ebecf5,#fdeff0,#fadbdc,#fadcdd,#f7c5c7,#f6bcbe,#f6b7b9,#f8cacc,#fadadc,#fef6f6,#fffcfc,#fafafc,#d8daec,#cacce5,#b4b7da,#9398ca,#747bbb,#5964af,#767dbc,#a1a5d1,#e2e3f1,#fffbfc,#fad8da,#fce9e9,#edeef6,#d0d2e8,#cacce5,#c0c2e0,#c7c9e3,#bfc1df,#d8d9ec,#e7e8f3,#fefeff,#fef4f5,#fbe3e4,#fce8e9,#fefefe,#ebecf5,#f7f8fb,#fbfbfd,#f5f5fa,#eff0f7,#e2e3f1,#dfe0ef,#e7e8f3,#e6e6f3,#dbdced,#d7d8eb,#dadbed,#ced0e7,#d2d4e9,#bfc1df,#b7b9db,#b1b4d8,#aeb1d7,#adb0d6,#a6a9d3,#9599cb,#9a9ecd,#b3b5d9,#a5a9d3,#a2a6d1,#b6b8db,#c5c7e3,#ced0e7,#c3c5e1,#ced0e7,#cdcfe6,#cacce5)"></i><i style="height:4px;background:linear-gradient(90deg,#f6b7b9,#fad8d9,#fdf4f4,#eff0f7,#c8cae4,#b6b8db,#b1b4d9,#a1a5d0,#9196c9,#a6a9d3,#9fa3cf,#9fa3d0,#a7aad3,#a5a8d2,#9da1ce,#9095c8,#babddd,#c1c4e1,#d3d4e9,#ecedf6,#fceaeb,#fadadb,#fadcdd,#f8c9cb,#f7c4c6,#f5afb1,#f8c9cb,#fadbdc,#fef6f6,#fef9fa,#fcfcfe,#d8d9ec,#cbcde6,#b3b6da,#9498ca,#6e76b8,#5a65af,#737aba,#9599ca,#dadbed,#fff,#fadddf,#fdeeee,#eeeef6,#d6d7eb,#cdcee6,#c2c4e1,#cccee6,#bfc2e0,#d7d9ec,#e9eaf4,#fefeff,#fef5f5,#fbdfe1,#fce9e9,#fcfcfd,#eff0f7,#fafafc,#fdfdfe,#f2f3f9,#f3f3f9,#eaeaf4,#eaebf5,#e9e9f4,#e4e4f2,#dbdced,#dadbed,#d8d9ec,#cbcde6,#d7d8eb,#c1c3e0,#b7badc,#b2b5d9,#afb2d7,#afb2d8,#a7abd4,#9a9ecd,#9a9ecd,#b2b5d9,#a8acd4,#a0a4d0,#b3b6da,#cacce5,#d6d8eb,#c6c8e3,#d1d3e9,#c9cbe4,#c5c7e3)"></i><i style="height:4px;background:linear-gradient(90deg,#f6b5b7,#f9d7d8,#fdeff0,#f5f6fa,#cccee6,#bdc0df,#b8badc,#aaadd5,#979ccc,#acafd6,#a6aad3,#a1a5d1,#a9acd4,#a7abd4,#a1a4d0,#969bcb,#c0c2e0,#c4c6e2,#d4d6ea,#ecedf6,#fce8e9,#fad8d9,#fadddf,#f8cdcf,#f8c8ca,#f5abad,#f7c4c6,#fadadb,#fdf4f5,#fef8f9,#f9f9fc,#dadbed,#cacce5,#b3b6da,#9297c9,#6b73b7,#5b65b0,#727aba,#898ec5,#d0d1e8,#f6f7fb,#fbe6e7,#fdf3f3,#ededf6,#d6d7eb,#ced0e7,#c4c6e2,#cecfe7,#c1c3e1,#d5d6ea,#ebebf5,#fffefe,#fdf3f3,#fbe0e1,#fceaea,#fcfdfe,#f1f2f8,#fff,#fefefe,#f0f0f7,#f1f1f8,#ededf6,#f0f1f8,#eaebf5,#e3e4f1,#dbdced,#e0e2f0,#dbdced,#c9cbe4,#d8d9ec,#c4c6e2,#b9bbdc,#b3b6da,#afb2d7,#acafd6,#a8acd4,#9da1ce,#9b9fce,#b2b5d9,#abafd6,#a3a6d1,#b0b3d8,#cacce5,#dadbed,#c9cae4,#d2d3e9,#c5c7e3,#c4c6e2)"></i><i style="height:4px;background:linear-gradient(90deg,#f5aeb0,#f9d4d6,#fce8e9,#f7f7fb,#cfd0e7,#c5c7e3,#bcbfde,#b0b3d8,#9da1cf,#b1b4d8,#aeb1d7,#a2a5d1,#a5a9d3,#aaaed5,#a6a9d3,#a1a4d0,#c3c5e1,#c6c8e3,#d6d8eb,#ecedf6,#fce9ea,#f9d6d7,#fbe1e2,#f9d1d3,#f8cbcd,#f5aaac,#f6bdbf,#f9d7d9,#fdf1f2,#fefafa,#f1f2f8,#dddeee,#c7c9e3,#b5b7da,#8e93c7,#6972b6,#5a65af,#747bbb,#8187c1,#c4c6e2,#e9eaf4,#fdf2f2,#fef9fa,#eaebf5,#d0d1e8,#cfd0e7,#c6c8e3,#cbcde5,#c4c6e2,#d0d2e8,#ecedf6,#fefbfb,#fdeff0,#fbe4e5,#fcebec,#fff,#f2f2f8,#fef9f9,#fefefe,#eeeef6,#ebebf5,#ededf6,#f3f4f9,#ebecf5,#e4e5f2,#dadbed,#e9eaf4,#e2e3f1,#c7c9e4,#d6d8eb,#c8cae4,#bcbede,#b3b6d9,#aeb1d7,#a4a8d2,#a9acd4,#9ea2cf,#9ea2cf,#b5b7da,#afb2d7,#aaadd5,#acb0d6,#c6c8e3,#dadbed,#cccde6,#cfd1e7,#c3c5e1,#c4c6e2)"></i><i style="height:4px;background:linear-gradient(90deg,#f4a7a9,#f9d2d4,#fbe2e3,#f8f8fc,#d1d3e9,#cccee6,#c0c2e0,#b5b8db,#a1a5d0,#b3b6da,#b2b5d9,#9fa3d0,#9fa3d0,#acafd6,#aaadd5,#abaed6,#c7c9e4,#cacbe5,#dadbed,#ededf6,#fce9ea,#f9d4d5,#fbe4e5,#f9d5d7,#f8ced0,#f5aaac,#f6b6b8,#f9d5d7,#fdeff0,#fffdfd,#e8e8f3,#e0e1f0,#c3c5e1,#b6b9db,#8a8fc5,#6871b5,#5964af,#767dbc,#7b81be,#babddd,#dcddee,#fdfdfe,#fafafd,#e5e6f2,#cacce5,#cfd1e7,#c8cae4,#c8cae4,#c7c9e3,#cccde6,#eeeef7,#fef8f8,#fcecec,#fce8e9,#fdedee,#fffcfc,#f2f3f9,#fdf3f4,#fefeff,#ececf5,#e4e5f2,#ecedf6,#f6f7fb,#ecedf6,#e6e6f2,#d8daec,#f2f3f9,#eaeaf5,#c5c7e3,#d5d6ea,#cccde6,#bfc1df,#b2b5d9,#adb1d7,#9ca0ce,#a9add5,#9fa3d0,#a1a4d0,#b7badc,#b2b5d9,#b0b3d8,#a9acd4,#c1c4e1,#d9daec,#cfd0e7,#cccee6,#c0c2e0,#c5c7e3)"></i><i style="height:4px;background:linear-gradient(90deg,#f4a3a5,#f9d1d3,#fadbdd,#fff,#d8daec,#d4d6ea,#c6c8e3,#b9bbdc,#a2a6d1,#aeb1d7,#b2b5d9,#9fa3cf,#9b9fce,#a8acd4,#acafd6,#b2b5d9,#c8cae4,#cccee6,#dedfef,#f0f1f8,#fcebec,#f9d2d4,#fbe4e5,#f9d3d4,#f8c9cb,#f5abad,#f6b6b8,#fad9db,#fdf2f3,#fff,#e3e4f1,#dcddee,#c3c5e2,#b6b8db,#898ec4,#6871b6,#5864af,#747bbb,#777ebc,#aeb1d7,#cacce5,#ebebf5,#edeef6,#dedfef,#c7c9e4,#cdcfe6,#c9cbe5,#c9cbe5,#c9cbe4,#cecfe7,#f0f1f8,#fef7f8,#fceaeb,#fcebec,#fdeff0,#fefbfb,#f2f3f9,#fef6f6,#fbfbfd,#eeeff7,#e4e5f2,#eaeaf5,#f2f2f9,#ecedf6,#e7e8f3,#d8d9ec,#f4f5fa,#eaeaf5,#c8c9e4,#d3d5ea,#cdcfe7,#c0c2e0,#b1b4d9,#aeb1d7,#9a9ecd,#aaaed5,#a0a4d0,#a2a6d1,#b6b9db,#b4b7da,#b4b7da,#acb0d6,#c0c2e0,#d3d4e9,#cfd1e7,#cccee6,#bcbfde,#c5c7e2)"></i><i style="height:4px;background:linear-gradient(90deg,#f4a2a4,#f8d0d2,#f9d4d6,#fef5f5,#e3e4f1,#dcddee,#cfd0e7,#bdbfde,#a2a6d1,#a2a6d1,#b0b3d8,#9fa3d0,#9a9ecd,#a3a6d1,#acafd6,#b6b9db,#c7c9e4,#cfd1e7,#e4e5f2,#f6f7fb,#fdedee,#f9d2d4,#fbe2e3,#f8cdcf,#f7bfc1,#f5adaf,#f6b9bb,#fbe1e2,#fef8f9,#fefefe,#e4e5f2,#d3d5e9,#c8cae4,#b4b7da,#888ec4,#6a73b7,#5864af,#6d75b8,#757cbb,#a1a5d1,#b8bbdc,#dcddee,#e1e2f0,#d7d9eb,#c8cae4,#c9cbe4,#cacce5,#cecfe7,#c9cbe5,#d5d7eb,#f4f4f9,#fef8f8,#fcebec,#fdefef,#fdf1f2,#fffcfc,#f2f3f9,#fff,#f6f6fb,#f5f6fa,#e9eaf4,#e7e8f3,#eaebf5,#ecedf6,#e9eaf4,#d9daec,#f3f3f9,#e5e6f2,#cdcfe6,#d3d4e9,#ced0e7,#c1c3e0,#b0b3d8,#aeb1d7,#9ca0ce,#acafd6,#a1a5d0,#a3a7d2,#b3b6da,#b4b7da,#b4b7da,#b5b8db,#c0c2e0,#c9cbe4,#cecfe7,#cecfe7,#b8bbdc,#c3c5e1)"></i><i style="height:4px;background:linear-gradient(90deg,#f4a1a3,#f8cfd1,#f8cdcf,#fcebeb,#ededf6,#e5e5f2,#d8d9ec,#c1c3e1,#a4a8d2,#989ccc,#aeb2d7,#a1a5d1,#999dcd,#9ea2cf,#acb0d6,#babddd,#c6c8e3,#d2d3e9,#e9eaf4,#fcfcfe,#fdeff0,#f9d1d3,#fbe0e1,#f7c7c9,#f6b5b7,#f5aeb0,#f6bbbd,#fce8e9,#fffdfd,#fefeff,#e7e8f3,#cccde6,#cdcfe6,#b2b5d9,#888dc4,#6c74b7,#5864af,#6770b5,#737bbb,#969bcb,#a9acd5,#d1d2e8,#d7d8eb,#d2d3e9,#cacce5,#c5c7e2,#cbcde6,#d2d4e9,#cacce5,#dddeee,#f7f8fb,#fef9f9,#fcecec,#fdf2f3,#fdf4f4,#fffdfd,#f3f3f9,#f5f6fa,#f2f3f9,#fefeff,#f0f1f8,#e7e8f3,#e6e7f3,#f0f1f8,#efeff7,#dddeee,#f4f4fa,#e3e4f1,#d4d5ea,#d2d4e9,#ced0e7,#c1c3e1,#aeb1d7,#afb2d7,#9ea2cf,#adb0d6,#a2a6d1,#a4a8d2,#b1b4d8,#b4b7da,#b4b7da,#bec1df,#c1c3e0,#bfc1e0,#cccee6,#cfd1e8,#b4b7da,#c1c3e1)"></i><i style="height:4px;background:linear-gradient(90deg,#f4a3a5,#f8d1d2,#f7c7c9,#fbe2e4,#f9f9fc,#eeeff7,#e1e2f0,#c8cae4,#a5a9d3,#969bcb,#afb2d8,#a5a9d3,#9ca0ce,#9ca0ce,#b0b3d8,#c1c3e1,#c8cae4,#d4d5ea,#efeff7,#fffefe,#fdeeee,#f8d0d2,#fadadb,#f7c1c3,#f5b0b2,#f5b0b2,#f6bdbf,#fce7e8,#fffcfc,#fff,#eaebf5,#cccde6,#d0d2e8,#b0b3d8,#888dc4,#6d75b8,#5763ae,#646db4,#7279ba,#8c91c6,#9ea2cf,#c9cae4,#cfd1e8,#cecfe7,#cacbe5,#c3c5e1,#cdcfe6,#d4d6ea,#cbcce5,#e0e1f0,#f8f8fb,#fefbfb,#fceded,#fdf4f4,#fdf4f4,#fffdfd,#f3f4f9,#f2f2f8,#f4f4f9,#fef8f8,#fff,#f0f1f8,#ececf6,#fcfcfe,#fdfdfe,#e8e9f4,#fafafd,#e6e7f3,#dcddee,#d4d5ea,#d0d2e8,#c1c3e0,#aeb1d7,#acafd6,#a0a4d0,#adb0d6,#a4a7d2,#a1a5d1,#adb0d7,#b4b7da,#b6b9db,#c5c7e2,#bfc1df,#bcbede,#c8cae4,#cecfe7,#b1b4d8,#bec0df)"></i><i style="height:4px;background:linear-gradient(90deg,#f4a7a9,#f9d4d5,#f7c0c2,#fadcde,#fef9f9,#f9fafc,#e9e9f4,#d1d3e8,#a7aad3,#9ca0ce,#b3b6d9,#abafd6,#a2a6d1,#9da1ce,#b8badc,#cacce5,#cccee6,#d5d7eb,#f3f4f9,#fffdfd,#fce8e9,#f8cfd1,#f8d0d2,#f6bcbe,#f5afb1,#f5b3b5,#f7bfc1,#fadddf,#fef5f6,#fffdfd,#edeef6,#d2d4e9,#d2d3e9,#aeb1d7,#888ec4,#6c74b7,#5562ae,#626bb3,#7078b9,#858bc3,#989ccc,#c4c6e2,#cacce5,#cbcde6,#c8cae4,#c2c5e1,#cfd1e7,#d4d6ea,#cccde6,#dedfef,#f4f5fa,#fffdfd,#fdeeef,#fdf4f4,#fdf1f2,#fffdfd,#f4f4f9,#f3f4f9,#fafafc,#fdeff0,#fdeeef,#fffefe,#f9f9fc,#fdf1f2,#fdeeef,#f9f9fc,#fefafa,#efeff7,#e5e6f2,#d6d8eb,#d3d5e9,#bfc2e0,#afb2d7,#a6aad3,#a2a6d1,#abafd6,#a6a9d3,#9ba0ce,#a9add5,#b4b7da,#bbbdde,#c9cae4,#babddd,#bec0df,#c3c5e1,#c9cae4,#aeb2d7,#b9bcdd)"></i><i style="height:4px;background:linear-gradient(90deg,#f5abad,#f9d7d9,#f6babc,#f9d6d8,#fdeeef,#fefafb,#f1f1f8,#dbdced,#a9acd4,#a3a7d2,#b7b9db,#b2b5d9,#a9acd4,#9ea2cf,#bfc1e0,#d4d5ea,#d1d2e8,#d7d8eb,#f8f8fc,#fffcfc,#fbe3e4,#f8cdcf,#f7c7c9,#f6b7b9,#f5aeb0,#f6b6b8,#f7c1c3,#f9d4d5,#fdeeef,#fefafb,#f2f3f9,#d9dbec,#d4d5ea,#abafd6,#898ec4,#6b73b7,#5361ad,#616ab2,#6f77b9,#8086c0,#9498ca,#c2c4e1,#c7c9e4,#cacce5,#c7c9e4,#c2c4e1,#d1d3e8,#d4d6ea,#cdcee6,#dcdeee,#f1f2f8,#fff,#fdeff0,#fdf3f4,#fdeff0,#fffdfd,#f4f5fa,#f5f6fa,#fffefe,#fbe5e6,#fadcdd,#fdefef,#fef7f8,#fbdfe1,#fadbdc,#fdf4f4,#fdf0f0,#f8f8fc,#eff0f7,#d9daec,#d6d7eb,#bec0df,#b0b3d8,#a0a4d0,#a4a8d2,#aaadd5,#a7abd4,#959acb,#a5a9d3,#b4b6da,#c0c2e0,#cdcee6,#b6b8db,#c0c2e0,#bdbfdf,#c4c6e2,#acafd6,#b5b8da)"></i><i style="height:4px;background:linear-gradient(90deg,#f5b0b2,#f9d7d9,#f6b6b8,#f9d1d3,#fce8e9,#fdf2f3,#f8f9fc,#e2e3f1,#b0b3d8,#abaed5,#bdbfde,#b9bcdc,#b1b4d8,#a2a6d1,#c8cae4,#dddfee,#d4d6ea,#dbdced,#fdfdfe,#fef9f9,#fbe1e2,#f8ccce,#f7c0c2,#f6b5b7,#f5b0b2,#f6bbbd,#f7c2c4,#f8cfd1,#fcecec,#fef5f5,#f6f6fa,#e0e1f0,#d4d6ea,#aaaed5,#8a8fc5,#6b73b7,#5361ad,#6069b2,#7078b9,#7d83bf,#9498ca,#bfc1e0,#c8cae4,#cacce5,#c4c6e2,#c2c4e1,#d1d3e9,#d4d6ea,#cecfe7,#dddeee,#eeeef7,#fdfdfe,#fdf1f1,#fdf1f2,#fdeeef,#fffcfc,#f3f3f9,#f4f4fa,#fefbfb,#fadddf,#f8cfd1,#fbe2e3,#fceaeb,#f9d3d5,#f8ced0,#fce6e7,#fbe5e6,#fffdfd,#f7f7fb,#dddeee,#d5d6ea,#bfc1df,#aeb1d7,#a0a4d0,#a3a7d1,#aaadd5,#a6aad3,#9195c8,#a2a6d1,#b5b8db,#c4c6e2,#cfd1e7,#b4b7da,#bfc1df,#babddd,#c1c3e0,#abaed5,#b3b6da)"></i><i style="height:4px;background:linear-gradient(90deg,#f6b5b7,#f9d2d4,#f6b7b9,#f8ced0,#fce8e9,#fdedee,#fcfcfe,#e6e7f3,#c0c3e0,#b7badb,#c3c5e1,#bfc1df,#babcdd,#aeb1d7,#d2d4e9,#e5e6f2,#dadbed,#e6e7f3,#fffcfc,#fdf4f4,#fbe2e3,#f8cbcd,#f7bfc1,#f6bbbd,#f6b9bb,#f7c1c3,#f7c5c7,#f9d1d3,#fdeeee,#fdeeee,#f4f5fa,#e4e5f2,#d4d6ea,#acafd6,#8d92c7,#6c74b7,#5562ae,#616bb2,#747bbb,#8187c1,#9da1ce,#c1c3e0,#ced0e7,#cdcfe6,#c2c4e1,#c3c5e2,#cdcfe7,#d2d3e9,#cecfe7,#dedfef,#eaeaf4,#fafafd,#fdf4f4,#fdeeef,#fdf1f1,#fefafb,#f3f3f9,#f6f6fa,#fef7f7,#fadbdc,#f8ced0,#fadadb,#fadadb,#f8cdcf,#f8cdcf,#faddde,#fadbdc,#fef9f9,#f7f7fb,#e0e1f0,#cfd0e7,#c2c4e1,#abaed5,#a4a8d2,#a0a4d0,#aaadd5,#a2a6d1,#8e93c7,#a1a5d0,#b7badc,#c4c6e2,#cdcfe6,#b7badb,#c0c2e0,#bcbfde,#bfc2e0,#adb1d7,#b5b8db)"></i><i style="height:4px;background:linear-gradient(90deg,#f6babc,#f8cdcf,#f6b9bb,#f8cdcf,#fce9ea,#fceaeb,#fefeff,#e9eaf4,#d1d3e9,#c3c5e2,#c8cae4,#c3c5e1,#c2c4e1,#b9bbdc,#dbdced,#ebecf5,#e0e1f0,#f1f1f8,#fef7f8,#fdeff0,#fbe3e4,#f8cacc,#f7bfc1,#f7c3c5,#f7c4c6,#f8c9cb,#f8cacc,#f9d5d6,#fdf1f2,#fce9ea,#f1f2f8,#e8e8f3,#d4d5ea,#adb0d7,#9195c8,#6c75b7,#5864af,#636cb3,#787fbd,#878cc4,#a8abd4,#c5c7e2,#d5d7eb,#d1d2e8,#c0c3e0,#c5c7e2,#c9cbe5,#cfd0e7,#cdcfe7,#dfe0ef,#e5e6f2,#f8f8fb,#fef8f8,#fcecec,#fdf3f3,#fef9f9,#f2f3f9,#f7f7fb,#fef4f5,#fadbdc,#f9d3d4,#f9d7d9,#f8cfd1,#f8ccce,#f9d2d3,#fad9da,#f9d6d8,#fef8f8,#f4f4f9,#e3e4f1,#c8cae4,#c5c7e2,#a8acd4,#a8acd4,#9ea2cf,#aaadd5,#9ea2cf,#8c91c6,#a0a3d0,#babcdd,#c5c7e2,#cacce5,#babcdd,#c1c4e1,#bfc1df,#bec1df,#b0b3d8,#b8badc)"></i><i style="height:4px;background:linear-gradient(90deg,#f6babc,#f7c6c8,#f7bec0,#f8ccce,#fce7e8,#fceaeb,#fffcfc,#efeff7,#dedfef,#cbcde6,#cdcee6,#cacce5,#c7c9e4,#c0c2e0,#e1e2f0,#f0f0f8,#e6e7f3,#f9f9fc,#fdf0f0,#fcedee,#fbe4e5,#f8c9cb,#f7c2c4,#f8cacc,#f8cdcf,#f8ced0,#f8d0d2,#fad9da,#fdf0f1,#fce8e9,#f1f2f8,#e7e7f3,#d6d7eb,#afb2d8,#9095c8,#6e76b8,#5965af,#656eb4,#7b82be,#8b90c6,#b2b5d9,#cccee6,#dedfef,#d6d8eb,#c5c7e2,#c6c8e3,#c6c8e3,#cbcde5,#cdcee6,#dedfef,#e2e3f1,#f6f6fa,#fef8f9,#fceaeb,#fef5f6,#fef9f9,#f5f6fa,#fcfcfd,#fdf1f1,#fadee0,#fad8da,#f9d8d9,#f8c9cb,#f8cbcd,#f9d2d4,#f9d4d5,#f9d6d8,#fef7f7,#f2f3f9,#e3e4f1,#c4c6e2,#c6c8e3,#a7abd4,#abaed5,#9fa3d0,#aaaed5,#9ca0ce,#8e93c7,#9ca0ce,#babddd,#c4c6e2,#c7c9e3,#bcbede,#c3c5e2,#c3c5e1,#bec0df,#b2b5d9,#bbbede)"></i><i style="height:4px;background:linear-gradient(90deg,#f6b5b7,#f7bec0,#f7c4c6,#f8cbcd,#fbe2e3,#fdeeef,#fef7f7,#f7f7fb,#e7e8f3,#d0d1e8,#d0d2e8,#d4d6ea,#cccee6,#c5c7e3,#e4e5f2,#f2f3f9,#edeef6,#fefefe,#fce7e8,#fdeeef,#fbe4e5,#f8c9cb,#f7c8ca,#f8d0d2,#f9d4d5,#f9d1d2,#f9d5d7,#fadcdd,#fcebeb,#fcecec,#f4f5fa,#e2e3f1,#dadced,#b2b5d9,#8c91c6,#7179ba,#5a65af,#656eb4,#7b82be,#8d92c7,#b8badc,#d4d6ea,#e6e7f3,#dedfef,#cfd1e8,#c9cbe5,#c4c6e2,#c6c8e3,#cccde6,#dadbed,#dfe0ef,#f4f4f9,#fef7f7,#fceaea,#fef8f9,#fefbfb,#fbfbfd,#fffcfc,#fceced,#fbe4e5,#fadedf,#fadadb,#f7c5c7,#f8c8ca,#f8cdcf,#f8cdcf,#fadadb,#fef5f6,#f3f4f9,#e2e3f1,#c1c3e0,#c4c6e2,#a7abd4,#acafd6,#a4a8d2,#abaed5,#9ca0ce,#9499ca,#979bcb,#babcdd,#c1c3e0,#c3c5e1,#bdbfdf,#c5c7e3,#c8cae4,#bdc0df,#b3b6da,#c0c2e0)"></i><i style="height:4px;background:linear-gradient(90deg,#f5b0b2,#f6b6b8,#f8cacc,#f8cacc,#fadcde,#fdf2f2,#fdf2f2,#fff,#f0f0f7,#d5d6ea,#d5d7ea,#e0e1f0,#d4d5ea,#cdcfe6,#e8e9f4,#f4f5fa,#f2f2f9,#fffefe,#fbdfe0,#fdf0f1,#fbe5e6,#f8c8ca,#f8ccce,#f9d5d6,#fad8da,#f9d1d3,#fad9da,#fadddf,#fbe4e5,#fdeeef,#f8f8fb,#dedfef,#dfe0ef,#b5b7da,#898ec4,#747bbb,#5a65af,#666fb4,#7a81be,#8c91c6,#bbbdde,#dadbed,#edeef6,#e7e7f3,#dcddee,#ced0e7,#c4c6e2,#c2c4e1,#cbcde5,#d6d8eb,#dcddee,#f2f2f8,#fef5f5,#fce9ea,#fefbfb,#fffdfd,#fffdfd,#fef6f7,#fce7e8,#fce9ea,#fbe4e5,#fadcdd,#f7c1c3,#f7c6c8,#f8c8ca,#f7c6c8,#fadedf,#fdf3f4,#f4f4fa,#e0e1f0,#bec0df,#c3c5e1,#a8abd4,#acb0d6,#a9add5,#abaed5,#9ca1ce,#9a9ecd,#9296c9,#b9bcdd,#bec0df,#bec0df,#bec1df,#c8cae4,#cecfe7,#bdbfde,#b4b7da,#c4c6e2)"></i><i style="height:4px;background:linear-gradient(90deg,#f5b1b3,#f5b1b3,#f8cdcf,#f8ccce,#f9d7d8,#fdf0f1,#fdeeef,#fffcfd,#fafafc,#e1e2f0,#dcddee,#e8e9f4,#dbdced,#d7d8eb,#edeef6,#f6f7fb,#f6f6fb,#fffcfc,#faddde,#fdf2f2,#fce7e8,#f8c8ca,#f8cbcd,#fad9da,#faddde,#f9d1d3,#fadcdd,#faddde,#fbe0e1,#fdf2f3,#f7f8fb,#dddeee,#e3e4f1,#b5b8db,#888dc4,#737bbb,#5a65af,#656eb4,#7a81be,#8e93c7,#bcbede,#dddeee,#f2f2f8,#ecedf6,#e5e6f2,#d2d4e9,#c3c5e1,#c0c3e0,#cacbe5,#d6d8eb,#dadbed,#f0f0f8,#fef7f7,#fceaeb,#fffcfc,#fffdfd,#fef8f8,#fef5f5,#fbe2e4,#fceced,#fcebeb,#fad9db,#f6bdbf,#f7c1c3,#f7c7c9,#f7c2c4,#fadfe0,#fef5f5,#f1f1f8,#e0e1f0,#bcbede,#c5c7e3,#a9acd4,#aaadd5,#adb0d6,#abafd6,#9da1cf,#989ccc,#9196c9,#b9bcdd,#bbbddd,#bbbddd,#bec1df,#cbcde6,#cfd0e7,#bbbdde,#b7b9db,#c6c8e3)"></i><i style="height:4px;background:linear-gradient(90deg,#f6b5b7,#f5b0b2,#f8ccce,#f9d2d4,#f9d3d5,#fceaeb,#fceced,#fffdfd,#fff,#eff0f7,#e4e5f2,#eaebf5,#dddfef,#dddeee,#f0f1f8,#f8f8fc,#fafafc,#fefafa,#fbe1e2,#fdf1f1,#fce8e9,#f8ccce,#f7c8ca,#fadadb,#fadedf,#f9d1d3,#fadcdd,#fadadc,#fbdfe0,#fef6f6,#f7f7fb,#e1e2f0,#e5e6f2,#b3b6d9,#898ec4,#7077b9,#5964af,#656eb4,#7e84bf,#9398ca,#babcdd,#dbdced,#f1f2f8,#edeef6,#e4e5f2,#d4d5ea,#c4c6e2,#c3c5e2,#c7c9e4,#dadbed,#dadbed,#eff0f7,#fef9f9,#fcebec,#fef8f9,#fefafb,#fdf3f3,#fefafa,#fbe4e5,#fceced,#fceced,#f9d2d4,#f7c0c2,#f7c0c2,#f8c8ca,#f7c2c4,#fadfe0,#fef8f8,#edeef6,#e1e2f0,#bbbddd,#cbcde5,#acb0d6,#a6aad3,#adb0d6,#adb0d6,#a3a7d1,#9398ca,#989dcc,#b7badc,#b6b9db,#b9bbdc,#bdbfde,#cecfe7,#cccde6,#babddd,#b9bcdd,#c4c6e2)"></i><i style="height:4px;background:linear-gradient(90deg,#f6b7b9,#f5b0b2,#f8cacc,#f9d7d9,#f9d2d3,#fbe5e6,#fcecec,#fff,#fff,#f7f7fb,#e9eaf4,#e9eaf4,#dddeee,#dedfef,#f0f1f8,#f8f8fc,#fcfcfd,#fef9f9,#fbe5e6,#fdf0f0,#fce8e9,#f8cfd1,#f7c6c8,#fad9db,#faddde,#f9d1d3,#fadbdc,#fad8d9,#fadedf,#fef8f8,#f7f7fb,#e4e5f2,#e6e7f3,#b1b4d8,#898ec4,#6c74b7,#5864af,#666fb4,#8187c1,#979ccc,#b7badc,#d8d9ec,#eff0f7,#ecedf6,#e0e1f0,#d3d4e9,#c7c9e3,#c7c9e3,#c5c7e3,#dcddee,#dbdced,#eff0f7,#fef9fa,#fcecec,#fef5f5,#fef9f9,#fdf0f1,#fff,#fce6e7,#fcebec,#fceaeb,#f8cdcf,#f7c4c6,#f7c0c2,#f8cacc,#f7c4c6,#fbe0e1,#fef9fa,#ededf6,#e2e3f1,#babddd,#cfd0e7,#b0b3d8,#a3a7d2,#acafd6,#aeb2d7,#a9acd5,#9196c9,#9fa3cf,#b6b8db,#b3b6da,#b7b9db,#bcbede,#ced0e7,#c9cbe5,#bbbddd,#bbbede,#c2c4e1)"></i></div></div>
<div class="hm" style="left:1187px;top:55.5px;width:611.5px;height:481.5px"><div style="filter:blur(0.8px);"><i style="height:4px;background:linear-gradient(90deg,#ec2027,#ec2027,#ec2027,#ec2027,#ec2027,#ec2027,#ec2027,#ec2027,#ec2027,#ec2027,#ec2027,#ec2027,#ec2027,#ec2027,#ec2027,#ec2027,#ec2027,#ec2027,#ec2027,#ec2027,#ec2027,#ec2227,#ec2027,#ec2027,#ec2027,#ec2027,#ec2027,#ec2027,#ec2027,#ec2027,#ec2027,#ec2027)"></i><i style="height:4px;background:linear-gradient(90deg,#ec2327,#ec2327,#ec2327,#ec2327,#ec2327,#ec2327,#ec2327,#ec2327,#ec2327,#ec2327,#ec2327,#ec2327,#ec2327,#ec2327,#ec2327,#ec2227,#ec2127,#ec2027,#ec2027,#ec2227,#ed2727,#ed2927,#ec2427,#ec2127,#ec2027,#ec2027,#ec2027,#ec2027,#ec2027,#ec2027,#ec2027,#ec2027)"></i><i style="height:4px;background:linear-gradient(90deg,#ed2927,#ed2927,#ed2927,#ed2927,#ed2927,#ed2927,#ed2927,#ed2927,#ed2927,#ed2927,#ed2927,#ed2927,#ed2927,#ed2927,#ed2927,#ed2927,#ed2727,#ec2627,#ec2527,#ed2927,#ed2e27,#ed3127,#ed2b27,#ec2727,#ec2527,#ec2527,#ec2427,#ec2427,#ec2327,#ec2327,#ec2227,#ec2227)"></i><i style="height:4px;background:linear-gradient(90deg,#ed3027,#ed3027,#ed3027,#ed3027,#ed3027,#ed3027,#ed3027,#ed3027,#ed3027,#ed3027,#ed3027,#ed3027,#ed3027,#ed3027,#ed2f27,#ed2f27,#ed2e27,#ed2c27,#ed2a27,#ed2f27,#ed3627,#ee3827,#ed3227,#ed2d27,#ed2b27,#ed2a27,#ed2a27,#ed2927,#ed2827,#ed2827,#ed2727,#ec2727)"></i><i style="height:4px;background:linear-gradient(90deg,#ee3627,#ee3627,#ee3627,#ee3627,#ee3627,#ee3627,#ee3627,#ee3627,#ee3627,#ee3627,#ee3627,#ee3627,#ee3627,#ee3627,#ed3627,#ed3527,#ed3427,#ed3227,#ed3027,#ed3527,#ee3d27,#ee4028,#ee3827,#ed3327,#ed3127,#ed3027,#ed2f27,#ed2f27,#ed2e27,#ed2d27,#ed2d27,#ed2c27)"></i><i style="height:4px;background:linear-gradient(90deg,#ee3d27,#ee3d27,#ee3d27,#ee3d27,#ee3d27,#ee3d27,#ee3d27,#ee3d27,#ee3d27,#ee3d27,#ee3d27,#ee3d27,#ee3d27,#ee3c27,#ee3c27,#ee3b27,#ee3a27,#ee3727,#ed3527,#ee3b27,#ef4828,#ef5328,#ee3f28,#ee3927,#ee3727,#ed3627,#ed3527,#ed3427,#ed3327,#ed3227,#ed3227,#ed3127)"></i><i style="height:4px;background:linear-gradient(90deg,#ef4528,#ef4528,#ef4528,#ef4528,#ef4528,#ef4528,#ef4528,#ef4528,#ef4528,#ef4528,#ef4528,#ef4528,#ef4528,#ef4528,#ee4428,#ee4328,#ee4028,#ee3d28,#ee3b27,#ee4328,#f16126,#f26b24,#ef4f28,#ee3f28,#ee3c27,#ee3b27,#ee3a27,#ee3a27,#ee3927,#ee3827,#ee3727,#ee3627)"></i><i style="height:4px;background:linear-gradient(90deg,#f05e27,#f05e27,#f05e27,#f05e27,#f05e27,#f05e27,#f05e27,#f05e27,#f05e27,#f05e27,#f05e27,#f05e27,#f05e27,#f05e27,#f05c28,#f05928,#ef5028,#ef4528,#ee4128,#f05928,#f37721,#f5811f,#f26924,#ef4b28,#ee4428,#ee4228,#ee4028,#ee3f28,#ee3e28,#ee3d28,#ee3c27,#ee3b27)"></i><i style="height:4px;background:linear-gradient(90deg,#f37522,#f37522,#f37522,#f37522,#f37522,#f37522,#f37522,#f37522,#f37522,#f37522,#f37522,#f37522,#f37522,#f37422,#f37222,#f37023,#f26825,#f05d27,#ef5128,#f26e23,#f6881e,#f7911d,#f5801f,#f26725,#f05d27,#f05828,#ef5128,#ef4c28,#ef4828,#ef4428,#ee4228,#ee4128)"></i><i style="height:4px;background:linear-gradient(90deg,#f5871f,#f5871f,#f5871f,#f5871f,#f5871f,#f5871f,#f5871f,#f5871f,#f5871f,#f5871f,#f5871f,#f5871f,#f5871f,#f5861f,#f5851f,#f5831f,#f47e20,#f37322,#f26925,#f5821f,#f89a1c,#faa619,#f7921d,#f48020,#f37821,#f37222,#f26d23,#f26825,#f16326,#f05e27,#f05928,#f05328)"></i><i style="height:4px;background:linear-gradient(90deg,#f8981c,#f8981c,#f8981c,#f8981c,#f8981c,#f8981c,#f8981c,#f8981c,#f8981c,#f8981c,#f8981c,#f8981c,#f8981c,#f8981c,#f7961d,#f7941d,#f68e1e,#f5851f,#f47d20,#f7921d,#fbb017,#fcc00c,#faaa18,#f7931d,#f68c1e,#f6881e,#f5841f,#f5811f,#f47d20,#f47821,#f37322,#f26f23)"></i><i style="height:4px;background:linear-gradient(90deg,#faad18,#faad18,#faad18,#faad18,#faad18,#faad18,#faad18,#faad18,#faad18,#faad18,#faad18,#faad18,#faad18,#faad18,#faab18,#faa919,#f9a11a,#f7951d,#f68c1e,#faa719,#fdcc04,#fedb00,#fcc906,#fbaf17,#f9a519,#f9a01b,#f89a1c,#f7951d,#f7901d,#f68c1e,#f6891e,#f5851f)"></i><i style="height:4px;background:linear-gradient(90deg,#fcc807,#fcc807,#fcc807,#fcc807,#fcc807,#fcc807,#fcc807,#fcc807,#fcc807,#fcc807,#fcc807,#fcc807,#fcc807,#fcc707,#fcc509,#fcc20b,#fbb911,#faab18,#f9a01b,#fcc10c,#ffe400,#fbea0b,#ffe500,#fdd400,#fcc906,#fcc10b,#fcba11,#fbb216,#faac18,#faa619,#f9a11a,#f89c1b)"></i><i style="height:4px;background:linear-gradient(90deg,#fee000,#fee000,#fee000,#fee000,#fee000,#fee000,#fee000,#fee000,#fee000,#fee100,#fee100,#fee100,#fee100,#fee100,#fedf00,#fedd00,#fdd500,#fcc608,#fbb812,#fedc00,#f7eb15,#ede91d,#f6ec17,#fce908,#ffe800,#ffe300,#fedd00,#fed800,#fdd100,#fdca05,#fcc30a,#fcbc0f)"></i><i style="height:4px;background:linear-gradient(90deg,#fbea0c,#fbea0c,#fbea0c,#fbea0c,#fbea0a,#fce909,#fbe909,#faea0c,#faea0e,#f8eb12,#f7eb15,#f6ec18,#f4ec1a,#f2eb1b,#f4eb1a,#f5ec19,#fbea0a,#fee100,#fdd600,#faea0d,#e5e520,#dae124,#e3e421,#ede81d,#f3eb1b,#f6eb16,#f9eb10,#fbea0b,#fde905,#ffe800,#ffe300,#fede00)"></i><i style="height:4px;background:linear-gradient(90deg,#f1ea1b,#f1ea1b,#f1ea1b,#f1ea1b,#f4ec1a,#f6ec18,#f5ec1a,#f1ea1b,#ede91d,#e7e61f,#e2e421,#dce223,#d8e025,#d3de27,#d2dd28,#d1dd28,#e1e321,#f5ec1a,#fce908,#eae71e,#d1dd28,#c0d734,#ccdb2c,#d7df25,#dee223,#e3e520,#e9e71e,#ede91d,#f2eb1b,#f6ec19,#f8eb13,#faea0e)"></i><i style="height:4px;background:linear-gradient(90deg,#e2e421,#e2e421,#e2e421,#e2e421,#e7e61f,#eae71e,#e8e71f,#e2e421,#dde223,#d3dd27,#c6d930,#bad539,#b3d344,#acd04f,#a9d052,#a7cf57,#b8d43c,#dae124,#ece81d,#d4de26,#b6d43f,#abd04f,#b2d246,#b9d43b,#c3d833,#ccdb2c,#d5de26,#dae024,#dfe222,#e4e520,#e9e71e,#eee91d)"></i><i style="height:4px;background:linear-gradient(90deg,#d3de27,#d3de27,#d3de27,#d3de27,#dae024,#dee222,#dbe123,#d2dd27,#c8da2f,#b7d43e,#abd050,#a0cd5e,#96cb69,#8bc875,#88c77d,#84c787,#96cb68,#b7d43e,#d4de26,#b7d43e,#a2ce5b,#97cb67,#9dcc61,#a3ce5a,#abd050,#b2d245,#b9d43b,#c0d735,#c7d92f,#d0dd29,#d8e025,#dde223)"></i><i style="height:4px;background:linear-gradient(90deg,#bdd637,#bdd637,#bdd637,#bdd637,#c9da2e,#d0dd29,#ccdb2c,#bcd537,#b3d245,#a2ce5b,#92ca6c,#87c781,#7fc696,#74c5ab,#70c5b4,#6cc5bd,#7cc69c,#9bcc63,#b5d341,#a2ce5c,#8dc872,#86c783,#89c87c,#8cc873,#94ca6a,#9dcc61,#a5ce58,#abd050,#b0d248,#b7d43e,#c0d735,#c8da2e)"></i><i style="height:4px;background:linear-gradient(90deg,#aed14c,#aed14c,#aed14c,#aed14c,#b7d43e,#bed636,#bad53a,#add14d,#a1ce5c,#8cc873,#80c693,#73c5ae,#6bc5c0,#67c4cc,#65c4d2,#62c4da,#68c4c9,#83c78b,#9dcc61,#8bc875,#7fc694,#77c6a5,#7ac6a0,#7dc69a,#82c78c,#89c87c,#8fc96f,#96cb68,#9dcc61,#a5ce58,#add14d,#b3d343)"></i><i style="height:4px;background:linear-gradient(90deg,#9ecd60,#9ecd60,#9ecd60,#9ecd60,#aad051,#b1d247,#add14d,#9dcc61,#8fc970,#7ec697,#6ec5b9,#67c4cd,#63c4d8,#5ac2dd,#52c1df,#48bfe3,#53c1df,#6ec5ba,#87c781,#7cc69b,#6fc5b7,#67c4cb,#69c5c8,#6ac5c4,#71c5b3,#7ac6a1,#80c691,#85c785,#8ac879,#91c96e,#9acc64,#a2ce5b)"></i><i style="height:4px;background:linear-gradient(90deg,#8ec871,#8ec871,#8ec871,#8ec871,#9ccc62,#a5ce59,#9fcd5e,#8dc872,#82c78c,#6ec5b8,#64c4d4,#57c2de,#4ec0e1,#45bee4,#3bbce7,#2fb9eb,#34bbe9,#58c2dd,#75c5aa,#6ac5c3,#59c2dd,#44bee4,#43bee5,#42bde5,#56c2de,#67c4cb,#6fc5b5,#76c6a8,#7cc69c,#83c78c,#89c87a,#90c96e)"></i><i style="height:4px;background:linear-gradient(90deg,#83c78b,#83c78b,#83c78b,#83c78b,#8ec871,#97cb67,#92c96d,#82c78d,#75c5aa,#64c4d3,#4fc0e0,#40bde6,#37bbe8,#2fb9eb,#30b4e8,#36ace1,#35ace2,#2fbaeb,#62c4da,#47bee3,#2eb8eb,#35ade2,#37aae0,#39a7dd,#33b0e5,#38bbe8,#55c1df,#66c4d0,#6cc5bf,#74c5ac,#7dc69a,#83c78a)"></i><i style="height:4px;background:linear-gradient(90deg,#77c6a5,#77c6a5,#77c6a5,#77c6a5,#84c788,#8bc876,#87c781,#76c6a7,#69c5c6,#50c0e0,#37bbe9,#2fb7ea,#31b2e7,#34aee3,#38a7de,#3da0d8,#3d9fd7,#3aa5dc,#2db8ec,#35ace1,#3ca1d9,#3c9ad4,#3b96d2,#3b91cf,#3c97d2,#3ca2da,#33b0e4,#3abce8,#52c1df,#65c4d2,#6ec5b9,#76c6a7)"></i><i style="height:4px;background:linear-gradient(90deg,#6bc5c1,#6bc5c1,#6bc5c1,#6bc5c0,#7ac69f,#82c78c,#7ec698,#6bc5c2,#5bc3dc,#38bbe8,#32b1e6,#37aae0,#39a6dd,#3ba3db,#3d9ed7,#3c97d2,#3b94d0,#3b96d2,#3d9fd7,#3c97d2,#3a90ce,#3a8bcb,#3b86c8,#3c81c4,#3b85c7,#3a8dcc,#3c97d3,#39a6dd,#30b4e8,#3fbde6,#5ac2dd,#68c4c9)"></i><i style="height:4px;background:linear-gradient(90deg,#5ac2dd,#5ac2dd,#5ac2dd,#5dc3dc,#6fc5b7,#79c6a2,#73c5ae,#5ec3db,#41bde5,#32b2e6,#3aa4db,#3da0d8,#3d9ed7,#3c9cd5,#3b96d2,#3a8ecd,#3a8aca,#3b89c9,#3a8bcb,#3b87c8,#3c83c5,#3c7ec3,#3d79bf,#3d70b9,#3d74bc,#3d7dc2,#3b86c7,#3b93d0,#3d9fd8,#36abe1,#2fb9eb,#48bfe3)"></i><i style="height:4px;background:linear-gradient(90deg,#38bbe8,#38bbe8,#37bbe9,#3ebce6,#65c4d3,#6ec5b7,#69c5c8,#43bee5,#2fb5e9,#3aa5dc,#3c9bd5,#3c97d3,#3b96d2,#3b94d1,#3a8ecd,#3b87c8,#3c82c5,#3c7ec2,#3d7dc2,#3d79bf,#3d75bd,#3d71ba,#3c6ab5,#3c65b2,#3c66b2,#3c6cb6,#3d76bd,#3b84c6,#3a8fcd,#3c99d4,#3ba4db,#33b0e5)"></i><i style="height:4px;background:linear-gradient(90deg,#35ace2,#35ace2,#36ace1,#32b1e6,#4cbfe2,#65c4d3,#56c2de,#2fb6e9,#39a7de,#3c9cd5,#3b93d0,#3a8fce,#3a8ecd,#3a8dcc,#3b88c9,#3c80c4,#3d79bf,#3d72ba,#3c6db7,#3c6ab5,#3c68b3,#3c66b2,#3c64b1,#3c63b0,#3c64b0,#3c65b1,#3c67b3,#3d76bd,#3c82c5,#3a8bcb,#3b94d0,#3c9dd6)"></i><i style="height:4px;background:linear-gradient(90deg,#3d9ed7,#3d9dd6,#3d9dd6,#3ca2d9,#2eb9ec,#4bbfe2,#38bbe8,#39a7dd,#3c9dd6,#3b93d0,#3a8bcb,#3b89c9,#3b88c9,#3b87c8,#3c81c5,#3d79bf,#3c70b9,#3c67b2,#3c65b1,#3c64b1,#3c64b0,#3c63b0,#3b62af,#3b62af,#3b62af,#3b62af,#3c63b0,#3c68b3,#3d76bd,#3c7fc3,#3b86c8,#3a8dcc)"></i><i style="height:4px;background:linear-gradient(90deg,#3b92cf,#3b91cf,#3b91ce,#3b96d2,#37a9df,#2db9ec,#34aee3,#3c9cd6,#3b93d0,#3a8ccb,#3b85c7,#3c82c5,#3c82c5,#3c81c5,#3d7bc1,#3d71ba,#3c67b2,#3c63b0,#3b62af,#3b62af,#3b62af,#3b61af,#3b60ae,#3b60ad,#3b60ae,#3b60ae,#3b61af,#3c64b0,#3c68b4,#3d72bb,#3d7bc0,#3c82c5)"></i><i style="height:4px;background:linear-gradient(90deg,#3b88c9,#3b87c8,#3b87c8,#3a8ccb,#3c9dd6,#38a8de,#3da0d8,#3b93d0,#3a8bcb,#3b85c7,#3c7ec3,#3d7cc1,#3d7cc1,#3d7bc1,#3d74bc,#3c69b4,#3c63b0,#3b61ae,#3b60ae,#3b60ad,#3b5fad,#3b5fad,#3b5ead,#3b5eac,#3b5eac,#3b5ead,#3b5fad,#3b61af,#3c64b1,#3c67b2,#3c6db7,#3d75bd)"></i><i style="height:4px;background:linear-gradient(90deg,#3c7fc3,#3c7ec3,#3c7dc2,#3b84c6,#3b92cf,#3c9cd5,#3b95d1,#3a8aca,#3b84c6,#3c7ec3,#3d77be,#3d75bd,#3d76bd,#3d75bc,#3c6db7,#3c64b0,#3b60ad,#3b5ead,#3b5eac,#3b5dac,#3b5dac,#3b5dab,#3b5cab,#3b5cab,#3b5cab,#3b5cab,#3b5dab,#3b5fad,#3b62af,#3c63b0,#3c65b1,#3c68b4)"></i><i style="height:4px;background:linear-gradient(90deg,#3d75bc,#3d74bc,#3d73bb,#3d7bc1,#3b89ca,#3b91cf,#3a8bcb,#3c82c5,#3d7dc2,#3d78be,#3c6fb9,#3c6eb7,#3c6fb8,#3c6eb8,#3c66b2,#3b60ae,#3b5cab,#3b5cab,#3a5baa,#3a5baa,#3a5baa,#3a5baa,#3a5aaa,#3a5aaa,#3a5aaa,#3a5aaa,#3a5baa,#3b5dac,#3b5fad,#3b61af,#3c63b0,#3c64b0)"></i><i style="height:4px;background:linear-gradient(90deg,#3c6ab5,#3c6ab4,#3c69b4,#3d72ba,#3c81c4,#3b88c9,#3c83c6,#3d7bc1,#3d75bc,#3c70b9,#3c68b3,#3c67b2,#3c68b3,#3c68b3,#3b62af,#3b5cab,#3a59a9,#3a5aa9,#3a59a9,#3a59a9,#3a59a8,#3a59a8,#3a58a8,#3a58a8,#3a58a8,#3a58a8,#3a58a8,#3a5baa,#3b5dac,#3b5fad,#3b60ae,#3b61af)"></i><i style="height:4px;background:linear-gradient(90deg,#3c64b1,#3c64b1,#3c64b0,#3c68b3,#3d79bf,#3c80c4,#3d7bc1,#3d73bb,#3c6db7,#3c68b4,#3c64b0,#3c63b0,#3c63b0,#3c63b0,#3b5eac,#3a59a8,#3a57a7,#3a58a8,#3a57a7,#3a57a7,#3a57a7,#3a57a7,#3a57a7,#3a57a7,#3a57a7,#3a57a7,#3a57a7,#3a58a8,#3a5baa,#3b5cab,#3b5eac,#3b5fad)"></i><i style="height:4px;background:linear-gradient(90deg,#3b62af,#3b61af,#3b61ae,#3c63b0,#3c6fb9,#3d78be,#3d72ba,#3c6ab5,#3c65b2,#3c64b0,#3b61ae,#3b60ae,#3b60ae,#3b5fad,#3a5aaa,#3a56a7,#3955a6,#3a56a7,#3a56a6,#3a56a6,#3a56a6,#3a56a6,#3a56a6,#3a56a6,#3a56a6,#3a56a6,#3a56a6,#3a57a7,#3a59a8,#3a5aaa,#3a5baa,#3b5dab)"></i><i style="height:4px;background:linear-gradient(90deg,#3b5fad,#3b5ead,#3b5eac,#3b60ae,#3c67b2,#3c6eb8,#3c68b4,#3c64b1,#3b62af,#3b60ae,#3b5dac,#3b5dab,#3b5cab,#3a5baa,#3a57a7,#3954a5,#3953a4,#3955a5,#3955a5,#3955a5,#3955a5,#3955a5,#3955a6,#3955a6,#3955a6,#3955a5,#3954a5,#3a56a6,#3a57a7,#3a58a8,#3a59a9,#3a5aa9)"></i><i style="height:4px;background:linear-gradient(90deg,#3b5cab,#3b5cab,#3a5baa,#3b5dac,#3c63b0,#3c66b2,#3c63b0,#3b61ae,#3b5fad,#3b5dac,#3a5aaa,#3a59a9,#3a59a8,#3a58a8,#3955a6,#3a53a4,#3b53a4,#3953a4,#3953a4,#3953a4,#3953a4,#3953a4,#3954a5,#3954a5,#3954a5,#3954a5,#3953a4,#3954a5,#3a56a6,#3a57a7,#3a57a7,#3a58a8)"></i><i style="height:4px;background:linear-gradient(90deg,#3a59a9,#3a59a8,#3a58a8,#3a5aaa,#3b5fad,#3b62af,#3b60ae,#3b5eac,#3a5baa,#3a5aa9,#3a58a8,#3a57a7,#3a56a7,#3955a6,#3953a4,#3c53a4,#3d53a4,#3a53a4,#3a53a4,#3a53a4,#3a53a4,#3a53a4,#3953a4,#3953a4,#3953a4,#3a53a4,#3a53a4,#3953a4,#3955a5,#3955a6,#3a56a6,#3a56a7)"></i><i style="height:4px;background:linear-gradient(90deg,#3a57a7,#3a57a7,#3a56a7,#3a58a8,#3b5cab,#3b5fad,#3b5dac,#3a5aaa,#3a58a8,#3a57a7,#3a56a6,#3955a6,#3954a5,#3953a4,#3c53a4,#3f52a5,#3f52a5,#3c53a4,#3c53a4,#3c53a4,#3c53a4,#3b53a4,#3b53a4,#3a53a4,#3a53a4,#3b53a4,#3c53a4,#3a53a4,#3953a4,#3954a5,#3955a5,#3955a6)"></i><i style="height:4px;background:linear-gradient(90deg,#3a56a6,#3955a6,#3955a5,#3a56a6,#3a59a9,#3b5cab,#3a5aa9,#3a58a8,#3a56a6,#3955a6,#3954a5,#3953a4,#3a53a4,#3b53a4,#3e52a5,#4152a5,#4152a5,#3d53a4,#3d53a4,#3d53a4,#3d53a4,#3d53a4,#3c53a4,#3b53a4,#3c53a4,#3c53a4,#3d53a4,#3c53a4,#3a53a4,#3953a4,#3953a4,#3954a5)"></i><i style="height:4px;background:linear-gradient(90deg,#3954a5,#3954a5,#3953a4,#3954a5,#3a57a7,#3a58a8,#3a57a7,#3a56a6,#3954a5,#3953a4,#3a53a4,#3b53a4,#3c53a4,#3e53a4,#4152a5,#4352a5,#4352a5,#3f52a5,#3f52a5,#3f52a5,#3f52a5,#3e52a5,#3d53a4,#3d53a4,#3d53a4,#3e53a4,#3f52a5,#3d53a4,#3c53a4,#3b53a4,#3a53a4,#3a53a4)"></i><i style="height:4px;background:linear-gradient(90deg,#3953a4,#3a53a4,#3b53a4,#3a53a4,#3955a6,#3a56a7,#3955a6,#3954a5,#3a53a4,#3b53a4,#3c53a4,#3d53a4,#3e52a5,#4152a5,#4252a5,#4452a5,#4452a5,#4152a5,#4052a5,#4052a5,#4052a5,#4052a5,#3f52a5,#3e53a4,#3e52a5,#3f52a5,#4052a5,#3f52a5,#3d53a4,#3c53a4,#3c53a4,#3b53a4)"></i><i style="height:4px;background:linear-gradient(90deg,#3b53a4,#3c53a4,#3d53a4,#3c53a4,#3953a4,#3955a5,#3953a4,#3a53a4,#3c53a4,#3d53a4,#3e53a4,#3f52a5,#4152a5,#4252a5,#4452a5,#4552a5,#4552a5,#4252a5,#4252a5,#4252a5,#4252a5,#4152a5,#4052a5,#3f52a5,#3f52a5,#4052a5,#4252a5,#4052a5,#3f52a5,#3e53a4,#3d53a4,#3d53a4)"></i><i style="height:4px;background:linear-gradient(90deg,#3d53a4,#3e53a4,#3f52a5,#3e53a4,#3b53a4,#3953a4,#3b53a4,#3c53a4,#3e52a5,#3f52a5,#4052a5,#4152a5,#4252a5,#4452a5,#4552a5,#4652a5,#4652a5,#4352a5,#4352a5,#4352a5,#4352a5,#4352a5,#4152a5,#4052a5,#4152a5,#4252a5,#4352a5,#4252a5,#4052a5,#4052a5,#3f52a5,#3f52a5)"></i><i style="height:4px;background:linear-gradient(90deg,#3f52a5,#4052a5,#4152a5,#4052a5,#3d53a4,#3b53a4,#3d53a4,#3e52a5,#4152a5,#4152a5,#4252a5,#4352a5,#4452a5,#4552a5,#4652a5,#4752a5,#4752a5,#4552a5,#4452a5,#4452a5,#4452a5,#4452a5,#4352a5,#4252a5,#4252a5,#4352a5,#4452a5,#4352a5,#4252a5,#4152a5,#4152a5,#4052a5)"></i><i style="height:4px;background:linear-gradient(90deg,#4152a5,#4252a5,#4252a5,#4252a5,#4052a5,#3e53a4,#3f52a5,#4152a5,#4252a5,#4352a5,#4352a5,#4452a5,#4552a5,#4652a5,#4752a5,#4952a5,#4852a5,#4652a5,#4552a5,#4652a5,#4652a5,#4652a5,#4452a5,#4352a5,#4352a5,#4452a5,#4552a5,#4452a5,#4352a5,#4252a5,#4252a5,#4252a5)"></i><i style="height:4px;background:linear-gradient(90deg,#4252a5,#4352a5,#4452a5,#4352a5,#4252a5,#4052a5,#4152a5,#4252a5,#4452a5,#4452a5,#4452a5,#4552a5,#4652a5,#4852a5,#4952a5,#4a51a4,#4a51a4,#4752a5,#4752a5,#4752a5,#4752a5,#4752a5,#4652a5,#4452a5,#4452a5,#4552a5,#4752a5,#4552a5,#4452a5,#4452a5,#4352a5,#4352a5)"></i><i style="height:4px;background:linear-gradient(90deg,#4452a5,#4452a5,#4552a5,#4552a5,#4352a5,#4252a5,#4352a5,#4452a5,#4552a5,#4552a5,#4652a5,#4652a5,#4852a5,#4952a5,#4a51a4,#4b51a4,#4b51a4,#4852a5,#4852a5,#4852a5,#4952a5,#4952a5,#4752a5,#4652a5,#4652a5,#4752a5,#4852a5,#4752a5,#4652a5,#4552a5,#4552a5,#4452a5)"></i><i style="height:4px;background:linear-gradient(90deg,#4552a5,#4652a5,#4752a5,#4652a5,#4452a5,#4352a5,#4452a5,#4552a5,#4652a5,#4752a5,#4752a5,#4852a5,#4952a5,#4a51a4,#4b51a4,#4c51a4,#4c51a4,#4a51a4,#4951a4,#4a51a4,#4a51a4,#4a51a4,#4952a5,#4752a5,#4752a5,#4852a5,#4951a4,#4852a5,#4752a5,#4652a5,#4652a5,#4652a5)"></i><i style="height:4px;background:linear-gradient(90deg,#4752a5,#4752a5,#4852a5,#4852a5,#4652a5,#4552a5,#4552a5,#4652a5,#4852a5,#4852a5,#4852a5,#4951a4,#4a51a4,#4c51a4,#4c51a4,#4d51a4,#4d51a4,#4b51a4,#4b51a4,#4b51a4,#4b51a4,#4c51a4,#4a51a4,#4952a5,#4952a5,#4951a4,#4a51a4,#4951a4,#4852a5,#4852a5,#4752a5,#4752a5)"></i><i style="height:4px;background:linear-gradient(90deg,#4852a5,#4952a5,#4a51a4,#4952a5,#4752a5,#4652a5,#4752a5,#4852a5,#4952a5,#4951a4,#4a51a4,#4a51a4,#4c51a4,#4d51a4,#4e51a4,#4f51a4,#4e51a4,#4c51a4,#4c51a4,#4d51a4,#4d51a4,#4d51a4,#4c51a4,#4a51a4,#4a51a4,#4b51a4,#4c51a4,#4b51a4,#4a51a4,#4952a5,#4952a5,#4852a5)"></i><i style="height:4px;background:linear-gradient(90deg,#4a51a4,#4a51a4,#4b51a4,#4a51a4,#4952a5,#4852a5,#4852a5,#4951a4,#4a51a4,#4b51a4,#4b51a4,#4c51a4,#4d51a4,#4e51a4,#4f51a4,#5051a4,#5051a4,#4e51a4,#4d51a4,#4e51a4,#4e51a4,#4f51a4,#4d51a4,#4c51a4,#4b51a4,#4c51a4,#4d51a4,#4c51a4,#4b51a4,#4a51a4,#4a51a4,#4a51a4)"></i><i style="height:4px;background:linear-gradient(90deg,#4b51a4,#4c51a4,#4c51a4,#4c51a4,#4a51a4,#4951a4,#4a51a4,#4b51a4,#4c51a4,#4c51a4,#4c51a4,#4d51a4,#4e51a4,#4f51a4,#5051a4,#5151a4,#5151a4,#4f51a4,#4f51a4,#4f51a4,#5051a4,#5051a4,#4f51a4,#4d51a4,#4d51a4,#4d51a4,#4e51a4,#4d51a4,#4c51a4,#4c51a4,#4b51a4,#4b51a4)"></i><i style="height:4px;background:linear-gradient(90deg,#4d51a4,#4d51a4,#4e51a4,#4d51a4,#4c51a4,#4b51a4,#4b51a4,#4c51a4,#4d51a4,#4d51a4,#4d51a4,#4e51a4,#5051a4,#5151a4,#5151a4,#5251a4,#5251a4,#5051a4,#5051a4,#5151a4,#5151a4,#5251a4,#5151a4,#4f51a4,#4e51a4,#4f51a4,#4f51a4,#4e51a4,#4e51a4,#4d51a4,#4d51a4,#4d51a4)"></i><i style="height:4px;background:linear-gradient(90deg,#4e51a4,#4f51a4,#4f51a4,#4f51a4,#4d51a4,#4c51a4,#4d51a4,#4d51a4,#4e51a4,#4f51a4,#4f51a4,#5051a4,#5151a4,#5251a4,#5351a4,#5351a4,#5351a4,#5251a4,#5151a4,#5251a4,#5351a4,#5351a4,#5251a4,#5051a4,#5051a4,#5051a4,#5151a4,#5051a4,#4f51a4,#4e51a4,#4e51a4,#4e51a4)"></i><i style="height:4px;background:linear-gradient(90deg,#5051a4,#5051a4,#5151a4,#5051a4,#4f51a4,#4d51a4,#4e51a4,#4f51a4,#5051a4,#5051a4,#5051a4,#5151a4,#5251a4,#5351a4,#5451a4,#5550a3,#5451a4,#5351a4,#5351a4,#5351a4,#5451a4,#5550a3,#5451a4,#5251a4,#5151a4,#5151a4,#5251a4,#5151a4,#5051a4,#5051a4,#4f51a4,#4f51a4)"></i><i style="height:4px;background:linear-gradient(90deg,#5151a4,#5251a4,#5251a4,#5251a4,#5051a4,#4f51a4,#5051a4,#5051a4,#5151a4,#5151a4,#5151a4,#5251a4,#5351a4,#5550a3,#5550a3,#5650a3,#5550a3,#5451a4,#5451a4,#5550a3,#5650a3,#5650a3,#5550a3,#5351a4,#5251a4,#5351a4,#5351a4,#5251a4,#5151a4,#5151a4,#5151a4,#5151a4)"></i><i style="height:4px;background:linear-gradient(90deg,#5351a4,#5351a4,#5451a4,#5351a4,#5251a4,#5051a4,#5151a4,#5251a4,#5251a4,#5251a4,#5351a4,#5351a4,#5550a3,#5650a3,#5650a3,#5750a3,#5750a3,#5550a3,#5550a3,#5650a3,#5750a3,#5850a3,#5750a3,#5550a3,#5451a4,#5451a4,#5451a4,#5451a4,#5351a4,#5251a4,#5251a4,#5251a4)"></i><i style="height:4px;background:linear-gradient(90deg,#5451a4,#5550a3,#5550a3,#5550a3,#5351a4,#5251a4,#5251a4,#5351a4,#5451a4,#5451a4,#5451a4,#5550a3,#5650a3,#5750a3,#5850a3,#5850a3,#5850a3,#5750a3,#5750a3,#5850a3,#5850a3,#5950a3,#5850a3,#5650a3,#5550a3,#5550a3,#5650a3,#5550a3,#5451a4,#5451a4,#5351a4,#5351a4)"></i><i style="height:4px;background:linear-gradient(90deg,#5650a3,#5650a3,#5650a3,#5650a3,#5451a4,#5351a4,#5451a4,#5451a4,#5550a3,#5550a3,#5550a3,#5650a3,#5750a3,#5850a3,#5950a3,#5950a3,#5950a3,#5850a3,#5850a3,#5950a3,#5a50a3,#5b50a3,#5a50a3,#5850a3,#5750a3,#5750a3,#5750a3,#5650a3,#5550a3,#5550a3,#5550a3,#5550a3)"></i><i style="height:4px;background:linear-gradient(90deg,#5750a3,#5750a3,#5850a3,#5750a3,#5650a3,#5550a3,#5550a3,#5650a3,#5650a3,#5650a3,#5650a3,#5750a3,#5950a3,#5a50a3,#5a50a3,#5b50a3,#5a50a3,#5950a3,#5950a3,#5a50a3,#5c50a3,#5d50a3,#5b50a3,#5950a3,#5850a3,#5850a3,#5850a3,#5750a3,#5750a3,#5650a3,#5650a3,#5650a3)"></i><i style="height:4px;background:linear-gradient(90deg,#5950a3,#5950a3,#5950a3,#5950a3,#5750a3,#5650a3,#5750a3,#5750a3,#5850a3,#5850a3,#5850a3,#5950a3,#5a50a3,#5b50a3,#5c50a3,#5c50a3,#5c50a3,#5b50a3,#5b50a3,#5c50a3,#5e50a3,#5f50a3,#5e50a3,#5b50a3,#5950a3,#5950a3,#5950a3,#5950a3,#5850a3,#5750a3,#5750a3,#5750a3)"></i><i style="height:4px;background:linear-gradient(90deg,#5a50a3,#5a50a3,#5b50a3,#5a50a3,#5950a3,#5850a3,#5850a3,#5850a3,#5950a3,#5950a3,#5950a3,#5a50a3,#5c50a3,#5d50a3,#5d50a3,#5e50a3,#5d50a3,#5c50a3,#5d50a3,#5e50a3,#6050a3,#6150a3,#6050a3,#5d50a3,#5b50a3,#5b50a3,#5b50a3,#5a50a3,#5950a3,#5950a3,#5950a3,#5950a3)"></i><i style="height:4px;background:linear-gradient(90deg,#5c50a3,#5c50a3,#5d50a3,#5c50a3,#5a50a3,#5950a3,#5950a3,#5a50a3,#5a50a3,#5a50a3,#5a50a3,#5b50a3,#5d50a3,#5f50a3,#5f50a3,#5f50a3,#5f50a3,#5e50a3,#5e50a3,#6050a3,#6150a3,#644fa2,#6250a3,#5f50a3,#5d50a3,#5c50a3,#5c50a3,#5c50a3,#5b50a3,#5a50a3,#5a50a3,#5a50a3)"></i><i style="height:4px;background:linear-gradient(90deg,#5e50a3,#5e50a3,#5f50a3,#5e50a3,#5c50a3,#5b50a3,#5b50a3,#5c50a3,#5c50a3,#5c50a3,#5c50a3,#5d50a3,#5f50a3,#6150a3,#6150a3,#6150a3,#6150a3,#6050a3,#6050a3,#6250a3,#634fa2,#664fa2,#644fa2,#6150a3,#5f50a3,#5e50a3,#5e50a3,#5d50a3,#5c50a3,#5c50a3,#5c50a3,#5c50a3)"></i><i style="height:4px;background:linear-gradient(90deg,#6050a3,#6050a3,#6150a3,#6050a3,#5e50a3,#5d50a3,#5d50a3,#5d50a3,#5e50a3,#5e50a3,#5e50a3,#5f50a3,#6150a3,#624fa2,#634fa2,#634fa2,#624fa2,#6150a3,#6250a3,#644fa2,#654fa2,#684fa2,#664fa2,#634fa2,#6050a3,#6050a3,#6050a3,#5f50a3,#5e50a3,#5e50a3,#5e50a3,#5d50a3)"></i><i style="height:4px;background:linear-gradient(90deg,#6250a3,#624fa2,#634fa2,#624fa2,#6050a3,#5f50a3,#5f50a3,#5f50a3,#6050a3,#6050a3,#5f50a3,#6150a3,#634fa2,#644fa2,#644fa2,#644fa2,#644fa2,#634fa2,#644fa2,#664fa2,#674fa2,#6a4fa2,#684fa2,#654fa2,#624fa2,#6250a3,#6250a3,#6150a3,#6050a3,#5f50a3,#5f50a3,#5f50a3)"></i><i style="height:4px;background:linear-gradient(90deg,#644fa2,#644fa2,#654fa2,#644fa2,#624fa2,#6050a3,#6150a3,#6150a3,#6250a3,#6150a3,#6150a3,#624fa2,#654fa2,#664fa2,#664fa2,#664fa2,#654fa2,#654fa2,#654fa2,#674fa2,#694fa2,#6c4fa2,#6a4fa2,#674fa2,#644fa2,#634fa2,#634fa2,#624fa2,#6250a3,#6150a3,#6150a3,#6150a3)"></i><i style="height:4px;background:linear-gradient(90deg,#664fa2,#664fa2,#674fa2,#664fa2,#644fa2,#624fa2,#634fa2,#634fa2,#634fa2,#634fa2,#634fa2,#644fa2,#664fa2,#684fa2,#684fa2,#674fa2,#674fa2,#674fa2,#674fa2,#694fa2,#6b4fa2,#6e4fa2,#6c4fa2,#694fa2,#664fa2,#654fa2,#654fa2,#644fa2,#634fa2,#634fa2,#634fa2,#634fa2)"></i><i style="height:4px;background:linear-gradient(90deg,#684fa2,#684fa2,#694fa2,#684fa2,#664fa2,#644fa2,#654fa2,#654fa2,#654fa2,#654fa2,#644fa2,#664fa2,#684fa2,#694fa2,#694fa2,#694fa2,#694fa2,#684fa2,#694fa2,#6b4fa2,#6d4fa2,#704fa2,#6e4fa2,#6b4fa2,#684fa2,#674fa2,#674fa2,#664fa2,#654fa2,#654fa2,#654fa2,#654fa2)"></i><i style="height:4px;background:linear-gradient(90deg,#6a4fa2,#6a4fa2,#6a4fa2,#6a4fa2,#684fa2,#664fa2,#674fa2,#674fa2,#674fa2,#674fa2,#664fa2,#684fa2,#6a4fa2,#6b4fa2,#6b4fa2,#6b4fa2,#6a4fa2,#6a4fa2,#6b4fa2,#6d4fa2,#6f4fa2,#724fa1,#704fa2,#6d4fa2,#6a4fa2,#694fa2,#684fa2,#684fa2,#674fa2,#674fa2,#674fa2,#674fa2)"></i><i style="height:4px;background:linear-gradient(90deg,#6c4fa2,#6c4fa2,#6c4fa2,#6c4fa2,#6a4fa2,#684fa2,#684fa2,#694fa2,#694fa2,#684fa2,#684fa2,#694fa2,#6c4fa2,#6d4fa2,#6d4fa2,#6c4fa2,#6c4fa2,#6c4fa2,#6d4fa2,#6f4fa2,#714fa2,#744fa1,#724fa1,#6f4fa2,#6c4fa2,#6a4fa2,#6a4fa2,#694fa2,#694fa2,#684fa2,#684fa2,#684fa2)"></i><i style="height:4px;background:linear-gradient(90deg,#6e4fa2,#6e4fa2,#6e4fa2,#6e4fa2,#6c4fa2,#6a4fa2,#6a4fa2,#6b4fa2,#6b4fa2,#6a4fa2,#6a4fa2,#6b4fa2,#6d4fa2,#6f4fa2,#6e4fa2,#6e4fa2,#6d4fa2,#6e4fa2,#6e4fa2,#714fa2,#734fa1,#764fa1,#744fa1,#714fa2,#6e4fa2,#6c4fa2,#6c4fa2,#6b4fa2,#6a4fa2,#6a4fa2,#6a4fa2,#6a4fa2)"></i><i style="height:4px;background:linear-gradient(90deg,#704fa2,#704fa2,#704fa2,#704fa2,#6e4fa2,#6c4fa2,#6c4fa2,#6c4fa2,#6c4fa2,#6c4fa2,#6b4fa2,#6d4fa2,#6f4fa2,#714fa2,#704fa2,#6f4fa2,#6f4fa2,#6f4fa2,#704fa2,#734fa1,#754fa1,#784fa1,#764fa1,#734fa1,#6f4fa2,#6e4fa2,#6d4fa2,#6d4fa2,#6c4fa2,#6c4fa2,#6c4fa2,#6c4fa2)"></i><i style="height:4px;background:linear-gradient(90deg,#724fa2,#724fa1,#724fa1,#724fa2,#704fa2,#6e4fa2,#6e4fa2,#6e4fa2,#6e4fa2,#6e4fa2,#6d4fa2,#6f4fa2,#714fa2,#724fa1,#724fa2,#714fa2,#714fa2,#714fa2,#724fa2,#744fa1,#774fa1,#794fa1,#784fa1,#754fa1,#714fa2,#704fa2,#6f4fa2,#6f4fa2,#6e4fa2,#6e4fa2,#6e4fa2,#6e4fa2)"></i><i style="height:4px;background:linear-gradient(90deg,#744fa1,#744fa1,#744fa1,#744fa1,#724fa2,#704fa2,#704fa2,#704fa2,#704fa2,#6f4fa2,#6f4fa2,#704fa2,#734fa1,#744fa1,#734fa1,#734fa1,#724fa1,#734fa1,#744fa1,#764fa1,#784fa1,#7b4fa1,#794fa1,#774fa1,#734fa1,#714fa2,#714fa2,#704fa2,#704fa2,#6f4fa2,#704fa2,#704fa2)"></i><i style="height:4px;background:linear-gradient(90deg,#764fa1,#764fa1,#764fa1,#754fa1,#744fa1,#724fa1,#724fa1,#724fa1,#724fa2,#714fa2,#714fa2,#724fa1,#744fa1,#764fa1,#754fa1,#744fa1,#744fa1,#754fa1,#754fa1,#784fa1,#7a4fa1,#7c4fa1,#7b4fa1,#794fa1,#754fa1,#734fa1,#724fa1,#724fa2,#714fa2,#714fa2,#714fa2,#714fa2)"></i><i style="height:4px;background:linear-gradient(90deg,#784fa1,#784fa1,#784fa1,#774fa1,#764fa1,#744fa1,#744fa1,#744fa1,#744fa1,#734fa1,#724fa1,#744fa1,#764fa1,#784fa1,#774fa1,#764fa1,#754fa1,#764fa1,#774fa1,#794fa1,#7b4fa1,#7d4fa1,#7c4fa1,#7a4fa1,#774fa1,#754fa1,#744fa1,#744fa1,#734fa1,#734fa1,#734fa1,#734fa1)"></i><i style="height:4px;background:linear-gradient(90deg,#794fa1,#794fa1,#794fa1,#794fa1,#784fa1,#764fa1,#764fa1,#764fa1,#764fa1,#754fa1,#744fa1,#764fa1,#784fa1,#794fa1,#784fa1,#774fa1,#774fa1,#784fa1,#794fa1,#7b4fa1,#7d4fa1,#7f4fa1,#7d4fa1,#7b4fa1,#784fa1,#774fa1,#764fa1,#754fa1,#754fa1,#754fa1,#754fa1,#754fa1)"></i><i style="height:4px;background:linear-gradient(90deg,#7a4fa1,#7b4fa1,#7b4fa1,#7a4fa1,#794fa1,#784fa1,#784fa1,#784fa1,#774fa1,#774fa1,#764fa1,#774fa1,#794fa1,#7a4fa1,#794fa1,#794fa1,#784fa1,#794fa1,#7a4fa1,#7c4fa1,#7e4fa1,#804fa1,#7f4fa1,#7c4fa1,#7a4fa1,#784fa1,#784fa1,#774fa1,#774fa1,#774fa1,#774fa1,#774fa1)"></i><i style="height:4px;background:linear-gradient(90deg,#7c4fa1,#7c4fa1,#7c4fa1,#7c4fa1,#7a4fa1,#794fa1,#794fa1,#794fa1,#794fa1,#784fa1,#774fa1,#794fa1,#7a4fa1,#7b4fa1,#7a4fa1,#7a4fa1,#7a4fa1,#7b4fa1,#7c4fa1,#7e4fa1,#7f4fa1,#814fa1,#804fa1,#7e4fa1,#7b4fa1,#7a4fa1,#794fa1,#794fa1,#784fa1,#784fa1,#784fa1,#794fa1)"></i><i style="height:4px;background:linear-gradient(90deg,#7d4fa1,#7d4fa1,#7e4fa1,#7d4fa1,#7c4fa1,#7b4fa1,#7b4fa1,#7a4fa1,#7a4fa1,#794fa1,#794fa1,#7a4fa1,#7b4fa1,#7c4fa1,#7b4fa1,#7b4fa1,#7b4fa1,#7c4fa1,#7d4fa1,#7f4fa1,#814fa1,#834fa1,#814fa1,#7f4fa1,#7c4fa1,#7b4fa1,#7a4fa1,#7a4fa1,#7a4fa1,#7a4fa1,#7a4fa1,#7a4fa1)"></i><i style="height:4px;background:linear-gradient(90deg,#7f4fa1,#7f4fa1,#7f4fa1,#7f4fa1,#7d4fa1,#7c4fa1,#7c4fa1,#7c4fa1,#7c4fa1,#7b4fa1,#7a4fa1,#7b4fa1,#7c4fa1,#7d4fa1,#7c4fa1,#7c4fa1,#7c4fa1,#7d4fa1,#7f4fa1,#814fa1,#824fa1,#844fa0,#834fa1,#804fa1,#7e4fa1,#7c4fa1,#7c4fa1,#7b4fa1,#7b4fa1,#7b4fa1,#7b4fa1,#7c4fa1)"></i><i style="height:4px;background:linear-gradient(90deg,#804fa1,#804fa1,#804fa1,#804fa1,#7f4fa1,#7e4fa1,#7d4fa1,#7d4fa1,#7d4fa1,#7c4fa1,#7b4fa1,#7c4fa1,#7d4fa1,#7e4fa1,#7d4fa1,#7d4fa1,#7e4fa1,#7f4fa1,#804fa1,#824fa1,#844fa0,#854fa0,#844fa0,#824fa1,#7f4fa1,#7e4fa1,#7d4fa1,#7d4fa1,#7d4fa1,#7d4fa1,#7d4fa1,#7d4fa1)"></i><i style="height:4px;background:linear-gradient(90deg,#814fa1,#824fa1,#824fa1,#824fa1,#804fa1,#7f4fa1,#7f4fa1,#7f4fa1,#7e4fa1,#7d4fa1,#7d4fa1,#7d4fa1,#7e4fa1,#7f4fa1,#7e4fa1,#7e4fa1,#7f4fa1,#804fa1,#824fa1,#844fa0,#854fa0,#874fa0,#854fa0,#834fa1,#804fa1,#7f4fa1,#7e4fa1,#7e4fa1,#7e4fa1,#7e4fa1,#7e4fa1,#7f4fa1)"></i><i style="height:4px;background:linear-gradient(90deg,#834fa1,#834fa1,#834fa0,#834fa0,#824fa1,#814fa1,#804fa1,#804fa1,#804fa1,#7f4fa1,#7e4fa1,#7e4fa1,#7f4fa1,#804fa1,#7f4fa1,#804fa1,#804fa1,#824fa1,#834fa0,#854fa0,#874fa0,#884fa0,#874fa0,#844fa0,#824fa1,#804fa1,#804fa1,#804fa1,#804fa1,#804fa1,#804fa1,#814fa1)"></i><i style="height:4px;background:linear-gradient(90deg,#844fa0,#844fa0,#854fa0,#844fa0,#834fa0,#824fa1,#824fa1,#824fa1,#814fa1,#804fa1,#7f4fa1,#7f4fa1,#804fa1,#814fa1,#804fa1,#814fa1,#824fa1,#834fa0,#854fa0,#874fa0,#884fa0,#894fa0,#884fa0,#854fa0,#834fa1,#824fa1,#814fa1,#814fa1,#814fa1,#814fa1,#824fa1,#824fa1)"></i><i style="height:4px;background:linear-gradient(90deg,#864fa0,#864fa0,#864fa0,#864fa0,#854fa0,#834fa0,#834fa0,#834fa0,#834fa1,#824fa1,#814fa1,#804fa1,#814fa1,#824fa1,#824fa1,#824fa1,#834fa1,#854fa0,#874fa0,#884fa0,#8a4fa0,#8b4fa0,#894fa0,#874fa0,#844fa0,#834fa0,#824fa1,#834fa1,#834fa1,#834fa1,#834fa0,#844fa0)"></i><i style="height:4px;background:linear-gradient(90deg,#874fa0,#874fa0,#884fa0,#874fa0,#864fa0,#854fa0,#854fa0,#854fa0,#844fa0,#834fa1,#824fa1,#814fa1,#824fa1,#834fa0,#834fa1,#834fa0,#844fa0,#864fa0,#884fa0,#8a4fa0,#8b4fa0,#8c4fa0,#8b4fa0,#884fa0,#864fa0,#844fa0,#844fa0,#844fa0,#844fa0,#844fa0,#854fa0,#864fa0)"></i><i style="height:4px;background:linear-gradient(90deg,#884fa0,#894fa0,#894fa0,#894fa0,#884fa0,#864fa0,#864fa0,#864fa0,#864fa0,#844fa0,#834fa0,#824fa1,#834fa0,#844fa0,#844fa0,#844fa0,#864fa0,#874fa0,#8a4fa0,#8b4fa0,#8c4fa0,#8d4fa0,#8c4fa0,#894fa0,#874fa0,#864fa0,#854fa0,#854fa0,#864fa0,#864fa0,#864fa0,#874fa0)"></i><i style="height:4px;background:linear-gradient(90deg,#8a4fa0,#8a4fa0,#8a4fa0,#8a4fa0,#894fa0,#884fa0,#884fa0,#884fa0,#874fa0,#864fa0,#854fa0,#834fa0,#854fa0,#854fa0,#854fa0,#854fa0,#874fa0,#894fa0,#8b4fa0,#8d4fa0,#8e4fa0,#8e4fa0,#8d4fa0,#8b4fa0,#884fa0,#874fa0,#874fa0,#874fa0,#874fa0,#874fa0,#884fa0,#894fa0)"></i><i style="height:4px;background:linear-gradient(90deg,#8b4fa0,#8b4fa0,#8c4fa0,#8c4fa0,#8b4fa0,#894fa0,#894fa0,#894fa0,#894fa0,#874fa0,#864fa0,#854fa0,#864fa0,#864fa0,#864fa0,#864fa0,#884fa0,#8a4fa0,#8d4fa0,#8e4fa0,#8f4fa0,#8f4fa0,#8e4fa0,#8c4fa0,#8a4fa0,#884fa0,#884fa0,#884fa0,#894fa0,#894fa0,#894fa0,#8b4fa0)"></i><i style="height:4px;background:linear-gradient(90deg,#8c4fa0,#8d4fa0,#8d4fa0,#8d4fa0,#8c4fa0,#8b4fa0,#8b4fa0,#8b4fa0,#8a4fa0,#884fa0,#874fa0,#864fa0,#874fa0,#874fa0,#874fa0,#884fa0,#8a4fa0,#8c4fa0,#8e4fa0,#8f4fa0,#904fa0,#914fa0,#8f4fa0,#8d4fa0,#8b4fa0,#8a4fa0,#894fa0,#8a4fa0,#8a4fa0,#8a4fa0,#8b4fa0,#8c4fa0)"></i><i style="height:4px;background:linear-gradient(90deg,#8d4fa0,#8e4fa0,#8e4fa0,#8e4fa0,#8d4fa0,#8c4fa0,#8c4fa0,#8c4fa0,#8b4fa0,#8a4fa0,#894fa0,#874fa0,#884fa0,#884fa0,#884fa0,#894fa0,#8b4fa0,#8d4fa0,#8f4fa0,#904fa0,#914fa0,#924fa0,#904fa0,#8e4fa0,#8c4fa0,#8b4fa0,#8b4fa0,#8b4fa0,#8c4fa0,#8c4fa0,#8c4fa0,#8e4fa0)"></i><i style="height:4px;background:linear-gradient(90deg,#8f4fa0,#8f4fa0,#8f4fa0,#8f4fa0,#8e4fa0,#8d4fa0,#8d4fa0,#8d4fa0,#8d4fa0,#8b4fa0,#8a4fa0,#884fa0,#894fa0,#894fa0,#894fa0,#8a4fa0,#8c4fa0,#8e4fa0,#904fa0,#924fa0,#924fa0,#934fa0,#914fa0,#8f4fa0,#8d4fa0,#8c4fa0,#8c4fa0,#8d4fa0,#8d4fa0,#8d4fa0,#8e4fa0,#8f4fa0)"></i><i style="height:4px;background:linear-gradient(90deg,#904fa0,#904fa0,#914fa0,#914fa0,#904fa0,#8f4fa0,#8f4fa0,#8f4fa0,#8e4fa0,#8c4fa0,#8b4fa0,#894fa0,#8a4fa0,#8a4fa0,#8a4fa0,#8b4fa0,#8d4fa0,#8f4fa0,#924fa0,#934fa0,#934fa0,#944fa0,#934fa0,#904fa0,#8e4fa0,#8e4fa0,#8d4fa0,#8e4fa0,#8e4fa0,#8f4fa0,#8f4fa0,#914fa0)"></i><i style="height:4px;background:linear-gradient(90deg,#914fa0,#914fa0,#924fa0,#924fa0,#914fa0,#904fa0,#904fa0,#904fa0,#8f4fa0,#8e4fa0,#8c4fa0,#8a4fa0,#8b4fa0,#8b4fa0,#8b4fa0,#8c4fa0,#8f4fa0,#904fa0,#934fa0,#944fa0,#954fa0,#954fa0,#944fa0,#914fa0,#904fa0,#8f4fa0,#8e4fa0,#8f4fa0,#8f4fa0,#904fa0,#904fa0,#924fa0)"></i><i style="height:4px;background:linear-gradient(90deg,#924fa0,#924fa0,#934fa0,#934fa0,#924fa0,#914fa0,#914fa0,#914fa0,#904fa0,#8f4fa0,#8e4fa0,#8b4fa0,#8c4fa0,#8c4fa0,#8c4fa0,#8d4fa0,#904fa0,#924fa0,#944fa0,#954fa0,#964fa0,#964fa0,#954fa0,#924fa0,#914fa0,#904fa0,#8f4fa0,#904fa0,#914fa0,#914fa0,#924fa0,#934fa0)"></i><i style="height:4px;background:linear-gradient(90deg,#934fa0,#944fa0,#944fa0,#944fa0,#934fa0,#924fa0,#924fa0,#924fa0,#924fa0,#904fa0,#8f4fa0,#8c4fa0,#8d4fa0,#8d4fa0,#8d4fa0,#8e4fa0,#914fa0,#934fa0,#964fa0,#974fa0,#974fa0,#974fa0,#964fa0,#934fa0,#924fa0,#914fa0,#914fa0,#914fa0,#924fa0,#924fa0,#934fa0,#954fa0)"></i><i style="height:4px;background:linear-gradient(90deg,#944fa0,#954fa0,#954fa0,#954fa0,#944fa0,#934fa0,#934fa0,#934fa0,#934fa0,#914fa0,#904fa0,#8d4fa0,#8e4fa0,#8e4fa0,#8e4fa0,#8f4fa0,#924fa0,#944fa0,#974fa0,#984fa0,#984fa0,#984fa0,#974fa0,#944fa0,#934fa0,#924fa0,#924fa0,#924fa0,#934fa0,#944fa0,#944fa0,#964fa0)"></i><i style="height:4px;background:linear-gradient(90deg,#954fa0,#964fa0,#964fa0,#974fa0,#964fa0,#954fa0,#954fa0,#954fa0,#944fa0,#924fa0,#914fa0,#8e4fa0,#8f4fa0,#8f4fa0,#8f4fa0,#904fa0,#934fa0,#954fa0,#984fa0,#994fa0,#994fa0,#994fa0,#984fa0,#954fa0,#944fa0,#934fa0,#934fa0,#944fa0,#944fa0,#954fa0,#964fa0,#984fa0)"></i><i style="height:4px;background:linear-gradient(90deg,#974fa0,#974fa0,#984fa0,#984fa0,#974fa0,#964fa0,#964fa0,#964fa0,#954fa0,#934fa0,#924fa0,#8f4fa0,#8f4fa0,#904fa0,#904fa0,#914fa0,#944fa0,#964fa0,#994fa0,#9a4fa0,#9b4fa0,#9b4fa0,#994fa0,#974fa0,#954fa0,#944fa0,#944fa0,#954fa0,#964fa0,#964fa0,#974fa0,#994fa0)"></i><i style="height:4px;background:linear-gradient(90deg,#984fa0,#984fa0,#994fa0,#994fa0,#984fa0,#974fa0,#974fa0,#974fa0,#964fa0,#944fa0,#934fa0,#904fa0,#904fa0,#914fa0,#904fa0,#924fa0,#954fa0,#974fa0,#9b4fa0,#9c4fa0,#9c4fa0,#9c4fa0,#9a4fa0,#984fa0,#964fa0,#954fa0,#954fa0,#964fa0,#974fa0,#974fa0,#984fa0,#9a4fa0)"></i><i style="height:4px;background:linear-gradient(90deg,#994fa0,#994fa0,#9a4fa0,#9a4fa0,#994fa0,#984fa0,#984fa0,#984fa0,#984fa0,#964fa0,#944fa0,#914fa0,#914fa0,#924fa0,#914fa0,#934fa0,#964fa0,#994fa0,#9d4fa0,#9e4fa0,#9e4fa0,#9e4fa0,#9c4fa0,#994fa0,#974fa0,#974fa0,#964fa0,#974fa0,#984fa0,#994fa0,#994fa0,#9c4fa0)"></i><i style="height:4px;background:linear-gradient(90deg,#9a4fa0,#9b4fa0,#9c4fa0,#9c4fa0,#9b4fa0,#9a4fa0,#994fa0,#994fa0,#994fa0,#974fa0,#954fa0,#924fa0,#924fa0,#924fa0,#924fa0,#944fa0,#974fa0,#9a4fa0,#9e4fa0,#9f4fa0,#a04fa0,#9f4fa0,#9d4fa0,#9a4fa0,#984fa0,#984fa0,#974fa0,#984fa0,#994fa0,#9a4fa0,#9b4fa0,#9e4fa0)"></i><i style="height:4px;background:linear-gradient(90deg,#9c4fa0,#9c4fa0,#9d4fa0,#9e4fa0,#9c4fa0,#9b4fa0,#9b4fa0,#9b4fa0,#9a4fa0,#984fa0,#964fa0,#934fa0,#934fa0,#934fa0,#934fa0,#954fa0,#984fa0,#9b4fa0,#a04fa0,#a14fa0,#a14fa0,#a14fa0,#9f4fa0,#9b4fa0,#994fa0,#994fa0,#994fa0,#9a4fa0,#9b4fa0,#9c4fa0,#9d4fa0,#a04fa0)"></i><i style="height:4px;background:linear-gradient(90deg,#9d4fa0,#9e4fa0,#9f4fa0,#9f4fa0,#9e4fa0,#9d4fa0,#9d4fa0,#9d4fa0,#9b4fa0,#994fa0,#974fa0,#934fa0,#944fa0,#944fa0,#944fa0,#964fa0,#9a4fa0,#9d4fa0,#a24ea0,#a34ea0,#a34ea0,#a24ea0,#a04fa0,#9c4fa0,#9b4fa0,#9a4fa0,#9a4fa0,#9b4fa0,#9c4fa0,#9d4fa0,#9e4fa0,#a24ea0)"></i><i style="height:4px;background:linear-gradient(90deg,#9f4fa0,#9f4fa0,#a04fa0,#a14fa0,#a04fa0,#9e4fa0,#9e4fa0,#9e4fa0,#9d4fa0,#9a4fa0,#984fa0,#944fa0,#954fa0,#954fa0,#954fa0,#974fa0,#9b4fa0,#9e4fa0,#a34ea0,#a44ea0,#a44ea0,#a44ea0,#a24ea0,#9e4fa0,#9c4fa0,#9b4fa0,#9b4fa0,#9d4fa0,#9e4fa0,#9f4fa0,#a04fa0,#a44ea0)"></i><i style="height:4px;background:linear-gradient(90deg,#a04fa0,#a14fa0,#a24ea0,#a24ea0,#a14fa0,#a04fa0,#a04fa0,#a04fa0,#9f4fa0,#9c4fa0,#9a4fa0,#954fa0,#964fa0,#964fa0,#964fa0,#984fa0,#9c4fa0,#a04fa0,#a54ea0,#a54ea0,#a54ea0,#a54ea0,#a34ea0,#9f4fa0,#9e4fa0,#9d4fa0,#9d4fa0,#9e4fa0,#a04fa0,#a14fa0,#a24ea0,#a54ea0)"></i><i style="height:4px;background:linear-gradient(90deg,#a24ea0,#a34ea0,#a34ea0,#a44ea0,#a34ea0,#a14fa0,#a14fa0,#a14fa0,#a04fa0,#9d4fa0,#9b4fa0,#964fa0,#974fa0,#974fa0,#974fa0,#994fa0,#9e4fa0,#a14fa0,#a64ea0,#a64ea0,#a64ea0,#a64ea0,#a44ea0,#a14fa0,#9f4fa0,#9e4fa0,#9e4fa0,#a04fa0,#a14fa0,#a24ea0,#a44ea0,#a64ea0)"></i><i style="height:4px;background:linear-gradient(90deg,#a34ea0,#a44ea0,#a54ea0,#a54ea0,#a44ea0,#a34ea0,#a34ea0,#a34ea0,#a24ea0,#9f4fa0,#9c4fa0,#974fa0,#974fa0,#984fa0,#974fa0,#9a4fa0,#9f4fa0,#a34ea0,#a74ea0,#a74ea0,#a74ea0,#a74ea0,#a64ea0,#a24ea0,#a14fa0,#a04fa0,#a04fa0,#a14fa0,#a34ea0,#a44ea0,#a54ea0,#a74ea0)"></i><i style="height:4px;background:linear-gradient(90deg,#a54ea0,#a54ea0,#a64ea0,#a74ea0,#a64ea0,#a54ea0,#a54ea0,#a54ea0,#a34ea0,#a04fa0,#9e4fa0,#984fa0,#984fa0,#984fa0,#984fa0,#9b4fa0,#a14fa0,#a54ea0,#a84ea0,#a84ea0,#a84ea0,#a84ea0,#a74ea0,#a44ea0,#a24ea0,#a14fa0,#a14fa0,#a34ea0,#a44ea0,#a54ea0,#a64ea0,#a84ea0)"></i><i style="height:4px;background:linear-gradient(90deg,#a64ea0,#a74ea0,#a74ea0,#a84ea0,#a74ea0,#a64ea0,#a64ea0,#a64ea0,#a54ea0,#a24ea0,#9f4fa0,#994fa0,#994fa0,#994fa0,#994fa0,#9c4fa0,#a24ea0,#a64ea0,#a94ea0,#aa4ea0,#aa4ea0,#a94ea0,#a84ea0,#a54ea0,#a34ea0,#a34ea0,#a34ea0,#a54ea0,#a64ea0,#a74ea0,#a84ea0,#a94ea0)"></i><i style="height:4px;background:linear-gradient(90deg,#a84ea0,#a84ea0,#a94ea0,#a94ea0,#a84ea0,#a84ea0,#a84ea0,#a84ea0,#a74ea0,#a34ea0,#a14fa0,#9a4fa0,#9a4fa0,#9a4fa0,#9a4fa0,#9d4fa0,#a44ea0,#a84ea0,#ac4ea0,#ac4fa0,#ac4fa0,#ac4ea0,#a94ea0,#a74ea0,#a54ea0,#a54ea0,#a44ea0,#a64ea0,#a74ea0,#a84ea0,#a94ea0,#ac4ea0)"></i><i style="height:4px;background:linear-gradient(90deg,#a94ea0,#aa4ea0,#ab4ea0,#ac4fa0,#ab4ea0,#a94ea0,#a94ea0,#a94ea0,#a84ea0,#a54ea0,#a24ea0,#9b4fa0,#9b4fa0,#9b4fa0,#9b4fa0,#9f4fa0,#a64ea0,#a94ea0,#ae4fa0,#af4fa0,#af4fa0,#ae4fa0,#ac4fa0,#a84ea0,#a74ea0,#a64ea0,#a64ea0,#a84ea0,#a94ea0,#aa4ea0,#ac4ea0,#ae4fa0)"></i><i style="height:4px;background:linear-gradient(90deg,#ad4fa0,#ae4fa0,#af4fa0,#af4f9f,#ae4fa0,#ad4fa0,#ad4fa0,#ad4fa0,#ab4ea0,#a74ea0,#a44ea0,#9c4fa0,#9c4fa0,#9d4fa0,#9c4fa0,#a04fa0,#a84ea0,#ad4fa0,#b14f9f,#b14f9f,#b14f9f,#b14f9f,#af4f9f,#ab4ea0,#a94ea0,#a84ea0,#a84ea0,#ab4ea0,#ad4fa0,#ae4fa0,#af4fa0,#b14f9f)"></i><i style="height:4px;background:linear-gradient(90deg,#b04f9f,#b14f9f,#b24f9f,#b2509f,#b14f9f,#b04f9f,#b04f9f,#b04f9f,#af4f9f,#aa4ea0,#a64ea0,#9d4fa0,#9e4fa0,#9e4fa0,#9e4fa0,#a14fa0,#ac4ea0,#b04f9f,#b3509f,#b4509f,#b4509f,#b3509f,#b2509f,#af4f9f,#ad4fa0,#ad4fa0,#ac4fa0,#af4fa0,#b04f9f,#b14f9f,#b24f9f,#b4509f)"></i><i style="height:4px;background:linear-gradient(90deg,#b4509f,#b5509f,#b5509f,#b5509f,#b5509f,#b4509f,#b4509f,#b4509f,#b3509f,#b04f9f,#ab4ea0,#9f4fa0,#9f4fa0,#9f4fa0,#9f4fa0,#a34ea0,#b14f9f,#b4509f,#b5509f,#b5509f,#b5509f,#b5509f,#b5509f,#b3509f,#b2509f,#b24f9f,#b14f9f,#b3509f,#b4509f,#b5509f,#b5509f,#b5509f)"></i><i style="height:4px;background:linear-gradient(90deg,#b5509f,#b5509f,#b5509f,#b5509f,#b5509f,#b5509f,#b5509f,#b5509f,#b5509f,#b5509f,#b3509f,#a04fa0,#a04fa0,#a04fa0,#a04fa0,#a74ea0,#b5509f,#b5509f,#b5509f,#b5509f,#b5509f,#b5509f,#b5509f,#b5509f,#b5509f,#b5509f,#b5509f,#b5509f,#b5509f,#b5509f,#b5509f,#b5509f)"></i><i style="height:4px;background:linear-gradient(90deg,#b5509f,#b5509f,#b5509f,#b5509f,#b5509f,#b5509f,#b5509f,#b5509f,#b5509f,#b5509f,#b5509f,#a14fa0,#a14fa0,#a14fa0,#a14fa0,#ae4fa0,#b5509f,#b5509f,#b5509f,#b5509f,#b5509f,#b5509f,#b5509f,#b5509f,#b5509f,#b5509f,#b5509f,#b5509f,#b5509f,#b5509f,#b5509f,#b5509f)"></i></div></div>
<div class="hm" style="left:1187px;top:593px;width:611.5px;height:481.5px"><div style="filter:blur(0.6px);"><i style="height:3px;background:linear-gradient(90deg,#5cc3dc,#2fb5e9,#3c97d2,#3d7bc1,#3c63b0,#3a57a7,#3c53a4,#3954a5,#3b5dac,#3c6cb6,#3c83c6,#3c9bd5,#33b0e5,#30baeb,#30baeb,#30baeb,#30baeb,#30baeb,#30baeb,#31baeb,#31baeb,#31baeb,#31baeb,#31baeb,#31baeb,#31baeb,#33baea,#38bbe8,#3ebce6,#45bee4,#4dc0e1,#55c1de,#4cbfe2,#2eb9ec,#38a8df,#3b92cf,#3d7dc2,#3c65b2,#3b5cab,#3c65b1,#3d75bc,#3b85c7,#3b92cf,#3da0d8,#37a9df,#3c9bd5,#3b85c7,#3d70b9,#3b5eac,#3954a5,#4252a5,#4252a5,#3954a5,#3b60ae,#3d79bf,#3b94d1,#32b1e6,#4cbfe2,#56c1de,#62c4da,#67c4cd,#6ac5c3,#6ec5ba,#71c5b1,#72c5af,#72c5af,#71c5b2,#6ec5b9,#69c5c7,#63c4d7,#4dc0e1,#2db9ec,#3aa5dc,#3b89c9,#3c6db7,#3a5aa9,#3b53a4)"></i><i style="height:3px;background:linear-gradient(90deg,#77c6a6,#60c4db,#2fb6ea,#3b94d0,#3d73bb,#3b5dac,#3954a5,#3a58a8,#3c64b1,#3c7ec2,#3c9bd5,#2eb8eb,#5fc3db,#6bc5c2,#6bc5c2,#6bc5c2,#6bc5c2,#6bc5c1,#6cc5bf,#6cc5bd,#6cc5bd,#6cc5bd,#6cc5bd,#6cc5bd,#6cc5bd,#6cc5bd,#6fc5b6,#73c5ad,#78c6a4,#7cc69d,#7ec698,#7ec697,#76c6a8,#67c4cc,#4bbfe2,#2fb6e9,#3ca1d9,#3b88c9,#3d79bf,#3a8fcd,#39a7dd,#30baeb,#52c1e0,#68c4c9,#76c5a8,#61c4da,#34aee3,#3b84c6,#3c63b0,#3955a5,#4052a5,#4152a5,#3955a6,#3c65b1,#3a8ccb,#30baeb,#6fc5b6,#90c96f,#83c789,#78c6a4,#6fc5b6,#6dc5bc,#6ec5b9,#71c5b1,#72c5af,#72c5af,#72c5b0,#72c5b0,#71c5b2,#70c5b4,#68c4c9,#43bde5,#37aae0,#3b8aca,#3c6cb6,#3a5aa9,#3a53a4)"></i><i style="height:3px;background:linear-gradient(90deg,#8ac877,#76c6a8,#5dc3dc,#30b4e8,#3b91ce,#3c6eb7,#3a59a9,#3c64b0,#3b84c6,#38a7de,#43bee4,#6bc5c2,#82c78e,#8cc873,#8cc873,#8dc872,#8fc970,#90c96f,#91c96d,#93ca6c,#93ca6c,#93ca6c,#93ca6c,#93ca6c,#93ca6c,#93ca6c,#96cb68,#99cb65,#99cb65,#98cb66,#97cb68,#95ca69,#8bc877,#7cc69b,#6cc5be,#5ac2dd,#37bbe8,#36abe1,#3d9dd6,#2fb6e9,#52c1df,#6cc5bf,#7fc695,#90c96f,#a6cf57,#92ca6d,#76c6a7,#4ec0e1,#3ca2da,#3d72bb,#3a56a7,#3a56a6,#3d78be,#34aee3,#67c4cc,#8ac879,#b0d249,#cbdb2d,#b5d341,#a3ce5a,#90c96f,#83c78b,#7ac6a1,#75c5aa,#74c5ad,#71c5b2,#6fc5b6,#6ec5ba,#6cc5bd,#6bc5c0,#64c4d5,#38bbe8,#38a8de,#3b91cf,#3c82c5,#3d78bf,#3c70b9)"></i><i style="height:3px;background:linear-gradient(90deg,#8dc872,#7dc69b,#69c5c7,#44bee4,#38a7de,#3c83c6,#3c63b0,#3d79bf,#3d9ed7,#38bbe8,#67c4cc,#7fc696,#96cb68,#a7cf56,#a9d053,#aad051,#acd04f,#add14d,#aed14b,#afd14a,#afd14a,#afd14a,#afd14a,#afd14a,#afd14a,#afd14a,#afd14b,#aed14b,#aed14c,#add14c,#add14d,#acd14e,#a1cd5d,#8bc876,#7ec698,#6fc5b7,#63c4d8,#43bee4,#2db9ec,#57c2de,#6cc5bd,#7ec698,#8cc874,#a2ce5c,#b6d43f,#aad051,#94ca6a,#82c78d,#6dc5ba,#4cbfe2,#39a7dd,#3aa5dc,#4ec0e1,#6ec5ba,#7ec696,#87c780,#8fc970,#96cb68,#89c87a,#82c78c,#7fc695,#7fc695,#80c693,#81c691,#7ec697,#7ac69f,#76c6a8,#72c5b1,#6dc5bb,#68c4c9,#5fc3db,#4dc0e1,#3ebde6,#31baeb,#31b3e7,#39a7de,#3c98d3)"></i><i style="height:3px;background:linear-gradient(90deg,#8dc872,#7dc69b,#6ac5c5,#4cbfe2,#32b2e6,#3b95d1,#3d75bd,#3a8bcb,#34aee3,#4cc0e1,#6cc5be,#82c78e,#99cb65,#aad052,#acd14e,#afd14a,#b1d246,#b3d344,#b5d342,#b6d340,#b6d340,#b6d340,#b5d341,#b5d341,#b4d342,#b4d343,#b4d343,#b3d343,#b3d344,#b3d344,#b3d344,#b3d344,#a8cf55,#8dc872,#7cc69c,#6ac5c4,#51c1e0,#2fb9eb,#34aee4,#4bbfe2,#6bc5c0,#80c693,#94ca6b,#acd14e,#c5d931,#b7d43e,#a3ce5b,#8ec871,#80c692,#71c5b2,#65c4d1,#62c4da,#69c5c7,#6fc5b5,#77c6a7,#7bc69e,#7cc69c,#7bc69d,#7fc695,#82c78d,#85c785,#87c77f,#89c87a,#8bc876,#88c77e,#82c78d,#7ac69f,#70c5b5,#67c4cd,#56c1de,#41bde5,#2db9ec,#36abe1,#3c99d3,#3c82c5,#3c6bb6,#3b5fad)"></i><i style="height:3px;background:linear-gradient(90deg,#8dc872,#7dc69b,#6ac5c5,#4cbfe1,#30b4e8,#3aa4db,#3c9ad4,#37a9df,#34baea,#5bc2dc,#6fc5b7,#84c789,#9ccc62,#acd04f,#afd14a,#b1d247,#b3d344,#b5d341,#b4d343,#b2d245,#b7d43f,#b9d43c,#b9d43b,#b9d43b,#b9d43b,#b9d43b,#b8d43c,#b8d43c,#b8d43c,#b8d43c,#b8d43c,#b8d43c,#add14d,#93ca6c,#7fc695,#6ac5c5,#43bee4,#39a7dd,#3a8aca,#37aae0,#43bee4,#69c5c6,#81c78f,#a4ce5a,#d7df25,#d5de26,#bed636,#aed14c,#9dcc61,#8cc873,#80c691,#79c6a1,#7bc69e,#7ac6a0,#78c6a5,#74c5ab,#71c5b1,#6fc5b6,#74c5ab,#7ac6a0,#80c692,#86c782,#8fc970,#9ccc61,#87c780,#70c5b5,#58c2dd,#32baea,#36abe1,#3c9bd5,#3b87c8,#3d72ba,#3b61ae,#3a59a9,#3955a5,#3a53a4,#3b53a4)"></i><i style="height:3px;background:linear-gradient(90deg,#8dc872,#7dc699,#6ec5b9,#67c4cc,#64c4d4,#62c4da,#5cc3dc,#68c4ca,#73c5ae,#7fc695,#89c87a,#98cb66,#a8cf55,#a4ce5a,#8fc96f,#81c78e,#78c6a4,#6ec5b8,#67c4cc,#63c4d8,#6bc5c0,#76c5a9,#81c790,#8bc874,#9fcd5f,#b3d344,#b7d43d,#b7d43d,#b7d43d,#b7d43d,#b8d43c,#bbd538,#aed14b,#8ac879,#6ec5b8,#45bee4,#3ba3da,#3d7bc1,#3b62af,#3c82c5,#35ade2,#64c4d6,#86c781,#b6d43f,#eee91c,#ede91d,#dde223,#c8da2f,#b0d248,#9acc64,#85c786,#78c6a3,#71c5b1,#6cc5be,#69c5c8,#66c4cf,#64c4d4,#64c4d4,#6fc5b5,#7ec698,#89c87a,#97cb67,#a7cf56,#b5d341,#9ccc61,#7dc69a,#61c4da,#32b1e5,#3b87c9,#3c63b0,#3a57a7,#3955a6,#3954a5,#3953a4,#3a53a4,#3b53a4,#3c53a4)"></i><i style="height:3px;background:linear-gradient(90deg,#99cb65,#9acc64,#9acc64,#98cb67,#95ca6a,#92ca6d,#8fc96f,#90c96f,#94ca6a,#9bcc63,#a3ce5a,#aed14b,#b9d53a,#acd04f,#86c783,#69c5c7,#34baea,#3c9bd5,#3d7cc1,#3c6db7,#3c82c5,#3d9fd8,#36bbe9,#67c4cc,#80c691,#9ecd60,#a5cf58,#a6cf57,#aad052,#b0d248,#b8d43c,#c4d831,#b4d343,#8cc874,#6ec5b8,#44bee4,#3ba3da,#3d7dc2,#3c66b2,#3c9ad4,#4abfe2,#7ac6a0,#9fcd5f,#d1dd28,#f7eb16,#f2eb1b,#dee222,#c2d733,#aad052,#92ca6d,#80c692,#72c5b0,#6bc5c0,#65c4d3,#56c2de,#43bee4,#2eb9ec,#31b2e7,#49bfe3,#68c4cb,#79c6a2,#89c87b,#9ecd5f,#b2d246,#9ecd60,#81c790,#66c4cf,#2eb9ec,#3b92cf,#3c68b4,#3a59a9,#3a57a7,#3955a6,#3954a5,#3a53a4,#3b53a4,#3c53a4)"></i><i style="height:3px;background:linear-gradient(90deg,#b3d344,#bdd636,#ccdb2c,#d8e025,#dee222,#e1e321,#e1e321,#e1e321,#e1e321,#e1e321,#e1e321,#e1e421,#e3e421,#dee222,#c6d930,#abd050,#8fc970,#78c6a5,#61c4da,#36bbe9,#54c1df,#6ac5c4,#7bc69e,#8bc875,#a6cf57,#c4d831,#d4de26,#dbe123,#e3e421,#e5e520,#e5e520,#e1e321,#c9da2e,#a5cf58,#87c780,#6fc5b6,#50c0e0,#34aee3,#3b96d2,#2eb7ea,#5dc3dc,#76c5a9,#8cc874,#acd14e,#d3de26,#c8da2f,#b1d247,#9ecd5f,#8cc874,#80c692,#72c5af,#65c4d1,#44bee4,#32b1e5,#3c9cd5,#3b86c8,#3d73bb,#3c66b2,#3c7dc2,#3b95d1,#35ace2,#38bbe8,#5ac2dd,#6bc5c0,#62c4d9,#3ebde6,#33afe4,#3ca2d9,#3b95d1,#3a8dcc,#3b88c9,#3c7ec2,#3d76bd,#3c6eb7,#3c67b2,#3c64b1,#3c63b0)"></i><i style="height:3px;background:linear-gradient(90deg,#d3de27,#dde223,#e7e61f,#f1ea1b,#f9eb11,#fee802,#fedf00,#feda00,#fdd600,#fdd300,#fdd100,#fdce02,#fdcc04,#fcc707,#fcbf0d,#fbb713,#fbb017,#faab18,#faa919,#faab18,#f9a21a,#f89b1c,#f7961d,#f7921d,#f7901d,#f7901d,#f8981c,#f9a619,#fbb613,#fdca05,#fedc00,#fce907,#ede81d,#ccdb2b,#a9d053,#8ac878,#74c5ad,#59c2dd,#2db9ec,#52c1e0,#6ac5c5,#79c6a2,#88c77e,#9bcc63,#afd14b,#a7cf56,#96cb68,#88c77d,#7dc699,#70c5b4,#66c4d0,#4abfe2,#32b2e6,#3c98d3,#3c7ec2,#3c65b1,#3a5aa9,#3954a5,#3955a6,#3a58a8,#3b5fad,#3c69b4,#3c7ec3,#3b93d0,#2fb6ea,#5dc3dc,#73c5af,#82c78d,#8cc874,#95ca69,#96ca69,#93ca6c,#8ec970,#8bc876,#88c77e,#84c788,#80c693)"></i><i style="height:3px;background:linear-gradient(90deg,#e9e71e,#f5ec1a,#fbea0a,#ffe300,#fed800,#fdcb04,#fcbd0e,#fbb713,#fbb216,#fbae18,#faaa18,#f9a619,#f9a21a,#f7951d,#f5851f,#f37222,#f05c27,#ee4128,#ec2627,#ec2027,#ec2627,#ee3827,#ef4728,#f05628,#f16027,#f26925,#f47c20,#f68c1e,#f89d1b,#fbae18,#fcc20b,#fdd500,#fee803,#e8e71f,#c3d832,#9fcd5e,#81c790,#66c4ce,#3bbce7,#53c1df,#66c4d0,#70c5b5,#7dc699,#89c87b,#99cb65,#91c96e,#85c786,#79c6a1,#6dc5bc,#63c4d9,#47bee3,#2fb6e9,#3ba3da,#3a8bcb,#3d77be,#3c64b0,#3a59a9,#3954a4,#3955a5,#3a56a6,#3a57a7,#3a58a8,#3a5aa9,#3b5dac,#3c82c5,#2eb7eb,#6cc5be,#90c96f,#c2d833,#f5ec1a,#ffe400,#ffe801,#fce907,#faea0e,#f6ec17,#efea1c,#e6e61f)"></i><i style="height:3px;background:linear-gradient(90deg,#e5e520,#f7eb16,#ffe700,#fed900,#fdca05,#fcbb10,#faad18,#faa719,#f9a21a,#f89d1b,#f8991c,#f7951d,#f7911d,#f6891e,#f47c20,#f26924,#f05628,#ee3d28,#ec2627,#ec2027,#ee3727,#ef5328,#f26825,#f47d20,#f68c1e,#f89a1c,#f9a41a,#faac18,#fbb315,#fcbe0e,#fdca05,#fdd400,#ffe600,#eee91d,#c8da2f,#a1cd5d,#81c78f,#66c4ce,#3bbce7,#52c1df,#65c4d2,#6cc5c0,#72c5b1,#76c5a8,#78c6a4,#6ec5b8,#64c4d4,#4bbfe2,#2eb9ec,#37a9df,#3b95d1,#3b84c6,#3d77be,#3c68b4,#3b61af,#3b5eac,#3a5aa9,#3a59a9,#3a59a9,#3a58a8,#3a58a8,#3a58a8,#3a58a8,#3a58a8,#3d75bd,#31b2e7,#6fc5b7,#a0cd5e,#dee222,#fede00,#fcc20b,#fcc906,#fdd200,#fedc00,#ffe600,#fbea0b,#f6ec18)"></i><i style="height:3px;background:linear-gradient(90deg,#d5de26,#e9e71e,#faea0e,#fede00,#fdcc04,#fcbb10,#faad18,#faa619,#f9a11a,#f89c1b,#f7971c,#f7921d,#f68f1e,#f68a1e,#f5821f,#f47d20,#f37721,#f37322,#f36f23,#f37222,#f68a1e,#f9a41a,#fcc608,#ffe801,#e4e520,#b6d43f,#b4d342,#b6d43f,#b7d43e,#b5d340,#b2d245,#afd14a,#a2ce5b,#8cc873,#7ec699,#6ec5ba,#64c4d4,#4bbfe2,#3bbce7,#41bde5,#42bde5,#42bde5,#42bde5,#42bde5,#3dbce7,#30b5e9,#39a6dc,#3b93d0,#3c82c5,#3d72ba,#3c63b0,#3c64b0,#3d70b9,#3d7dc2,#3c83c6,#3b89c9,#3b91ce,#3c99d3,#3b95d1,#3b91cf,#3a8dcc,#3b8aca,#3b86c8,#3c82c5,#3da0d8,#3fbde6,#6ec5ba,#8dc871,#c0d734,#f7eb15,#fedb00,#fee000,#ffe600,#fde905,#faea0e,#f6ec18,#efe91c)"></i><i style="height:3px;background:linear-gradient(90deg,#bdd636,#d9e024,#efe91c,#fce907,#fed800,#fcc20b,#fbaf17,#faaa18,#faa819,#faa719,#faa619,#faa619,#faa619,#faa719,#faa819,#faaa18,#faad18,#fbb216,#fcb911,#fdca05,#f8eb11,#ccdb2c,#9acc64,#76c6a7,#4cc0e1,#3ba3db,#3d9fd8,#3aa4db,#37a9df,#32b1e6,#2fb9eb,#3ebde6,#43bde5,#3ebde6,#3ebde6,#3fbde6,#40bde5,#42bde5,#44bee4,#44bee4,#43bee4,#41bde5,#3abce7,#2eb9ec,#31b2e7,#3aa5dc,#3b92cf,#3c82c5,#3d72ba,#3c64b1,#3b5dac,#3b62af,#3b88c9,#33b0e5,#57c2de,#6ec5b8,#7ac69f,#7fc696,#7ac6a1,#72c5af,#6bc5c0,#66c4d0,#5bc2dc,#46bee4,#4abfe2,#62c4da,#6dc5bc,#7dc69a,#8cc873,#a5ce58,#b6d340,#bad539,#bcd637,#bed636,#bad539,#b7d43e,#b2d246)"></i><i style="height:3px;background:linear-gradient(90deg,#acd14e,#c3d832,#dee222,#f3eb1b,#fee802,#fdd700,#fcc30a,#fcc00c,#fcc20b,#fcc40a,#fcc707,#fdcb04,#fdd100,#fedb00,#ffe600,#faea0e,#f3eb1b,#e7e61f,#dce123,#c8da2e,#9ccc62,#7bc69e,#5bc3dc,#34aee3,#3b85c7,#3c63b0,#3c64b0,#3d71ba,#3c80c4,#3a8fcd,#3ca1d9,#33afe4,#2db9ec,#34baea,#3cbce7,#43bde5,#48bfe3,#4cbfe1,#4ec0e1,#4bbfe2,#41bde5,#34bbea,#2fb6e9,#34aee3,#39a6dd,#3c97d2,#3b87c8,#3d79bf,#3c6ab5,#3b61ae,#3a5aa9,#3b5fad,#3c81c5,#36abe1,#56c1de,#78c6a5,#95ca69,#b5d341,#aed14b,#a4ce59,#99cb65,#8cc874,#83c78b,#77c6a5,#6fc5b5,#6ac5c3,#64c4d3,#5ac2dd,#4cbfe1,#42bde5,#44bee4,#50c0e0,#5ec3dc,#66c4ce,#6dc5ba,#76c6a8,#7ec698)"></i><i style="height:3px;background:linear-gradient(90deg,#9acc64,#add14d,#c3d832,#dce123,#efe91c,#fbe90a,#fedd00,#fedd00,#fee100,#ffe800,#fce909,#f8eb12,#f4ec1a,#ebe81e,#dee222,#d1dd28,#bfd635,#b2d246,#a5cf58,#94ca6b,#79c6a1,#61c4da,#2eb7ea,#3b96d1,#3d73bb,#3a5baa,#3b5eac,#3c67b2,#3d78bf,#3b87c8,#3c98d3,#37a9df,#31b3e7,#2eb7eb,#33baea,#3cbce7,#45bee4,#4fc0e1,#55c1de,#48bfe3,#3abce8,#2db9ec,#32b1e6,#37aae0,#3ba3db,#3b96d1,#3b87c8,#3d7ac0,#3c6bb5,#3b62af,#3b5eac,#3c64b1,#3b87c8,#35ade2,#54c1df,#74c5ac,#8ec971,#abd050,#a5ce58,#9dcc61,#95ca69,#8dc872,#87c780,#81c78f,#77c6a6,#6cc5bf,#62c4d9,#49bfe3,#2eb9ec,#36abe0,#3ba3db,#38a8df,#34aee3,#31b3e7,#2db9ec,#3abce8,#47bee3)"></i><i style="height:3px;background:linear-gradient(90deg,#83c78a,#8bc877,#99cb65,#acd04f,#c0d734,#d9e024,#ece81d,#ebe81e,#e6e520,#e0e322,#dbe124,#d5df25,#d0dc29,#c1d733,#b0d248,#a0cd5d,#90c96f,#84c787,#7ac6a1,#6cc5bd,#50c0e0,#31b3e7,#3b96d2,#3d7ac0,#3b61ae,#3955a5,#3a5baa,#3c66b2,#3d7bc1,#3a8ccb,#3ca1d9,#31b2e7,#33baea,#37bbe9,#3dbce7,#43bee4,#4bbfe2,#54c1df,#5bc3dc,#4ec0e1,#41bde5,#35bbe9,#2eb7ea,#32b0e5,#37aae0,#3d9fd7,#3a90ce,#3b86c8,#3c80c4,#3d7ac0,#3d74bc,#3c81c4,#3aa5dc,#3ebde6,#65c4d1,#74c5ac,#81c78f,#8ac877,#88c77e,#85c785,#82c78d,#7ec696,#7ac6a0,#75c5aa,#6ac5c3,#5ac2dd,#3bbce7,#34afe4,#3c9bd5,#3b85c7,#3d7bc1,#3c80c4,#3b85c7,#3b89ca,#3a8dcc,#3a90ce,#3b93d0)"></i><i style="height:3px;background:linear-gradient(90deg,#6ec5b9,#77c6a7,#80c693,#88c77f,#93ca6b,#a4ce59,#b7d43e,#b6d340,#b1d247,#add14d,#abd051,#a9d053,#a8cf55,#9ecd60,#8bc876,#7fc696,#6fc5b6,#63c4d8,#42bde5,#32b1e6,#3c9bd5,#3c81c4,#3c66b2,#3a59a9,#3b53a4,#4452a5,#3b53a4,#3b5eac,#3d79c0,#3c97d3,#33afe4,#3cbce7,#4ec0e1,#52c1e0,#55c1de,#58c2dd,#58c2dd,#59c2dd,#54c1df,#43bee4,#35bbe9,#2eb7ea,#32b0e5,#37aae0,#3ba4db,#3c9cd6,#3b95d1,#3a8ecd,#3b8aca,#3b88c9,#3a8aca,#3c97d2,#39a6dd,#31b3e7,#3dbce7,#58c2dd,#68c4c9,#71c5b2,#6ec5b9,#6bc5c1,#69c5c7,#67c4cd,#64c4d3,#62c4d9,#48bfe3,#30b4e8,#3ca1d9,#3a8aca,#3d77be,#3c65b1,#3b60ae,#3b61ae,#3b61ae,#3b61af,#3b62af,#3c63b0,#3c63b0)"></i><i style="height:3px;background:linear-gradient(90deg,#53c1df,#63c4d6,#6ac5c3,#72c5b0,#7cc69d,#83c78a,#8bc876,#8bc876,#8ac879,#89c87b,#88c77d,#87c780,#86c782,#7ec696,#6cc5bd,#57c2de,#2fb9eb,#3ba4db,#3b89ca,#3d72bb,#3b62af,#3a58a8,#3a53a4,#4152a5,#4a51a4,#5451a4,#4a51a4,#3d53a4,#3a5baa,#3d76bd,#3c9ad4,#2fb9eb,#49bfe3,#48bfe3,#44bee4,#40bde6,#3bbce7,#35bbe9,#2db9ec,#35ace2,#3da0d8,#3a90ce,#3b84c6,#3d7bc0,#3d72ba,#3c6db7,#3c6fb9,#3d78bf,#3b85c7,#3b95d1,#39a7de,#32b1e6,#30b5e9,#2db9ec,#36bbe9,#44bee4,#58c2dd,#66c4cf,#62c4d9,#58c2dd,#4cbfe1,#40bde5,#34baea,#30b5e9,#36abe1,#3da0d8,#3b91cf,#3b84c7,#3d79bf,#3c69b4,#3c63b0,#3b62af,#3b60ae,#3b5dac,#3a5aa9,#3a57a7,#3955a5)"></i><i style="height:3px;background:linear-gradient(90deg,#3aa5dc,#31b2e7,#38bbe8,#4dc0e1,#5fc3db,#68c4cb,#6ec5b9,#6ec5b9,#6dc5bd,#6bc5c0,#6ac5c3,#69c5c6,#68c4c8,#5ec3db,#34baea,#39a6dd,#3a8bcb,#3d75bc,#3b62af,#3a58a8,#3a53a4,#4152a5,#4952a5,#5151a4,#5950a3,#634fa2,#5b50a3,#5051a4,#4452a5,#3954a5,#3b62af,#3c81c5,#3b94d0,#3b93d0,#3b92cf,#3b91cf,#3a90ce,#3a8fcd,#3a8dcc,#3b88c9,#3c81c4,#3d77be,#3c69b4,#3b60ae,#3a59a9,#3b5eac,#3c67b3,#3d78bf,#3b85c7,#3b90ce,#3c9ad4,#3d9fd7,#3ba3da,#39a7dd,#36abe1,#31b3e7,#36bbe9,#4cbfe1,#31baeb,#35ace2,#3d9fd7,#3a8fce,#3b84c7,#3d7ac0,#3d72ba,#3c6bb5,#3c66b2,#3c66b2,#3c6bb5,#3d72ba,#3d76bd,#3c6db7,#3c65b1,#3b60ae,#3a58a8,#3953a4,#3c53a4)"></i><i style="height:3px;background:linear-gradient(90deg,#3c64b1,#3d74bc,#3b84c6,#3b96d2,#38a7de,#30b5e9,#3cbce7,#3ebde6,#3bbce7,#38bbe8,#34baea,#30baeb,#2db9ec,#34afe4,#3c9cd5,#3b86c8,#3d73bb,#3b62af,#3a58a8,#3a53a4,#4152a5,#4852a5,#5151a4,#5950a3,#644fa2,#6f4fa2,#684fa2,#5d50a3,#5451a4,#4b51a4,#4152a5,#3955a6,#3b5cab,#3b5cab,#3b5cab,#3b5cab,#3b5cab,#3a5baa,#3a5baa,#3a59a9,#3a58a8,#3a57a7,#3a56a6,#3954a5,#3a53a4,#3954a5,#3a56a6,#3a57a7,#3a58a8,#3a5aaa,#3b5cab,#3b5eac,#3c63b0,#3c6eb7,#3c80c4,#3b93d0,#38a8de,#2fb6ea,#39a6dd,#3b91cf,#3c7fc3,#3c6cb6,#3b60ad,#3a58a8,#3a59a9,#3b60ae,#3c69b4,#3d78bf,#3b86c8,#3b94d0,#3c98d3,#3b86c8,#3c6db7,#3a5aa9,#3a53a4,#3c53a4,#3c53a4)"></i><i style="height:3px;background:linear-gradient(90deg,#4052a5,#3b53a4,#3a56a7,#3b5dac,#3c66b2,#3d79bf,#3b89ca,#3a8ecc,#3a90ce,#3b91ce,#3a90ce,#3a8ecd,#3a8ccb,#3c83c6,#3d72ba,#3c63b0,#3b5cab,#3a57a7,#3954a4,#3c53a4,#4552a5,#4f51a4,#5850a3,#644fa2,#6f4fa2,#7b4fa1,#744fa1,#694fa2,#5d50a3,#5550a3,#4d51a4,#4552a5,#4252a5,#4252a5,#4252a5,#4252a5,#4252a5,#4252a5,#4252a5,#4452a5,#4552a5,#4752a5,#4852a5,#4952a5,#4a51a4,#4951a4,#4852a5,#4752a5,#4652a5,#4352a5,#3f52a5,#3c53a4,#3a53a4,#3a56a6,#3b5dac,#3c68b4,#3d7dc2,#3a8ccc,#3b85c7,#3d7cc1,#3c6eb8,#3b62af,#3a5aa9,#3954a5,#3a57a7,#3b5eac,#3c67b3,#3d77be,#3c82c5,#3a8ccc,#3b84c6,#3c63b0,#3a56a7,#3a53a4,#3c53a4,#3c53a4,#3c53a4)"></i><i style="height:3px;background:linear-gradient(90deg,#5650a3,#5051a4,#4a51a4,#4352a5,#3e53a4,#3954a5,#3a59a9,#3a5baa,#3b5dab,#3b5eac,#3b60ae,#3b61af,#3c63b0,#3c63b0,#3b61ae,#3b5dac,#3a59a9,#3a57a7,#3955a5,#3a53a4,#4352a5,#4e51a4,#5950a3,#674fa2,#744fa1,#824fa1,#7d4fa1,#754fa1,#6c4fa2,#634fa2,#5b50a3,#5451a4,#5051a4,#5051a4,#5051a4,#5051a4,#5051a4,#5051a4,#5051a4,#5251a4,#5550a3,#5750a3,#5950a3,#5b50a3,#5c50a3,#5b50a3,#5850a3,#5351a4,#4e51a4,#4852a5,#4252a5,#3f52a5,#3e52a5,#3d53a4,#3c53a4,#3a53a4,#3955a6,#3a5aaa,#3a57a7,#3955a6,#3953a4,#3c53a4,#3f52a5,#4252a5,#4052a5,#3c53a4,#3953a4,#3a56a6,#3a59a9,#3b5ead,#3b5dac,#3955a6,#3b53a4,#3c53a4,#3c53a4,#3c53a4,#3d53a4)"></i><i style="height:3px;background:linear-gradient(90deg,#6250a3,#5b50a3,#5550a3,#5051a4,#4b51a4,#4652a5,#4452a5,#4252a5,#3f52a5,#3d53a4,#3b53a4,#3953a4,#3954a5,#3a56a6,#3a57a7,#3a58a8,#3a59a9,#3a58a8,#3a56a7,#3953a4,#4252a5,#4c51a4,#5650a3,#6150a3,#6e4fa2,#7a4fa1,#774fa1,#704fa2,#6a4fa2,#634fa2,#5e50a3,#5c50a3,#5e50a3,#6150a3,#6250a3,#6250a3,#6250a3,#6250a3,#6150a3,#5f50a3,#5e50a3,#6050a3,#634fa2,#664fa2,#694fa2,#634fa2,#5c50a3,#5650a3,#5051a4,#4a51a4,#4552a5,#4252a5,#4252a5,#4252a5,#4252a5,#4152a5,#4252a5,#4252a5,#4a51a4,#5051a4,#5750a3,#5d50a3,#654fa2,#6b4fa2,#674fa2,#5f50a3,#5650a3,#4d51a4,#4352a5,#3a53a4,#3955a5,#3b53a4,#3c53a4,#3c53a4,#3c53a4,#3d53a4,#3d53a4)"></i><i style="height:3px;background:linear-gradient(90deg,#6e4fa2,#674fa2,#6050a3,#5b50a3,#5950a3,#5850a3,#5750a3,#5451a4,#5151a4,#4e51a4,#4b51a4,#4852a5,#4452a5,#4152a5,#4052a5,#3e52a5,#3d53a4,#3b53a4,#3a53a4,#3c53a4,#4152a5,#4752a5,#5051a4,#5950a3,#654fa2,#714fa2,#6e4fa2,#684fa2,#644fa2,#634fa2,#654fa2,#674fa2,#6a4fa2,#6f4fa2,#744fa1,#784fa1,#794fa1,#7a4fa1,#794fa1,#754fa1,#704fa2,#6c4fa2,#694fa2,#684fa2,#694fa2,#644fa2,#5f50a3,#5a50a3,#5850a3,#5650a3,#5650a3,#5451a4,#5351a4,#5251a4,#5151a4,#5051a4,#5051a4,#5151a4,#5850a3,#6250a3,#6c4fa2,#754fa1,#7f4fa1,#894fa0,#7f4fa1,#704fa2,#6250a3,#5550a3,#4a51a4,#4052a5,#3b53a4,#3c53a4,#3c53a4,#3c53a4,#3d53a4,#3d53a4,#3d53a4)"></i><i style="height:3px;background:linear-gradient(90deg,#794fa1,#764fa1,#744fa1,#724fa1,#714fa2,#6f4fa2,#6d4fa2,#6a4fa2,#664fa2,#6150a3,#5b50a3,#5750a3,#5451a4,#5151a4,#4f51a4,#4e51a4,#4e51a4,#5051a4,#5151a4,#5351a4,#5550a3,#5750a3,#5a50a3,#5e50a3,#634fa2,#6a4fa2,#6a4fa2,#6b4fa2,#6d4fa2,#6e4fa2,#704fa2,#724fa1,#764fa1,#7b4fa1,#804fa1,#864fa0,#8b4fa0,#8f4fa0,#904fa0,#884fa0,#7f4fa1,#754fa1,#6d4fa2,#634fa2,#5950a3,#5b50a3,#6050a3,#644fa2,#684fa2,#6c4fa2,#6e4fa2,#6f4fa2,#6d4fa2,#694fa2,#664fa2,#624fa2,#5e50a3,#5b50a3,#634fa2,#6c4fa2,#744fa1,#7d4fa1,#864fa0,#8e4fa0,#834fa0,#724fa1,#6250a3,#5351a4,#4952a5,#4152a5,#3d53a4,#3c53a4,#3d53a4,#3d53a4,#3d53a4,#3d53a4,#3d53a4)"></i><i style="height:3px;background:linear-gradient(90deg,#7f4fa1,#7e4fa1,#7c4fa1,#7b4fa1,#794fa1,#774fa1,#764fa1,#714fa2,#6c4fa2,#684fa2,#664fa2,#634fa2,#5f50a3,#5e50a3,#6050a3,#6250a3,#644fa2,#674fa2,#694fa2,#6c4fa2,#6d4fa2,#6c4fa2,#6c4fa2,#6b4fa2,#6a4fa2,#6a4fa2,#6c4fa2,#6f4fa2,#724fa2,#754fa1,#784fa1,#7a4fa1,#7d4fa1,#814fa1,#854fa0,#894fa0,#8c4fa0,#904fa0,#904fa0,#824fa1,#734fa1,#654fa2,#5850a3,#4f51a4,#4652a5,#4552a5,#4952a5,#4e51a4,#5351a4,#5850a3,#5e50a3,#644fa2,#684fa2,#6b4fa2,#6c4fa2,#6a4fa2,#664fa2,#644fa2,#6b4fa2,#734fa1,#794fa1,#7e4fa1,#824fa1,#854fa0,#774fa1,#664fa2,#5950a3,#5151a4,#4b51a4,#4452a5,#4052a5,#3e53a4,#3d53a4,#3d53a4,#3d53a4,#3d53a4,#3e53a4)"></i><i style="height:3px;background:linear-gradient(90deg,#804fa1,#804fa1,#7f4fa1,#7e4fa1,#7c4fa1,#7a4fa1,#794fa1,#734fa1,#6d4fa2,#674fa2,#634fa2,#6050a3,#5d50a3,#5d50a3,#5f50a3,#6150a3,#654fa2,#694fa2,#6e4fa2,#724fa1,#714fa2,#6f4fa2,#6e4fa2,#6c4fa2,#6b4fa2,#6b4fa2,#6c4fa2,#6e4fa2,#704fa2,#724fa1,#744fa1,#774fa1,#794fa1,#7c4fa1,#804fa1,#834fa1,#864fa0,#8a4fa0,#8b4fa0,#7c4fa1,#6e4fa2,#6150a3,#5650a3,#4e51a4,#4552a5,#4252a5,#4152a5,#4252a5,#4552a5,#4952a5,#4d51a4,#5151a4,#5451a4,#5750a3,#5b50a3,#6050a3,#644fa2,#664fa2,#694fa2,#6c4fa2,#6e4fa2,#704fa2,#734fa1,#764fa1,#6d4fa2,#634fa2,#5b50a3,#5451a4,#4e51a4,#4852a5,#4352a5,#4152a5,#3e52a5,#3d53a4,#3d53a4,#3e53a4,#3e53a4)"></i><i style="height:3px;background:linear-gradient(90deg,#824fa1,#824fa1,#824fa1,#814fa1,#7f4fa1,#7e4fa1,#7c4fa1,#764fa1,#704fa2,#6a4fa2,#644fa2,#5e50a3,#5a50a3,#5950a3,#5d50a3,#6250a3,#674fa2,#6c4fa2,#724fa2,#764fa1,#754fa1,#754fa1,#764fa1,#774fa1,#7a4fa1,#7c4fa1,#744fa1,#6d4fa2,#6c4fa2,#6e4fa2,#704fa2,#724fa1,#754fa1,#784fa1,#7b4fa1,#7e4fa1,#814fa1,#824fa1,#804fa1,#794fa1,#6e4fa2,#624fa2,#5850a3,#4f51a4,#4652a5,#4352a5,#4152a5,#4052a5,#3f52a5,#4052a5,#4352a5,#4752a5,#4a51a4,#4d51a4,#5151a4,#5451a4,#5650a3,#5950a3,#5b50a3,#5d50a3,#6050a3,#634fa2,#684fa2,#704fa2,#6d4fa2,#654fa2,#5e50a3,#5750a3,#5151a4,#4b51a4,#4652a5,#4352a5,#4152a5,#3f52a5,#3e53a4,#3e53a4,#3e52a5)"></i><i style="height:3px;background:linear-gradient(90deg,#844fa0,#844fa0,#844fa0,#844fa0,#834fa1,#814fa1,#7f4fa1,#794fa1,#734fa1,#6d4fa2,#674fa2,#6050a3,#5650a3,#5351a4,#5750a3,#5b50a3,#6050a3,#674fa2,#6f4fa2,#784fa1,#7f4fa1,#844fa0,#8a4fa0,#8e4fa0,#914fa0,#944fa0,#8c4fa0,#814fa1,#754fa1,#6e4fa2,#6c4fa2,#6e4fa2,#704fa2,#734fa1,#754fa1,#734fa1,#6e4fa2,#674fa2,#6150a3,#674fa2,#6a4fa2,#644fa2,#5950a3,#5051a4,#4852a5,#4452a5,#4352a5,#4152a5,#4052a5,#3e53a4,#3d53a4,#3f52a5,#4152a5,#4352a5,#4652a5,#4952a5,#4c51a4,#4e51a4,#5051a4,#5351a4,#5750a3,#5e50a3,#664fa2,#6f4fa2,#6c4fa2,#644fa2,#5d50a3,#5750a3,#5251a4,#4e51a4,#4c51a4,#4852a5,#4552a5,#4252a5,#4052a5,#3e52a5,#3e52a5)"></i><i style="height:3px;background:linear-gradient(90deg,#854fa0,#854fa0,#854fa0,#854fa0,#854fa0,#844fa0,#824fa1,#7c4fa1,#764fa1,#6f4fa2,#654fa2,#5750a3,#4b51a4,#4752a5,#4b51a4,#5151a4,#5850a3,#6250a3,#6d4fa2,#774fa1,#7e4fa1,#854fa0,#8c4fa0,#914fa0,#924fa0,#8f4fa0,#8a4fa0,#844fa0,#7d4fa1,#764fa1,#6f4fa2,#694fa2,#694fa2,#654fa2,#5d50a3,#5750a3,#5151a4,#4c51a4,#4952a5,#4c51a4,#5151a4,#5550a3,#5750a3,#5251a4,#4951a4,#4652a5,#4452a5,#4252a5,#4152a5,#3f52a5,#3d53a4,#3d53a4,#3e53a4,#3f52a5,#4052a5,#4152a5,#4252a5,#4552a5,#4951a4,#4f51a4,#5650a3,#5d50a3,#654fa2,#6e4fa2,#6b4fa2,#634fa2,#5c50a3,#5850a3,#5750a3,#5750a3,#5650a3,#5151a4,#4d51a4,#4952a5,#4552a5,#4152a5,#4052a5)"></i><i style="height:3px;background:linear-gradient(90deg,#874fa0,#874fa0,#874fa0,#874fa0,#874fa0,#874fa0,#864fa0,#7f4fa1,#754fa1,#664fa2,#5850a3,#4d51a4,#4352a5,#4152a5,#4852a5,#4f51a4,#5750a3,#6050a3,#6b4fa2,#754fa1,#7b4fa1,#7f4fa1,#7d4fa1,#774fa1,#714fa2,#6b4fa2,#664fa2,#6250a3,#5f50a3,#5d50a3,#5c50a3,#5c50a3,#5950a3,#5351a4,#4d51a4,#4852a5,#4552a5,#4452a5,#4452a5,#4b51a4,#5051a4,#5251a4,#5251a4,#5151a4,#4d51a4,#4852a5,#4552a5,#4352a5,#4252a5,#4052a5,#3e52a5,#3e53a4,#3f52a5,#3f52a5,#4052a5,#4152a5,#4252a5,#4452a5,#4a51a4,#4f51a4,#5550a3,#5c50a3,#644fa2,#6d4fa2,#6a4fa2,#654fa2,#644fa2,#634fa2,#634fa2,#634fa2,#6150a3,#5c50a3,#5850a3,#5550a3,#5351a4,#5151a4,#5051a4)"></i><i style="height:3px;background:linear-gradient(90deg,#894fa0,#894fa0,#894fa0,#894fa0,#894fa0,#894fa0,#894fa0,#804fa1,#744fa1,#684fa2,#5d50a3,#5451a4,#4b51a4,#4a51a4,#5051a4,#5750a3,#5e50a3,#664fa2,#6c4fa2,#714fa2,#6c4fa2,#664fa2,#6050a3,#5a50a3,#5550a3,#5151a4,#4f51a4,#4f51a4,#4f51a4,#4f51a4,#4f51a4,#4f51a4,#4d51a4,#4952a5,#4752a5,#4752a5,#4652a5,#4652a5,#4752a5,#4e51a4,#5550a3,#5d50a3,#664fa2,#6d4fa2,#704fa2,#654fa2,#5850a3,#5051a4,#4852a5,#4352a5,#3f52a5,#3f52a5,#4052a5,#4152a5,#4252a5,#4352a5,#4452a5,#4652a5,#4c51a4,#5151a4,#5750a3,#5e50a3,#654fa2,#6d4fa2,#6f4fa2,#704fa2,#704fa2,#704fa2,#704fa2,#704fa2,#6f4fa2,#6f4fa2,#6e4fa2,#6d4fa2,#6c4fa2,#6b4fa2,#694fa2)"></i><i style="height:3px;background:linear-gradient(90deg,#8c4fa0,#8c4fa0,#8c4fa0,#8c4fa0,#8c4fa0,#8d4fa0,#8d4fa0,#864fa0,#7c4fa1,#734fa1,#694fa2,#5f50a3,#5650a3,#5550a3,#5950a3,#5e50a3,#624fa2,#654fa2,#674fa2,#684fa2,#6150a3,#5a50a3,#5550a3,#5051a4,#4c51a4,#4752a5,#4652a5,#4652a5,#4752a5,#4852a5,#4951a4,#4b51a4,#4b51a4,#4a51a4,#4a51a4,#4951a4,#4952a5,#4852a5,#4952a5,#5051a4,#5750a3,#6150a3,#6b4fa2,#754fa1,#814fa1,#794fa1,#6d4fa2,#6150a3,#5750a3,#4e51a4,#4552a5,#4152a5,#4252a5,#4352a5,#4452a5,#4552a5,#4752a5,#4852a5,#4e51a4,#5451a4,#5a50a3,#6150a3,#694fa2,#714fa2,#754fa1,#774fa1,#794fa1,#7a4fa1,#7b4fa1,#7b4fa1,#7b4fa1,#7b4fa1,#7c4fa1,#7c4fa1,#7c4fa1,#7b4fa1,#7b4fa1)"></i><i style="height:3px;background:linear-gradient(90deg,#8f4fa0,#8f4fa0,#8f4fa0,#8f4fa0,#904fa0,#914fa0,#914fa0,#8a4fa0,#814fa1,#774fa1,#6d4fa2,#634fa2,#5950a3,#5650a3,#5750a3,#5850a3,#5a50a3,#5c50a3,#5e50a3,#5f50a3,#5950a3,#5451a4,#4f51a4,#4a51a4,#4652a5,#4252a5,#4452a5,#4752a5,#4a51a4,#4c51a4,#4e51a4,#5051a4,#5151a4,#5051a4,#4f51a4,#4f51a4,#4f51a4,#5151a4,#5351a4,#5850a3,#5f50a3,#674fa2,#714fa2,#7c4fa1,#884fa0,#804fa1,#744fa1,#684fa2,#5c50a3,#5251a4,#4951a4,#4552a5,#4652a5,#4752a5,#4852a5,#4952a5,#4a51a4,#4c51a4,#5151a4,#5750a3,#5e50a3,#664fa2,#6e4fa2,#764fa1,#794fa1,#7c4fa1,#7e4fa1,#814fa1,#834fa1,#844fa0,#844fa0,#854fa0,#854fa0,#844fa0,#834fa1,#824fa1,#814fa1)"></i><i style="height:3px;background:linear-gradient(90deg,#914fa0,#924fa0,#934fa0,#934fa0,#944fa0,#954fa0,#954fa0,#8d4fa0,#824fa1,#764fa1,#6a4fa2,#5f50a3,#5550a3,#5151a4,#5251a4,#5451a4,#5550a3,#5650a3,#5750a3,#5850a3,#5451a4,#5051a4,#4d51a4,#4951a4,#4652a5,#4252a5,#4452a5,#4852a5,#4b51a4,#4f51a4,#5251a4,#5550a3,#5750a3,#5850a3,#5a50a3,#5e50a3,#6250a3,#664fa2,#694fa2,#6f4fa2,#744fa1,#794fa1,#804fa1,#874fa0,#8f4fa0,#884fa0,#7a4fa1,#6e4fa2,#6150a3,#5750a3,#4e51a4,#4952a5,#4a51a4,#4b51a4,#4c51a4,#4d51a4,#4e51a4,#5051a4,#5550a3,#5b50a3,#634fa2,#6b4fa2,#724fa1,#7a4fa1,#7c4fa1,#7c4fa1,#7b4fa1,#7b4fa1,#794fa1,#784fa1,#794fa1,#7c4fa1,#7f4fa1,#814fa1,#834fa0,#854fa0,#854fa0)"></i><i style="height:3px;background:linear-gradient(90deg,#934fa0,#944fa0,#944fa0,#954fa0,#964fa0,#964fa0,#974fa0,#8b4fa0,#7c4fa1,#704fa2,#654fa2,#5950a3,#5151a4,#4d51a4,#4f51a4,#5051a4,#5151a4,#5251a4,#5351a4,#5451a4,#5251a4,#4f51a4,#4c51a4,#4952a5,#4652a5,#4252a5,#4452a5,#4852a5,#4c51a4,#5151a4,#5650a3,#5c50a3,#624fa2,#664fa2,#6a4fa2,#6d4fa2,#714fa2,#744fa1,#764fa1,#7b4fa1,#814fa1,#874fa0,#8d4fa0,#914fa0,#934fa0,#8e4fa0,#834fa0,#764fa1,#6a4fa2,#5e50a3,#5451a4,#4f51a4,#4f51a4,#5051a4,#5151a4,#5251a4,#5351a4,#5451a4,#5a50a3,#6150a3,#694fa2,#704fa2,#784fa1,#804fa1,#7c4fa1,#744fa1,#6f4fa2,#6b4fa2,#684fa2,#664fa2,#664fa2,#694fa2,#6c4fa2,#704fa2,#734fa1,#774fa1,#7a4fa1)"></i><i style="height:3px;background:linear-gradient(90deg,#944fa0,#954fa0,#954fa0,#964fa0,#974fa0,#974fa0,#984fa0,#8b4fa0,#7a4fa1,#6b4fa2,#6050a3,#5650a3,#4d51a4,#4a51a4,#4b51a4,#4c51a4,#4d51a4,#4f51a4,#5051a4,#5251a4,#4f51a4,#4c51a4,#4a51a4,#4752a5,#4452a5,#4352a5,#4752a5,#4e51a4,#5351a4,#5950a3,#6050a3,#684fa2,#6e4fa2,#724fa2,#764fa1,#794fa1,#7b4fa1,#7c4fa1,#7e4fa1,#844fa0,#8a4fa0,#8f4fa0,#934fa0,#944fa0,#944fa0,#8f4fa0,#884fa0,#7f4fa1,#744fa1,#684fa2,#5b50a3,#5650a3,#5750a3,#5750a3,#5750a3,#5850a3,#5850a3,#5950a3,#5f50a3,#664fa2,#6e4fa2,#754fa1,#7d4fa1,#854fa0,#814fa1,#794fa1,#714fa2,#6a4fa2,#634fa2,#5b50a3,#5850a3,#5a50a3,#5d50a3,#6150a3,#654fa2,#684fa2,#6c4fa2)"></i><i style="height:3px;background:linear-gradient(90deg,#954fa0,#964fa0,#964fa0,#974fa0,#974fa0,#984fa0,#994fa0,#8c4fa0,#7a4fa1,#6a4fa2,#5b50a3,#5251a4,#4951a4,#4652a5,#4752a5,#4852a5,#4a51a4,#4c51a4,#4e51a4,#4f51a4,#4c51a4,#4951a4,#4752a5,#4552a5,#4552a5,#4552a5,#4c51a4,#5351a4,#5b50a3,#644fa2,#6d4fa2,#744fa1,#7a4fa1,#7e4fa1,#814fa1,#824fa1,#834fa0,#854fa0,#864fa0,#8c4fa0,#914fa0,#944fa0,#944fa0,#944fa0,#944fa0,#904fa0,#894fa0,#814fa1,#7a4fa1,#714fa2,#654fa2,#5e50a3,#5f50a3,#5f50a3,#6050a3,#6150a3,#6150a3,#634fa2,#684fa2,#6d4fa2,#734fa1,#7a4fa1,#824fa1,#8b4fa0,#864fa0,#7e4fa1,#764fa1,#6d4fa2,#644fa2,#5a50a3,#5650a3,#5650a3,#5650a3,#5750a3,#5850a3,#5a50a3,#5d50a3)"></i><i style="height:3px;background:linear-gradient(90deg,#974fa0,#974fa0,#984fa0,#984fa0,#984fa0,#994fa0,#9a4fa0,#8d4fa0,#7c4fa1,#6b4fa2,#5b50a3,#5051a4,#4652a5,#4252a5,#4352a5,#4552a5,#4752a5,#4952a5,#4b51a4,#4c51a4,#4951a4,#4752a5,#4752a5,#4752a5,#4752a5,#4852a5,#4e51a4,#5650a3,#6050a3,#6b4fa2,#754fa1,#804fa1,#874fa0,#884fa0,#8a4fa0,#8b4fa0,#8c4fa0,#8d4fa0,#8f4fa0,#934fa0,#954fa0,#954fa0,#954fa0,#954fa0,#954fa0,#904fa0,#8a4fa0,#824fa1,#7b4fa1,#744fa1,#6c4fa2,#684fa2,#694fa2,#694fa2,#6a4fa2,#6b4fa2,#6c4fa2,#6d4fa2,#724fa1,#784fa1,#7d4fa1,#834fa0,#894fa0,#8e4fa0,#8a4fa0,#804fa1,#754fa1,#6c4fa2,#6250a3,#5850a3,#5451a4,#5550a3,#5550a3,#5550a3,#5650a3,#5750a3,#5950a3)"></i><i style="height:3px;background:linear-gradient(90deg,#984fa0,#984fa0,#994fa0,#994fa0,#9a4fa0,#9a4fa0,#9a4fa0,#904fa0,#804fa1,#704fa2,#6050a3,#5451a4,#4852a5,#4452a5,#4552a5,#4652a5,#4752a5,#4852a5,#4a51a4,#4a51a4,#4952a5,#4951a4,#4a51a4,#4a51a4,#4a51a4,#4b51a4,#5151a4,#5950a3,#644fa2,#6f4fa2,#794fa1,#864fa0,#8d4fa0,#8e4fa0,#904fa0,#914fa0,#934fa0,#944fa0,#954fa0,#964fa0,#964fa0,#964fa0,#964fa0,#964fa0,#964fa0,#914fa0,#8a4fa0,#834fa1,#7b4fa1,#744fa1,#6d4fa2,#6a4fa2,#6c4fa2,#6f4fa2,#714fa2,#734fa1,#744fa1,#764fa1,#794fa1,#7b4fa1,#7e4fa1,#804fa1,#814fa1,#824fa1,#804fa1,#7a4fa1,#734fa1,#6a4fa2,#6050a3,#5750a3,#5351a4,#5351a4,#5451a4,#5451a4,#5650a3,#5950a3,#5b50a3)"></i><i style="height:3px;background:linear-gradient(90deg,#994fa0,#9a4fa0,#9a4fa0,#9b4fa0,#9a4fa0,#9a4fa0,#994fa0,#964fa0,#904fa0,#874fa0,#784fa1,#6a4fa2,#5b50a3,#5650a3,#5750a3,#5750a3,#5750a3,#5550a3,#5151a4,#4d51a4,#4c51a4,#4d51a4,#4d51a4,#4d51a4,#4d51a4,#4e51a4,#5451a4,#5d50a3,#684fa2,#734fa1,#7e4fa1,#8b4fa0,#914fa0,#924fa0,#944fa0,#954fa0,#964fa0,#964fa0,#954fa0,#944fa0,#944fa0,#944fa0,#944fa0,#944fa0,#944fa0,#904fa0,#8a4fa0,#824fa1,#7a4fa1,#734fa1,#6c4fa2,#694fa2,#6c4fa2,#6e4fa2,#704fa2,#734fa1,#774fa1,#7c4fa1,#754fa1,#704fa2,#6e4fa2,#6e4fa2,#6f4fa2,#704fa2,#6e4fa2,#6a4fa2,#674fa2,#634fa2,#5d50a3,#5550a3,#5151a4,#5251a4,#5451a4,#5650a3,#5950a3,#5c50a3,#5f50a3)"></i><i style="height:3px;background:linear-gradient(90deg,#9a4fa0,#9b4fa0,#9a4fa0,#994fa0,#984fa0,#974fa0,#964fa0,#934fa0,#904fa0,#8d4fa0,#884fa0,#814fa1,#764fa1,#6f4fa2,#6d4fa2,#684fa2,#6150a3,#5a50a3,#5550a3,#5151a4,#5151a4,#5151a4,#5151a4,#5151a4,#5151a4,#5051a4,#5750a3,#6150a3,#6c4fa2,#774fa1,#834fa0,#8f4fa0,#954fa0,#964fa0,#964fa0,#964fa0,#954fa0,#954fa0,#954fa0,#934fa0,#924fa0,#914fa0,#914fa0,#914fa0,#914fa0,#8e4fa0,#884fa0,#814fa1,#794fa1,#724fa1,#6b4fa2,#684fa2,#6b4fa2,#6d4fa2,#704fa2,#744fa1,#7c4fa1,#824fa1,#7a4fa1,#734fa1,#6b4fa2,#654fa2,#6050a3,#5f50a3,#5d50a3,#5a50a3,#5850a3,#5750a3,#5550a3,#5451a4,#5351a4,#5451a4,#5750a3,#5950a3,#5c50a3,#6050a3,#634fa2)"></i><i style="height:3px;background:linear-gradient(90deg,#994fa0,#984fa0,#974fa0,#964fa0,#954fa0,#944fa0,#934fa0,#904fa0,#8d4fa0,#894fa0,#864fa0,#824fa1,#7f4fa1,#7a4fa1,#754fa1,#6e4fa2,#674fa2,#6050a3,#5950a3,#5550a3,#5550a3,#5550a3,#5550a3,#5550a3,#5351a4,#5251a4,#5850a3,#634fa2,#6e4fa2,#7a4fa1,#864fa0,#914fa0,#954fa0,#954fa0,#954fa0,#954fa0,#944fa0,#944fa0,#944fa0,#924fa0,#914fa0,#8f4fa0,#8f4fa0,#8f4fa0,#8f4fa0,#8b4fa0,#854fa0,#7f4fa1,#784fa1,#714fa2,#6a4fa2,#674fa2,#6a4fa2,#6d4fa2,#724fa1,#794fa1,#824fa1,#884fa0,#804fa1,#784fa1,#714fa2,#694fa2,#6150a3,#5950a3,#5b50a3,#5d50a3,#5d50a3,#5d50a3,#5d50a3,#5d50a3,#5c50a3,#5a50a3,#5a50a3,#5c50a3,#6050a3,#634fa2,#664fa2)"></i><i style="height:3px;background:linear-gradient(90deg,#954fa0,#944fa0,#944fa0,#934fa0,#934fa0,#924fa0,#914fa0,#8e4fa0,#8a4fa0,#874fa0,#844fa0,#814fa1,#7f4fa1,#7b4fa1,#764fa1,#714fa2,#6c4fa2,#664fa2,#5f50a3,#5950a3,#5950a3,#5950a3,#5850a3,#5650a3,#5550a3,#5351a4,#5a50a3,#654fa2,#704fa2,#7b4fa1,#864fa0,#8e4fa0,#924fa0,#934fa0,#934fa0,#944fa0,#944fa0,#934fa0,#934fa0,#914fa0,#904fa0,#8e4fa0,#8d4fa0,#8c4fa0,#8c4fa0,#874fa0,#814fa1,#7b4fa1,#764fa1,#704fa2,#6a4fa2,#674fa2,#6a4fa2,#704fa2,#784fa1,#804fa1,#884fa0,#8e4fa0,#864fa0,#7e4fa1,#754fa1,#6c4fa2,#6150a3,#5750a3,#5c50a3,#664fa2,#6c4fa2,#6c4fa2,#6c4fa2,#6c4fa2,#6b4fa2,#694fa2,#664fa2,#644fa2,#644fa2,#674fa2,#6a4fa2)"></i><i style="height:3px;background:linear-gradient(90deg,#904fa0,#904fa0,#904fa0,#8f4fa0,#8f4fa0,#8e4fa0,#8e4fa0,#8c4fa0,#894fa0,#864fa0,#844fa0,#814fa1,#7f4fa1,#7b4fa1,#764fa1,#714fa2,#6d4fa2,#684fa2,#634fa2,#5f50a3,#5d50a3,#5b50a3,#5950a3,#5850a3,#5650a3,#5550a3,#5c50a3,#674fa2,#714fa2,#794fa1,#824fa1,#8b4fa0,#8f4fa0,#8f4fa0,#904fa0,#914fa0,#914fa0,#914fa0,#8f4fa0,#8e4fa0,#8c4fa0,#8b4fa0,#894fa0,#874fa0,#864fa0,#824fa1,#7b4fa1,#764fa1,#714fa2,#6b4fa2,#664fa2,#684fa2,#6e4fa2,#764fa1,#7d4fa1,#864fa0,#8e4fa0,#934fa0,#8b4fa0,#804fa1,#754fa1,#6a4fa2,#5f50a3,#5650a3,#5a50a3,#654fa2,#704fa2,#794fa1,#7b4fa1,#7b4fa1,#7a4fa1,#774fa1,#754fa1,#734fa1,#704fa2,#6e4fa2,#6d4fa2)"></i><i style="height:3px;background:linear-gradient(90deg,#8c4fa0,#8c4fa0,#8b4fa0,#8b4fa0,#8b4fa0,#8a4fa0,#8a4fa0,#894fa0,#874fa0,#854fa0,#834fa0,#814fa1,#7f4fa1,#7b4fa1,#764fa1,#724fa1,#6f4fa2,#6d4fa2,#6b4fa2,#694fa2,#644fa2,#6050a3,#5c50a3,#5a50a3,#5850a3,#5650a3,#5d50a3,#674fa2,#6e4fa2,#764fa1,#7e4fa1,#874fa0,#8c4fa0,#8c4fa0,#8a4fa0,#874fa0,#814fa1,#784fa1,#714fa2,#6f4fa2,#6e4fa2,#6c4fa2,#6c4fa2,#6b4fa2,#6b4fa2,#674fa2,#6250a3,#5d50a3,#5950a3,#5c50a3,#644fa2,#6e4fa2,#754fa1,#7d4fa1,#854fa0,#8d4fa0,#914fa0,#904fa0,#894fa0,#7e4fa1,#734fa1,#694fa2,#5e50a3,#5550a3,#5950a3,#644fa2,#6f4fa2,#7a4fa1,#854fa0,#8b4fa0,#8a4fa0,#874fa0,#834fa1,#7c4fa1,#744fa1,#6d4fa2,#6a4fa2)"></i><i style="height:3px;background:linear-gradient(90deg,#884fa0,#874fa0,#874fa0,#874fa0,#864fa0,#864fa0,#864fa0,#844fa0,#834fa1,#824fa1,#804fa1,#7f4fa1,#7d4fa1,#7c4fa1,#7c4fa1,#7b4fa1,#794fa1,#784fa1,#764fa1,#744fa1,#704fa2,#6b4fa2,#674fa2,#624fa2,#5d50a3,#5950a3,#5a50a3,#5f50a3,#664fa2,#6d4fa2,#754fa1,#7d4fa1,#7e4fa1,#764fa1,#6d4fa2,#644fa2,#5c50a3,#5550a3,#5051a4,#4f51a4,#4e51a4,#4e51a4,#4e51a4,#4f51a4,#4f51a4,#4c51a4,#4b51a4,#4e51a4,#5650a3,#6050a3,#6c4fa2,#754fa1,#7d4fa1,#854fa0,#8c4fa0,#8c4fa0,#884fa0,#844fa0,#7d4fa1,#774fa1,#704fa2,#674fa2,#5c50a3,#5451a4,#5850a3,#624fa2,#6d4fa2,#784fa1,#844fa0,#8e4fa0,#8f4fa0,#854fa0,#7a4fa1,#6f4fa2,#694fa2,#674fa2,#654fa2)"></i><i style="height:3px;background:linear-gradient(90deg,#844fa0,#834fa0,#834fa1,#824fa1,#824fa1,#824fa1,#814fa1,#804fa1,#7f4fa1,#7d4fa1,#7c4fa1,#7a4fa1,#794fa1,#794fa1,#7c4fa1,#7f4fa1,#814fa1,#834fa1,#824fa1,#814fa1,#7b4fa1,#764fa1,#714fa2,#6c4fa2,#664fa2,#6150a3,#5c50a3,#5850a3,#5750a3,#5850a3,#5e50a3,#654fa2,#654fa2,#5b50a3,#5451a4,#4e51a4,#4852a5,#4452a5,#4152a5,#3f52a5,#3e53a4,#3d53a4,#3d53a4,#3c53a4,#3c53a4,#4152a5,#4a51a4,#5351a4,#5c50a3,#674fa2,#734fa1,#7d4fa1,#844fa0,#874fa0,#844fa0,#7f4fa1,#7b4fa1,#774fa1,#714fa2,#6b4fa2,#654fa2,#5f50a3,#5950a3,#5351a4,#5650a3,#5f50a3,#684fa2,#6f4fa2,#774fa1,#7f4fa1,#7f4fa1,#744fa1,#6a4fa2,#654fa2,#634fa2,#6250a3,#6050a3)"></i><i style="height:3px;background:linear-gradient(90deg,#814fa1,#804fa1,#7f4fa1,#7e4fa1,#7e4fa1,#7d4fa1,#7d4fa1,#7c4fa1,#7a4fa1,#794fa1,#774fa1,#764fa1,#744fa1,#754fa1,#774fa1,#7a4fa1,#7e4fa1,#834fa1,#894fa0,#8e4fa0,#874fa0,#814fa1,#7b4fa1,#754fa1,#6e4fa2,#674fa2,#6150a3,#5d50a3,#5950a3,#5550a3,#5251a4,#5251a4,#5251a4,#4d51a4,#4a51a4,#4752a5,#4452a5,#4252a5,#3f52a5,#3d53a4,#3b53a4,#3953a4,#3955a6,#3a56a6,#3a56a7,#3c53a4,#4652a5,#5151a4,#5c50a3,#6a4fa2,#774fa1,#804fa1,#7e4fa1,#7a4fa1,#764fa1,#724fa1,#6f4fa2,#6c4fa2,#664fa2,#6150a3,#5b50a3,#5750a3,#5351a4,#4d51a4,#4f51a4,#5451a4,#5950a3,#6050a3,#674fa2,#6e4fa2,#6e4fa2,#654fa2,#6250a3,#6050a3,#5e50a3,#5c50a3,#5b50a3)"></i><i style="height:3px;background:linear-gradient(90deg,#7e4fa1,#7d4fa1,#7c4fa1,#7b4fa1,#7a4fa1,#794fa1,#794fa1,#784fa1,#764fa1,#754fa1,#734fa1,#724fa2,#704fa2,#714fa2,#774fa1,#7e4fa1,#864fa0,#8d4fa0,#944fa0,#984fa0,#924fa0,#894fa0,#7c4fa1,#6f4fa2,#6150a3,#5451a4,#4f51a4,#4c51a4,#4951a4,#4852a5,#4951a4,#4c51a4,#4d51a4,#4a51a4,#4852a5,#4552a5,#4352a5,#4052a5,#3e53a4,#3c53a4,#3953a4,#3955a5,#3a57a7,#3a5baa,#3c64b0,#3b5dac,#3954a5,#3f52a5,#4a51a4,#5750a3,#694fa2,#724fa1,#6f4fa2,#6b4fa2,#674fa2,#654fa2,#654fa2,#664fa2,#6150a3,#5c50a3,#5850a3,#5251a4,#4b51a4,#4452a5,#4652a5,#4b51a4,#4f51a4,#5451a4,#5950a3,#5f50a3,#6150a3,#5e50a3,#5d50a3,#5b50a3,#5950a3,#5850a3,#5750a3)"></i><i style="height:3px;background:linear-gradient(90deg,#7a4fa1,#7a4fa1,#794fa1,#784fa1,#784fa1,#784fa1,#784fa1,#764fa1,#754fa1,#734fa1,#724fa2,#704fa2,#6f4fa2,#704fa2,#744fa1,#7a4fa1,#824fa1,#8b4fa0,#934fa0,#974fa0,#874fa0,#754fa1,#644fa2,#5650a3,#4a51a4,#4052a5,#3e53a4,#3e52a5,#4152a5,#4352a5,#4652a5,#4951a4,#4a51a4,#4852a5,#4552a5,#4352a5,#4152a5,#3f52a5,#3d53a4,#3a53a4,#3955a6,#3b5cab,#3c6cb6,#3b87c8,#3ba3da,#3b94d0,#3d77be,#3b5cab,#3d53a4,#4a51a4,#5950a3,#624fa2,#5f50a3,#5e50a3,#5e50a3,#6050a3,#6150a3,#624fa2,#5d50a3,#5750a3,#5051a4,#4951a4,#4252a5,#3c53a4,#3e53a4,#4252a5,#4652a5,#4b51a4,#5151a4,#5850a3,#5c50a3,#5a50a3,#5850a3,#5750a3,#5650a3,#5451a4,#5351a4)"></i><i style="height:3px;background:linear-gradient(90deg,#784fa1,#784fa1,#784fa1,#774fa1,#774fa1,#774fa1,#774fa1,#764fa1,#744fa1,#734fa1,#714fa2,#704fa2,#6e4fa2,#6f4fa2,#734fa1,#774fa1,#7c4fa1,#814fa1,#884fa0,#8c4fa0,#7b4fa1,#6c4fa2,#5f50a3,#5550a3,#4e51a4,#4652a5,#4652a5,#4752a5,#4852a5,#4951a4,#4a51a4,#4a51a4,#4951a4,#4752a5,#4452a5,#4252a5,#4052a5,#3e52a5,#3c53a4,#3953a4,#3a57a7,#3b5cab,#3c63b0,#3c6db7,#3d7bc1,#3c6ab5,#3b5cab,#3954a5,#3f52a5,#4852a5,#5151a4,#5550a3,#5650a3,#5750a3,#5850a3,#5950a3,#5a50a3,#5b50a3,#5550a3,#4e51a4,#4752a5,#4052a5,#3b53a4,#3a56a7,#3955a5,#3c53a4,#4152a5,#4752a5,#4e51a4,#5550a3,#5850a3,#5750a3,#5650a3,#5650a3,#5550a3,#5351a4,#5051a4)"></i><i style="height:3px;background:linear-gradient(90deg,#774fa1,#774fa1,#774fa1,#774fa1,#774fa1,#774fa1,#764fa1,#754fa1,#744fa1,#724fa1,#714fa2,#6f4fa2,#6d4fa2,#6f4fa2,#734fa1,#774fa1,#7b4fa1,#7f4fa1,#844fa0,#834fa0,#7d4fa1,#764fa1,#6f4fa2,#674fa2,#5f50a3,#5750a3,#5650a3,#5650a3,#5550a3,#5351a4,#5151a4,#4f51a4,#4d51a4,#4b51a4,#4852a5,#4652a5,#4452a5,#4252a5,#4052a5,#3d53a4,#3b53a4,#3953a4,#3955a6,#3a57a7,#3a59a9,#3a58a8,#3a56a7,#3953a4,#3d53a4,#4252a5,#4752a5,#4b51a4,#4b51a4,#4b51a4,#4c51a4,#4d51a4,#4e51a4,#4e51a4,#4852a5,#4152a5,#3c53a4,#3954a5,#3955a6,#3955a5,#3c53a4,#4352a5,#4a51a4,#5151a4,#5750a3,#6050a3,#664fa2,#674fa2,#674fa2,#634fa2,#5c50a3,#5351a4,#4c51a4)"></i><i style="height:3px;background:linear-gradient(90deg,#764fa1,#764fa1,#764fa1,#764fa1,#764fa1,#764fa1,#764fa1,#754fa1,#734fa1,#714fa2,#704fa2,#6e4fa2,#6d4fa2,#6e4fa2,#724fa1,#764fa1,#7a4fa1,#7e4fa1,#7f4fa1,#7c4fa1,#774fa1,#724fa2,#6d4fa2,#684fa2,#634fa2,#6150a3,#5f50a3,#5d50a3,#5a50a3,#5850a3,#5650a3,#5351a4,#5151a4,#4f51a4,#4d51a4,#4a51a4,#4852a5,#4652a5,#4352a5,#4152a5,#3f52a5,#3d53a4,#3b53a4,#3953a4,#3955a5,#3955a5,#3954a5,#3954a5,#3953a4,#3b53a4,#3e53a4,#4052a5,#4052a5,#4052a5,#4052a5,#4052a5,#4152a5,#4152a5,#3e53a4,#3c53a4,#3e53a4,#4052a5,#4452a5,#4752a5,#4e51a4,#5550a3,#5e50a3,#684fa2,#714fa2,#794fa1,#7e4fa1,#774fa1,#6d4fa2,#624fa2,#5850a3,#5051a4,#4852a5)"></i><i style="height:3px;background:linear-gradient(90deg,#764fa1,#764fa1,#764fa1,#764fa1,#764fa1,#754fa1,#754fa1,#744fa1,#724fa1,#714fa2,#6f4fa2,#6e4fa2,#6c4fa2,#6e4fa2,#724fa2,#764fa1,#794fa1,#794fa1,#774fa1,#754fa1,#704fa2,#6b4fa2,#674fa2,#644fa2,#644fa2,#644fa2,#624fa2,#6050a3,#5e50a3,#5b50a3,#5950a3,#5750a3,#5650a3,#5451a4,#5251a4,#5051a4,#4d51a4,#4b51a4,#4852a5,#4452a5,#4252a5,#4052a5,#3e52a5,#3c53a4,#3b53a4,#3a53a4,#3a53a4,#3a53a4,#3a53a4,#3953a4,#3a53a4,#3c53a4,#3d53a4,#3d53a4,#3d53a4,#3d53a4,#3d53a4,#3e53a4,#4252a5,#4752a5,#4b51a4,#5051a4,#5550a3,#5950a3,#5d50a3,#624fa2,#674fa2,#6a4fa2,#6c4fa2,#6d4fa2,#6e4fa2,#6c4fa2,#664fa2,#5d50a3,#5451a4,#4c51a4,#4552a5)"></i><i style="height:3px;background:linear-gradient(90deg,#754fa1,#754fa1,#754fa1,#754fa1,#754fa1,#754fa1,#754fa1,#734fa1,#724fa2,#704fa2,#6f4fa2,#6d4fa2,#6c4fa2,#6d4fa2,#714fa2,#754fa1,#744fa1,#724fa1,#714fa2,#6e4fa2,#6a4fa2,#674fa2,#674fa2,#674fa2,#674fa2,#674fa2,#654fa2,#634fa2,#6150a3,#5e50a3,#5d50a3,#5b50a3,#5d50a3,#5f50a3,#6050a3,#5e50a3,#5b50a3,#5850a3,#5550a3,#4952a5,#4052a5,#3c53a4,#3a53a4,#3954a4,#3955a6,#3a56a6,#3a56a7,#3a57a7,#3a56a7,#3954a5,#3a53a4,#3c53a4,#3d53a4,#3e52a5,#3f52a5,#3f52a5,#4052a5,#4052a5,#4552a5,#4a51a4,#4f51a4,#5451a4,#5950a3,#5e50a3,#5b50a3,#5750a3,#5451a4,#5251a4,#5251a4,#5351a4,#5351a4,#5351a4,#5251a4,#5151a4,#4f51a4,#4852a5,#4152a5)"></i><i style="height:3px;background:linear-gradient(90deg,#744fa1,#744fa1,#744fa1,#744fa1,#744fa1,#744fa1,#744fa1,#734fa1,#714fa2,#704fa2,#6e4fa2,#6d4fa2,#6b4fa2,#6c4fa2,#704fa2,#6f4fa2,#6d4fa2,#6c4fa2,#694fa2,#674fa2,#694fa2,#6a4fa2,#6a4fa2,#6a4fa2,#6a4fa2,#6a4fa2,#684fa2,#664fa2,#644fa2,#634fa2,#6250a3,#6150a3,#634fa2,#664fa2,#6a4fa2,#6d4fa2,#6f4fa2,#6d4fa2,#684fa2,#5850a3,#4c51a4,#4052a5,#3954a5,#3a59a9,#3b5dab,#3b5eac,#3b5dac,#3a5aa9,#3a57a7,#3954a5,#3a53a4,#3c53a4,#3d53a4,#3e52a5,#3f52a5,#4052a5,#4152a5,#4352a5,#4752a5,#4b51a4,#5051a4,#5451a4,#5950a3,#5e50a3,#5b50a3,#5650a3,#5251a4,#4d51a4,#4952a5,#4552a5,#4352a5,#4252a5,#4252a5,#4152a5,#4152a5,#4052a5,#3f52a5)"></i><i style="height:3px;background:linear-gradient(90deg,#744fa1,#744fa1,#744fa1,#744fa1,#744fa1,#744fa1,#734fa1,#724fa1,#714fa2,#6f4fa2,#6e4fa2,#6c4fa2,#6a4fa2,#6b4fa2,#6a4fa2,#674fa2,#654fa2,#6250a3,#5f50a3,#5d50a3,#6150a3,#644fa2,#684fa2,#6a4fa2,#6c4fa2,#6d4fa2,#6b4fa2,#6a4fa2,#694fa2,#684fa2,#674fa2,#674fa2,#684fa2,#6c4fa2,#6f4fa2,#724fa1,#764fa1,#794fa1,#774fa1,#6250a3,#5151a4,#4452a5,#3a53a4,#3b5eac,#3d72bb,#3c6eb7,#3c63b0,#3b5dac,#3a58a8,#3955a5,#3a53a4,#3c53a4,#3e53a4,#3f52a5,#4152a5,#4452a5,#4752a5,#4951a4,#4a51a4,#4c51a4,#5051a4,#5451a4,#5950a3,#5e50a3,#5b50a3,#5650a3,#5251a4,#4d51a4,#4952a5,#4452a5,#4152a5,#4152a5,#4052a5,#4052a5,#3f52a5,#3f52a5,#3f52a5)"></i><i style="height:3px;background:linear-gradient(90deg,#704fa2,#704fa2,#704fa2,#704fa2,#704fa2,#704fa2,#704fa2,#6c4fa2,#6a4fa2,#684fa2,#674fa2,#654fa2,#644fa2,#6250a3,#5f50a3,#5d50a3,#5a50a3,#5850a3,#5550a3,#5451a4,#5750a3,#5950a3,#5d50a3,#6050a3,#624fa2,#6150a3,#6050a3,#5f50a3,#5e50a3,#5e50a3,#5f50a3,#644fa2,#694fa2,#6c4fa2,#6e4fa2,#714fa2,#734fa1,#764fa1,#744fa1,#5a50a3,#4752a5,#3955a6,#3c6db7,#3b94d0,#2fb6e9,#32b1e6,#3ca1d9,#3a8ccb,#3d7ac0,#3c65b1,#3a5baa,#3954a5,#3e53a4,#4352a5,#4752a5,#4a51a4,#4d51a4,#5051a4,#5151a4,#5251a4,#5351a4,#5550a3,#5950a3,#5e50a3,#5b50a3,#5650a3,#5251a4,#4d51a4,#4852a5,#4352a5,#4152a5,#4052a5,#4052a5,#3f52a5,#3f52a5,#3f52a5,#3f52a5)"></i><i style="height:3px;background:linear-gradient(90deg,#6a4fa2,#6a4fa2,#6a4fa2,#6a4fa2,#6a4fa2,#694fa2,#684fa2,#644fa2,#6050a3,#5c50a3,#5a50a3,#5950a3,#5850a3,#5650a3,#5550a3,#5351a4,#5151a4,#4f51a4,#4d51a4,#4c51a4,#4f51a4,#5151a4,#5151a4,#5051a4,#4e51a4,#4b51a4,#4a51a4,#4a51a4,#4c51a4,#5151a4,#5850a3,#6150a3,#674fa2,#694fa2,#6b4fa2,#6d4fa2,#704fa2,#714fa2,#6d4fa2,#5850a3,#4752a5,#3954a5,#3c69b4,#3b95d1,#35bbe9,#3ebde6,#30baeb,#33b0e5,#3ca2da,#3a8bcb,#3d77be,#3c63b0,#3a58a8,#3a53a4,#4152a5,#4952a5,#5051a4,#5451a4,#5550a3,#5650a3,#5750a3,#5950a3,#5a50a3,#5d50a3,#5b50a3,#5650a3,#5151a4,#4d51a4,#4852a5,#4352a5,#4052a5,#4052a5,#3f52a5,#3f52a5,#3f52a5,#3f52a5,#3f52a5)"></i><i style="height:3px;background:linear-gradient(90deg,#654fa2,#654fa2,#644fa2,#634fa2,#634fa2,#6250a3,#6150a3,#5d50a3,#5950a3,#5650a3,#5251a4,#5051a4,#4e51a4,#4d51a4,#4b51a4,#4951a4,#4852a5,#4652a5,#4552a5,#4452a5,#4152a5,#3f52a5,#3d53a4,#3b53a4,#3953a4,#3955a5,#3b53a4,#4152a5,#4852a5,#4f51a4,#5650a3,#5e50a3,#644fa2,#674fa2,#694fa2,#684fa2,#6150a3,#5451a4,#4852a5,#3e52a5,#3a56a6,#3b62af,#3d77be,#3a8bcb,#3d9fd8,#3da0d8,#3c9dd6,#3c99d4,#3b96d2,#3b93d0,#3a8fcd,#3b84c6,#3d71ba,#3b61ae,#3a57a7,#3b53a4,#4352a5,#4a51a4,#4a51a4,#4951a4,#4951a4,#4a51a4,#4b51a4,#4c51a4,#5451a4,#5650a3,#5151a4,#4c51a4,#4752a5,#4352a5,#4052a5,#4052a5,#3f52a5,#3f52a5,#3f52a5,#3f52a5,#3f52a5)"></i><i style="height:3px;background:linear-gradient(90deg,#5f50a3,#5e50a3,#5d50a3,#5c50a3,#5b50a3,#5b50a3,#5a50a3,#5750a3,#5451a4,#5051a4,#4d51a4,#4a51a4,#4652a5,#4652a5,#4752a5,#4852a5,#4852a5,#4952a5,#4952a5,#4752a5,#3d53a4,#3a57a8,#3c65b1,#3d7ac0,#3a8dcc,#3c9bd5,#3d7cc1,#3b5dac,#3b53a4,#4752a5,#5251a4,#5b50a3,#6150a3,#5c50a3,#5251a4,#4552a5,#3953a4,#3b60ae,#3d7bc1,#3a8ecc,#3d9ed7,#3aa4db,#3ba4db,#3ca2d9,#3d9fd7,#3c9cd6,#3c9bd5,#3c9bd5,#3d9dd6,#3da0d8,#3ca2da,#3c9cd5,#3b89ca,#3d7ac0,#3c68b3,#3b5eac,#3a56a6,#3c53a4,#3b53a4,#3b53a4,#3a53a4,#3953a4,#3954a5,#3954a5,#4052a5,#4b51a4,#5051a4,#4c51a4,#4752a5,#4252a5,#4052a5,#3f52a5,#3f52a5,#3f52a5,#3f52a5,#3f52a5,#3f52a5)"></i><i style="height:3px;background:linear-gradient(90deg,#5950a3,#5850a3,#5850a3,#5750a3,#5650a3,#5650a3,#5650a3,#5351a4,#4f51a4,#4c51a4,#4852a5,#4552a5,#4252a5,#4252a5,#4652a5,#4a51a4,#4d51a4,#5051a4,#5251a4,#5151a4,#4652a5,#3d53a4,#3a56a6,#3b5ead,#3c69b4,#3d7bc0,#3c65b2,#3a5aaa,#3953a4,#3d53a4,#4152a5,#4252a5,#4052a5,#3953a4,#3b5cab,#3d70b9,#3b91ce,#31b3e7,#4fc0e1,#40bde5,#32baea,#2fb6ea,#32b1e6,#34aee3,#36abe1,#36ace1,#35ade2,#34afe4,#33b0e5,#31b2e6,#30b4e8,#33afe4,#3ca2da,#3b93cf,#3b85c7,#3d7bc1,#3d71b9,#3c69b4,#3c6eb8,#3d73bb,#3d78bf,#3d7cc1,#3c80c4,#3c83c6,#3c66b2,#3955a5,#4252a5,#4951a4,#4752a5,#4252a5,#3f52a5,#3f52a5,#3f52a5,#3f52a5,#3f52a5,#3f52a5,#3f52a5)"></i><i style="height:3px;background:linear-gradient(90deg,#5550a3,#5451a4,#5451a4,#5351a4,#5351a4,#5351a4,#5251a4,#4f51a4,#4c51a4,#4852a5,#4452a5,#4152a5,#3e52a5,#3f52a5,#4352a5,#4952a5,#4e51a4,#5351a4,#5950a3,#5d50a3,#5451a4,#4d51a4,#4652a5,#4052a5,#3a53a4,#3a57a7,#3b5ead,#3c68b3,#3d76bd,#3b84c6,#3b91cf,#3d9ed7,#36abe1,#2db9ec,#46bee3,#5fc3db,#6bc5c1,#7ac6a1,#86c783,#7fc694,#77c6a7,#6dc5ba,#66c4cf,#5ac2dd,#48bfe3,#32baea,#30b4e8,#31b2e7,#32b1e6,#33afe4,#34aee3,#34aee3,#32b1e5,#32b1e6,#32b1e6,#32b1e6,#34afe4,#36abe1,#36aae0,#38a8df,#3ba4db,#3d9fd8,#3c98d3,#3a8ecd,#3b86c8,#3d76bd,#3b60ae,#3953a4,#4252a5,#4252a5,#3f52a5,#3f52a5,#3f52a5,#3f52a5,#3f52a5,#3f52a5,#3f52a5)"></i><i style="height:3px;background:linear-gradient(90deg,#5151a4,#5051a4,#5051a4,#5051a4,#5051a4,#4f51a4,#4f51a4,#4c51a4,#4852a5,#4452a5,#4152a5,#4052a5,#3f52a5,#4252a5,#4a51a4,#5151a4,#5850a3,#6050a3,#684fa2,#6d4fa2,#634fa2,#5950a3,#5151a4,#4952a5,#4152a5,#3a53a4,#3a59a9,#3c69b4,#3b85c7,#3aa5dc,#3dbce6,#67c4cb,#78c6a4,#82c78c,#8bc876,#95ca6a,#9ccc61,#a2ce5c,#a5ce58,#9ecd60,#96ca69,#8cc873,#85c785,#7ec698,#74c5ad,#64c4d5,#3bbce7,#37aae0,#3c97d2,#3a8bcb,#3b87c8,#3b88c9,#3a8bcb,#3a8fcd,#3b91cf,#3b93d0,#3b93d0,#3b92cf,#3b87c8,#3d7cc1,#3d71ba,#3c66b2,#3b61ae,#3b5cab,#3a5aa9,#3a58a8,#3a57a7,#3955a6,#3a53a4,#3e53a4,#3d53a4,#3d53a4,#3d53a4,#3d53a4,#3d53a4,#3d53a4,#3d53a4)"></i><i style="height:3px;background:linear-gradient(90deg,#4b51a4,#4b51a4,#4c51a4,#4c51a4,#4c51a4,#4c51a4,#4c51a4,#4952a5,#4652a5,#4452a5,#4352a5,#4352a5,#4252a5,#4652a5,#4e51a4,#5650a3,#5e50a3,#674fa2,#704fa2,#734fa1,#654fa2,#5750a3,#4c51a4,#4152a5,#3954a5,#3b5fad,#3d7ac0,#3c9cd6,#31baeb,#64c4d5,#79c6a3,#8dc872,#a0cd5e,#a6cf57,#aad051,#afd14a,#b3d344,#b7d43d,#bad539,#b3d343,#add14e,#a5cf58,#9dcc61,#94ca6a,#8bc876,#7bc69d,#68c4ca,#45bee4,#35ade2,#3a90ce,#3d74bc,#3c66b2,#3c65b1,#3c65b1,#3c65b1,#3c65b1,#3c65b1,#3c64b1,#3b61ae,#3b5dac,#3a5aa9,#3a57a7,#3955a6,#3953a4,#3a53a4,#3a53a4,#3953a4,#3955a5,#3a57a7,#3a5baa,#3b5fad,#3b60ad,#3b60ae,#3b60ae,#3b60ae,#3b60ae,#3b60ae)"></i><i style="height:3px;background:linear-gradient(90deg,#4452a5,#4452a5,#4552a5,#4652a5,#4652a5,#4752a5,#4752a5,#4652a5,#4652a5,#4552a5,#4452a5,#4452a5,#4352a5,#4552a5,#4a51a4,#4e51a4,#5251a4,#5750a3,#5b50a3,#5e50a3,#5151a4,#4552a5,#3a53a4,#3b5cab,#3d71ba,#3a8ecd,#35ace2,#43bee4,#67c4cc,#7ac6a1,#8bc875,#a5ce59,#b4d343,#b9d43c,#bed636,#c5d930,#cddb2b,#d5de26,#d8e024,#c9da2e,#b9d43b,#afd14a,#a5cf58,#9bcc63,#90c96e,#80c693,#6bc5c0,#4ec0e1,#33b0e5,#3a8dcc,#3c6ab5,#3b5dac,#3b5cab,#3a5baa,#3a59a9,#3a58a8,#3a58a8,#3a59a8,#3a57a8,#3a57a7,#3a57a7,#3a56a7,#3955a5,#3b53a4,#3a53a4,#3a56a6,#3b5ead,#3c6ab5,#3d7cc1,#3b89c9,#3b90ce,#3b92cf,#3b94d0,#3b95d1,#3c97d2,#3c98d3,#3c99d3)"></i><i style="height:3px;background:linear-gradient(90deg,#3b53a4,#3d53a4,#3e53a4,#3e52a5,#3e52a5,#3f52a5,#3f52a5,#3f52a5,#3f52a5,#3f52a5,#3e52a5,#3e53a4,#3d53a4,#3e52a5,#4152a5,#4352a5,#4652a5,#4951a4,#4c51a4,#4c51a4,#3f52a5,#3a57a7,#3c6ab5,#3a8bcb,#34ade3,#4dc0e1,#66c4cf,#70c5b3,#7fc696,#8bc875,#a1cd5c,#b7d43e,#cbdb2d,#d3de27,#dae024,#e0e321,#e8e61f,#f0ea1c,#f4eb1a,#e4e520,#d3de27,#bbd538,#add14d,#a0cd5e,#94ca6b,#81c790,#6bc5c2,#42bde5,#3aa5dc,#3c81c4,#3b61af,#3a57a8,#3a58a8,#3a58a8,#3a5aaa,#3b5eac,#3b62af,#3c66b2,#3c67b3,#3c65b2,#3b61af,#3a5baa,#3a56a6,#3b53a4,#3b53a4,#3a53a4,#3954a5,#3a59a9,#3c66b2,#3c82c5,#3b93d0,#3b94d1,#3b96d2,#3c98d3,#3d9ed7,#39a7dd,#32b1e6)"></i><i style="height:3px;background:linear-gradient(90deg,#3c63b0,#3b60ae,#3b5dab,#3a5aa9,#3a58a8,#3a56a7,#3a56a6,#3a56a6,#3a56a6,#3a56a6,#3a56a6,#3a56a6,#3a56a7,#3955a6,#3953a4,#3c53a4,#3e53a4,#4052a5,#4252a5,#4152a5,#3a56a7,#3c69b4,#3a8ecd,#30b4e8,#61c4da,#7bc69f,#88c77d,#96cb68,#a7cf56,#b5d340,#c6d930,#d7df25,#dce123,#dce223,#e0e322,#e7e61f,#eee91c,#f5ec19,#f8eb13,#ebe81e,#dbe123,#c7d92f,#b3d245,#a2ce5c,#90c96f,#7bc69f,#63c4d7,#2db9ec,#3c97d2,#3d73bb,#3a5baa,#3a57a7,#3b62af,#3d71ba,#3c7fc3,#3b87c8,#3a8fcd,#3b94d0,#3d7dc2,#3c6db7,#3b62af,#3a5baa,#3a56a6,#3b53a4,#3b53a4,#3a53a4,#3953a4,#3954a5,#3955a6,#3a5baa,#3b62af,#3c65b1,#3c6eb8,#3d7cc1,#3a8aca,#3c9bd5,#38a9df)"></i><i style="height:3px;background:linear-gradient(90deg,#3b92cf,#3a8ecc,#3a8bcb,#3b89ca,#3b88c9,#3b87c8,#3b85c7,#3b85c7,#3b86c8,#3b88c9,#3b89ca,#3a8ccb,#3a8fcd,#3b8aca,#3c7ec3,#3d71ba,#3c65b1,#3b5eac,#3a58a8,#3a57a7,#3c6ab4,#3a8dcc,#31b3e7,#5ec3db,#79c6a2,#94ca6a,#a8cf54,#b5d341,#c3d832,#d2dd28,#dce223,#e6e61f,#eae81e,#e8e71f,#e6e61f,#e4e520,#e5e520,#e8e61f,#eae71e,#dce123,#c9da2e,#b5d341,#a5cf58,#94ca6a,#86c782,#70c5b4,#50c0e0,#35ade2,#3b88c9,#3c66b2,#3a56a6,#3954a5,#3b5fad,#3d75bd,#3b91cf,#35ade2,#3abce8,#48bfe3,#39a6dd,#3c7ec2,#3c63b0,#3a5baa,#3a56a6,#3b53a4,#3b53a4,#3a53a4,#3953a4,#3954a5,#3954a5,#3955a6,#3955a6,#3a57a7,#3b5eac,#3c68b3,#3d7bc1,#3a8bcb,#3c9cd5)"></i><i style="height:3px;background:linear-gradient(90deg,#30baeb,#31baeb,#32baea,#34baea,#36bbe9,#38bbe8,#3abce8,#3ebce6,#43bde5,#48bfe3,#50c0e0,#59c2dd,#62c4d9,#5fc3db,#4abfe2,#34bbe9,#32b1e6,#3aa4db,#3b95d1,#3a8dcc,#33afe4,#4cc0e1,#6cc5be,#80c693,#93ca6b,#abd050,#b8d43d,#c6d930,#d5df26,#e0e322,#eae71e,#f4ec1a,#f4ec1a,#ebe81e,#e0e322,#d6df25,#c7d92f,#b7d43e,#abd050,#a4ce59,#9bcc63,#8fc96f,#86c784,#7bc69e,#6ec5b8,#57c2de,#30b4e8,#3b94d1,#3d74bc,#3b5cab,#3b53a4,#3e53a4,#3a56a6,#3b5fad,#3d70b9,#3b85c7,#3c9bd5,#36abe1,#3ca1d9,#3b91ce,#3d7bc1,#3b61af,#3a56a7,#3b53a4,#3b53a4,#3a53a4,#3953a4,#3953a4,#3953a4,#3954a5,#3954a5,#3953a4,#3953a4,#3954a5,#3a59a9,#3c63b0,#3d72bb)"></i><i style="height:3px;background:linear-gradient(90deg,#6cc5be,#6cc5be,#6cc5bf,#6bc5c1,#6ac5c3,#6ac5c5,#69c5c7,#6dc5bc,#74c5ad,#7bc69f,#81c690,#86c782,#8bc875,#89c87a,#80c691,#75c5aa,#6ac5c4,#5bc3dc,#3dbce7,#2fb6e9,#4cbfe2,#67c4cb,#77c6a6,#87c781,#9bcc63,#b1d248,#bfd635,#cfdc2a,#dbe123,#e6e520,#efea1c,#f7eb16,#efea1c,#d2dd28,#aed14b,#91c96d,#7fc696,#6bc5c0,#5cc3dc,#54c1df,#4cbfe1,#45bee4,#3fbde6,#39bbe8,#2fb9eb,#3ba4db,#3b84c6,#3c66b2,#3a58a8,#3c53a4,#4452a5,#4852a5,#4352a5,#3e53a4,#3954a5,#3a5aaa,#3c64b1,#3d73bb,#3c67b3,#3b61ae,#3a5baa,#3a56a7,#3953a4,#3d53a4,#3d53a4,#3c53a4,#3b53a4,#3a53a4,#3a53a4,#3a53a4,#3a53a4,#3a53a4,#3b53a4,#3c53a4,#3c53a4,#3b53a4,#3955a6)"></i><i style="height:3px;background:linear-gradient(90deg,#85c786,#83c78a,#81c78f,#7fc694,#7dc699,#7bc69e,#78c6a3,#7fc694,#87c77f,#91c96e,#9ecd60,#aad051,#b6d43f,#b1d246,#9bcc63,#86c782,#76c6a7,#67c4cb,#4dc0e1,#36bbe9,#59c2dd,#6cc5bf,#7dc69b,#8bc876,#a0cd5d,#b6d340,#c5d931,#d2dd27,#dae124,#e1e321,#e8e61f,#ece81d,#e2e421,#bed636,#9ecd60,#82c78d,#6ac5c5,#3ebde6,#39a6dd,#3ca2da,#3d9dd6,#3c99d3,#3b94d1,#3b91ce,#3a8ecc,#3d78bf,#3b61af,#3a56a7,#3d53a4,#4552a5,#4e51a4,#5151a4,#4d51a4,#4852a5,#4352a5,#3f52a5,#3a53a4,#3a57a7,#3954a5,#3c53a4,#3f52a5,#4152a5,#4452a5,#4752a5,#4652a5,#4352a5,#4052a5,#3e52a5,#3c53a4,#3b53a4,#3c53a4,#3d53a4,#3e52a5,#4052a5,#4352a5,#4352a5,#3f52a5)"></i><i style="height:3px;background:linear-gradient(90deg,#92ca6d,#8fc970,#8bc875,#89c87b,#85c784,#82c78d,#7ec697,#88c77e,#98cb66,#aad051,#b9d53a,#cedc2a,#dee222,#d9e024,#bad53a,#a2ce5b,#89c87a,#76c5a9,#62c4da,#3abce8,#56c1de,#69c5c6,#79c6a3,#87c77f,#9bcc63,#b0d249,#b2d246,#b0d249,#aed14b,#aed14b,#afd14a,#b0d248,#a5ce58,#89c87b,#75c5aa,#62c4da,#33baea,#3ca2da,#3b86c7,#3c81c4,#3d7cc1,#3d78bf,#3d73bb,#3c6eb8,#3c6ab5,#3b5fad,#3955a6,#3e53a4,#4652a5,#4f51a4,#5850a3,#5b50a3,#5550a3,#5051a4,#4951a4,#4252a5,#3c53a4,#3955a5,#3e53a4,#4452a5,#4951a4,#4d51a4,#5051a4,#5351a4,#5251a4,#4f51a4,#4c51a4,#4951a4,#4852a5,#4752a5,#4952a5,#4d51a4,#5151a4,#5351a4,#4e51a4,#4652a5,#3f52a5)"></i><i style="height:3px;background:linear-gradient(90deg,#8ec871,#8bc876,#88c87c,#85c785,#82c78e,#7ec699,#79c6a3,#84c789,#94ca6b,#a9d053,#bed636,#dbe124,#f1ea1c,#f0ea1c,#d5de26,#b0d249,#8fc970,#77c6a5,#5fc3db,#35bbe9,#4fc0e0,#65c4d2,#6fc5b7,#7dc69a,#8ac879,#9ecd5f,#9fcd5e,#9bcc63,#96cb68,#90c96f,#8ac879,#84c787,#7ac6a0,#6ac5c5,#51c0e0,#2fb6ea,#3d9fd7,#3c82c5,#3c6ab5,#3c65b1,#3b62af,#3b5fad,#3b5dac,#3a5baa,#3a58a8,#3953a4,#4052a5,#4852a5,#4f51a4,#5650a3,#5c50a3,#5b50a3,#5251a4,#4951a4,#4152a5,#3953a4,#3a59a8,#3b5fad,#3955a6,#3f52a5,#4752a5,#5151a4,#5950a3,#6050a3,#6050a3,#6050a3,#6050a3,#6050a3,#6150a3,#6150a3,#644fa2,#664fa2,#6150a3,#5750a3,#4f51a4,#4652a5,#3f52a5)"></i><i style="height:3px;background:linear-gradient(90deg,#7cc69b,#7ac69f,#78c6a4,#76c5a8,#74c5ad,#71c5b1,#6fc5b7,#79c6a1,#87c780,#98cb66,#add14d,#c3d832,#dce123,#dce223,#c0d734,#a7cf56,#8ac877,#75c5ab,#5bc3dc,#31baeb,#4bbfe2,#63c4d8,#6cc5be,#76c6a7,#80c691,#88c87d,#86c783,#80c693,#78c6a3,#70c5b4,#6ac5c4,#64c4d5,#4ec0e1,#2eb8eb,#3aa5dc,#3a8ecd,#3d7ac0,#3c65b1,#3b5cab,#3a59a8,#3a57a7,#3955a6,#3954a5,#3a53a4,#3b53a4,#3e52a5,#4252a5,#4752a5,#4c51a4,#5051a4,#5550a3,#5451a4,#4b51a4,#4352a5,#3d53a4,#3a53a4,#3953a4,#3a53a4,#4152a5,#4a51a4,#5251a4,#5850a3,#5e50a3,#644fa2,#694fa2,#6c4fa2,#704fa2,#734fa1,#764fa1,#774fa1,#754fa1,#6d4fa2,#6150a3,#5750a3,#4f51a4,#4652a5,#3f52a5)"></i><i style="height:3px;background:linear-gradient(90deg,#69c5c5,#68c4ca,#66c4ce,#65c4d3,#63c4d7,#60c4db,#5cc3dc,#67c4cc,#70c5b3,#7cc69b,#86c782,#92ca6c,#a2ce5b,#a3ce5b,#90c96f,#82c78e,#72c5af,#65c4d2,#47bee3,#2fb6e9,#33baea,#3fbde6,#4bbfe2,#59c2dd,#64c4d5,#69c5c6,#65c4d1,#5bc3dc,#4bbfe2,#3bbce7,#2db9ec,#32b1e5,#39a6dd,#3b96d2,#3b86c7,#3d75bd,#3c64b1,#3a5baa,#3955a5,#3953a4,#3a53a4,#3b53a4,#3c53a4,#3c53a4,#3c53a4,#3e53a4,#4152a5,#4452a5,#4752a5,#4b51a4,#5051a4,#4f51a4,#4b51a4,#4951a4,#4952a5,#4852a5,#4752a5,#4752a5,#4d51a4,#5251a4,#5650a3,#5a50a3,#6050a3,#664fa2,#6a4fa2,#6e4fa2,#714fa2,#714fa2,#6e4fa2,#694fa2,#654fa2,#6250a3,#5d50a3,#5650a3,#4f51a4,#4652a5,#3f52a5)"></i><i style="height:3px;background:linear-gradient(90deg,#4bbfe2,#47bee3,#43bee4,#3fbde6,#3bbce7,#37bbe8,#34baea,#45bee4,#5cc3dc,#68c4c9,#71c5b1,#7dc69a,#86c782,#87c781,#7ec698,#72c5b0,#67c4cb,#51c1e0,#30baeb,#36abe1,#34aee3,#32b1e5,#30b4e8,#2eb7ea,#2eb9ec,#35bbe9,#33baea,#2db8eb,#32b2e6,#37aae0,#3ba3da,#3c99d4,#3a8ccc,#3c7fc3,#3d71ba,#3c64b1,#3b5cab,#3954a5,#3f52a5,#3f52a5,#3e53a4,#3d53a4,#3c53a4,#3c53a4,#3c53a4,#3e52a5,#4252a5,#4652a5,#4b51a4,#5051a4,#5650a3,#5650a3,#5051a4,#4a51a4,#4752a5,#4452a5,#4352a5,#4252a5,#4852a5,#4f51a4,#5550a3,#5a50a3,#6150a3,#674fa2,#6a4fa2,#694fa2,#654fa2,#6050a3,#5b50a3,#5750a3,#5451a4,#5251a4,#4f51a4,#4d51a4,#4a51a4,#4552a5,#3f52a5)"></i><i style="height:3px;background:linear-gradient(90deg,#33b0e5,#32b1e5,#32b1e5,#33b0e5,#33afe4,#34aee3,#35ace2,#2fb5e9,#3abce8,#4dc0e1,#61c4da,#69c5c6,#72c5b1,#72c5b1,#69c5c7,#5ec3db,#47bee3,#31baeb,#35ade2,#3da0d8,#3ba2da,#3aa4dc,#39a6dd,#38a8de,#37aae0,#36ace1,#34aee3,#32b1e6,#30b4e8,#30b4e8,#31b2e7,#34aee3,#3ba4db,#3a8dcc,#3d75bc,#3b5eac,#3b53a4,#4752a5,#5351a4,#5151a4,#4f51a4,#4c51a4,#4a51a4,#4752a5,#4352a5,#4752a5,#4c51a4,#5151a4,#5650a3,#5c50a3,#634fa2,#634fa2,#5a50a3,#5451a4,#4d51a4,#4652a5,#4152a5,#3f52a5,#4452a5,#4b51a4,#5251a4,#5950a3,#624fa2,#6c4fa2,#674fa2,#5d50a3,#5750a3,#5251a4,#4f51a4,#4b51a4,#4852a5,#4552a5,#4352a5,#4152a5,#4052a5,#4052a5,#4152a5)"></i><i style="height:3px;background:linear-gradient(90deg,#3a8dcc,#3a8ecd,#3a8fcd,#3a90ce,#3b90ce,#3b91ce,#3b91ce,#3ca1d9,#34afe4,#2fb9eb,#42bde5,#55c1de,#64c4d3,#64c4d5,#50c0e0,#3abce8,#31b3e8,#39a7dd,#3c98d3,#3a8bcb,#3a8dcc,#3a8fce,#3b92cf,#3b94d1,#3b95d1,#3b93d0,#3c9ad4,#3da0d8,#3aa4db,#38a8de,#36abe1,#34aee3,#3d9fd7,#3d77be,#3a5baa,#3e53a4,#4c51a4,#5b50a3,#6a4fa2,#684fa2,#644fa2,#6050a3,#5b50a3,#5750a3,#5451a4,#5750a3,#5c50a3,#6250a3,#654fa2,#644fa2,#6050a3,#6050a3,#644fa2,#634fa2,#5c50a3,#5550a3,#4e51a4,#4952a5,#4e51a4,#5351a4,#5950a3,#634fa2,#6d4fa2,#774fa1,#714fa2,#654fa2,#5950a3,#5151a4,#4852a5,#4252a5,#3e52a5,#3e52a5,#3f52a5,#4052a5,#4252a5,#4452a5,#4552a5)"></i><i style="height:3px;background:linear-gradient(90deg,#3b61af,#3b61af,#3b61af,#3b61af,#3b61af,#3b61af,#3b62af,#3d71ba,#3b87c8,#3d9ed7,#33afe4,#34baea,#48bfe3,#47bee3,#30baeb,#34aee3,#3ca1d9,#3b91cf,#3c83c6,#3d78bf,#3d7ac0,#3d7bc0,#3d79bf,#3d74bc,#3c6fb8,#3c69b4,#3c70b9,#3d7ac0,#3c82c5,#3a8aca,#3b93cf,#3c9ad4,#3a8dcc,#3c6fb8,#3a5aaa,#3c53a4,#4752a5,#5351a4,#5f50a3,#6150a3,#634fa2,#654fa2,#654fa2,#654fa2,#634fa2,#644fa2,#634fa2,#5f50a3,#5b50a3,#5750a3,#5451a4,#5451a4,#5850a3,#5e50a3,#634fa2,#644fa2,#5f50a3,#5950a3,#5f50a3,#664fa2,#6c4fa2,#734fa1,#7a4fa1,#824fa1,#7c4fa1,#714fa2,#664fa2,#5b50a3,#5251a4,#4a51a4,#4452a5,#4352a5,#4352a5,#4552a5,#4752a5,#4952a5,#4b51a4)"></i><i style="height:3px;background:linear-gradient(90deg,#3b53a4,#3d53a4,#3d53a4,#3d53a4,#3d53a4,#3d53a4,#3d53a4,#3955a5,#3b5eac,#3c6cb6,#3c83c6,#3c9bd5,#33b0e4,#32b2e6,#3aa5dc,#3b96d2,#3b87c8,#3d7ac0,#3c6db7,#3c64b0,#3b5fad,#3a5baa,#3a58a8,#3a57a7,#3955a6,#3953a4,#3955a5,#3a57a7,#3a59a9,#3b5dab,#3b60ae,#3c64b1,#3c65b1,#3b61ae,#3b5dab,#3a57a7,#3a53a4,#4252a5,#4b51a4,#4d51a4,#4f51a4,#5151a4,#5351a4,#5550a3,#5850a3,#5650a3,#5451a4,#5251a4,#4f51a4,#4c51a4,#4952a5,#4951a4,#4e51a4,#5351a4,#5750a3,#5d50a3,#644fa2,#684fa2,#6c4fa2,#704fa2,#744fa1,#794fa1,#7d4fa1,#814fa1,#804fa1,#7c4fa1,#754fa1,#6c4fa2,#6150a3,#5750a3,#5151a4,#4f51a4,#4d51a4,#4b51a4,#4c51a4,#4e51a4,#5051a4)"></i><i style="height:3px;background:linear-gradient(90deg,#3d53a4,#4052a5,#4452a5,#4852a5,#4a51a4,#4b51a4,#4b51a4,#4452a5,#3c53a4,#3a57a7,#3b62af,#3d75bc,#3a8aca,#3a8fcd,#3c81c5,#3d75bd,#3c69b4,#3c63b0,#3b5eac,#3a59a9,#3955a5,#3c53a4,#4152a5,#4552a5,#4952a5,#4c51a4,#4b51a4,#4952a5,#4752a5,#4552a5,#4352a5,#4252a5,#4252a5,#4552a5,#4852a5,#4a51a4,#4a51a4,#4652a5,#4152a5,#4152a5,#4152a5,#4252a5,#4352a5,#4552a5,#4752a5,#4652a5,#4452a5,#4352a5,#4252a5,#4252a5,#4352a5,#4552a5,#4a51a4,#5051a4,#5550a3,#5b50a3,#634fa2,#694fa2,#6a4fa2,#6c4fa2,#6f4fa2,#734fa1,#774fa1,#7b4fa1,#7a4fa1,#774fa1,#754fa1,#724fa1,#6e4fa2,#664fa2,#5f50a3,#5c50a3,#5950a3,#5750a3,#5550a3,#5451a4,#5550a3)"></i><i style="height:3px;background:linear-gradient(90deg,#3d53a4,#4052a5,#4552a5,#4951a4,#4e51a4,#5351a4,#5750a3,#5151a4,#4952a5,#4052a5,#3953a4,#3a5baa,#3c67b2,#3c6eb7,#3c65b2,#3b61ae,#3b5dab,#3a58a8,#3a56a6,#3953a4,#3e52a5,#4352a5,#4951a4,#5051a4,#5650a3,#5d50a3,#6150a3,#634fa2,#654fa2,#664fa2,#664fa2,#664fa2,#664fa2,#664fa2,#6050a3,#5750a3,#4f51a4,#4652a5,#3f52a5,#3e52a5,#3e53a4,#3d53a4,#3d53a4,#3c53a4,#3d53a4,#3d53a4,#3f52a5,#4052a5,#4252a5,#4452a5,#4652a5,#4952a5,#4d51a4,#5151a4,#5650a3,#5b50a3,#634fa2,#694fa2,#6a4fa2,#6b4fa2,#6c4fa2,#6d4fa2,#714fa2,#744fa1,#744fa1,#714fa2,#6f4fa2,#6d4fa2,#6c4fa2,#6b4fa2,#694fa2,#664fa2,#634fa2,#6050a3,#5d50a3,#5a50a3,#5950a3)"></i><i style="height:3px;background:linear-gradient(90deg,#4752a5,#4951a4,#4c51a4,#5051a4,#5451a4,#5950a3,#6050a3,#5a50a3,#5351a4,#4c51a4,#4452a5,#3d53a4,#3a56a6,#3a58a8,#3a56a6,#3954a5,#3a53a4,#3b53a4,#3c53a4,#3e53a4,#4552a5,#4d51a4,#5451a4,#5c50a3,#654fa2,#6d4fa2,#724fa2,#754fa1,#764fa1,#754fa1,#724fa2,#6c4fa2,#664fa2,#6150a3,#5a50a3,#5351a4,#4c51a4,#4452a5,#3d53a4,#3d53a4,#3c53a4,#3c53a4,#3c53a4,#3c53a4,#3c53a4,#3d53a4,#3f52a5,#4152a5,#4352a5,#4752a5,#4d51a4,#5351a4,#5650a3,#5950a3,#5d50a3,#6150a3,#664fa2,#694fa2,#6a4fa2,#6b4fa2,#6c4fa2,#6c4fa2,#6d4fa2,#6f4fa2,#6f4fa2,#6e4fa2,#6d4fa2,#6d4fa2,#6c4fa2,#6c4fa2,#6a4fa2,#674fa2,#644fa2,#6250a3,#5f50a3,#5e50a3,#5c50a3)"></i><i style="height:3px;background:linear-gradient(90deg,#5c50a3,#5d50a3,#5e50a3,#6050a3,#6050a3,#6150a3,#634fa2,#5b50a3,#5451a4,#4d51a4,#4752a5,#4152a5,#3d53a4,#3c53a4,#3d53a4,#3d53a4,#3d53a4,#3e53a4,#3e52a5,#4052a5,#4852a5,#5051a4,#5950a3,#644fa2,#6e4fa2,#754fa1,#714fa2,#694fa2,#6050a3,#5850a3,#5251a4,#4b51a4,#4952a5,#4752a5,#4652a5,#4452a5,#4352a5,#4152a5,#3f52a5,#3e53a4,#3d53a4,#3c53a4,#3c53a4,#3c53a4,#3c53a4,#3d53a4,#4052a5,#4552a5,#4d51a4,#5550a3,#6050a3,#684fa2,#6b4fa2,#6f4fa2,#704fa2,#6f4fa2,#6b4fa2,#674fa2,#684fa2,#694fa2,#694fa2,#6a4fa2,#6b4fa2,#6d4fa2,#6e4fa2,#6e4fa2,#6e4fa2,#6e4fa2,#6e4fa2,#6d4fa2,#6c4fa2,#694fa2,#674fa2,#654fa2,#634fa2,#6150a3,#6050a3)"></i><i style="height:3px;background:linear-gradient(90deg,#5c50a3,#5950a3,#5650a3,#5351a4,#5251a4,#5151a4,#5151a4,#4b51a4,#4552a5,#4252a5,#4152a5,#4152a5,#4252a5,#4252a5,#4152a5,#4052a5,#4052a5,#4052a5,#4052a5,#4152a5,#4a51a4,#5151a4,#5650a3,#5950a3,#5c50a3,#5f50a3,#5850a3,#5151a4,#4b51a4,#4552a5,#4252a5,#4152a5,#4452a5,#4b51a4,#4f51a4,#4f51a4,#4f51a4,#4f51a4,#4e51a4,#4c51a4,#4952a5,#4652a5,#4352a5,#4152a5,#4152a5,#4652a5,#4e51a4,#5750a3,#6150a3,#6c4fa2,#764fa1,#7b4fa1,#7a4fa1,#774fa1,#724fa2,#6d4fa2,#684fa2,#644fa2,#654fa2,#664fa2,#674fa2,#694fa2,#6a4fa2,#6c4fa2,#6d4fa2,#6d4fa2,#6d4fa2,#6e4fa2,#6e4fa2,#6f4fa2,#6f4fa2,#6d4fa2,#6b4fa2,#694fa2,#674fa2,#654fa2,#644fa2)"></i><i style="height:3px;background:linear-gradient(90deg,#5451a4,#5151a4,#4e51a4,#4a51a4,#4752a5,#4652a5,#4652a5,#4852a5,#4a51a4,#4c51a4,#4d51a4,#4e51a4,#4f51a4,#4f51a4,#4e51a4,#4d51a4,#4c51a4,#4a51a4,#4952a5,#4852a5,#4852a5,#4852a5,#4852a5,#4852a5,#4951a4,#4b51a4,#4652a5,#4352a5,#4152a5,#4052a5,#4052a5,#3f52a5,#4252a5,#4b51a4,#5451a4,#5c50a3,#6150a3,#624fa2,#6150a3,#5e50a3,#5a50a3,#5850a3,#5850a3,#5850a3,#5850a3,#5f50a3,#674fa2,#6c4fa2,#6f4fa2,#6f4fa2,#6e4fa2,#6d4fa2,#6d4fa2,#6c4fa2,#6b4fa2,#684fa2,#654fa2,#6150a3,#624fa2,#644fa2,#664fa2,#684fa2,#694fa2,#6b4fa2,#6c4fa2,#6c4fa2,#6c4fa2,#6d4fa2,#6f4fa2,#734fa1,#744fa1,#724fa2,#6f4fa2,#6d4fa2,#6b4fa2,#694fa2,#684fa2)"></i><i style="height:3px;background:linear-gradient(90deg,#4a51a4,#4852a5,#4852a5,#4951a4,#4c51a4,#5051a4,#5351a4,#5850a3,#5e50a3,#644fa2,#6a4fa2,#6e4fa2,#714fa2,#714fa2,#6f4fa2,#6d4fa2,#6a4fa2,#674fa2,#634fa2,#6050a3,#5c50a3,#5950a3,#5550a3,#5051a4,#4951a4,#4252a5,#4152a5,#4052a5,#3f52a5,#3f52a5,#3e52a5,#3e53a4,#4152a5,#4951a4,#5251a4,#5b50a3,#674fa2,#714fa2,#754fa1,#724fa2,#6f4fa2,#6b4fa2,#674fa2,#634fa2,#5e50a3,#5c50a3,#5b50a3,#5a50a3,#5950a3,#5850a3,#5750a3,#5650a3,#5650a3,#5650a3,#5650a3,#5750a3,#5850a3,#5a50a3,#5e50a3,#6250a3,#654fa2,#674fa2,#684fa2,#6a4fa2,#6b4fa2,#6b4fa2,#6d4fa2,#714fa2,#744fa1,#784fa1,#794fa1,#774fa1,#744fa1,#724fa2,#6f4fa2,#6c4fa2,#694fa2)"></i><i style="height:3px;background:linear-gradient(90deg,#4c51a4,#5051a4,#5451a4,#5750a3,#5b50a3,#6050a3,#644fa2,#664fa2,#6a4fa2,#6c4fa2,#6e4fa2,#714fa2,#714fa2,#724fa2,#724fa1,#734fa1,#734fa1,#744fa1,#754fa1,#774fa1,#6e4fa2,#644fa2,#5950a3,#5151a4,#4952a5,#4152a5,#3f52a5,#3f52a5,#3e52a5,#3e52a5,#3e53a4,#3d53a4,#3f52a5,#4652a5,#4e51a4,#5650a3,#5e50a3,#684fa2,#704fa2,#684fa2,#6150a3,#5a50a3,#5550a3,#5051a4,#4c51a4,#4a51a4,#4951a4,#4852a5,#4752a5,#4752a5,#4652a5,#4652a5,#4752a5,#4952a5,#4b51a4,#4d51a4,#4f51a4,#5251a4,#5550a3,#5950a3,#5d50a3,#6150a3,#654fa2,#694fa2,#6b4fa2,#6d4fa2,#704fa2,#734fa1,#764fa1,#784fa1,#794fa1,#774fa1,#744fa1,#714fa2,#6e4fa2,#6a4fa2,#674fa2)"></i><i style="height:3px;background:linear-gradient(90deg,#5950a3,#5d50a3,#6150a3,#654fa2,#684fa2,#694fa2,#6a4fa2,#634fa2,#5b50a3,#5750a3,#5451a4,#5251a4,#5051a4,#5151a4,#5451a4,#5850a3,#5f50a3,#664fa2,#6e4fa2,#734fa1,#684fa2,#5e50a3,#5750a3,#5151a4,#4d51a4,#4a51a4,#4a51a4,#4b51a4,#4b51a4,#4c51a4,#4951a4,#4452a5,#4152a5,#4452a5,#4852a5,#4d51a4,#5351a4,#5a50a3,#6150a3,#5a50a3,#5451a4,#4f51a4,#4a51a4,#4652a5,#4352a5,#4152a5,#4152a5,#4052a5,#4052a5,#4052a5,#4052a5,#4052a5,#4152a5,#4252a5,#4352a5,#4552a5,#4752a5,#4951a4,#4d51a4,#5051a4,#5451a4,#5950a3,#5f50a3,#664fa2,#684fa2,#694fa2,#6b4fa2,#6e4fa2,#704fa2,#724fa1,#734fa1,#724fa2,#704fa2,#6e4fa2,#6c4fa2,#694fa2,#664fa2)"></i><i style="height:3px;background:linear-gradient(90deg,#644fa2,#664fa2,#674fa2,#694fa2,#6a4fa2,#6b4fa2,#6c4fa2,#644fa2,#5a50a3,#5351a4,#4d51a4,#4951a4,#4552a5,#4752a5,#4c51a4,#5251a4,#5850a3,#5f50a3,#664fa2,#6c4fa2,#6c4fa2,#6c4fa2,#6b4fa2,#684fa2,#664fa2,#634fa2,#634fa2,#634fa2,#6050a3,#5850a3,#5151a4,#4a51a4,#4852a5,#4b51a4,#4e51a4,#5051a4,#5351a4,#5650a3,#5750a3,#5451a4,#5051a4,#4d51a4,#4951a4,#4652a5,#4252a5,#4152a5,#4052a5,#3f52a5,#3e52a5,#3e53a4,#3d53a4,#3d53a4,#3e53a4,#3e53a4,#3e52a5,#3e52a5,#3e52a5,#4352a5,#4752a5,#4d51a4,#5251a4,#5750a3,#5d50a3,#644fa2,#664fa2,#664fa2,#674fa2,#684fa2,#6a4fa2,#6c4fa2,#6d4fa2,#6c4fa2,#6a4fa2,#684fa2,#664fa2,#644fa2,#6050a3)"></i><i style="height:3px;background:linear-gradient(90deg,#674fa2,#684fa2,#694fa2,#6a4fa2,#6b4fa2,#6c4fa2,#6d4fa2,#654fa2,#5b50a3,#5451a4,#4c51a4,#4552a5,#4052a5,#4152a5,#4652a5,#4b51a4,#5051a4,#5550a3,#5a50a3,#6150a3,#674fa2,#6e4fa2,#744fa1,#794fa1,#7d4fa1,#7f4fa1,#7c4fa1,#744fa1,#6a4fa2,#6150a3,#5850a3,#5151a4,#4f51a4,#5151a4,#5451a4,#5650a3,#5750a3,#5750a3,#5750a3,#5351a4,#5051a4,#4d51a4,#4951a4,#4652a5,#4252a5,#4152a5,#4052a5,#3f52a5,#3e53a4,#3b53a4,#3a56a6,#3a59a9,#3a5baa,#3b5cab,#3b5eac,#3a59a9,#3953a4,#4252a5,#4652a5,#4b51a4,#5051a4,#5650a3,#5b50a3,#624fa2,#644fa2,#644fa2,#654fa2,#654fa2,#654fa2,#674fa2,#674fa2,#644fa2,#6150a3,#5d50a3,#5850a3,#5451a4,#5151a4)"></i><i style="height:3px;background:linear-gradient(90deg,#694fa2,#6a4fa2,#6b4fa2,#6b4fa2,#6d4fa2,#6e4fa2,#6f4fa2,#674fa2,#5d50a3,#5550a3,#4d51a4,#4652a5,#4052a5,#3f52a5,#4252a5,#4552a5,#4852a5,#4d51a4,#5151a4,#5650a3,#5a50a3,#6150a3,#684fa2,#6e4fa2,#754fa1,#7c4fa1,#794fa1,#744fa1,#6d4fa2,#674fa2,#5f50a3,#5750a3,#5550a3,#5750a3,#5750a3,#5750a3,#5750a3,#5750a3,#5750a3,#5351a4,#5051a4,#4d51a4,#4951a4,#4652a5,#4252a5,#4052a5,#3d53a4,#3954a5,#3a5aaa,#3c64b1,#3d77be,#3b84c6,#3b87c8,#3c82c5,#3c6db7,#3b5cab,#3953a4,#4152a5,#4652a5,#4b51a4,#4f51a4,#5451a4,#5950a3,#6050a3,#624fa2,#634fa2,#634fa2,#624fa2,#6150a3,#5f50a3,#5b50a3,#5750a3,#5251a4,#4e51a4,#4a51a4,#4652a5,#4252a5)"></i><i style="height:3px;background:linear-gradient(90deg,#6b4fa2,#6c4fa2,#6c4fa2,#6d4fa2,#6e4fa2,#6f4fa2,#704fa2,#684fa2,#5e50a3,#5650a3,#4f51a4,#4a51a4,#4452a5,#4352a5,#4552a5,#4852a5,#4b51a4,#4d51a4,#5051a4,#5251a4,#5550a3,#5950a3,#5e50a3,#644fa2,#6b4fa2,#714fa2,#6e4fa2,#694fa2,#644fa2,#5f50a3,#5a50a3,#5750a3,#5650a3,#5750a3,#5750a3,#5750a3,#5750a3,#5750a3,#5750a3,#5351a4,#5051a4,#4d51a4,#4951a4,#4652a5,#4652a5,#4052a5,#3953a4,#3b5cab,#3c6fb8,#3a8bcb,#39a7dd,#30b5e9,#3aa4dc,#3b89c9,#3c6fb8,#3b5dac,#3954a4,#4152a5,#4552a5,#4a51a4,#4f51a4,#5451a4,#5850a3,#5f50a3,#5f50a3,#5d50a3,#5a50a3,#5850a3,#5650a3,#5451a4,#5151a4,#4d51a4,#4852a5,#4352a5,#3f52a5,#3e52a5,#4052a5)"></i><i style="height:3px;background:linear-gradient(90deg,#6d4fa2,#6e4fa2,#6e4fa2,#6f4fa2,#704fa2,#714fa2,#724fa2,#6a4fa2,#6150a3,#5a50a3,#5550a3,#5051a4,#4c51a4,#4b51a4,#4b51a4,#4d51a4,#4e51a4,#5051a4,#5351a4,#5550a3,#5850a3,#5b50a3,#5f50a3,#634fa2,#674fa2,#6a4fa2,#664fa2,#6150a3,#5d50a3,#5950a3,#5650a3,#5351a4,#5351a4,#5550a3,#5750a3,#5750a3,#5750a3,#5750a3,#5750a3,#5351a4,#5051a4,#4d51a4,#4b51a4,#4d51a4,#4f51a4,#4951a4,#4152a5,#3b53a4,#3a57a8,#3b62af,#3d79bf,#3a8dcc,#3b96d2,#3b89c9,#3d70b9,#3b5eac,#3954a5,#4052a5,#4552a5,#4951a4,#4e51a4,#5351a4,#5850a3,#5e50a3,#5a50a3,#5550a3,#5151a4,#4f51a4,#4d51a4,#4a51a4,#4752a5,#4352a5,#3f52a5,#3e52a5,#4152a5,#4552a5,#4951a4)"></i><i style="height:3px;background:linear-gradient(90deg,#6a4fa2,#684fa2,#684fa2,#684fa2,#694fa2,#6a4fa2,#6b4fa2,#6c4fa2,#6d4fa2,#6c4fa2,#6a4fa2,#684fa2,#644fa2,#624fa2,#6150a3,#6050a3,#5e50a3,#5c50a3,#5b50a3,#5b50a3,#6050a3,#654fa2,#6b4fa2,#6e4fa2,#6d4fa2,#6a4fa2,#654fa2,#5f50a3,#5950a3,#5650a3,#5351a4,#5051a4,#4f51a4,#5251a4,#5451a4,#5650a3,#5750a3,#5750a3,#5750a3,#5351a4,#5151a4,#5151a4,#5351a4,#5550a3,#5650a3,#5251a4,#4c51a4,#4552a5,#3e52a5,#3954a5,#3a5aa9,#3b5fad,#3b61ae,#3c64b1,#3c66b2,#3b5eac,#3954a5,#4052a5,#4452a5,#4952a5,#4e51a4,#5351a4,#5850a3,#5e50a3,#5a50a3,#5451a4,#4f51a4,#4951a4,#4452a5,#4152a5,#3f52a5,#3e52a5,#4152a5,#4552a5,#4a51a4,#4f51a4,#5351a4)"></i><i style="height:3px;background:linear-gradient(90deg,#5e50a3,#5950a3,#5550a3,#5151a4,#4f51a4,#4f51a4,#4f51a4,#5451a4,#5950a3,#5f50a3,#664fa2,#6d4fa2,#724fa1,#764fa1,#774fa1,#764fa1,#734fa1,#704fa2,#6c4fa2,#6a4fa2,#704fa2,#744fa1,#734fa1,#704fa2,#6d4fa2,#6a4fa2,#654fa2,#5e50a3,#5950a3,#5451a4,#5051a4,#4c51a4,#4c51a4,#4e51a4,#5051a4,#5351a4,#5550a3,#5750a3,#5750a3,#5550a3,#5650a3,#5750a3,#5750a3,#5750a3,#5750a3,#5550a3,#5151a4,#4e51a4,#4951a4,#4452a5,#3f52a5,#3b53a4,#3a53a4,#3a53a4,#3953a4,#3953a4,#3953a4,#3f52a5,#4452a5,#4952a5,#4e51a4,#5351a4,#5850a3,#5e50a3,#5a50a3,#5451a4,#4f51a4,#4951a4,#4452a5,#4152a5,#4252a5,#4652a5,#4b51a4,#4f51a4,#5451a4,#5950a3,#5e50a3)"></i><i style="height:3px;background:linear-gradient(90deg,#5451a4,#4f51a4,#4b51a4,#4652a5,#4252a5,#3e53a4,#3a53a4,#3e53a4,#4352a5,#4952a5,#4f51a4,#5550a3,#5c50a3,#624fa2,#684fa2,#6d4fa2,#724fa2,#754fa1,#774fa1,#784fa1,#794fa1,#764fa1,#734fa1,#704fa2,#6d4fa2,#6a4fa2,#654fa2,#5e50a3,#5950a3,#5451a4,#5051a4,#4b51a4,#4a51a4,#4d51a4,#4f51a4,#5151a4,#5451a4,#5650a3,#5850a3,#5750a3,#5750a3,#5750a3,#5750a3,#5750a3,#5750a3,#5550a3,#5151a4,#4e51a4,#4a51a4,#4752a5,#4452a5,#4252a5,#4252a5,#4152a5,#4152a5,#4052a5,#4052a5,#4152a5,#4552a5,#4951a4,#4e51a4,#5351a4,#5850a3,#5e50a3,#5a50a3,#5550a3,#5051a4,#4d51a4,#4c51a4,#4a51a4,#4b51a4,#5051a4,#5550a3,#5950a3,#5f50a3,#644fa2,#654fa2)"></i><i style="height:3px;background:linear-gradient(90deg,#5251a4,#4852a5,#4052a5,#3a53a4,#3a57a7,#3b5dac,#3c64b1,#3b5fad,#3a58a8,#3953a4,#3e52a5,#4452a5,#4b51a4,#4f51a4,#5251a4,#5650a3,#5a50a3,#6050a3,#664fa2,#6c4fa2,#714fa2,#744fa1,#734fa1,#704fa2,#6d4fa2,#6a4fa2,#654fa2,#5e50a3,#5950a3,#5451a4,#4f51a4,#4951a4,#4952a5,#4d51a4,#5151a4,#5351a4,#5550a3,#5750a3,#5950a3,#5850a3,#5750a3,#5750a3,#5750a3,#5750a3,#5750a3,#5550a3,#5151a4,#4e51a4,#4a51a4,#4752a5,#4552a5,#4352a5,#4352a5,#4252a5,#4252a5,#4252a5,#4352a5,#4652a5,#4a51a4,#4e51a4,#5151a4,#5550a3,#5950a3,#5e50a3,#5d50a3,#5a50a3,#5950a3,#5750a3,#5650a3,#5451a4,#5550a3,#5a50a3,#6050a3,#654fa2,#664fa2,#654fa2,#654fa2)"></i><i style="height:3px;background:linear-gradient(90deg,#5950a3,#4f51a4,#4452a5,#3b53a4,#3a58a8,#3c64b1,#3d76bd,#3c66b2,#3a5aaa,#3a53a4,#4152a5,#4552a5,#4652a5,#4652a5,#4752a5,#4952a5,#4b51a4,#4f51a4,#5351a4,#5750a3,#5c50a3,#624fa2,#684fa2,#6c4fa2,#6d4fa2,#6a4fa2,#654fa2,#5e50a3,#5850a3,#5351a4,#4d51a4,#4852a5,#4752a5,#4c51a4,#5051a4,#5451a4,#5750a3,#5950a3,#5b50a3,#5950a3,#5850a3,#5750a3,#5750a3,#5750a3,#5750a3,#5550a3,#5151a4,#4e51a4,#4b51a4,#4952a5,#4652a5,#4552a5,#4452a5,#4452a5,#4452a5,#4652a5,#4952a5,#4b51a4,#4f51a4,#5351a4,#5650a3,#5a50a3,#5a50a3,#5650a3,#5850a3,#5c50a3,#5f50a3,#6150a3,#6150a3,#5f50a3,#6150a3,#664fa2,#674fa2,#674fa2,#664fa2,#654fa2,#654fa2)"></i><i style="height:3px;background:linear-gradient(90deg,#644fa2,#5c50a3,#5451a4,#4c51a4,#4352a5,#3c53a4,#3a56a6,#3c53a4,#4252a5,#4552a5,#4452a5,#4352a5,#4252a5,#4252a5,#4352a5,#4452a5,#4552a5,#4652a5,#4852a5,#4a51a4,#4f51a4,#5451a4,#5850a3,#5d50a3,#644fa2,#694fa2,#634fa2,#5c50a3,#5650a3,#5151a4,#4c51a4,#4752a5,#4652a5,#4a51a4,#4f51a4,#5451a4,#5850a3,#5a50a3,#5d50a3,#5b50a3,#5a50a3,#5950a3,#5850a3,#5750a3,#5750a3,#5550a3,#5151a4,#4f51a4,#4d51a4,#4a51a4,#4852a5,#4652a5,#4652a5,#4752a5,#4951a4,#4b51a4,#4e51a4,#5051a4,#5451a4,#5750a3,#5850a3,#5451a4,#4f51a4,#4a51a4,#4c51a4,#5051a4,#5451a4,#5950a3,#5e50a3,#634fa2,#674fa2,#684fa2,#684fa2,#674fa2,#664fa2,#654fa2,#654fa2)"></i><i style="height:3px;background:linear-gradient(90deg,#684fa2,#694fa2,#674fa2,#6050a3,#5750a3,#5051a4,#4952a5,#4752a5,#4552a5,#4352a5,#4152a5,#3f52a5,#3e52a5,#3e52a5,#3f52a5,#4052a5,#4152a5,#4352a5,#4452a5,#4752a5,#4c51a4,#5151a4,#5650a3,#5a50a3,#6150a3,#674fa2,#6250a3,#5b50a3,#5550a3,#5051a4,#4b51a4,#4552a5,#4452a5,#4951a4,#4e51a4,#5251a4,#5750a3,#5b50a3,#5f50a3,#5d50a3,#5c50a3,#5a50a3,#5950a3,#5850a3,#5750a3,#5550a3,#5351a4,#5051a4,#4e51a4,#4c51a4,#4a51a4,#4852a5,#4a51a4,#4c51a4,#4e51a4,#5151a4,#5351a4,#5550a3,#5650a3,#5251a4,#4e51a4,#4852a5,#4352a5,#3f52a5,#4052a5,#4552a5,#4a51a4,#4f51a4,#5451a4,#5950a3,#5e50a3,#6050a3,#6250a3,#644fa2,#654fa2,#654fa2,#654fa2)"></i><i style="height:3px;background:linear-gradient(90deg,#6b4fa2,#6c4fa2,#6d4fa2,#6d4fa2,#6b4fa2,#644fa2,#5a50a3,#5650a3,#5351a4,#4f51a4,#4b51a4,#4652a5,#4252a5,#3f52a5,#3e53a4,#3e52a5,#3f52a5,#4152a5,#4252a5,#4452a5,#4951a4,#4f51a4,#5451a4,#5950a3,#5f50a3,#654fa2,#6050a3,#5950a3,#5451a4,#4f51a4,#4952a5,#4352a5,#4252a5,#4852a5,#4d51a4,#5151a4,#5650a3,#5a50a3,#5f50a3,#5e50a3,#5d50a3,#5b50a3,#5a50a3,#5950a3,#5950a3,#5a50a3,#5a50a3,#5850a3,#5650a3,#5451a4,#5251a4,#5151a4,#5451a4,#5650a3,#5850a3,#5a50a3,#5950a3,#5650a3,#5151a4,#4c51a4,#4652a5,#4252a5,#3e52a5,#3d53a4,#3c53a4,#3d53a4,#4252a5,#4752a5,#4c51a4,#5151a4,#5550a3,#5750a3,#5850a3,#5a50a3,#5b50a3,#5e50a3,#634fa2)"></i><i style="height:3px;background:linear-gradient(90deg,#6e4fa2,#6f4fa2,#704fa2,#704fa2,#714fa2,#724fa2,#6f4fa2,#694fa2,#634fa2,#5b50a3,#5650a3,#5051a4,#4a51a4,#4652a5,#4352a5,#4152a5,#4052a5,#3f52a5,#4052a5,#4152a5,#4652a5,#4c51a4,#5151a4,#5750a3,#5d50a3,#634fa2,#5e50a3,#5750a3,#5151a4,#4b51a4,#4452a5,#3f52a5,#3f52a5,#4452a5,#4a51a4,#5051a4,#5550a3,#5a50a3,#6050a3,#5e50a3,#5d50a3,#5d50a3,#5d50a3,#5e50a3,#5f50a3,#6150a3,#644fa2,#674fa2,#674fa2,#654fa2,#624fa2,#624fa2,#654fa2,#664fa2,#644fa2,#5e50a3,#5850a3,#5351a4,#4e51a4,#4951a4,#4552a5,#4352a5,#4452a5,#4552a5,#4252a5,#3f52a5,#3d53a4,#4052a5,#4452a5,#4951a4,#4d51a4,#4f51a4,#5051a4,#5251a4,#5650a3,#5a50a3,#5f50a3)"></i><i style="height:3px;background:linear-gradient(90deg,#714fa2,#724fa2,#724fa1,#734fa1,#734fa1,#744fa1,#744fa1,#704fa2,#6b4fa2,#654fa2,#5f50a3,#5850a3,#5351a4,#4f51a4,#4c51a4,#4951a4,#4652a5,#4352a5,#4052a5,#3f52a5,#4452a5,#4952a5,#4e51a4,#5451a4,#5850a3,#5d50a3,#5850a3,#5251a4,#4c51a4,#4652a5,#4052a5,#3b53a4,#3b53a4,#4052a5,#4652a5,#4c51a4,#5251a4,#5950a3,#624fa2,#624fa2,#624fa2,#634fa2,#634fa2,#644fa2,#654fa2,#674fa2,#6a4fa2,#6d4fa2,#6f4fa2,#724fa1,#734fa1,#724fa1,#6f4fa2,#684fa2,#6250a3,#5b50a3,#5650a3,#5151a4,#4d51a4,#4b51a4,#4b51a4,#4d51a4,#4e51a4,#4f51a4,#4c51a4,#4852a5,#4452a5,#4152a5,#3f52a5,#4252a5,#4552a5,#4752a5,#4b51a4,#4f51a4,#5351a4,#5750a3,#5b50a3)"></i><i style="height:3px;background:linear-gradient(90deg,#734fa1,#744fa1,#744fa1,#744fa1,#744fa1,#754fa1,#754fa1,#714fa2,#6c4fa2,#674fa2,#624fa2,#5d50a3,#5950a3,#5451a4,#5051a4,#4b51a4,#4752a5,#4352a5,#3f52a5,#3c53a4,#4152a5,#4652a5,#4b51a4,#4f51a4,#5251a4,#5550a3,#5251a4,#4c51a4,#4652a5,#4152a5,#3c53a4,#3954a5,#3954a5,#3d53a4,#4452a5,#4d51a4,#5650a3,#6150a3,#6c4fa2,#6c4fa2,#6c4fa2,#6c4fa2,#6b4fa2,#694fa2,#664fa2,#674fa2,#694fa2,#6b4fa2,#6c4fa2,#6d4fa2,#6e4fa2,#6c4fa2,#674fa2,#6150a3,#5b50a3,#5750a3,#5251a4,#4f51a4,#5051a4,#5151a4,#5251a4,#5351a4,#5451a4,#5650a3,#5451a4,#5051a4,#4c51a4,#4852a5,#4452a5,#4152a5,#4052a5,#4452a5,#4852a5,#4c51a4,#5051a4,#5550a3,#5850a3)"></i><i style="height:3px;background:linear-gradient(90deg,#754fa1,#754fa1,#754fa1,#754fa1,#754fa1,#764fa1,#764fa1,#724fa2,#6d4fa2,#684fa2,#634fa2,#5f50a3,#5b50a3,#5650a3,#5051a4,#4a51a4,#4452a5,#4052a5,#3c53a4,#3a53a4,#3e53a4,#4252a5,#4552a5,#4852a5,#4c51a4,#4f51a4,#4b51a4,#4652a5,#4052a5,#3c53a4,#3953a4,#3954a5,#3c53a4,#4452a5,#4d51a4,#5550a3,#6050a3,#6c4fa2,#774fa1,#754fa1,#724fa1,#6d4fa2,#664fa2,#5e50a3,#5850a3,#5950a3,#5d50a3,#6050a3,#6150a3,#624fa2,#634fa2,#6250a3,#5c50a3,#5750a3,#5351a4,#5051a4,#4e51a4,#4c51a4,#4d51a4,#4f51a4,#5051a4,#5151a4,#5351a4,#5650a3,#5550a3,#5151a4,#4e51a4,#4a51a4,#4652a5,#4252a5,#4152a5,#4352a5,#4552a5,#4951a4,#4e51a4,#5251a4,#5650a3)"></i><i style="height:3px;background:linear-gradient(90deg,#774fa1,#774fa1,#774fa1,#774fa1,#774fa1,#774fa1,#774fa1,#734fa1,#6e4fa2,#6a4fa2,#654fa2,#6150a3,#5c50a3,#5750a3,#5151a4,#4b51a4,#4552a5,#3f52a5,#3a53a4,#3955a6,#3a53a4,#3d53a4,#3f52a5,#4252a5,#4552a5,#4952a5,#4552a5,#4052a5,#3e53a4,#3e52a5,#4152a5,#4452a5,#4a51a4,#5251a4,#5a50a3,#644fa2,#6b4fa2,#6e4fa2,#6d4fa2,#684fa2,#634fa2,#5c50a3,#5650a3,#5051a4,#4b51a4,#4c51a4,#5051a4,#5351a4,#5650a3,#5850a3,#5950a3,#5850a3,#5351a4,#5051a4,#4e51a4,#4c51a4,#4a51a4,#4952a5,#4a51a4,#4b51a4,#4d51a4,#5051a4,#5351a4,#5650a3,#5550a3,#5151a4,#4e51a4,#4a51a4,#4752a5,#4352a5,#4252a5,#4352a5,#4652a5,#4852a5,#4b51a4,#4f51a4,#5351a4)"></i><i style="height:3px;background:linear-gradient(90deg,#794fa1,#794fa1,#794fa1,#794fa1,#784fa1,#784fa1,#784fa1,#744fa1,#704fa2,#6b4fa2,#674fa2,#634fa2,#5e50a3,#5950a3,#5251a4,#4c51a4,#4652a5,#3f52a5,#3954a4,#3a59a9,#3a56a7,#3954a5,#3a53a4,#3d53a4,#4052a5,#4352a5,#4352a5,#4452a5,#4852a5,#4b51a4,#4f51a4,#5251a4,#5650a3,#5750a3,#5850a3,#5750a3,#5650a3,#5550a3,#5351a4,#5051a4,#4c51a4,#4952a5,#4652a5,#4252a5,#4052a5,#4152a5,#4452a5,#4852a5,#4b51a4,#4f51a4,#5251a4,#5051a4,#4e51a4,#4c51a4,#4b51a4,#4952a5,#4752a5,#4652a5,#4752a5,#4952a5,#4c51a4,#5051a4,#5351a4,#5650a3,#5550a3,#5151a4,#4e51a4,#4a51a4,#4752a5,#4452a5,#4252a5,#4552a5,#4752a5,#4951a4,#4b51a4,#4e51a4,#5151a4)"></i><i style="height:3px;background:linear-gradient(90deg,#7b4fa1,#7b4fa1,#7b4fa1,#7b4fa1,#7a4fa1,#7a4fa1,#7a4fa1,#764fa1,#724fa2,#6d4fa2,#694fa2,#654fa2,#6050a3,#5a50a3,#5351a4,#4c51a4,#4352a5,#3b53a4,#3a57a7,#3b60ad,#3b5cab,#3a58a8,#3955a6,#3a53a4,#3e52a5,#4252a5,#4652a5,#4a51a4,#4d51a4,#5051a4,#5451a4,#5850a3,#5750a3,#5351a4,#4e51a4,#4951a4,#4552a5,#4252a5,#4052a5,#3f52a5,#4052a5,#4052a5,#4152a5,#4252a5,#4452a5,#4752a5,#4a51a4,#4e51a4,#5151a4,#5351a4,#5351a4,#5051a4,#4b51a4,#4852a5,#4752a5,#4552a5,#4452a5,#4252a5,#4552a5,#4952a5,#4c51a4,#5051a4,#5351a4,#5650a3,#5550a3,#5151a4,#4f51a4,#4c51a4,#4b51a4,#4a51a4,#4752a5,#4552a5,#4752a5,#4951a4,#4c51a4,#4e51a4,#5051a4)"></i><i style="height:3px;background:linear-gradient(90deg,#7e4fa1,#7d4fa1,#7d4fa1,#7d4fa1,#7d4fa1,#7d4fa1,#7c4fa1,#784fa1,#744fa1,#704fa2,#6b4fa2,#674fa2,#6150a3,#5b50a3,#5351a4,#4b51a4,#4252a5,#3a53a4,#3a59a8,#3b61af,#3b5dac,#3a58a8,#3954a5,#3c53a4,#4052a5,#4552a5,#4852a5,#4c51a4,#4f51a4,#5351a4,#5750a3,#5b50a3,#5b50a3,#5650a3,#5151a4,#4c51a4,#4652a5,#4152a5,#3e53a4,#4252a5,#4752a5,#4a51a4,#4c51a4,#4e51a4,#5051a4,#5351a4,#5650a3,#5850a3,#5950a3,#5750a3,#5650a3,#5351a4,#4d51a4,#4852a5,#4352a5,#4152a5,#4052a5,#3f52a5,#4252a5,#4652a5,#4a51a4,#4e51a4,#5351a4,#5850a3,#5850a3,#5750a3,#5650a3,#5451a4,#5351a4,#5251a4,#5051a4,#4b51a4,#4852a5,#4951a4,#4c51a4,#4e51a4,#5051a4)"></i><i style="height:3px;background:linear-gradient(90deg,#7f4fa1,#7f4fa1,#804fa1,#804fa1,#7f4fa1,#7f4fa1,#7f4fa1,#7b4fa1,#764fa1,#724fa2,#6c4fa2,#654fa2,#5d50a3,#5750a3,#5351a4,#4e51a4,#4952a5,#4252a5,#3b53a4,#3a57a7,#3955a5,#3953a4,#3c53a4,#3f52a5,#4252a5,#4752a5,#4b51a4,#4e51a4,#5251a4,#5650a3,#5a50a3,#5f50a3,#5f50a3,#5950a3,#5550a3,#5151a4,#4c51a4,#4952a5,#4652a5,#4951a4,#4d51a4,#5251a4,#5650a3,#5950a3,#5c50a3,#5f50a3,#5f50a3,#5e50a3,#5c50a3,#5a50a3,#5950a3,#5650a3,#5051a4,#4b51a4,#4552a5,#4052a5,#3d53a4,#3b53a4,#3f52a5,#4452a5,#4a51a4,#5251a4,#5a50a3,#644fa2,#654fa2,#6250a3,#6050a3,#5e50a3,#5c50a3,#5b50a3,#5850a3,#5451a4,#4f51a4,#4b51a4,#4c51a4,#4e51a4,#5051a4)"></i><i style="height:3px;background:linear-gradient(90deg,#814fa1,#814fa1,#814fa1,#814fa1,#824fa1,#814fa1,#814fa1,#7d4fa1,#764fa1,#6e4fa2,#674fa2,#5f50a3,#5850a3,#5351a4,#4f51a4,#4a51a4,#4652a5,#4252a5,#3f52a5,#3e53a4,#3f52a5,#4252a5,#4452a5,#4752a5,#4951a4,#4c51a4,#4b51a4,#4c51a4,#5051a4,#5451a4,#5850a3,#5d50a3,#6250a3,#654fa2,#684fa2,#6a4fa2,#694fa2,#694fa2,#674fa2,#694fa2,#6a4fa2,#6a4fa2,#674fa2,#664fa2,#654fa2,#644fa2,#634fa2,#6150a3,#6050a3,#5e50a3,#5c50a3,#5950a3,#5351a4,#4e51a4,#4852a5,#4452a5,#4052a5,#3e53a4,#4452a5,#4c51a4,#5451a4,#5d50a3,#664fa2,#6c4fa2,#6e4fa2,#6e4fa2,#6c4fa2,#6a4fa2,#684fa2,#674fa2,#634fa2,#5d50a3,#5850a3,#5351a4,#4f51a4,#4e51a4,#5051a4)"></i><i style="height:3px;background:linear-gradient(90deg,#7f4fa1,#7e4fa1,#7b4fa1,#794fa1,#774fa1,#794fa1,#7f4fa1,#794fa1,#714fa2,#694fa2,#6150a3,#5950a3,#5451a4,#4f51a4,#4a51a4,#4652a5,#4352a5,#4352a5,#4652a5,#4852a5,#4951a4,#4a51a4,#4c51a4,#4e51a4,#5151a4,#5451a4,#5151a4,#4d51a4,#4b51a4,#4d51a4,#5151a4,#5550a3,#5850a3,#5d50a3,#634fa2,#684fa2,#6e4fa2,#734fa1,#764fa1,#724fa2,#6c4fa2,#674fa2,#654fa2,#654fa2,#664fa2,#654fa2,#644fa2,#634fa2,#624fa2,#6150a3,#6050a3,#5c50a3,#5850a3,#5451a4,#5051a4,#4c51a4,#4952a5,#4652a5,#4e51a4,#5650a3,#5e50a3,#654fa2,#684fa2,#6a4fa2,#6c4fa2,#6d4fa2,#6f4fa2,#704fa2,#714fa2,#714fa2,#6e4fa2,#684fa2,#624fa2,#5c50a3,#5750a3,#5351a4,#5051a4)"></i><i style="height:3px;background:linear-gradient(90deg,#6150a3,#5e50a3,#5e50a3,#6250a3,#6a4fa2,#724fa1,#7b4fa1,#754fa1,#6c4fa2,#644fa2,#5b50a3,#5550a3,#4f51a4,#4a51a4,#4752a5,#4852a5,#4b51a4,#4e51a4,#5251a4,#5451a4,#5550a3,#5650a3,#5650a3,#5750a3,#5950a3,#5b50a3,#5850a3,#5550a3,#5151a4,#4d51a4,#4b51a4,#4d51a4,#5151a4,#5550a3,#5950a3,#5e50a3,#634fa2,#694fa2,#6c4fa2,#684fa2,#654fa2,#654fa2,#664fa2,#664fa2,#664fa2,#664fa2,#654fa2,#644fa2,#634fa2,#6250a3,#6150a3,#5f50a3,#5d50a3,#5b50a3,#5950a3,#5650a3,#5251a4,#5051a4,#5750a3,#5d50a3,#6050a3,#634fa2,#654fa2,#684fa2,#6a4fa2,#6b4fa2,#6c4fa2,#6e4fa2,#6f4fa2,#704fa2,#704fa2,#6f4fa2,#6a4fa2,#644fa2,#5e50a3,#5950a3,#5550a3)"></i><i style="height:3px;background:linear-gradient(90deg,#4f51a4,#5251a4,#5750a3,#5e50a3,#664fa2,#6f4fa2,#774fa1,#714fa2,#694fa2,#6050a3,#5850a3,#5351a4,#4d51a4,#4b51a4,#4d51a4,#5151a4,#5451a4,#5750a3,#5b50a3,#5f50a3,#5f50a3,#5f50a3,#6050a3,#6150a3,#6150a3,#634fa2,#5f50a3,#5a50a3,#5650a3,#5251a4,#4e51a4,#4a51a4,#4b51a4,#4f51a4,#5351a4,#5750a3,#5b50a3,#6050a3,#644fa2,#654fa2,#664fa2,#664fa2,#664fa2,#674fa2,#674fa2,#664fa2,#664fa2,#654fa2,#644fa2,#624fa2,#6150a3,#5f50a3,#5d50a3,#5b50a3,#5950a3,#5950a3,#5850a3,#5750a3,#5950a3,#5b50a3,#5e50a3,#6150a3,#634fa2,#664fa2,#684fa2,#694fa2,#6a4fa2,#6b4fa2,#6c4fa2,#6d4fa2,#6e4fa2,#6d4fa2,#6c4fa2,#6a4fa2,#654fa2,#5f50a3,#5a50a3)"></i><i style="height:3px;background:linear-gradient(90deg,#5e50a3,#5f50a3,#6150a3,#634fa2,#674fa2,#6d4fa2,#744fa1,#6e4fa2,#674fa2,#6150a3,#5c50a3,#5850a3,#5550a3,#5351a4,#5251a4,#5351a4,#5650a3,#5950a3,#5e50a3,#6150a3,#5f50a3,#5d50a3,#5d50a3,#5e50a3,#5f50a3,#5f50a3,#5c50a3,#5850a3,#5451a4,#5051a4,#4c51a4,#4852a5,#4852a5,#4c51a4,#5051a4,#5451a4,#5750a3,#5b50a3,#5f50a3,#624fa2,#654fa2,#674fa2,#674fa2,#674fa2,#684fa2,#674fa2,#664fa2,#654fa2,#644fa2,#624fa2,#6150a3,#5f50a3,#5d50a3,#5a50a3,#5950a3,#5850a3,#5750a3,#5650a3,#5850a3,#5a50a3,#5c50a3,#5f50a3,#6150a3,#654fa2,#664fa2,#664fa2,#674fa2,#684fa2,#694fa2,#6a4fa2,#6b4fa2,#6a4fa2,#694fa2,#684fa2,#684fa2,#654fa2,#6150a3)"></i><i style="height:3px;background:linear-gradient(90deg,#6a4fa2,#6b4fa2,#6d4fa2,#6f4fa2,#704fa2,#724fa2,#734fa1,#6d4fa2,#6b4fa2,#6a4fa2,#674fa2,#634fa2,#5e50a3,#5c50a3,#5b50a3,#5a50a3,#5a50a3,#5b50a3,#5f50a3,#634fa2,#6050a3,#5e50a3,#5c50a3,#5a50a3,#5a50a3,#5b50a3,#5850a3,#5550a3,#5151a4,#4e51a4,#4a51a4,#4652a5,#4652a5,#4a51a4,#4e51a4,#5151a4,#5451a4,#5650a3,#5950a3,#5d50a3,#6050a3,#644fa2,#674fa2,#684fa2,#694fa2,#684fa2,#674fa2,#654fa2,#644fa2,#624fa2,#6150a3,#5f50a3,#5d50a3,#5a50a3,#5850a3,#5750a3,#5650a3,#5550a3,#5750a3,#5950a3,#5b50a3,#5f50a3,#644fa2,#684fa2,#684fa2,#674fa2,#664fa2,#664fa2,#664fa2,#674fa2,#684fa2,#674fa2,#664fa2,#654fa2,#654fa2,#634fa2,#624fa2)"></i><i style="height:3px;background:linear-gradient(90deg,#6b4fa2,#6c4fa2,#6e4fa2,#6f4fa2,#714fa2,#724fa1,#724fa1,#694fa2,#6050a3,#5d50a3,#6150a3,#644fa2,#654fa2,#644fa2,#644fa2,#634fa2,#624fa2,#6150a3,#6150a3,#644fa2,#624fa2,#6050a3,#5d50a3,#5b50a3,#5950a3,#5850a3,#5550a3,#5251a4,#4e51a4,#4b51a4,#4752a5,#4452a5,#4452a5,#4752a5,#4a51a4,#4c51a4,#4f51a4,#5251a4,#5550a3,#5850a3,#5b50a3,#5f50a3,#624fa2,#664fa2,#694fa2,#684fa2,#674fa2,#654fa2,#644fa2,#624fa2,#6150a3,#5f50a3,#5d50a3,#5a50a3,#5850a3,#5750a3,#5550a3,#5451a4,#5750a3,#5a50a3,#5e50a3,#634fa2,#674fa2,#6c4fa2,#6c4fa2,#6b4fa2,#694fa2,#684fa2,#664fa2,#654fa2,#654fa2,#644fa2,#634fa2,#6150a3,#6050a3,#5f50a3,#5e50a3)"></i><i style="height:3px;background:linear-gradient(90deg,#6c4fa2,#6d4fa2,#6f4fa2,#704fa2,#714fa2,#714fa2,#714fa2,#694fa2,#5f50a3,#5650a3,#5051a4,#5151a4,#5451a4,#5650a3,#5550a3,#5550a3,#5650a3,#5950a3,#6150a3,#694fa2,#674fa2,#644fa2,#624fa2,#6050a3,#5c50a3,#5750a3,#5351a4,#5051a4,#4c51a4,#4951a4,#4652a5,#4252a5,#4252a5,#4452a5,#4752a5,#4951a4,#4c51a4,#4f51a4,#5251a4,#5550a3,#5850a3,#5c50a3,#6150a3,#664fa2,#6b4fa2,#6a4fa2,#684fa2,#664fa2,#644fa2,#624fa2,#6150a3,#5f50a3,#5c50a3,#5a50a3,#5750a3,#5451a4,#5051a4,#4e51a4,#5550a3,#5c50a3,#624fa2,#674fa2,#6b4fa2,#704fa2,#704fa2,#6e4fa2,#6d4fa2,#6b4fa2,#674fa2,#6250a3,#5e50a3,#5e50a3,#5d50a3,#5d50a3,#5c50a3,#5b50a3,#5a50a3)"></i><i style="height:3px;background:linear-gradient(90deg,#6c4fa2,#6e4fa2,#6f4fa2,#714fa2,#714fa2,#714fa2,#714fa2,#684fa2,#5e50a3,#5550a3,#4e51a4,#4652a5,#4352a5,#4452a5,#4752a5,#4c51a4,#5451a4,#5c50a3,#664fa2,#6e4fa2,#6c4fa2,#6a4fa2,#674fa2,#634fa2,#5b50a3,#5650a3,#5251a4,#4e51a4,#4b51a4,#4852a5,#4452a5,#4252a5,#4152a5,#4352a5,#4652a5,#4852a5,#4b51a4,#4e51a4,#5351a4,#5650a3,#5a50a3,#5f50a3,#644fa2,#694fa2,#6e4fa2,#6d4fa2,#6b4fa2,#684fa2,#664fa2,#644fa2,#6150a3,#5d50a3,#5850a3,#5451a4,#5051a4,#4c51a4,#4952a5,#4652a5,#4e51a4,#5650a3,#5e50a3,#684fa2,#6f4fa2,#744fa1,#744fa1,#714fa2,#6d4fa2,#674fa2,#6050a3,#5a50a3,#5750a3,#5750a3,#5750a3,#5750a3,#5650a3,#5650a3,#5650a3)"></i><i style="height:3px;background:linear-gradient(90deg,#6d4fa2,#6f4fa2,#704fa2,#704fa2,#704fa2,#704fa2,#704fa2,#674fa2,#5d50a3,#5550a3,#4d51a4,#4752a5,#4352a5,#4552a5,#4a51a4,#5051a4,#5850a3,#6150a3,#6c4fa2,#744fa1,#724fa2,#6f4fa2,#684fa2,#6150a3,#5a50a3,#5451a4,#5051a4,#4d51a4,#4a51a4,#4652a5,#4352a5,#4152a5,#4052a5,#4252a5,#4552a5,#4752a5,#4a51a4,#5051a4,#5650a3,#5a50a3,#5e50a3,#624fa2,#674fa2,#6c4fa2,#714fa2,#704fa2,#6d4fa2,#6b4fa2,#684fa2,#654fa2,#624fa2,#5d50a3,#5650a3,#5051a4,#4a51a4,#4552a5,#4152a5,#3f52a5,#4652a5,#4e51a4,#5650a3,#5f50a3,#694fa2,#744fa1,#724fa2,#6b4fa2,#654fa2,#5f50a3,#5950a3,#5451a4,#5151a4,#5151a4,#5151a4,#5151a4,#5151a4,#5151a4,#5151a4)"></i><i style="height:3px;background:linear-gradient(90deg,#6e4fa2,#6f4fa2,#6f4fa2,#6f4fa2,#6f4fa2,#6f4fa2,#6f4fa2,#674fa2,#5d50a3,#5750a3,#5451a4,#5451a4,#5351a4,#5550a3,#5950a3,#5d50a3,#634fa2,#6a4fa2,#724fa2,#794fa1,#754fa1,#6e4fa2,#664fa2,#5f50a3,#5850a3,#5351a4,#4f51a4,#4c51a4,#4852a5,#4552a5,#4252a5,#4052a5,#3f52a5,#4152a5,#4352a5,#4752a5,#4d51a4,#5451a4,#5950a3,#5e50a3,#624fa2,#674fa2,#6b4fa2,#6f4fa2,#724fa2,#714fa2,#6f4fa2,#6c4fa2,#694fa2,#664fa2,#634fa2,#5e50a3,#5650a3,#5051a4,#4a51a4,#4352a5,#3e53a4,#3b53a4,#4052a5,#4752a5,#4f51a4,#5750a3,#6150a3,#6c4fa2,#6a4fa2,#644fa2,#5d50a3,#5850a3,#5351a4,#4e51a4,#4b51a4,#4b51a4,#4b51a4,#4b51a4,#4b51a4,#4b51a4,#4b51a4)"></i><i style="height:3px;background:linear-gradient(90deg,#6f4fa2,#6f4fa2,#6f4fa2,#6f4fa2,#6f4fa2,#6f4fa2,#6f4fa2,#6a4fa2,#684fa2,#674fa2,#664fa2,#654fa2,#644fa2,#664fa2,#6a4fa2,#6d4fa2,#704fa2,#734fa1,#764fa1,#764fa1,#704fa2,#694fa2,#624fa2,#5c50a3,#5650a3,#5151a4,#4e51a4,#4b51a4,#4752a5,#4452a5,#4152a5,#3f52a5,#3e52a5,#4052a5,#4452a5,#4a51a4,#5151a4,#5750a3,#5d50a3,#6250a3,#664fa2,#6b4fa2,#6d4fa2,#6f4fa2,#704fa2,#704fa2,#6e4fa2,#6c4fa2,#6a4fa2,#674fa2,#644fa2,#5f50a3,#5750a3,#5151a4,#4a51a4,#4552a5,#4252a5,#4152a5,#3f52a5,#4252a5,#4951a4,#5251a4,#5a50a3,#654fa2,#624fa2,#5c50a3,#5650a3,#5251a4,#4d51a4,#4852a5,#4552a5,#4552a5,#4552a5,#4552a5,#4552a5,#4552a5,#4552a5)"></i><i style="height:3px;background:linear-gradient(90deg,#714fa2,#714fa2,#714fa2,#714fa2,#714fa2,#714fa2,#714fa2,#6e4fa2,#6b4fa2,#6a4fa2,#694fa2,#684fa2,#674fa2,#674fa2,#674fa2,#684fa2,#684fa2,#6a4fa2,#6c4fa2,#6c4fa2,#664fa2,#6050a3,#5b50a3,#5850a3,#5550a3,#5351a4,#5051a4,#4b51a4,#4752a5,#4452a5,#4152a5,#3e53a4,#3e53a4,#4152a5,#4752a5,#4d51a4,#5451a4,#5a50a3,#6250a3,#664fa2,#694fa2,#6a4fa2,#6c4fa2,#6d4fa2,#6e4fa2,#6e4fa2,#6d4fa2,#6c4fa2,#6a4fa2,#684fa2,#654fa2,#5f50a3,#5850a3,#5251a4,#4e51a4,#4c51a4,#4b51a4,#4952a5,#4752a5,#4452a5,#4552a5,#4c51a4,#5451a4,#5d50a3,#5b50a3,#5650a3,#5151a4,#4c51a4,#4752a5,#4252a5,#4052a5,#4052a5,#4052a5,#4052a5,#4052a5,#4052a5,#4052a5)"></i><i style="height:3px;background:linear-gradient(90deg,#744fa1,#744fa1,#744fa1,#744fa1,#744fa1,#744fa1,#744fa1,#704fa2,#6d4fa2,#694fa2,#664fa2,#654fa2,#654fa2,#644fa2,#644fa2,#644fa2,#644fa2,#644fa2,#634fa2,#654fa2,#634fa2,#6050a3,#5d50a3,#5b50a3,#5950a3,#5750a3,#5351a4,#4f51a4,#4a51a4,#4652a5,#4252a5,#3e52a5,#3e52a5,#4352a5,#4951a4,#5051a4,#5650a3,#5d50a3,#644fa2,#664fa2,#674fa2,#684fa2,#6a4fa2,#6b4fa2,#6c4fa2,#6c4fa2,#6b4fa2,#6a4fa2,#694fa2,#684fa2,#664fa2,#6050a3,#5a50a3,#5750a3,#5650a3,#5451a4,#5351a4,#5151a4,#4f51a4,#4d51a4,#4b51a4,#4a51a4,#4f51a4,#5650a3,#5550a3,#5051a4,#4b51a4,#4652a5,#4252a5,#3f52a5,#3e53a4,#3e53a4,#3e53a4,#3e53a4,#3e53a4,#3e53a4,#3d53a4)"></i><i style="height:3px;background:linear-gradient(90deg,#774fa1,#774fa1,#774fa1,#774fa1,#774fa1,#774fa1,#774fa1,#734fa1,#704fa2,#6c4fa2,#684fa2,#644fa2,#6250a3,#6150a3,#6050a3,#5e50a3,#5b50a3,#5a50a3,#5f50a3,#654fa2,#654fa2,#644fa2,#624fa2,#6050a3,#5d50a3,#5b50a3,#5750a3,#5251a4,#4e51a4,#4a51a4,#4652a5,#4352a5,#4252a5,#4452a5,#4952a5,#4f51a4,#5550a3,#5c50a3,#644fa2,#654fa2,#664fa2,#674fa2,#684fa2,#694fa2,#6a4fa2,#6a4fa2,#694fa2,#674fa2,#664fa2,#654fa2,#634fa2,#6150a3,#6150a3,#6050a3,#5e50a3,#5d50a3,#5c50a3,#5a50a3,#5750a3,#5550a3,#5351a4,#5151a4,#4f51a4,#5151a4,#5051a4,#4c51a4,#4951a4,#4752a5,#4652a5,#4452a5,#4452a5,#4452a5,#4452a5,#4452a5,#4452a5,#4352a5,#4252a5)"></i><i style="height:3px;background:linear-gradient(90deg,#7a4fa1,#7a4fa1,#7a4fa1,#7a4fa1,#7a4fa1,#7a4fa1,#794fa1,#764fa1,#724fa1,#6f4fa2,#6b4fa2,#664fa2,#5e50a3,#5750a3,#5451a4,#5251a4,#5451a4,#5950a3,#6050a3,#664fa2,#664fa2,#654fa2,#654fa2,#644fa2,#624fa2,#5f50a3,#5a50a3,#5650a3,#5251a4,#4f51a4,#4b51a4,#4852a5,#4752a5,#4852a5,#4a51a4,#4f51a4,#5550a3,#5b50a3,#634fa2,#644fa2,#654fa2,#664fa2,#674fa2,#684fa2,#6a4fa2,#654fa2,#6150a3,#5f50a3,#5d50a3,#5b50a3,#5950a3,#5950a3,#5950a3,#5950a3,#5950a3,#5a50a3,#5a50a3,#5c50a3,#5950a3,#5750a3,#5550a3,#5251a4,#5051a4,#4f51a4,#5151a4,#5251a4,#5051a4,#4f51a4,#4e51a4,#4c51a4,#4c51a4,#4c51a4,#4c51a4,#4b51a4,#4a51a4,#4952a5,#4752a5)"></i><i style="height:3px;background:linear-gradient(90deg,#7d4fa1,#7d4fa1,#7d4fa1,#7d4fa1,#7d4fa1,#7d4fa1,#7d4fa1,#794fa1,#754fa1,#714fa2,#694fa2,#5c50a3,#5151a4,#4b51a4,#4b51a4,#4f51a4,#5451a4,#5950a3,#6050a3,#664fa2,#664fa2,#664fa2,#664fa2,#654fa2,#654fa2,#644fa2,#6050a3,#5b50a3,#5750a3,#5451a4,#5151a4,#4d51a4,#4c51a4,#4e51a4,#4f51a4,#5151a4,#5451a4,#5a50a3,#6250a3,#634fa2,#644fa2,#654fa2,#674fa2,#694fa2,#6c4fa2,#654fa2,#5d50a3,#5750a3,#5451a4,#5351a4,#5151a4,#5151a4,#5151a4,#5151a4,#5251a4,#5351a4,#5550a3,#5650a3,#5451a4,#5251a4,#4f51a4,#4d51a4,#4c51a4,#4c51a4,#4f51a4,#5351a4,#5650a3,#5750a3,#5650a3,#5451a4,#5351a4,#5351a4,#5351a4,#5251a4,#5051a4,#4f51a4,#4d51a4)"></i><i style="height:3px;background:linear-gradient(90deg,#7f4fa1,#7f4fa1,#804fa1,#804fa1,#804fa1,#804fa1,#804fa1,#7c4fa1,#744fa1,#684fa2,#5c50a3,#5251a4,#4a51a4,#4652a5,#4a51a4,#4f51a4,#5451a4,#5a50a3,#6150a3,#674fa2,#674fa2,#664fa2,#664fa2,#664fa2,#664fa2,#674fa2,#654fa2,#624fa2,#5e50a3,#5950a3,#5650a3,#5351a4,#5251a4,#5351a4,#5451a4,#5650a3,#5750a3,#5a50a3,#6150a3,#6250a3,#644fa2,#664fa2,#684fa2,#6b4fa2,#6d4fa2,#674fa2,#5f50a3,#5750a3,#5151a4,#4c51a4,#4951a4,#4952a5,#4951a4,#4a51a4,#4c51a4,#4e51a4,#4f51a4,#5151a4,#4e51a4,#4c51a4,#4a51a4,#4952a5,#4952a5,#4951a4,#4c51a4,#5151a4,#5550a3,#5950a3,#5d50a3,#5d50a3,#5c50a3,#5b50a3,#5950a3,#5850a3,#5650a3,#5550a3,#5351a4)"></i><i style="height:3px;background:linear-gradient(90deg,#814fa1,#824fa1,#824fa1,#824fa1,#824fa1,#834fa1,#834fa1,#7e4fa1,#774fa1,#6f4fa2,#674fa2,#5f50a3,#5750a3,#5251a4,#4e51a4,#5051a4,#5550a3,#5a50a3,#6250a3,#684fa2,#674fa2,#674fa2,#674fa2,#674fa2,#694fa2,#6b4fa2,#694fa2,#664fa2,#644fa2,#6050a3,#5c50a3,#5850a3,#5750a3,#5850a3,#5a50a3,#5b50a3,#5d50a3,#5e50a3,#6050a3,#634fa2,#654fa2,#684fa2,#6a4fa2,#6d4fa2,#6f4fa2,#694fa2,#6050a3,#5850a3,#5251a4,#4c51a4,#4652a5,#4352a5,#4352a5,#4552a5,#4752a5,#4852a5,#4a51a4,#4b51a4,#4951a4,#4752a5,#4652a5,#4652a5,#4652a5,#4652a5,#4a51a4,#4e51a4,#5251a4,#5650a3,#5b50a3,#6150a3,#644fa2,#634fa2,#6150a3,#5f50a3,#5d50a3,#5b50a3,#5950a3)"></i><i style="height:3px;background:linear-gradient(90deg,#844fa0,#844fa0,#844fa0,#844fa0,#844fa0,#844fa0,#844fa0,#824fa1,#7f4fa1,#7c4fa1,#774fa1,#724fa1,#6c4fa2,#654fa2,#5d50a3,#5750a3,#5650a3,#5b50a3,#624fa2,#684fa2,#684fa2,#684fa2,#684fa2,#6a4fa2,#6c4fa2,#6f4fa2,#6d4fa2,#6a4fa2,#674fa2,#654fa2,#6250a3,#5e50a3,#5d50a3,#5e50a3,#5f50a3,#5f50a3,#5e50a3,#5e50a3,#5e50a3,#6250a3,#654fa2,#694fa2,#6c4fa2,#6e4fa2,#714fa2,#6b4fa2,#624fa2,#5a50a3,#5550a3,#5151a4,#4d51a4,#4a51a4,#4652a5,#4352a5,#4252a5,#4352a5,#4552a5,#4652a5,#4452a5,#4352a5,#4352a5,#4352a5,#4352a5,#4452a5,#4752a5,#4b51a4,#5051a4,#5451a4,#5950a3,#6050a3,#654fa2,#654fa2,#654fa2,#644fa2,#644fa2,#624fa2,#6150a3)"></i><i style="height:3px;background:linear-gradient(90deg,#864fa0,#864fa0,#864fa0,#864fa0,#864fa0,#854fa0,#854fa0,#834fa1,#804fa1,#7d4fa1,#7a4fa1,#784fa1,#754fa1,#734fa1,#6f4fa2,#6a4fa2,#644fa2,#6050a3,#634fa2,#694fa2,#694fa2,#6a4fa2,#6c4fa2,#6e4fa2,#704fa2,#724fa1,#704fa2,#6e4fa2,#6b4fa2,#684fa2,#664fa2,#624fa2,#5f50a3,#5e50a3,#5d50a3,#5d50a3,#5c50a3,#5b50a3,#5c50a3,#5f50a3,#634fa2,#674fa2,#6b4fa2,#6f4fa2,#724fa2,#6e4fa2,#684fa2,#634fa2,#5e50a3,#5950a3,#5650a3,#5251a4,#4e51a4,#4a51a4,#4652a5,#4252a5,#4152a5,#4152a5,#4052a5,#4052a5,#4152a5,#4152a5,#4152a5,#4152a5,#4452a5,#4952a5,#4e51a4,#5351a4,#5950a3,#6050a3,#654fa2,#654fa2,#654fa2,#654fa2,#654fa2,#654fa2,#654fa2)"></i><i style="height:3px;background:linear-gradient(90deg,#884fa0,#884fa0,#874fa0,#874fa0,#874fa0,#874fa0,#864fa0,#844fa0,#814fa1,#7e4fa1,#7b4fa1,#794fa1,#774fa1,#754fa1,#734fa1,#714fa2,#6f4fa2,#6c4fa2,#694fa2,#6a4fa2,#6b4fa2,#6d4fa2,#704fa2,#724fa2,#744fa1,#764fa1,#744fa1,#714fa2,#6f4fa2,#6b4fa2,#674fa2,#624fa2,#5f50a3,#5e50a3,#5c50a3,#5b50a3,#5a50a3,#5950a3,#5950a3,#5d50a3,#6150a3,#654fa2,#694fa2,#6d4fa2,#704fa2,#714fa2,#6f4fa2,#6d4fa2,#694fa2,#644fa2,#5f50a3,#5a50a3,#5650a3,#5251a4,#4e51a4,#4a51a4,#4552a5,#4152a5,#4152a5,#4052a5,#4052a5,#4052a5,#4052a5,#4052a5,#4352a5,#4852a5,#4e51a4,#5351a4,#5950a3,#6050a3,#654fa2,#654fa2,#654fa2,#654fa2,#654fa2,#654fa2,#654fa2)"></i><i style="height:3px;background:linear-gradient(90deg,#864fa0,#874fa0,#874fa0,#884fa0,#884fa0,#884fa0,#874fa0,#854fa0,#824fa1,#804fa1,#7e4fa1,#7b4fa1,#794fa1,#774fa1,#754fa1,#734fa1,#714fa2,#6f4fa2,#6d4fa2,#6c4fa2,#6e4fa2,#714fa2,#734fa1,#754fa1,#774fa1,#794fa1,#784fa1,#744fa1,#704fa2,#6b4fa2,#674fa2,#624fa2,#5f50a3,#5e50a3,#5c50a3,#5b50a3,#5950a3,#5950a3,#5850a3,#5b50a3,#5f50a3,#624fa2,#664fa2,#6a4fa2,#6e4fa2,#6e4fa2,#6d4fa2,#6d4fa2,#6c4fa2,#6b4fa2,#694fa2,#654fa2,#5f50a3,#5950a3,#5451a4,#5051a4,#4b51a4,#4752a5,#4652a5,#4552a5,#4552a5,#4452a5,#4452a5,#4452a5,#4652a5,#4952a5,#4e51a4,#5351a4,#5950a3,#6050a3,#654fa2,#654fa2,#654fa2,#654fa2,#654fa2,#654fa2,#654fa2)"></i><i style="height:3px;background:linear-gradient(90deg,#834fa0,#844fa0,#854fa0,#854fa0,#864fa0,#874fa0,#874fa0,#864fa0,#844fa0,#824fa1,#804fa1,#7d4fa1,#7b4fa1,#794fa1,#774fa1,#754fa1,#734fa1,#714fa2,#6f4fa2,#6e4fa2,#714fa2,#734fa1,#764fa1,#784fa1,#7a4fa1,#7c4fa1,#774fa1,#724fa2,#6d4fa2,#694fa2,#644fa2,#5f50a3,#6050a3,#6150a3,#6150a3,#6150a3,#6050a3,#6050a3,#5f50a3,#5b50a3,#5c50a3,#6050a3,#644fa2,#684fa2,#6b4fa2,#6c4fa2,#6b4fa2,#6a4fa2,#694fa2,#6a4fa2,#6e4fa2,#6e4fa2,#674fa2,#6050a3,#5a50a3,#5550a3,#5151a4,#4c51a4,#4c51a4,#4b51a4,#4a51a4,#4a51a4,#4b51a4,#4b51a4,#4d51a4,#4f51a4,#5151a4,#5451a4,#5950a3,#6050a3,#654fa2,#654fa2,#654fa2,#654fa2,#654fa2,#654fa2,#654fa2)"></i><i style="height:3px;background:linear-gradient(90deg,#814fa1,#814fa1,#824fa1,#834fa1,#834fa1,#834fa1,#834fa0,#834fa1,#824fa1,#814fa1,#804fa1,#7f4fa1,#7d4fa1,#7b4fa1,#794fa1,#774fa1,#754fa1,#744fa1,#724fa2,#714fa2,#734fa1,#764fa1,#784fa1,#794fa1,#7a4fa1,#7c4fa1,#744fa1,#6a4fa2,#634fa2,#5e50a3,#5950a3,#5650a3,#5950a3,#644fa2,#6b4fa2,#6c4fa2,#6b4fa2,#6b4fa2,#6a4fa2,#654fa2,#6150a3,#5f50a3,#6150a3,#654fa2,#694fa2,#694fa2,#694fa2,#684fa2,#6a4fa2,#714fa2,#774fa1,#784fa1,#704fa2,#694fa2,#6250a3,#5b50a3,#5650a3,#5251a4,#5151a4,#5151a4,#5151a4,#5151a4,#5251a4,#5251a4,#5451a4,#5650a3,#5850a3,#5950a3,#5c50a3,#6150a3,#654fa2,#654fa2,#654fa2,#654fa2,#654fa2,#654fa2,#654fa2)"></i><i style="height:3px;background:linear-gradient(90deg,#7e4fa1,#7e4fa1,#7e4fa1,#7e4fa1,#7e4fa1,#7f4fa1,#7f4fa1,#7e4fa1,#7e4fa1,#7d4fa1,#7d4fa1,#7c4fa1,#7c4fa1,#7c4fa1,#7a4fa1,#794fa1,#774fa1,#764fa1,#744fa1,#724fa1,#754fa1,#764fa1,#774fa1,#784fa1,#794fa1,#7b4fa1,#734fa1,#684fa2,#5e50a3,#5650a3,#5151a4,#4e51a4,#5051a4,#5a50a3,#664fa2,#714fa2,#764fa1,#764fa1,#754fa1,#704fa2,#6c4fa2,#674fa2,#634fa2,#634fa2,#674fa2,#674fa2,#684fa2,#6d4fa2,#734fa1,#7a4fa1,#814fa1,#814fa1,#7a4fa1,#724fa1,#6b4fa2,#634fa2,#5d50a3,#5850a3,#5750a3,#5750a3,#5850a3,#5850a3,#5950a3,#5950a3,#5b50a3,#5e50a3,#6050a3,#624fa2,#634fa2,#634fa2,#6150a3,#5e50a3,#5e50a3,#5e50a3,#5e50a3,#5e50a3,#5e50a3)"></i><i style="height:3px;background:linear-gradient(90deg,#794fa1,#7a4fa1,#7a4fa1,#7a4fa1,#7a4fa1,#7a4fa1,#7a4fa1,#7a4fa1,#794fa1,#794fa1,#794fa1,#7a4fa1,#7a4fa1,#7a4fa1,#794fa1,#774fa1,#764fa1,#734fa1,#6e4fa2,#6b4fa2,#704fa2,#744fa1,#764fa1,#774fa1,#784fa1,#7a4fa1,#724fa2,#674fa2,#5d50a3,#5550a3,#4d51a4,#4752a5,#4952a5,#5251a4,#5b50a3,#684fa2,#754fa1,#7f4fa1,#814fa1,#7c4fa1,#774fa1,#724fa2,#6d4fa2,#674fa2,#644fa2,#664fa2,#6a4fa2,#6e4fa2,#724fa2,#754fa1,#784fa1,#784fa1,#744fa1,#704fa2,#6c4fa2,#674fa2,#624fa2,#5e50a3,#5f50a3,#6050a3,#6050a3,#6150a3,#6250a3,#634fa2,#634fa2,#634fa2,#634fa2,#624fa2,#6250a3,#6150a3,#5e50a3,#5850a3,#5451a4,#5351a4,#5351a4,#5351a4,#5351a4)"></i><i style="height:3px;background:linear-gradient(90deg,#754fa1,#754fa1,#754fa1,#764fa1,#764fa1,#764fa1,#764fa1,#764fa1,#764fa1,#774fa1,#774fa1,#784fa1,#794fa1,#794fa1,#774fa1,#734fa1,#6e4fa2,#694fa2,#634fa2,#6050a3,#654fa2,#6a4fa2,#704fa2,#744fa1,#774fa1,#794fa1,#714fa2,#674fa2,#5e50a3,#5750a3,#5251a4,#4d51a4,#4f51a4,#5750a3,#6150a3,#6d4fa2,#784fa1,#814fa1,#834fa0,#7b4fa1,#744fa1,#6f4fa2,#694fa2,#634fa2,#5d50a3,#5c50a3,#5d50a3,#6050a3,#634fa2,#654fa2,#684fa2,#684fa2,#654fa2,#6150a3,#5d50a3,#5b50a3,#5c50a3,#6150a3,#664fa2,#684fa2,#694fa2,#694fa2,#6a4fa2,#6b4fa2,#674fa2,#624fa2,#6050a3,#5f50a3,#5f50a3,#5e50a3,#5b50a3,#5650a3,#5151a4,#4c51a4,#4a51a4,#4951a4,#4951a4)"></i><i style="height:3px;background:linear-gradient(90deg,#704fa2,#714fa2,#714fa2,#714fa2,#724fa2,#724fa2,#724fa2,#734fa1,#744fa1,#744fa1,#754fa1,#764fa1,#774fa1,#744fa1,#6e4fa2,#694fa2,#634fa2,#5e50a3,#5950a3,#5650a3,#5a50a3,#5f50a3,#654fa2,#6a4fa2,#704fa2,#764fa1,#744fa1,#6f4fa2,#694fa2,#634fa2,#5d50a3,#5850a3,#5950a3,#654fa2,#6f4fa2,#774fa1,#7a4fa1,#7c4fa1,#7c4fa1,#744fa1,#6b4fa2,#644fa2,#5e50a3,#5850a3,#5451a4,#5351a4,#5451a4,#5451a4,#5550a3,#5750a3,#5950a3,#5950a3,#5650a3,#5451a4,#5550a3,#5850a3,#5d50a3,#6250a3,#674fa2,#6d4fa2,#704fa2,#714fa2,#724fa1,#734fa1,#6e4fa2,#684fa2,#6250a3,#5d50a3,#5c50a3,#5b50a3,#5850a3,#5451a4,#4f51a4,#4a51a4,#4552a5,#4152a5,#4052a5)"></i><i style="height:3px;background:linear-gradient(90deg,#6c4fa2,#6c4fa2,#6c4fa2,#6c4fa2,#6b4fa2,#6b4fa2,#6a4fa2,#6c4fa2,#6f4fa2,#704fa2,#714fa2,#724fa2,#734fa1,#6f4fa2,#684fa2,#6150a3,#5a50a3,#5550a3,#5151a4,#4e51a4,#5251a4,#5750a3,#5c50a3,#644fa2,#6c4fa2,#734fa1,#734fa1,#724fa2,#704fa2,#6e4fa2,#6a4fa2,#654fa2,#674fa2,#6e4fa2,#714fa2,#724fa1,#744fa1,#764fa1,#764fa1,#6d4fa2,#654fa2,#5c50a3,#5650a3,#5151a4,#4c51a4,#4b51a4,#4c51a4,#4c51a4,#4c51a4,#4d51a4,#4e51a4,#4e51a4,#4e51a4,#5251a4,#5550a3,#5950a3,#5d50a3,#624fa2,#684fa2,#6e4fa2,#734fa1,#784fa1,#7a4fa1,#7b4fa1,#764fa1,#704fa2,#694fa2,#634fa2,#5d50a3,#5950a3,#5650a3,#5051a4,#4a51a4,#4352a5,#3c53a4,#3a57a7,#3b61ae)"></i><i style="height:3px;background:linear-gradient(90deg,#654fa2,#654fa2,#654fa2,#644fa2,#644fa2,#634fa2,#634fa2,#654fa2,#674fa2,#6a4fa2,#6c4fa2,#6d4fa2,#6e4fa2,#6b4fa2,#644fa2,#5c50a3,#5650a3,#5051a4,#4a51a4,#4951a4,#4e51a4,#5451a4,#5a50a3,#6150a3,#694fa2,#704fa2,#714fa2,#6f4fa2,#6d4fa2,#6c4fa2,#6b4fa2,#6b4fa2,#6b4fa2,#6b4fa2,#6b4fa2,#6c4fa2,#6e4fa2,#6f4fa2,#704fa2,#674fa2,#5e50a3,#5750a3,#5151a4,#4a51a4,#4452a5,#4452a5,#4452a5,#4552a5,#4652a5,#4652a5,#4752a5,#4a51a4,#4e51a4,#5251a4,#5650a3,#5950a3,#5e50a3,#634fa2,#694fa2,#6e4fa2,#744fa1,#7a4fa1,#804fa1,#834fa0,#7e4fa1,#764fa1,#6e4fa2,#664fa2,#5d50a3,#5550a3,#5151a4,#4b51a4,#4252a5,#3a56a6,#3c66b2,#3b87c8,#3aa5dc)"></i><i style="height:3px;background:linear-gradient(90deg,#5c50a3,#5c50a3,#5c50a3,#5c50a3,#5c50a3,#5b50a3,#5b50a3,#5d50a3,#5f50a3,#6250a3,#644fa2,#674fa2,#694fa2,#654fa2,#5c50a3,#5451a4,#4c51a4,#4652a5,#4652a5,#4852a5,#4d51a4,#5251a4,#5850a3,#5e50a3,#664fa2,#6d4fa2,#6e4fa2,#6c4fa2,#6b4fa2,#6b4fa2,#6d4fa2,#6f4fa2,#704fa2,#6e4fa2,#6d4fa2,#6c4fa2,#6b4fa2,#6b4fa2,#694fa2,#6050a3,#5850a3,#5151a4,#4a51a4,#4352a5,#3d53a4,#3e52a5,#4152a5,#4252a5,#4352a5,#4452a5,#4552a5,#4852a5,#4d51a4,#5251a4,#5650a3,#5a50a3,#5f50a3,#644fa2,#694fa2,#6f4fa2,#754fa1,#7a4fa1,#7d4fa1,#7d4fa1,#764fa1,#6c4fa2,#6250a3,#5850a3,#5151a4,#4952a5,#4452a5,#4452a5,#4452a5,#4252a5,#3c53a4,#3a5baa,#3d78be)"></i><i style="height:3px;background:linear-gradient(90deg,#5550a3,#5550a3,#5550a3,#5550a3,#5550a3,#5550a3,#5550a3,#5650a3,#5850a3,#5950a3,#5a50a3,#5b50a3,#5b50a3,#5750a3,#4f51a4,#4752a5,#4352a5,#4352a5,#4552a5,#4752a5,#4c51a4,#5151a4,#5650a3,#5c50a3,#634fa2,#6a4fa2,#6b4fa2,#6b4fa2,#6c4fa2,#6f4fa2,#714fa2,#734fa1,#744fa1,#734fa1,#704fa2,#6d4fa2,#684fa2,#634fa2,#5c50a3,#5650a3,#4f51a4,#4852a5,#4252a5,#3c53a4,#3a56a6,#3955a5,#3a53a4,#3d53a4,#4052a5,#4252a5,#4352a5,#4652a5,#4b51a4,#5051a4,#5550a3,#5a50a3,#5f50a3,#654fa2,#6a4fa2,#6e4fa2,#6f4fa2,#6e4fa2,#6c4fa2,#6a4fa2,#634fa2,#5a50a3,#5351a4,#4c51a4,#4452a5,#3d53a4,#3953a4,#3a53a4,#3a53a4,#3a53a4,#3a53a4,#3a53a4,#3953a4)"></i><i style="height:3px;background:linear-gradient(90deg,#4f51a4,#4f51a4,#4f51a4,#4f51a4,#4f51a4,#4f51a4,#4f51a4,#4f51a4,#4e51a4,#4e51a4,#4e51a4,#4e51a4,#4e51a4,#4a51a4,#4252a5,#4052a5,#4152a5,#4252a5,#4452a5,#4652a5,#4b51a4,#5051a4,#5550a3,#5a50a3,#6150a3,#684fa2,#6a4fa2,#6d4fa2,#6f4fa2,#714fa2,#734fa1,#764fa1,#744fa1,#6d4fa2,#674fa2,#6050a3,#5a50a3,#5650a3,#5151a4,#4b51a4,#4552a5,#3f52a5,#3a53a4,#3a57a7,#3b5ead,#3b5dab,#3a58a8,#3955a6,#3a53a4,#3e53a4,#4152a5,#4352a5,#4752a5,#4c51a4,#5151a4,#5650a3,#5c50a3,#6250a3,#6050a3,#5e50a3,#5c50a3,#5a50a3,#5950a3,#5750a3,#5251a4,#4b51a4,#4452a5,#3e52a5,#3953a4,#3a58a8,#3b5eac,#3b5dab,#3a5baa,#3a58a8,#3a56a6,#3954a5,#3a53a4)"></i><i style="height:3px;background:linear-gradient(90deg,#4b51a4,#4b51a4,#4a51a4,#4a51a4,#4a51a4,#4a51a4,#4a51a4,#4852a5,#4652a5,#4452a5,#4352a5,#4252a5,#4152a5,#3f52a5,#3e53a4,#3f52a5,#4052a5,#4252a5,#4352a5,#4552a5,#4a51a4,#4f51a4,#5451a4,#5950a3,#6050a3,#684fa2,#6a4fa2,#6a4fa2,#6c4fa2,#6e4fa2,#714fa2,#734fa1,#704fa2,#674fa2,#5e50a3,#5750a3,#5151a4,#4b51a4,#4652a5,#4152a5,#3c53a4,#3954a5,#3a57a7,#3b5cab,#3b60ae,#3b5cab,#3a57a7,#3953a4,#3d53a4,#4252a5,#4752a5,#4852a5,#4452a5,#4552a5,#4a51a4,#4f51a4,#5451a4,#5850a3,#5550a3,#5251a4,#5051a4,#4d51a4,#4b51a4,#4951a4,#4452a5,#3f52a5,#3a53a4,#3a56a7,#3a5baa,#3b61ae,#3c63b0,#3b61af,#3b5eac,#3a5aaa,#3a57a7,#3955a6,#3953a4)"></i><i style="height:3px;background:linear-gradient(90deg,#4752a5,#4652a5,#4652a5,#4552a5,#4552a5,#4552a5,#4552a5,#4352a5,#4252a5,#4052a5,#3e53a4,#3c53a4,#3954a4,#3954a5,#3b53a4,#3d53a4,#3f52a5,#4152a5,#4252a5,#4452a5,#4952a5,#4e51a4,#5451a4,#5950a3,#6050a3,#684fa2,#6a4fa2,#6a4fa2,#6a4fa2,#6b4fa2,#6d4fa2,#704fa2,#6d4fa2,#634fa2,#5a50a3,#5451a4,#4d51a4,#4652a5,#4152a5,#4052a5,#3e52a5,#3c53a4,#3953a4,#3955a6,#3a58a8,#3955a6,#3b53a4,#3f52a5,#4352a5,#4852a5,#4d51a4,#4e51a4,#4a51a4,#4652a5,#4452a5,#4752a5,#4c51a4,#5051a4,#4d51a4,#4a51a4,#4752a5,#4452a5,#4252a5,#4152a5,#4052a5,#3d53a4,#3a53a4,#3955a6,#3a58a8,#3b5dab,#3b5fad,#3b5eac,#3b5dac,#3a5baa,#3a59a8,#3a56a7,#3954a5)"></i><i style="height:3px;background:linear-gradient(90deg,#4352a5,#4252a5,#4252a5,#4152a5,#4152a5,#4152a5,#4152a5,#3f52a5,#3d53a4,#3b53a4,#3955a5,#3a59a8,#3b5eac,#3b5eac,#3a58a8,#3955a6,#3a53a4,#3e53a4,#4152a5,#4352a5,#4852a5,#4e51a4,#5451a4,#5950a3,#6050a3,#684fa2,#6a4fa2,#6a4fa2,#6a4fa2,#6a4fa2,#6a4fa2,#6c4fa2,#694fa2,#6050a3,#5850a3,#5251a4,#4b51a4,#4552a5,#4052a5,#3f52a5,#3f52a5,#3e52a5,#3d53a4,#3c53a4,#3953a4,#3c53a4,#4052a5,#4552a5,#4a51a4,#4f51a4,#5451a4,#5550a3,#5151a4,#4c51a4,#4852a5,#4452a5,#4452a5,#4852a5,#4552a5,#4352a5,#4152a5,#4152a5,#4052a5,#3f52a5,#3e52a5,#3d53a4,#3c53a4,#3953a4,#3a56a6,#3a59a8,#3a5baa,#3a5aa9,#3a59a9,#3a58a8,#3a57a7,#3a57a7,#3a57a7)"></i><i style="height:3px;background:linear-gradient(90deg,#3e52a5,#3e53a4,#3d53a4,#3d53a4,#3d53a4,#3c53a4,#3c53a4,#3b53a4,#3953a4,#3954a5,#3a56a6,#3a57a7,#3a58a8,#3a57a7,#3954a5,#3b53a4,#3e53a4,#3f52a5,#4052a5,#4152a5,#4752a5,#4d51a4,#5351a4,#5950a3,#6050a3,#684fa2,#6a4fa2,#6a4fa2,#6a4fa2,#6a4fa2,#6a4fa2,#6a4fa2,#664fa2,#5d50a3,#5650a3,#5051a4,#4a51a4,#4352a5,#3f52a5,#3e52a5,#3e53a4,#3d53a4,#3c53a4,#3c53a4,#3c53a4,#3f52a5,#4452a5,#4a51a4,#4f51a4,#5550a3,#5a50a3,#5a50a3,#5550a3,#5051a4,#4c51a4,#4752a5,#4252a5,#3f52a5,#3f52a5,#3f52a5,#3f52a5,#3f52a5,#3e52a5,#3d53a4,#3d53a4,#3c53a4,#3b53a4,#3a53a4,#3954a5,#3a56a6,#3a57a8,#3a57a7,#3a57a7,#3a59a9,#3b5dac,#3c64b1,#3c6fb8)"></i><i style="height:3px;background:linear-gradient(90deg,#3a59a8,#3a59a9,#3a5aa9,#3a5aa9,#3a5aa9,#3a59a9,#3a58a8,#3a57a7,#3a56a7,#3a56a6,#3955a5,#3953a4,#3a53a4,#3c53a4,#3c53a4,#3d53a4,#3e53a4,#3e52a5,#3f52a5,#4052a5,#4652a5,#4c51a4,#5251a4,#5850a3,#5f50a3,#644fa2,#694fa2,#6a4fa2,#6a4fa2,#6a4fa2,#6a4fa2,#6a4fa2,#654fa2,#5c50a3,#5550a3,#4f51a4,#4852a5,#4252a5,#3e53a4,#3d53a4,#3c53a4,#3c53a4,#3c53a4,#3c53a4,#3c53a4,#3f52a5,#4452a5,#4a51a4,#5051a4,#5650a3,#5c50a3,#5a50a3,#5251a4,#4952a5,#4152a5,#3b53a4,#3a56a6,#3a5aaa,#3a59a8,#3a57a7,#3a56a6,#3954a5,#3953a4,#3b53a4,#3954a5,#3a57a7,#3a59a9,#3a5baa,#3b5dac,#3b5ead,#3b61ae,#3c66b2,#3d72ba,#3c7fc3,#3a8aca,#3c99d4,#39a6dd)"></i><i style="height:3px;background:linear-gradient(90deg,#3c7fc3,#3d7dc2,#3d7ac0,#3d76bd,#3d74bc,#3d71ba,#3c6eb8,#3c68b3,#3b62af,#3b5dac,#3a58a8,#3955a6,#3a53a4,#3b53a4,#3c53a4,#3c53a4,#3c53a4,#3d53a4,#3d53a4,#3f52a5,#4452a5,#4a51a4,#4f51a4,#5351a4,#5451a4,#5650a3,#5c50a3,#654fa2,#694fa2,#6a4fa2,#6a4fa2,#6a4fa2,#654fa2,#5c50a3,#5550a3,#4e51a4,#4752a5,#4152a5,#3c53a4,#3c53a4,#3b53a4,#3b53a4,#3b53a4,#3b53a4,#3b53a4,#3f52a5,#4452a5,#4a51a4,#5051a4,#5650a3,#5c50a3,#5a50a3,#5151a4,#4852a5,#4052a5,#3953a4,#3a59a9,#3b5fad,#3b60ae,#3b5fad,#3a5baa,#3a57a8,#3955a6,#3953a4,#3a57a7,#3b61ae,#3d72ba,#3b86c7,#3c97d2,#39a7dd,#31b2e6,#30baeb,#3dbce6,#4bbfe2,#58c2dd,#63c4d7,#67c4cc)"></i><i style="height:3px;background:linear-gradient(90deg,#48bfe3,#42bde5,#3cbce7,#36bbe9,#2fb9eb,#2fb6ea,#31b3e7,#37aae0,#3ca1d9,#3c97d2,#3a8dcc,#3b84c6,#3c7ec2,#3c6fb8,#3b61ae,#3a59a9,#3955a6,#3953a4,#3b53a4,#3d53a4,#4152a5,#4352a5,#4552a5,#4652a5,#4752a5,#4852a5,#4e51a4,#5550a3,#5d50a3,#654fa2,#694fa2,#6a4fa2,#654fa2,#5c50a3,#5550a3,#4d51a4,#4552a5,#3c53a4,#3a58a8,#3b5cab,#3b5fad,#3b60ae,#3b61ae,#3b61ae,#3b61ae,#3a56a6,#4052a5,#4852a5,#5051a4,#5650a3,#5c50a3,#5a50a3,#5151a4,#4951a4,#4352a5,#3e52a5,#3b53a4,#3955a5,#3a56a7,#3a58a8,#3a59a9,#3a59a9,#3a57a7,#3955a5,#3a59a9,#3c64b0,#3d7ac0,#3b96d1,#2fb6ea,#63c4d7,#74c5ab,#7cc69d,#82c78e,#87c780,#8dc872,#95ca6a,#9bcc63)"></i><i style="height:3px;background:linear-gradient(90deg,#86c783,#84c787,#82c78c,#80c691,#7ec697,#7cc69d,#79c6a2,#76c6a8,#75c5aa,#74c5ac,#74c5ac,#75c5aa,#76c6a7,#6cc5bd,#51c0e0,#30b4e8,#3c9cd6,#3c83c5,#3c6cb6,#3b5fad,#3b5eac,#3b5cab,#3a59a9,#3a56a7,#3953a4,#3d53a4,#4352a5,#4951a4,#5051a4,#5750a3,#5e50a3,#664fa2,#624fa2,#5650a3,#4c51a4,#4152a5,#3955a5,#3b61ae,#3d77be,#3c82c5,#3a8bcb,#3c97d2,#3ca2d9,#38a8de,#36abe1,#3a8ecd,#3c6ab5,#3a56a7,#4152a5,#4e51a4,#5a50a3,#5c50a3,#5550a3,#5051a4,#4a51a4,#4552a5,#4052a5,#3c53a4,#3b53a4,#3953a4,#3954a5,#3955a5,#3a56a6,#3a57a7,#3b61ae,#3c7fc3,#39a6dd,#4bbfe2,#71c5b2,#8cc873,#a5cf58,#aed14c,#b6d340,#bfd735,#cbdb2d,#d6df25,#dce223)"></i><i style="height:3px;background:linear-gradient(90deg,#a5ce58,#a4ce59,#a3ce5b,#a2ce5c,#a2ce5c,#a3ce5b,#a5ce59,#abd051,#b1d247,#b8d43c,#c0d734,#cbdb2d,#d5df26,#bcd537,#94ca6a,#78c6a4,#63c4d8,#31baeb,#3da0d8,#3b85c7,#3d7cc1,#3d70b9,#3c65b1,#3b5fad,#3a58a8,#3a56a7,#3a53a4,#3e52a5,#4352a5,#4852a5,#4d51a4,#5151a4,#4e51a4,#4352a5,#3953a4,#3b5cab,#3c6fb8,#3b88c9,#3da0d8,#39a6dc,#36abe0,#33afe4,#30b4e8,#2db9ec,#35bbe9,#3aa5dc,#3c7ec2,#3b5ead,#3c53a4,#4a51a4,#5a50a3,#6250a3,#5950a3,#5251a4,#4c51a4,#4652a5,#4052a5,#3b53a4,#3a53a4,#3954a5,#3a57a7,#3b5dab,#3c64b1,#3d73bb,#3b95d1,#31baeb,#67c4cd,#80c691,#9ccc61,#bcd537,#dae024,#e3e421,#ebe81d,#f4ec1a,#f9ea10,#fde905,#ffe400)"></i><i style="height:3px;background:linear-gradient(90deg,#bdd637,#bed636,#c1d734,#c4d831,#c8da2f,#ccdb2c,#d0dc29,#d9e024,#e2e421,#ece81d,#f6ec17,#fce909,#ffe500,#f7eb16,#bcd637,#88c77d,#63c4d8,#38a8de,#3d76bd,#3b5cab,#3a59a9,#3a5baa,#3b5eac,#3c64b1,#3d70b9,#3c7ec3,#3d7cc1,#3c6db7,#3b61af,#3a5aa9,#3955a5,#3c53a4,#3a53a4,#3a5aa9,#3c66b2,#3d7cc1,#3a8fcd,#3aa5dc,#32b0e5,#2fb5e9,#2eb9ec,#34baea,#3abce7,#40bde5,#46bee4,#38a8de,#3d7bc0,#3a5aa9,#4052a5,#4f51a4,#6150a3,#694fa2,#6050a3,#5750a3,#4d51a4,#4352a5,#3953a4,#3b60ae,#3c68b4,#3d78be,#3b85c7,#3b94d0,#3ba3da,#34aee3,#4bbfe2,#6ec5b8,#86c782,#a4ce59,#c6d930,#eae71e,#fbea0a,#ffe600,#fedc00,#fdd300,#fcc807,#fcbc0f,#fbb216)"></i><i style="height:3px;background:linear-gradient(90deg,#ebe81e,#efe91c,#f2eb1b,#f5ec19,#f7eb14,#f9ea10,#faea0d,#fee803,#ffe300,#fede00,#fed900,#fdd500,#fdd300,#fde905,#ccdb2c,#8fc96f,#68c4ca,#35ace1,#3d73bb,#3a56a6,#3955a6,#3954a5,#3955a6,#3a56a6,#3a59a8,#3b5ead,#3c67b3,#3d77be,#3c82c5,#3b87c8,#3c83c6,#3d7cc1,#3d7dc2,#3a8bcb,#3c99d3,#3d9fd7,#3ca1d9,#3d9fd8,#3d9ed7,#39a6dd,#34aee3,#2fb6e9,#35bbe9,#41bde5,#4bbfe2,#36aae0,#3d7cc1,#3a59a9,#4252a5,#5351a4,#674fa2,#6e4fa2,#6050a3,#5251a4,#4452a5,#3954a5,#3c63b0,#3b84c6,#3c97d2,#3aa5dc,#35ade2,#31b3e7,#2db8eb,#35bbe9,#60c4db,#77c6a6,#8fc970,#b2d245,#dfe222,#fde905,#fdd100,#fcc30a,#fbb614,#faab18,#f9a11a,#f8991c,#f7921d)"></i><i style="height:3px;background:linear-gradient(90deg,#bad53a,#bed636,#c3d833,#c7d92f,#cbdb2d,#cfdc2a,#d2dd27,#d9e024,#dee222,#e5e520,#ece81d,#f2eb1b,#f7eb15,#e9e71e,#b7d43e,#8ac879,#66c4ce,#36ace1,#3d73bb,#3a56a6,#3955a5,#3954a5,#3953a4,#3a53a4,#3b53a4,#3b53a4,#3955a5,#3a5baa,#3c63b0,#3c6eb8,#3d79bf,#3c7fc3,#3c82c5,#3c83c6,#3c83c6,#3c82c5,#3c80c4,#3d7dc2,#3d7cc1,#3c81c5,#3b88c9,#3a8ecd,#3b96d2,#3d9fd7,#39a7dd,#3b86c7,#3b62af,#3a53a4,#4752a5,#5650a3,#684fa2,#6f4fa2,#644fa2,#5950a3,#5151a4,#4852a5,#3e52a5,#3a57a7,#3b61af,#3d74bc,#3b89c9,#3da0d8,#33b0e4,#33baea,#62c4d9,#7dc699,#9fcd5f,#ccdb2c,#f6ec19,#fdd500,#fbb614,#faab18,#f9a31a,#f89d1b,#f7961d,#f7901d,#f68b1e)"></i><i style="height:3px;background:linear-gradient(90deg,#85c785,#87c780,#89c87c,#8ac877,#8cc873,#8fc970,#92c96d,#9bcc63,#a6cf57,#b0d248,#b9d43b,#c6d930,#d2dd28,#bbd538,#94ca6b,#75c5aa,#4ec0e1,#3ba4db,#3d71ba,#3a56a6,#3955a5,#3954a5,#3953a4,#3a53a4,#3b53a4,#3c53a4,#3954a5,#3a57a7,#3a59a8,#3a5aaa,#3b5cab,#3b5dac,#3b5ead,#3b60ae,#3b61af,#3c63b0,#3c64b0,#3c64b0,#3c63b0,#3c67b3,#3d70b9,#3d7ac0,#3b84c6,#3a8ecc,#3c9bd5,#3c80c4,#3b60ae,#3a53a4,#4752a5,#5650a3,#684fa2,#6f4fa2,#644fa2,#5950a3,#5251a4,#4a51a4,#4252a5,#3b53a4,#3a58a8,#3c63b0,#3d77be,#3a8ccc,#3aa5dc,#2eb9ec,#64c4d6,#7ec696,#9dcd60,#c7d930,#f0ea1c,#fedb00,#fcbd0e,#fbb017,#f9a519,#f89c1b,#f7931d,#f68c1e,#f5871f)"></i></div></div>
<svg width="1949" height="1189" viewBox="0 0 1949 1189" style="position:absolute;left:0;top:0" font-family="Liberation Serif,Times New Roman,serif" fill="#000"><defs><linearGradient id="gbwr" x1="0" y1="0" x2="0" y2="1"><stop offset="0.0000" stop-color="#e8202a"/><stop offset="0.0250" stop-color="#e8232b"/><stop offset="0.0500" stop-color="#e8262c"/><stop offset="0.0750" stop-color="#e93136"/><stop offset="0.1000" stop-color="#ea3c40"/><stop offset="0.1250" stop-color="#eb474b"/><stop offset="0.1500" stop-color="#ec5256"/><stop offset="0.1750" stop-color="#ed5d60"/><stop offset="0.2000" stop-color="#ee686b"/><stop offset="0.2250" stop-color="#ef7477"/><stop offset="0.2500" stop-color="#f08184"/><stop offset="0.2750" stop-color="#f28e90"/><stop offset="0.3000" stop-color="#f39a9c"/><stop offset="0.3250" stop-color="#f4a7a9"/><stop offset="0.3500" stop-color="#f6b4b6"/><stop offset="0.3750" stop-color="#f7c0c2"/><stop offset="0.4000" stop-color="#f8cdcf"/><stop offset="0.4250" stop-color="#fadadb"/><stop offset="0.4500" stop-color="#fce6e7"/><stop offset="0.4750" stop-color="#fdf3f3"/><stop offset="0.5000" stop-color="#ffffff"/><stop offset="0.5250" stop-color="#f0f1f8"/><stop offset="0.5500" stop-color="#e1e2f0"/><stop offset="0.5750" stop-color="#d3d4e9"/><stop offset="0.6000" stop-color="#c4c6e2"/><stop offset="0.6250" stop-color="#b6b8db"/><stop offset="0.6500" stop-color="#a7aad4"/><stop offset="0.6750" stop-color="#989dcc"/><stop offset="0.7000" stop-color="#8a8fc5"/><stop offset="0.7250" stop-color="#7e85c0"/><stop offset="0.7500" stop-color="#737aba"/><stop offset="0.7750" stop-color="#6770b5"/><stop offset="0.8000" stop-color="#5c66b0"/><stop offset="0.8250" stop-color="#5663ae"/><stop offset="0.8500" stop-color="#4f5fac"/><stop offset="0.8750" stop-color="#495caa"/><stop offset="0.9000" stop-color="#4258a8"/><stop offset="0.9250" stop-color="#3c55a6"/><stop offset="0.9500" stop-color="#3b54a5"/><stop offset="0.9750" stop-color="#3a54a5"/><stop offset="1.0000" stop-color="#3953a4"/></linearGradient><linearGradient id="gjet" x1="0" y1="0" x2="0" y2="1"><stop offset="0.0000" stop-color="#b52025"/><stop offset="0.0083" stop-color="#b52025"/><stop offset="0.0167" stop-color="#b52025"/><stop offset="0.0250" stop-color="#ec2027"/><stop offset="0.0333" stop-color="#ec2027"/><stop offset="0.0417" stop-color="#ec2027"/><stop offset="0.0500" stop-color="#ec2027"/><stop offset="0.0583" stop-color="#ec2027"/><stop offset="0.0667" stop-color="#ec2027"/><stop offset="0.0750" stop-color="#ed2827"/><stop offset="0.0833" stop-color="#ed3127"/><stop offset="0.0917" stop-color="#ee3a27"/><stop offset="0.1000" stop-color="#ee4428"/><stop offset="0.1083" stop-color="#ef4d28"/><stop offset="0.1167" stop-color="#f05628"/><stop offset="0.1250" stop-color="#f05e27"/><stop offset="0.1333" stop-color="#f16526"/><stop offset="0.1417" stop-color="#f26b24"/><stop offset="0.1500" stop-color="#f37222"/><stop offset="0.1583" stop-color="#f47821"/><stop offset="0.1667" stop-color="#f47e20"/><stop offset="0.1750" stop-color="#f5831f"/><stop offset="0.1833" stop-color="#f5871f"/><stop offset="0.1917" stop-color="#f68c1e"/><stop offset="0.2000" stop-color="#f7911d"/><stop offset="0.2083" stop-color="#f7961d"/><stop offset="0.2167" stop-color="#f89b1c"/><stop offset="0.2250" stop-color="#f9a11a"/><stop offset="0.2333" stop-color="#faa619"/><stop offset="0.2417" stop-color="#faac18"/><stop offset="0.2500" stop-color="#fbb216"/><stop offset="0.2583" stop-color="#fcb911"/><stop offset="0.2667" stop-color="#fcc10c"/><stop offset="0.2750" stop-color="#fcc806"/><stop offset="0.2833" stop-color="#fdd001"/><stop offset="0.2917" stop-color="#fdd600"/><stop offset="0.3000" stop-color="#fedc00"/><stop offset="0.3083" stop-color="#ffe300"/><stop offset="0.3167" stop-color="#fee802"/><stop offset="0.3250" stop-color="#fbea0a"/><stop offset="0.3333" stop-color="#f8eb13"/><stop offset="0.3417" stop-color="#f4eb1a"/><stop offset="0.3500" stop-color="#ede91d"/><stop offset="0.3583" stop-color="#e6e61f"/><stop offset="0.3667" stop-color="#e0e322"/><stop offset="0.3750" stop-color="#d9e024"/><stop offset="0.3833" stop-color="#d1dd28"/><stop offset="0.3917" stop-color="#c7d92f"/><stop offset="0.4000" stop-color="#bdd636"/><stop offset="0.4083" stop-color="#b6d340"/><stop offset="0.4167" stop-color="#afd14a"/><stop offset="0.4250" stop-color="#a9cf54"/><stop offset="0.4333" stop-color="#a1ce5c"/><stop offset="0.4417" stop-color="#9acc64"/><stop offset="0.4500" stop-color="#93ca6c"/><stop offset="0.4583" stop-color="#8cc873"/><stop offset="0.4667" stop-color="#87c780"/><stop offset="0.4750" stop-color="#83c78c"/><stop offset="0.4833" stop-color="#7ec698"/><stop offset="0.4917" stop-color="#78c6a3"/><stop offset="0.5000" stop-color="#72c5af"/><stop offset="0.5083" stop-color="#6dc5bb"/><stop offset="0.5167" stop-color="#69c5c7"/><stop offset="0.5250" stop-color="#65c4d3"/><stop offset="0.5333" stop-color="#5dc3dc"/><stop offset="0.5417" stop-color="#51c1e0"/><stop offset="0.5500" stop-color="#45bee4"/><stop offset="0.5583" stop-color="#39bce8"/><stop offset="0.5667" stop-color="#2db9ec"/><stop offset="0.5750" stop-color="#31b3e7"/><stop offset="0.5833" stop-color="#35ace1"/><stop offset="0.5917" stop-color="#3aa5dc"/><stop offset="0.6000" stop-color="#3d9ed7"/><stop offset="0.6083" stop-color="#3b95d1"/><stop offset="0.6167" stop-color="#3a8ccc"/><stop offset="0.6250" stop-color="#3b86c7"/><stop offset="0.6333" stop-color="#3c7fc3"/><stop offset="0.6417" stop-color="#3d77be"/><stop offset="0.6500" stop-color="#3c70b9"/><stop offset="0.6583" stop-color="#3c68b3"/><stop offset="0.6667" stop-color="#3c63b0"/><stop offset="0.6750" stop-color="#3b5fad"/><stop offset="0.6833" stop-color="#3a5baa"/><stop offset="0.6917" stop-color="#3a58a8"/><stop offset="0.7000" stop-color="#3a56a6"/><stop offset="0.7083" stop-color="#3954a5"/><stop offset="0.7167" stop-color="#3b53a4"/><stop offset="0.7250" stop-color="#3d53a4"/><stop offset="0.7333" stop-color="#4052a5"/><stop offset="0.7417" stop-color="#4252a5"/><stop offset="0.7500" stop-color="#4552a5"/><stop offset="0.7583" stop-color="#4852a5"/><stop offset="0.7667" stop-color="#4b51a4"/><stop offset="0.7750" stop-color="#4e51a4"/><stop offset="0.7833" stop-color="#5151a4"/><stop offset="0.7917" stop-color="#5451a4"/><stop offset="0.8000" stop-color="#5750a3"/><stop offset="0.8083" stop-color="#5a50a3"/><stop offset="0.8167" stop-color="#5e50a3"/><stop offset="0.8250" stop-color="#624fa2"/><stop offset="0.8333" stop-color="#664fa2"/><stop offset="0.8417" stop-color="#6a4fa2"/><stop offset="0.8500" stop-color="#6e4fa2"/><stop offset="0.8583" stop-color="#724fa1"/><stop offset="0.8667" stop-color="#764fa1"/><stop offset="0.8750" stop-color="#7b4fa1"/><stop offset="0.8833" stop-color="#7f4fa1"/><stop offset="0.8917" stop-color="#844fa0"/><stop offset="0.9000" stop-color="#884fa0"/><stop offset="0.9083" stop-color="#8d4fa0"/><stop offset="0.9167" stop-color="#904fa0"/><stop offset="0.9250" stop-color="#944fa0"/><stop offset="0.9333" stop-color="#984fa0"/><stop offset="0.9417" stop-color="#9c4fa0"/><stop offset="0.9500" stop-color="#a14fa0"/><stop offset="0.9583" stop-color="#a64ea0"/><stop offset="0.9667" stop-color="#af4fa0"/><stop offset="0.9750" stop-color="#b5509f"/><stop offset="0.9833" stop-color="#8b4ba0"/><stop offset="0.9917" stop-color="#8b4ba0"/><stop offset="1.0000" stop-color="#8b4ba0"/></linearGradient><linearGradient id="gjetE" x1="0" y1="0" x2="0" y2="1"><stop offset="0.0000" stop-color="#b52025"/><stop offset="0.0063" stop-color="#b52025"/><stop offset="0.0125" stop-color="#b52025"/><stop offset="0.0187" stop-color="#b52025"/><stop offset="0.0250" stop-color="#ec2027"/><stop offset="0.0312" stop-color="#ec2027"/><stop offset="0.0375" stop-color="#ec2027"/><stop offset="0.0437" stop-color="#ec2027"/><stop offset="0.0500" stop-color="#ec2027"/><stop offset="0.0563" stop-color="#ec2027"/><stop offset="0.0625" stop-color="#ec2027"/><stop offset="0.0688" stop-color="#ec2127"/><stop offset="0.0750" stop-color="#ed2827"/><stop offset="0.0813" stop-color="#ed2f27"/><stop offset="0.0875" stop-color="#ee3627"/><stop offset="0.0938" stop-color="#ee3d27"/><stop offset="0.1000" stop-color="#ee4428"/><stop offset="0.1062" stop-color="#ef4b28"/><stop offset="0.1125" stop-color="#ef5228"/><stop offset="0.1187" stop-color="#f05928"/><stop offset="0.1250" stop-color="#f05e27"/><stop offset="0.1313" stop-color="#f16326"/><stop offset="0.1375" stop-color="#f26825"/><stop offset="0.1437" stop-color="#f26d24"/><stop offset="0.1500" stop-color="#f37222"/><stop offset="0.1562" stop-color="#f37721"/><stop offset="0.1625" stop-color="#f47c20"/><stop offset="0.1688" stop-color="#f47f20"/><stop offset="0.1750" stop-color="#f5831f"/><stop offset="0.1812" stop-color="#f5861f"/><stop offset="0.1875" stop-color="#f68a1e"/><stop offset="0.1938" stop-color="#f68d1e"/><stop offset="0.2000" stop-color="#f7911d"/><stop offset="0.2062" stop-color="#f7941d"/><stop offset="0.2125" stop-color="#f8981c"/><stop offset="0.2188" stop-color="#f89d1b"/><stop offset="0.2250" stop-color="#f9a11a"/><stop offset="0.2313" stop-color="#f9a519"/><stop offset="0.2375" stop-color="#faa919"/><stop offset="0.2437" stop-color="#fbad18"/><stop offset="0.2500" stop-color="#fbb216"/><stop offset="0.2562" stop-color="#fbb712"/><stop offset="0.2625" stop-color="#fcbd0e"/><stop offset="0.2687" stop-color="#fcc30a"/><stop offset="0.2750" stop-color="#fcc806"/><stop offset="0.2812" stop-color="#fdce02"/><stop offset="0.2875" stop-color="#fdd300"/><stop offset="0.2938" stop-color="#fed800"/><stop offset="0.3000" stop-color="#fedd00"/><stop offset="0.3063" stop-color="#fee100"/><stop offset="0.3125" stop-color="#ffe600"/><stop offset="0.3187" stop-color="#fee904"/><stop offset="0.3250" stop-color="#fbea0a"/><stop offset="0.3312" stop-color="#f8eb11"/><stop offset="0.3375" stop-color="#f6ec17"/><stop offset="0.3438" stop-color="#f2eb1b"/><stop offset="0.3500" stop-color="#ede91d"/><stop offset="0.3563" stop-color="#e8e61f"/><stop offset="0.3625" stop-color="#e3e421"/><stop offset="0.3688" stop-color="#dee222"/><stop offset="0.3750" stop-color="#d9e024"/><stop offset="0.3812" stop-color="#d4de26"/><stop offset="0.3875" stop-color="#ccdb2c"/><stop offset="0.3937" stop-color="#c5d931"/><stop offset="0.4000" stop-color="#bdd636"/><stop offset="0.4062" stop-color="#b8d43d"/><stop offset="0.4125" stop-color="#b3d245"/><stop offset="0.4188" stop-color="#aed14c"/><stop offset="0.4250" stop-color="#a9cf54"/><stop offset="0.4313" stop-color="#a3ce5a"/><stop offset="0.4375" stop-color="#9ecd60"/><stop offset="0.4437" stop-color="#98cb66"/><stop offset="0.4500" stop-color="#93ca6c"/><stop offset="0.4562" stop-color="#8ec871"/><stop offset="0.4625" stop-color="#8ac87a"/><stop offset="0.4688" stop-color="#86c783"/><stop offset="0.4750" stop-color="#83c78c"/><stop offset="0.4813" stop-color="#7fc695"/><stop offset="0.4875" stop-color="#7bc69e"/><stop offset="0.4938" stop-color="#77c6a6"/><stop offset="0.5000" stop-color="#72c5af"/><stop offset="0.5062" stop-color="#6ec5b8"/><stop offset="0.5125" stop-color="#6bc5c1"/><stop offset="0.5188" stop-color="#68c4ca"/><stop offset="0.5250" stop-color="#65c4d3"/><stop offset="0.5312" stop-color="#60c4db"/><stop offset="0.5375" stop-color="#57c2de"/><stop offset="0.5437" stop-color="#4ec0e1"/><stop offset="0.5500" stop-color="#45bee4"/><stop offset="0.5563" stop-color="#3cbce7"/><stop offset="0.5625" stop-color="#33baea"/><stop offset="0.5687" stop-color="#2eb8eb"/><stop offset="0.5750" stop-color="#31b3e7"/><stop offset="0.5813" stop-color="#34aee3"/><stop offset="0.5875" stop-color="#38a8df"/><stop offset="0.5938" stop-color="#3ba3db"/><stop offset="0.6000" stop-color="#3d9ed7"/><stop offset="0.6062" stop-color="#3c97d2"/><stop offset="0.6125" stop-color="#3b91ce"/><stop offset="0.6188" stop-color="#3a8bcb"/><stop offset="0.6250" stop-color="#3b86c7"/><stop offset="0.6312" stop-color="#3c80c4"/><stop offset="0.6375" stop-color="#3d7bc1"/><stop offset="0.6438" stop-color="#3d75bd"/><stop offset="0.6500" stop-color="#3c70b9"/><stop offset="0.6562" stop-color="#3c6ab5"/><stop offset="0.6625" stop-color="#3c65b1"/><stop offset="0.6687" stop-color="#3b62af"/><stop offset="0.6750" stop-color="#3b5fad"/><stop offset="0.6813" stop-color="#3b5cab"/><stop offset="0.6875" stop-color="#3a5aa9"/><stop offset="0.6937" stop-color="#3a57a7"/><stop offset="0.7000" stop-color="#3a56a6"/><stop offset="0.7063" stop-color="#3954a5"/><stop offset="0.7125" stop-color="#3953a4"/><stop offset="0.7188" stop-color="#3b53a4"/><stop offset="0.7250" stop-color="#3d53a4"/><stop offset="0.7312" stop-color="#3f52a5"/><stop offset="0.7375" stop-color="#4152a5"/><stop offset="0.7438" stop-color="#4352a5"/><stop offset="0.7500" stop-color="#4552a5"/><stop offset="0.7562" stop-color="#4752a5"/><stop offset="0.7625" stop-color="#4a51a4"/><stop offset="0.7688" stop-color="#4c51a4"/><stop offset="0.7750" stop-color="#4e51a4"/><stop offset="0.7812" stop-color="#5151a4"/><stop offset="0.7875" stop-color="#5351a4"/><stop offset="0.7937" stop-color="#5550a3"/><stop offset="0.8000" stop-color="#5750a3"/><stop offset="0.8063" stop-color="#5950a3"/><stop offset="0.8125" stop-color="#5c50a3"/><stop offset="0.8187" stop-color="#5f50a3"/><stop offset="0.8250" stop-color="#624fa2"/><stop offset="0.8313" stop-color="#654fa2"/><stop offset="0.8375" stop-color="#684fa2"/><stop offset="0.8438" stop-color="#6b4fa2"/><stop offset="0.8500" stop-color="#6e4fa2"/><stop offset="0.8562" stop-color="#714fa2"/><stop offset="0.8625" stop-color="#744fa1"/><stop offset="0.8688" stop-color="#774fa1"/><stop offset="0.8750" stop-color="#7b4fa1"/><stop offset="0.8812" stop-color="#7e4fa1"/><stop offset="0.8875" stop-color="#814fa1"/><stop offset="0.8938" stop-color="#854fa0"/><stop offset="0.9000" stop-color="#884fa0"/><stop offset="0.9062" stop-color="#8c4fa0"/><stop offset="0.9125" stop-color="#8e4fa0"/><stop offset="0.9187" stop-color="#914fa0"/><stop offset="0.9250" stop-color="#944fa0"/><stop offset="0.9313" stop-color="#974fa0"/><stop offset="0.9375" stop-color="#9a4fa0"/><stop offset="0.9437" stop-color="#9d4fa0"/><stop offset="0.9500" stop-color="#a14fa0"/><stop offset="0.9563" stop-color="#a54ea0"/><stop offset="0.9625" stop-color="#a94ea0"/><stop offset="0.9688" stop-color="#af4f9f"/><stop offset="0.9750" stop-color="#b5509f"/><stop offset="0.9812" stop-color="#b5509f"/><stop offset="0.9875" stop-color="#8b4ba0"/><stop offset="0.9938" stop-color="#8b4ba0"/><stop offset="1.0000" stop-color="#8b4ba0"/></linearGradient></defs><line x1="172" y1="54.8" x2="186" y2="54.8" stroke="#000" stroke-width="2"/>
<line x1="172" y1="115.3" x2="186" y2="115.3" stroke="#000" stroke-width="2"/>
<line x1="172" y1="176.6" x2="186" y2="176.6" stroke="#000" stroke-width="2"/>
<line x1="172" y1="237.6" x2="186" y2="237.6" stroke="#000" stroke-width="2"/>
<line x1="172" y1="298.6" x2="186" y2="298.6" stroke="#000" stroke-width="2"/>
<line x1="172" y1="359.6" x2="186" y2="359.6" stroke="#000" stroke-width="2"/>
<line x1="375" y1="361.5" x2="375" y2="347.5" stroke="#000" stroke-width="2"/>
<line x1="579" y1="361.5" x2="579" y2="347.5" stroke="#000" stroke-width="2"/>
<rect x="171" y="46" width="612" height="315.5" fill="none" stroke="#000" stroke-width="2"/>
<rect x="789.1" y="47.3" width="33.8" height="313.7" fill="url(#gbwr)" stroke="#000" stroke-width="1.6"/>
<text transform="translate(842.8,65) scale(1,1.06)" text-anchor="start" font-size="51">0.3</text>
<text transform="translate(842.8,221.5) scale(1,1.06)" text-anchor="start" font-size="51">0.0</text>
<text transform="translate(842.8,376) scale(1,1.06)" text-anchor="start" font-size="51">-0.3</text>
<text transform="translate(153.4,71) scale(1,1.06)" text-anchor="end" font-size="51">68</text>
<text transform="translate(153.4,131.5) scale(1,1.06)" text-anchor="end" font-size="51">180</text>
<text transform="translate(153.4,192.8) scale(1,1.06)" text-anchor="end" font-size="51">292</text>
<text transform="translate(153.4,253.8) scale(1,1.06)" text-anchor="end" font-size="51">404</text>
<text transform="translate(153.4,314.8) scale(1,1.06)" text-anchor="end" font-size="51">516</text>
<text transform="translate(153.4,375.8) scale(1,1.06)" text-anchor="end" font-size="51">628</text>
<rect x="174" y="49" width="88" height="73" fill="#F2EA16"/>
<text x="215" y="89.9" text-anchor="middle" font-size="29" font-family="Liberation Sans,Arial,sans-serif" font-weight="bold">A</text>
<line x1="172" y1="408.8" x2="186" y2="408.8" stroke="#000" stroke-width="2"/>
<line x1="172" y1="469.1" x2="186" y2="469.1" stroke="#000" stroke-width="2"/>
<line x1="172" y1="529.4" x2="186" y2="529.4" stroke="#000" stroke-width="2"/>
<line x1="172" y1="590" x2="186" y2="590" stroke="#000" stroke-width="2"/>
<line x1="172" y1="650.3" x2="186" y2="650.3" stroke="#000" stroke-width="2"/>
<line x1="172" y1="710.3" x2="186" y2="710.3" stroke="#000" stroke-width="2"/>
<line x1="375" y1="711.5" x2="375" y2="697.5" stroke="#000" stroke-width="2"/>
<line x1="579" y1="711.5" x2="579" y2="697.5" stroke="#000" stroke-width="2"/>
<rect x="171" y="399.5" width="612" height="312" fill="none" stroke="#000" stroke-width="2"/>
<rect x="789.1" y="401.7" width="33.8" height="311.5" fill="url(#gbwr)" stroke="#000" stroke-width="1.6"/>
<text transform="translate(842.8,420.5) scale(1,1.06)" text-anchor="start" font-size="51">0.3</text>
<text transform="translate(842.8,576.5) scale(1,1.06)" text-anchor="start" font-size="51">0.0</text>
<text transform="translate(842.8,731) scale(1,1.06)" text-anchor="start" font-size="51">-0.3</text>
<text transform="translate(153.4,425) scale(1,1.06)" text-anchor="end" font-size="51">68</text>
<text transform="translate(153.4,485.3) scale(1,1.06)" text-anchor="end" font-size="51">180</text>
<text transform="translate(153.4,545.6) scale(1,1.06)" text-anchor="end" font-size="51">292</text>
<text transform="translate(153.4,606.2) scale(1,1.06)" text-anchor="end" font-size="51">404</text>
<text transform="translate(153.4,666.5) scale(1,1.06)" text-anchor="end" font-size="51">516</text>
<text transform="translate(153.4,726.5) scale(1,1.06)" text-anchor="end" font-size="51">628</text>
<rect x="172.2" y="403.8" width="84.1" height="73.1" fill="#F2EA16"/>
<text x="215.5" y="444.2" text-anchor="middle" font-size="29" font-family="Liberation Sans,Arial,sans-serif" font-weight="bold">B</text>
<line x1="172" y1="759.6" x2="186" y2="759.6" stroke="#000" stroke-width="2"/>
<line x1="172" y1="820.6" x2="186" y2="820.6" stroke="#000" stroke-width="2"/>
<line x1="172" y1="881.6" x2="186" y2="881.6" stroke="#000" stroke-width="2"/>
<line x1="172" y1="942.2" x2="186" y2="942.2" stroke="#000" stroke-width="2"/>
<line x1="172" y1="1003.4" x2="186" y2="1003.4" stroke="#000" stroke-width="2"/>
<line x1="172" y1="1064" x2="186" y2="1064" stroke="#000" stroke-width="2"/>
<line x1="375" y1="1064.5" x2="375" y2="1050.5" stroke="#000" stroke-width="2"/>
<line x1="579" y1="1064.5" x2="579" y2="1050.5" stroke="#000" stroke-width="2"/>
<rect x="171" y="752.5" width="612" height="312" fill="none" stroke="#000" stroke-width="2"/>
<rect x="789.1" y="752.8" width="33.8" height="310" fill="url(#gbwr)" stroke="#000" stroke-width="1.6"/>
<text transform="translate(842.8,773) scale(1,1.06)" text-anchor="start" font-size="51">0.05</text>
<text transform="translate(842.8,925.5) scale(1,1.06)" text-anchor="start" font-size="51">0.00</text>
<text transform="translate(842.8,1077) scale(1,1.06)" text-anchor="start" font-size="51">-0.05</text>
<text transform="translate(153.4,775.8) scale(1,1.06)" text-anchor="end" font-size="51">68</text>
<text transform="translate(153.4,836.8) scale(1,1.06)" text-anchor="end" font-size="51">180</text>
<text transform="translate(153.4,897.8) scale(1,1.06)" text-anchor="end" font-size="51">292</text>
<text transform="translate(153.4,958.4) scale(1,1.06)" text-anchor="end" font-size="51">404</text>
<text transform="translate(153.4,1019.6) scale(1,1.06)" text-anchor="end" font-size="51">516</text>
<text transform="translate(153.4,1080.2) scale(1,1.06)" text-anchor="end" font-size="51">628</text>
<rect x="173" y="750" width="84.3" height="72.8" fill="#F2EA16"/>
<text x="216" y="789" text-anchor="middle" font-size="29" font-family="Liberation Sans,Arial,sans-serif" font-weight="bold">C</text>
<text transform="translate(434,39.1) scale(1,1.06)" text-anchor="start" font-size="51">u (m/s)</text>
<text transform="translate(432,390.8) scale(1,1.06)" text-anchor="start" font-size="51">v (m/s)</text>
<text transform="translate(433,742.1) scale(1,1.06)" text-anchor="start" font-size="51">w (m/s)</text>
<text transform="translate(37.1,311.5) rotate(-90) scale(1.02,1.06)" font-size="51">Depth (m)</text>
<text transform="translate(39.7,675.2) rotate(-90) scale(1.02,1.06)" font-size="51">Depth (m)</text>
<text transform="translate(46.7,1028.4) rotate(-90) scale(1.02,1.06)" font-size="51">Depth (m)</text>
<text transform="translate(171,1120.5) scale(1,1.06)" text-anchor="middle" font-size="51">18:00</text>
<text transform="translate(375,1120.5) scale(1,1.06)" text-anchor="middle" font-size="51">19:00</text>
<text transform="translate(579,1120.5) scale(1,1.06)" text-anchor="middle" font-size="51">20:00</text>
<text transform="translate(783,1120.5) scale(1,1.06)" text-anchor="middle" font-size="51">21:00</text>
<text transform="translate(479.6,1172) scale(1,1.06)" text-anchor="middle" font-size="51">Time from 2020/9/1 18:00:00 (hour)</text>
<line x1="1187" y1="128.34" x2="1201" y2="128.34" stroke="#000" stroke-width="2"/>
<line x1="1187" y1="169.56" x2="1201" y2="169.56" stroke="#000" stroke-width="2"/>
<line x1="1187" y1="210.78" x2="1201" y2="210.78" stroke="#000" stroke-width="2"/>
<line x1="1187" y1="252" x2="1201" y2="252" stroke="#000" stroke-width="2"/>
<line x1="1187" y1="293.22" x2="1201" y2="293.22" stroke="#000" stroke-width="2"/>
<line x1="1187" y1="334.44" x2="1201" y2="334.44" stroke="#000" stroke-width="2"/>
<line x1="1187" y1="375.66" x2="1201" y2="375.66" stroke="#000" stroke-width="2"/>
<line x1="1187" y1="416.88" x2="1201" y2="416.88" stroke="#000" stroke-width="2"/>
<line x1="1187" y1="458.1" x2="1201" y2="458.1" stroke="#000" stroke-width="2"/>
<line x1="1187" y1="499.32" x2="1201" y2="499.32" stroke="#000" stroke-width="2"/>
<line x1="1237.6" y1="536.9" x2="1237.6" y2="522.9" stroke="#000" stroke-width="2"/>
<line x1="1339.6" y1="536.9" x2="1339.6" y2="522.9" stroke="#000" stroke-width="2"/>
<line x1="1441.6" y1="536.9" x2="1441.6" y2="522.9" stroke="#000" stroke-width="2"/>
<line x1="1543.6" y1="536.9" x2="1543.6" y2="522.9" stroke="#000" stroke-width="2"/>
<line x1="1645.6" y1="536.9" x2="1645.6" y2="522.9" stroke="#000" stroke-width="2"/>
<line x1="1747.6" y1="536.9" x2="1747.6" y2="522.9" stroke="#000" stroke-width="2"/>
<text transform="translate(1169.6,103.32) scale(1,1.06)" text-anchor="end" font-size="51">50</text>
<text transform="translate(1169.6,144.54) scale(1,1.06)" text-anchor="end" font-size="51">100</text>
<text transform="translate(1169.6,185.76) scale(1,1.06)" text-anchor="end" font-size="51">150</text>
<text transform="translate(1169.6,226.98) scale(1,1.06)" text-anchor="end" font-size="51">200</text>
<text transform="translate(1169.6,268.2) scale(1,1.06)" text-anchor="end" font-size="51">250</text>
<text transform="translate(1169.6,309.42) scale(1,1.06)" text-anchor="end" font-size="51">300</text>
<text transform="translate(1169.6,350.64) scale(1,1.06)" text-anchor="end" font-size="51">350</text>
<text transform="translate(1169.6,391.86) scale(1,1.06)" text-anchor="end" font-size="51">400</text>
<text transform="translate(1169.6,433.08) scale(1,1.06)" text-anchor="end" font-size="51">450</text>
<text transform="translate(1169.6,474.3) scale(1,1.06)" text-anchor="end" font-size="51">500</text>
<text transform="translate(1169.6,515.52) scale(1,1.06)" text-anchor="end" font-size="51">550</text>
<line x1="1187" y1="665.56" x2="1201" y2="665.56" stroke="#000" stroke-width="2"/>
<line x1="1187" y1="706.74" x2="1201" y2="706.74" stroke="#000" stroke-width="2"/>
<line x1="1187" y1="747.92" x2="1201" y2="747.92" stroke="#000" stroke-width="2"/>
<line x1="1187" y1="789.1" x2="1201" y2="789.1" stroke="#000" stroke-width="2"/>
<line x1="1187" y1="830.28" x2="1201" y2="830.28" stroke="#000" stroke-width="2"/>
<line x1="1187" y1="871.46" x2="1201" y2="871.46" stroke="#000" stroke-width="2"/>
<line x1="1187" y1="912.64" x2="1201" y2="912.64" stroke="#000" stroke-width="2"/>
<line x1="1187" y1="953.82" x2="1201" y2="953.82" stroke="#000" stroke-width="2"/>
<line x1="1187" y1="995" x2="1201" y2="995" stroke="#000" stroke-width="2"/>
<line x1="1187" y1="1036.18" x2="1201" y2="1036.18" stroke="#000" stroke-width="2"/>
<line x1="1237.6" y1="1075.5" x2="1237.6" y2="1061.5" stroke="#000" stroke-width="2"/>
<line x1="1339.6" y1="1075.5" x2="1339.6" y2="1061.5" stroke="#000" stroke-width="2"/>
<line x1="1441.6" y1="1075.5" x2="1441.6" y2="1061.5" stroke="#000" stroke-width="2"/>
<line x1="1543.6" y1="1075.5" x2="1543.6" y2="1061.5" stroke="#000" stroke-width="2"/>
<line x1="1645.6" y1="1075.5" x2="1645.6" y2="1061.5" stroke="#000" stroke-width="2"/>
<line x1="1747.6" y1="1075.5" x2="1747.6" y2="1061.5" stroke="#000" stroke-width="2"/>
<text transform="translate(1169.6,640.58) scale(1,1.06)" text-anchor="end" font-size="51">50</text>
<text transform="translate(1169.6,681.76) scale(1,1.06)" text-anchor="end" font-size="51">100</text>
<text transform="translate(1169.6,722.94) scale(1,1.06)" text-anchor="end" font-size="51">150</text>
<text transform="translate(1169.6,764.12) scale(1,1.06)" text-anchor="end" font-size="51">200</text>
<text transform="translate(1169.6,805.3) scale(1,1.06)" text-anchor="end" font-size="51">250</text>
<text transform="translate(1169.6,846.48) scale(1,1.06)" text-anchor="end" font-size="51">300</text>
<text transform="translate(1169.6,887.66) scale(1,1.06)" text-anchor="end" font-size="51">350</text>
<text transform="translate(1169.6,928.84) scale(1,1.06)" text-anchor="end" font-size="51">400</text>
<text transform="translate(1169.6,970.02) scale(1,1.06)" text-anchor="end" font-size="51">450</text>
<text transform="translate(1169.6,1011.2) scale(1,1.06)" text-anchor="end" font-size="51">500</text>
<text transform="translate(1169.6,1052.38) scale(1,1.06)" text-anchor="end" font-size="51">550</text>
<polyline points="1186,153.2 1256,153.2 1269.4,160.3 1287.3,162.9 1304,161.1 1319.4,153.4 1339.9,151.4 1350.2,145 1392.5,136 1441.3,130.8 1492,128.6 1543.4,143.9 1595.9,136.2 1646.2,137.3 1696.5,142.3 1746.8,146.1 1798.2,152.6" fill="none" stroke="#404040" stroke-width="4.2" stroke-linejoin="round"/>
<polyline points="1186,191.1 1236,190.3 1269.4,202.7 1287.3,205.2 1320.7,200.1 1341.2,197 1364.3,195 1390,189.3 1441.3,191.1 1461.8,186 1480,180 1515,170.1 1543.4,166.8 1595.9,165.3 1646.2,159.2 1696.5,164.2 1746.8,175.6 1798.2,182.1" fill="none" stroke="#404040" stroke-width="4.2" stroke-linejoin="round"/>
<polyline points="1186,243.7 1236,238.6 1269.4,246.3 1287.3,249.4 1333.5,242.4 1341.2,239.9 1397.6,236 1451.5,225.8 1492,216 1508.4,219.8 1513.9,227.6 1543.4,229.8 1595.9,230.3 1646.2,239 1672.4,235.7 1696.5,229.2 1746.8,238.6 1798.2,241.2" fill="none" stroke="#404040" stroke-width="4.2" stroke-linejoin="round"/>
<polyline points="1186.5,369.8 1238.2,369.4 1286.7,377.8 1338.4,378.5 1390.1,383.3 1416,375.3 1441.8,370.4 1487.1,375.3 1492,379.1 1506.5,375.3 1543.6,371.4 1555,367.2 1585.7,359.1 1595.4,352 1635.8,359.7 1647.1,367.8 1671.3,375.3 1697.2,378.5 1748.9,381.1 1797.4,380.1" fill="none" stroke="#404040" stroke-width="4.2" stroke-linejoin="round"/>
<polyline points="1186.5,504.5 1231.7,498.7 1238.2,496.5 1286.7,504.5 1338.4,504.5 1364.2,515.9 1386.9,523.9 1391.7,528.8 1393.3,533.6 1477.4,533.6 1495.2,523.9 1501.6,514.9 1535.6,498.1 1543.6,489.4 1595.4,489.4 1627.7,498.7 1645.5,510.4 1697.2,514.2 1729.5,506.2 1779.6,499 1797.4,490.6" fill="none" stroke="#404040" stroke-width="4.2" stroke-linejoin="round"/>
<rect x="1186.5" y="54.6" width="612.5" height="483.2" fill="none" stroke="#000" stroke-width="2"/>
<rect x="1186.5" y="592.3" width="612.5" height="483.2" fill="none" stroke="#000" stroke-width="2"/>
<rect x="1272" y="54.4" width="44.6" height="481" fill="none" stroke="#000" stroke-width="4"/>
<rect x="1268" y="592" width="47" height="485.5" fill="none" stroke="#000" stroke-width="4.2"/>
<rect x="1806.5" y="55.2" width="33.5" height="485" fill="url(#gjet)" stroke="#000" stroke-width="1.6"/>
<rect x="1810" y="596.3" width="33.5" height="477" fill="url(#gjetE)" stroke="#000" stroke-width="1.6"/>
<rect x="1809.2" y="1072.8" width="35.1" height="5.7" fill="#000"/>
<text transform="translate(1858.8,77.8) scale(1,1.06)" text-anchor="start" font-size="51">30.1</text>
<text transform="translate(1858.8,137.7) scale(1,1.06)" text-anchor="start" font-size="51">27.2</text>
<text transform="translate(1858.8,197.6) scale(1,1.06)" text-anchor="start" font-size="51">24.3</text>
<text transform="translate(1858.8,257.5) scale(1,1.06)" text-anchor="start" font-size="51">21.4</text>
<text transform="translate(1858.8,317.4) scale(1,1.06)" text-anchor="start" font-size="51">18.5</text>
<text transform="translate(1858.8,377.3) scale(1,1.06)" text-anchor="start" font-size="51">15.6</text>
<text transform="translate(1858.8,437.2) scale(1,1.06)" text-anchor="start" font-size="51">12.7</text>
<text transform="translate(1858.8,497.1) scale(1,1.06)" text-anchor="start" font-size="51">9.8</text>
<text transform="translate(1858.8,557) scale(1,1.06)" text-anchor="start" font-size="51">6.9</text>
<text transform="translate(1862.6,617.8) scale(1,1.06)" text-anchor="start" font-size="51">5.5</text>
<text transform="translate(1862.6,676.95) scale(1,1.06)" text-anchor="start" font-size="51">5.3</text>
<text transform="translate(1862.6,736.1) scale(1,1.06)" text-anchor="start" font-size="51">5.0</text>
<text transform="translate(1862.6,795.25) scale(1,1.06)" text-anchor="start" font-size="51">4.8</text>
<text transform="translate(1862.6,854.4) scale(1,1.06)" text-anchor="start" font-size="51">4.5</text>
<text transform="translate(1862.6,913.55) scale(1,1.06)" text-anchor="start" font-size="51">4.3</text>
<text transform="translate(1862.6,972.7) scale(1,1.06)" text-anchor="start" font-size="51">4.0</text>
<text transform="translate(1862.6,1031.85) scale(1,1.06)" text-anchor="start" font-size="51">3.8</text>
<text transform="translate(1862.6,1091) scale(1,1.06)" text-anchor="start" font-size="51">3.5</text>
<rect x="1182.1" y="54.6" width="87.8" height="71.9" fill="#F2EA16"/>
<text x="1220.2" y="96.9" text-anchor="middle" font-size="29" font-family="Liberation Sans,Arial,sans-serif" font-weight="bold">D</text>
<rect x="1183.5" y="587.5" width="81" height="72.5" fill="#F2EA16"/>
<text x="1218.8" y="630.3" text-anchor="middle" font-size="29" font-family="Liberation Sans,Arial,sans-serif" font-weight="bold">E</text>
<text transform="translate(1303,36.4) scale(1,1.06)" text-anchor="start" font-size="51">Temperature (°C)</text>
<text transform="translate(1245.4,583.6) scale(1,1.06)" font-size="51">Turbidity (<tspan dx="4.5">×</tspan><tspan dx="3">10</tspan><tspan dy="-18" font-size="34">-4</tspan><tspan dy="18" dx="0.8">m</tspan><tspan dy="-18" dx="0.7" font-size="34">-1</tspan><tspan dy="18">/sr)</tspan></text>
<text transform="translate(1072.5,405.6) rotate(-90) scale(1.02,1.06)" font-size="51">Depth (m)</text>
<text transform="translate(1072.5,942) rotate(-90) scale(1.02,1.06)" font-size="51">Depth (m)</text>
<text transform="translate(1237.6,1131.5) scale(1,1.06)" text-anchor="middle" font-size="51">2</text>
<text transform="translate(1339.6,1131.5) scale(1,1.06)" text-anchor="middle" font-size="51">6</text>
<text transform="translate(1441.6,1131.5) scale(1,1.06)" text-anchor="middle" font-size="51">10</text>
<text transform="translate(1543.6,1131.5) scale(1,1.06)" text-anchor="middle" font-size="51">14</text>
<text transform="translate(1645.6,1131.5) scale(1,1.06)" text-anchor="middle" font-size="51">18</text>
<text transform="translate(1747.6,1131.5) scale(1,1.06)" text-anchor="middle" font-size="51">22</text>
<text transform="translate(1329.3,1177.9) scale(1,1.06)" text-anchor="start" font-size="51">Time (hour)</text></svg>
</body></html>
